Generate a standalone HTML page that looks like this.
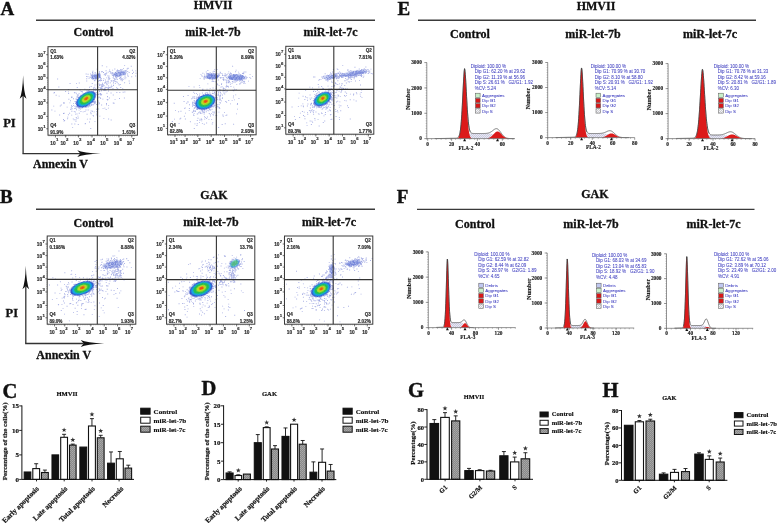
<!DOCTYPE html>
<html><head><meta charset="utf-8"><title>Figure</title>
<style>html,body{margin:0;padding:0;background:#fff;width:778px;height:523px;overflow:hidden}svg{display:block;filter:blur(0.35px)}</style>
</head><body>
<svg width="778" height="523" viewBox="0 0 778 523">
<rect width="778" height="523" fill="#fff"/>
<defs><filter id="bl1" x="-50%" y="-50%" width="200%" height="200%"><feGaussianBlur stdDeviation="0.65"/></filter><filter id="bl05"><feGaussianBlur stdDeviation="0.4"/></filter></defs>
<text x="0.5" y="15.2" font-family="'Liberation Serif', serif" font-size="19" font-weight="bold" fill="#111" text-anchor="start" stroke="#111" stroke-width="0.4">A</text>
<text x="213.0" y="9.3" font-family="'Liberation Serif', serif" font-size="12" font-weight="bold" fill="#111" text-anchor="middle" stroke="#111" stroke-width="0.3">HMVII</text>
<line x1="36.00" y1="20.20" x2="375.00" y2="20.20" stroke="#3a3a3a" stroke-width="1.4" />
<text x="93.5" y="36.3" font-family="'Liberation Serif', serif" font-size="12" font-weight="bold" fill="#111" text-anchor="middle" stroke="#111" stroke-width="0.3">Control</text>
<text x="213.0" y="36.3" font-family="'Liberation Serif', serif" font-size="12" font-weight="bold" fill="#111" text-anchor="middle" stroke="#111" stroke-width="0.3">miR-let-7b</text>
<text x="330.5" y="36.3" font-family="'Liberation Serif', serif" font-size="12" font-weight="bold" fill="#111" text-anchor="middle" stroke="#111" stroke-width="0.3">miR-let-7c</text>
<g>
<path d="M86.5 96.0h.9v.9h-.9zM90.2 95.5h.9v.9h-.9zM86.7 96.4h.9v.9h-.9zM77.0 102.1h.9v.9h-.9zM91.4 96.2h.9v.9h-.9zM87.8 96.6h.9v.9h-.9zM86.4 106.2h.9v.9h-.9zM89.3 97.0h.9v.9h-.9zM88.8 99.0h.9v.9h-.9zM89.9 101.3h.9v.9h-.9zM85.5 98.2h.9v.9h-.9zM92.4 102.0h.9v.9h-.9zM80.4 100.1h.9v.9h-.9zM83.2 97.2h.9v.9h-.9zM82.4 100.0h.9v.9h-.9zM89.1 96.6h.9v.9h-.9zM82.9 94.4h.9v.9h-.9zM84.3 100.3h.9v.9h-.9zM77.7 96.8h.9v.9h-.9zM87.8 105.0h.9v.9h-.9zM85.9 99.0h.9v.9h-.9zM82.9 98.2h.9v.9h-.9zM91.1 91.2h.9v.9h-.9zM90.7 94.1h.9v.9h-.9zM70.3 109.2h.9v.9h-.9zM73.0 103.2h.9v.9h-.9zM82.9 96.9h.9v.9h-.9zM83.2 100.3h.9v.9h-.9zM86.0 96.7h.9v.9h-.9zM89.4 101.6h.9v.9h-.9zM100.5 94.8h.9v.9h-.9zM79.8 103.7h.9v.9h-.9zM85.0 102.4h.9v.9h-.9zM94.3 86.8h.9v.9h-.9zM91.1 98.9h.9v.9h-.9zM89.6 96.6h.9v.9h-.9zM84.3 102.9h.9v.9h-.9zM80.5 111.1h.9v.9h-.9zM81.6 91.0h.9v.9h-.9zM87.2 99.7h.9v.9h-.9zM76.5 100.4h.9v.9h-.9zM83.6 104.0h.9v.9h-.9zM82.5 95.2h.9v.9h-.9zM79.5 101.3h.9v.9h-.9zM85.9 100.4h.9v.9h-.9zM88.0 101.0h.9v.9h-.9zM86.4 99.4h.9v.9h-.9zM81.3 98.6h.9v.9h-.9zM88.0 95.1h.9v.9h-.9zM93.1 98.8h.9v.9h-.9zM87.8 98.0h.9v.9h-.9zM77.5 96.9h.9v.9h-.9zM92.1 99.3h.9v.9h-.9zM84.2 102.7h.9v.9h-.9zM93.0 98.8h.9v.9h-.9zM79.2 102.4h.9v.9h-.9zM93.1 98.5h.9v.9h-.9zM83.4 95.8h.9v.9h-.9zM80.3 106.1h.9v.9h-.9zM83.1 98.9h.9v.9h-.9zM87.9 101.4h.9v.9h-.9zM89.9 101.6h.9v.9h-.9zM78.8 100.7h.9v.9h-.9zM79.7 103.5h.9v.9h-.9zM87.2 98.6h.9v.9h-.9zM86.2 105.1h.9v.9h-.9zM89.0 100.8h.9v.9h-.9zM87.4 92.2h.9v.9h-.9zM77.8 107.3h.9v.9h-.9zM89.2 100.8h.9v.9h-.9zM97.9 101.6h.9v.9h-.9zM80.4 94.8h.9v.9h-.9zM80.2 100.7h.9v.9h-.9zM93.4 100.8h.9v.9h-.9zM84.2 93.8h.9v.9h-.9zM88.2 91.8h.9v.9h-.9zM85.3 102.4h.9v.9h-.9zM80.1 108.5h.9v.9h-.9zM83.8 97.5h.9v.9h-.9zM84.8 102.9h.9v.9h-.9zM90.6 96.7h.9v.9h-.9zM90.7 103.6h.9v.9h-.9zM76.9 105.7h.9v.9h-.9zM81.6 107.3h.9v.9h-.9zM88.8 92.8h.9v.9h-.9zM89.4 96.0h.9v.9h-.9zM82.2 101.5h.9v.9h-.9zM88.7 103.1h.9v.9h-.9zM89.9 99.5h.9v.9h-.9zM86.9 94.9h.9v.9h-.9zM92.5 98.2h.9v.9h-.9zM89.2 100.9h.9v.9h-.9zM85.2 99.3h.9v.9h-.9zM83.9 99.5h.9v.9h-.9zM91.5 94.5h.9v.9h-.9zM69.4 102.4h.9v.9h-.9zM85.7 100.5h.9v.9h-.9zM86.7 100.0h.9v.9h-.9zM76.0 102.0h.9v.9h-.9zM89.6 100.5h.9v.9h-.9zM79.1 97.2h.9v.9h-.9zM89.5 94.1h.9v.9h-.9zM84.2 98.2h.9v.9h-.9zM94.4 103.3h.9v.9h-.9zM89.1 89.1h.9v.9h-.9zM89.5 99.7h.9v.9h-.9zM83.3 105.9h.9v.9h-.9zM78.4 106.5h.9v.9h-.9zM98.6 96.4h.9v.9h-.9zM83.0 96.4h.9v.9h-.9zM76.8 94.3h.9v.9h-.9zM88.6 101.3h.9v.9h-.9zM82.1 96.0h.9v.9h-.9zM90.0 94.9h.9v.9h-.9zM83.4 95.2h.9v.9h-.9zM88.6 102.8h.9v.9h-.9zM84.0 105.0h.9v.9h-.9zM86.9 95.0h.9v.9h-.9zM82.3 106.4h.9v.9h-.9zM90.0 97.1h.9v.9h-.9zM94.2 92.9h.9v.9h-.9zM77.6 105.5h.9v.9h-.9zM71.7 108.3h.9v.9h-.9zM90.9 98.9h.9v.9h-.9zM101.0 90.3h.9v.9h-.9zM79.6 102.1h.9v.9h-.9zM81.4 107.6h.9v.9h-.9zM87.9 94.9h.9v.9h-.9zM82.0 103.6h.9v.9h-.9zM84.2 102.7h.9v.9h-.9zM87.5 105.6h.9v.9h-.9zM87.8 95.5h.9v.9h-.9zM87.8 106.7h.9v.9h-.9zM88.0 98.8h.9v.9h-.9zM84.6 99.3h.9v.9h-.9zM79.7 100.4h.9v.9h-.9zM85.6 102.5h.9v.9h-.9zM80.8 103.2h.9v.9h-.9zM83.4 95.6h.9v.9h-.9zM77.1 99.9h.9v.9h-.9zM78.6 101.7h.9v.9h-.9zM92.6 91.3h.9v.9h-.9zM88.3 103.2h.9v.9h-.9zM88.9 104.1h.9v.9h-.9zM90.9 100.2h.9v.9h-.9zM84.5 102.2h.9v.9h-.9zM83.7 98.8h.9v.9h-.9zM88.5 97.8h.9v.9h-.9zM89.7 101.2h.9v.9h-.9zM84.5 111.0h.9v.9h-.9zM92.8 99.1h.9v.9h-.9zM82.0 100.7h.9v.9h-.9zM80.2 103.6h.9v.9h-.9zM79.8 101.2h.9v.9h-.9zM82.0 98.2h.9v.9h-.9zM94.7 92.3h.9v.9h-.9zM79.9 104.6h.9v.9h-.9zM91.2 104.8h.9v.9h-.9zM74.1 107.9h.9v.9h-.9zM89.2 103.9h.9v.9h-.9zM95.2 101.7h.9v.9h-.9zM84.9 100.5h.9v.9h-.9zM86.3 107.2h.9v.9h-.9zM89.0 100.8h.9v.9h-.9zM88.9 95.2h.9v.9h-.9zM90.3 97.6h.9v.9h-.9zM97.1 91.6h.9v.9h-.9zM86.6 97.7h.9v.9h-.9zM82.2 101.0h.9v.9h-.9zM85.6 100.3h.9v.9h-.9zM86.6 101.0h.9v.9h-.9zM84.5 95.9h.9v.9h-.9zM85.8 99.4h.9v.9h-.9zM83.4 93.5h.9v.9h-.9zM77.3 106.7h.9v.9h-.9zM92.1 98.1h.9v.9h-.9zM83.2 102.1h.9v.9h-.9zM80.1 104.9h.9v.9h-.9zM91.0 98.8h.9v.9h-.9zM91.8 91.9h.9v.9h-.9zM88.2 96.6h.9v.9h-.9zM88.1 100.4h.9v.9h-.9zM83.1 106.3h.9v.9h-.9zM103.0 89.4h.9v.9h-.9zM96.9 104.4h.9v.9h-.9zM79.4 103.5h.9v.9h-.9zM84.0 105.7h.9v.9h-.9zM89.5 103.2h.9v.9h-.9zM77.0 105.0h.9v.9h-.9zM85.0 95.9h.9v.9h-.9zM80.6 97.1h.9v.9h-.9zM93.3 95.0h.9v.9h-.9zM94.0 99.3h.9v.9h-.9zM71.4 110.8h.9v.9h-.9zM86.6 99.7h.9v.9h-.9zM76.0 104.4h.9v.9h-.9zM93.5 96.8h.9v.9h-.9zM81.9 91.5h.9v.9h-.9zM89.6 97.9h.9v.9h-.9zM80.1 103.6h.9v.9h-.9zM93.0 87.5h.9v.9h-.9zM102.4 98.7h.9v.9h-.9zM76.8 98.8h.9v.9h-.9zM85.6 94.2h.9v.9h-.9zM79.4 97.9h.9v.9h-.9zM88.5 103.1h.9v.9h-.9zM76.8 101.3h.9v.9h-.9zM98.0 94.2h.9v.9h-.9zM82.0 105.1h.9v.9h-.9zM85.0 101.3h.9v.9h-.9zM85.7 92.9h.9v.9h-.9zM80.9 99.8h.9v.9h-.9zM88.6 105.9h.9v.9h-.9zM79.8 97.2h.9v.9h-.9zM83.3 97.0h.9v.9h-.9zM79.1 103.3h.9v.9h-.9zM85.4 103.7h.9v.9h-.9zM85.4 101.0h.9v.9h-.9zM85.9 103.1h.9v.9h-.9zM83.8 95.5h.9v.9h-.9zM86.6 103.6h.9v.9h-.9zM91.6 98.3h.9v.9h-.9zM80.4 95.2h.9v.9h-.9zM88.9 105.0h.9v.9h-.9zM87.7 109.6h.9v.9h-.9zM81.2 98.8h.9v.9h-.9zM79.0 104.4h.9v.9h-.9zM92.2 102.0h.9v.9h-.9zM76.1 98.8h.9v.9h-.9zM77.1 95.5h.9v.9h-.9zM85.0 93.5h.9v.9h-.9zM86.9 95.8h.9v.9h-.9zM82.4 98.9h.9v.9h-.9zM76.1 109.3h.9v.9h-.9zM89.0 98.6h.9v.9h-.9zM84.5 94.1h.9v.9h-.9zM79.4 106.7h.9v.9h-.9zM94.7 102.6h.9v.9h-.9zM84.9 106.1h.9v.9h-.9zM82.0 107.0h.9v.9h-.9zM86.6 99.0h.9v.9h-.9zM87.3 103.3h.9v.9h-.9zM84.9 95.3h.9v.9h-.9zM78.8 108.1h.9v.9h-.9zM95.9 91.9h.9v.9h-.9zM85.3 105.5h.9v.9h-.9zM78.5 106.9h.9v.9h-.9zM86.9 93.2h.9v.9h-.9zM84.3 101.1h.9v.9h-.9zM90.7 102.1h.9v.9h-.9zM81.4 96.8h.9v.9h-.9zM84.4 97.7h.9v.9h-.9zM85.6 95.8h.9v.9h-.9zM78.3 97.2h.9v.9h-.9zM92.1 99.9h.9v.9h-.9zM86.5 105.5h.9v.9h-.9zM83.0 105.4h.9v.9h-.9zM87.0 99.8h.9v.9h-.9zM88.4 97.4h.9v.9h-.9zM85.3 101.0h.9v.9h-.9zM79.4 100.2h.9v.9h-.9zM91.6 99.9h.9v.9h-.9zM78.6 109.7h.9v.9h-.9zM82.4 106.5h.9v.9h-.9zM85.0 97.4h.9v.9h-.9zM78.6 104.9h.9v.9h-.9zM85.8 98.6h.9v.9h-.9zM89.9 105.5h.9v.9h-.9zM91.5 96.4h.9v.9h-.9zM76.4 96.6h.9v.9h-.9zM83.4 103.1h.9v.9h-.9zM92.3 104.3h.9v.9h-.9zM73.8 111.2h.9v.9h-.9zM105.4 90.1h.9v.9h-.9zM82.2 102.2h.9v.9h-.9zM77.3 95.5h.9v.9h-.9zM86.6 89.8h.9v.9h-.9zM82.8 95.3h.9v.9h-.9zM75.7 105.9h.9v.9h-.9zM90.2 97.9h.9v.9h-.9zM92.4 98.3h.9v.9h-.9zM82.7 99.9h.9v.9h-.9zM86.7 103.6h.9v.9h-.9zM88.1 96.5h.9v.9h-.9zM79.3 100.5h.9v.9h-.9zM90.5 100.4h.9v.9h-.9zM85.0 95.4h.9v.9h-.9zM75.8 92.8h.9v.9h-.9zM75.7 101.2h.9v.9h-.9zM85.0 100.5h.9v.9h-.9zM73.9 92.4h.9v.9h-.9zM90.8 94.2h.9v.9h-.9zM86.0 97.6h.9v.9h-.9zM87.0 91.4h.9v.9h-.9zM83.3 93.8h.9v.9h-.9zM86.4 96.7h.9v.9h-.9zM80.3 100.5h.9v.9h-.9zM92.7 100.9h.9v.9h-.9zM96.9 93.6h.9v.9h-.9zM80.5 95.2h.9v.9h-.9zM71.3 114.7h.9v.9h-.9zM92.6 114.9h.9v.9h-.9zM108.9 97.5h.9v.9h-.9zM88.3 90.0h.9v.9h-.9zM87.3 104.6h.9v.9h-.9zM108.5 87.1h.9v.9h-.9zM82.7 101.5h.9v.9h-.9zM78.8 82.6h.9v.9h-.9zM63.7 102.6h.9v.9h-.9zM76.0 83.2h.9v.9h-.9zM112.8 102.5h.9v.9h-.9zM63.6 120.5h.9v.9h-.9zM83.2 102.2h.9v.9h-.9zM63.7 112.8h.9v.9h-.9zM84.8 98.4h.9v.9h-.9zM95.1 95.8h.9v.9h-.9zM79.7 89.6h.9v.9h-.9zM93.0 115.6h.9v.9h-.9zM92.9 104.3h.9v.9h-.9zM89.1 121.5h.9v.9h-.9zM106.5 92.8h.9v.9h-.9zM93.7 102.6h.9v.9h-.9zM78.8 105.7h.9v.9h-.9zM73.7 119.3h.9v.9h-.9zM71.4 123.5h.9v.9h-.9zM89.5 98.2h.9v.9h-.9zM78.6 93.2h.9v.9h-.9zM120.3 87.0h.9v.9h-.9zM108.2 118.5h.9v.9h-.9zM80.1 103.9h.9v.9h-.9zM78.5 98.2h.9v.9h-.9zM106.1 104.3h.9v.9h-.9zM57.2 78.6h.9v.9h-.9zM76.8 87.1h.9v.9h-.9zM96.0 114.4h.9v.9h-.9zM70.5 108.8h.9v.9h-.9zM76.5 106.3h.9v.9h-.9zM78.2 94.5h.9v.9h-.9zM92.0 110.8h.9v.9h-.9zM84.9 123.0h.9v.9h-.9zM88.5 92.2h.9v.9h-.9zM91.1 104.9h.9v.9h-.9zM83.4 100.3h.9v.9h-.9zM98.2 108.5h.9v.9h-.9zM73.0 104.9h.9v.9h-.9zM63.4 103.2h.9v.9h-.9zM58.7 95.7h.9v.9h-.9zM60.8 104.6h.9v.9h-.9zM75.5 98.5h.9v.9h-.9zM97.1 103.2h.9v.9h-.9zM85.4 104.1h.9v.9h-.9zM74.8 111.5h.9v.9h-.9zM68.4 98.8h.9v.9h-.9zM75.8 101.4h.9v.9h-.9zM77.5 115.7h.9v.9h-.9zM75.3 102.5h.9v.9h-.9zM63.4 102.1h.9v.9h-.9zM76.5 113.6h.9v.9h-.9zM96.9 107.5h.9v.9h-.9zM53.3 105.7h.9v.9h-.9zM79.7 107.0h.9v.9h-.9zM54.0 92.0h.9v.9h-.9zM85.5 109.5h.9v.9h-.9zM72.8 118.4h.9v.9h-.9zM54.5 110.7h.9v.9h-.9zM84.4 88.8h.9v.9h-.9zM107.9 107.7h.9v.9h-.9zM84.5 95.5h.9v.9h-.9zM98.9 102.5h.9v.9h-.9zM82.0 106.2h.9v.9h-.9zM53.5 92.6h.9v.9h-.9zM89.7 118.5h.9v.9h-.9zM77.3 104.2h.9v.9h-.9zM63.0 113.0h.9v.9h-.9zM93.7 111.4h.9v.9h-.9zM86.9 118.7h.9v.9h-.9zM75.8 117.1h.9v.9h-.9zM94.9 89.8h.9v.9h-.9zM71.1 105.3h.9v.9h-.9zM91.8 83.0h.9v.9h-.9zM70.1 100.3h.9v.9h-.9zM90.3 112.3h.9v.9h-.9zM67.9 114.3h.9v.9h-.9zM103.4 118.2h.9v.9h-.9zM86.5 101.1h.9v.9h-.9zM102.6 108.2h.9v.9h-.9zM71.7 106.0h.9v.9h-.9zM76.5 117.9h.9v.9h-.9zM94.5 121.2h.9v.9h-.9zM97.1 104.9h.9v.9h-.9zM89.4 101.2h.9v.9h-.9zM96.4 111.1h.9v.9h-.9zM78.8 112.8h.9v.9h-.9zM90.7 110.6h.9v.9h-.9zM73.0 98.3h.9v.9h-.9zM64.2 120.1h.9v.9h-.9zM59.8 105.6h.9v.9h-.9zM75.5 120.8h.9v.9h-.9zM75.5 119.3h.9v.9h-.9zM74.4 92.0h.9v.9h-.9zM55.7 94.8h.9v.9h-.9zM75.7 107.6h.9v.9h-.9zM86.9 105.6h.9v.9h-.9zM75.1 107.8h.9v.9h-.9zM71.0 96.8h.9v.9h-.9zM51.4 109.5h.9v.9h-.9zM110.7 119.5h.9v.9h-.9zM67.9 91.4h.9v.9h-.9zM106.0 103.1h.9v.9h-.9zM104.4 107.7h.9v.9h-.9zM86.7 103.8h.9v.9h-.9zM75.2 103.1h.9v.9h-.9zM84.8 123.3h.9v.9h-.9zM67.2 118.3h.9v.9h-.9zM86.6 113.8h.9v.9h-.9zM83.0 97.3h.9v.9h-.9zM90.3 128.1h.9v.9h-.9zM96.0 108.8h.9v.9h-.9zM106.7 99.2h.9v.9h-.9zM77.7 101.7h.9v.9h-.9zM97.3 100.1h.9v.9h-.9zM72.2 126.9h.9v.9h-.9zM70.8 107.3h.9v.9h-.9zM74.5 105.8h.9v.9h-.9zM69.6 83.1h.9v.9h-.9zM96.4 112.7h.9v.9h-.9zM95.6 94.3h.9v.9h-.9zM100.4 93.6h.9v.9h-.9zM82.7 111.4h.9v.9h-.9zM86.8 96.3h.9v.9h-.9zM75.1 113.7h.9v.9h-.9zM67.3 116.7h.9v.9h-.9zM89.1 86.8h.9v.9h-.9zM86.7 103.8h.9v.9h-.9zM67.9 89.0h.9v.9h-.9zM91.0 104.5h.9v.9h-.9zM59.2 114.5h.9v.9h-.9zM80.6 91.2h.9v.9h-.9zM74.4 123.6h.9v.9h-.9zM75.8 102.0h.9v.9h-.9zM68.2 93.0h.9v.9h-.9zM96.0 103.9h.9v.9h-.9zM90.7 113.3h.9v.9h-.9zM99.2 91.0h.9v.9h-.9zM84.8 105.2h.9v.9h-.9zM65.2 91.1h.9v.9h-.9zM77.8 117.5h.9v.9h-.9zM66.7 106.7h.9v.9h-.9zM89.1 100.8h.9v.9h-.9zM99.4 115.7h.9v.9h-.9zM87.3 91.9h.9v.9h-.9zM74.6 101.1h.9v.9h-.9zM77.8 124.0h.9v.9h-.9zM85.6 103.8h.9v.9h-.9zM63.0 119.0h.9v.9h-.9zM84.8 107.1h.9v.9h-.9zM85.5 97.9h.9v.9h-.9zM75.3 102.6h.9v.9h-.9zM77.1 105.9h.9v.9h-.9zM85.1 100.9h.9v.9h-.9zM71.5 96.6h.9v.9h-.9zM71.5 97.1h.9v.9h-.9zM93.4 89.9h.9v.9h-.9zM85.8 106.2h.9v.9h-.9zM105.7 109.1h.9v.9h-.9zM69.2 112.8h.9v.9h-.9zM58.4 86.6h.9v.9h-.9zM100.0 80.4h.9v.9h-.9zM95.8 75.8h.9v.9h-.9zM90.3 76.9h.9v.9h-.9zM96.5 76.8h.9v.9h-.9zM99.0 74.9h.9v.9h-.9zM97.7 74.4h.9v.9h-.9zM98.8 75.7h.9v.9h-.9zM100.0 77.1h.9v.9h-.9zM99.7 76.7h.9v.9h-.9zM96.1 77.9h.9v.9h-.9zM87.5 76.3h.9v.9h-.9zM92.6 75.0h.9v.9h-.9zM98.0 79.7h.9v.9h-.9zM94.0 75.8h.9v.9h-.9zM98.8 76.5h.9v.9h-.9zM99.3 76.9h.9v.9h-.9zM96.6 78.8h.9v.9h-.9zM102.9 72.0h.9v.9h-.9zM91.9 75.7h.9v.9h-.9zM99.4 74.5h.9v.9h-.9zM94.0 75.7h.9v.9h-.9zM92.0 71.8h.9v.9h-.9zM98.2 75.4h.9v.9h-.9zM92.5 70.7h.9v.9h-.9zM99.4 76.0h.9v.9h-.9zM91.5 77.9h.9v.9h-.9zM96.3 77.1h.9v.9h-.9zM92.2 74.2h.9v.9h-.9zM95.3 78.0h.9v.9h-.9zM94.2 74.6h.9v.9h-.9zM91.0 74.4h.9v.9h-.9zM98.2 73.6h.9v.9h-.9zM90.7 75.2h.9v.9h-.9zM92.1 77.0h.9v.9h-.9zM99.7 77.0h.9v.9h-.9zM99.0 71.2h.9v.9h-.9zM98.4 74.5h.9v.9h-.9zM97.6 77.5h.9v.9h-.9zM105.0 74.8h.9v.9h-.9zM91.3 77.8h.9v.9h-.9zM92.5 73.6h.9v.9h-.9zM92.3 78.6h.9v.9h-.9zM98.9 72.3h.9v.9h-.9zM97.1 76.2h.9v.9h-.9zM100.8 77.9h.9v.9h-.9zM100.4 79.0h.9v.9h-.9zM95.2 77.2h.9v.9h-.9zM93.0 78.3h.9v.9h-.9zM91.8 75.5h.9v.9h-.9zM104.5 73.5h.9v.9h-.9zM100.2 77.6h.9v.9h-.9zM98.3 75.6h.9v.9h-.9zM94.6 76.0h.9v.9h-.9zM94.7 73.4h.9v.9h-.9zM94.6 76.5h.9v.9h-.9zM94.9 77.5h.9v.9h-.9zM86.2 76.1h.9v.9h-.9zM95.5 75.1h.9v.9h-.9zM95.0 79.4h.9v.9h-.9zM97.1 76.2h.9v.9h-.9zM96.7 75.3h.9v.9h-.9zM98.9 73.2h.9v.9h-.9zM95.7 74.8h.9v.9h-.9zM99.0 75.0h.9v.9h-.9zM86.3 80.5h.9v.9h-.9zM91.4 75.6h.9v.9h-.9zM103.4 78.3h.9v.9h-.9zM90.8 75.0h.9v.9h-.9zM94.7 75.5h.9v.9h-.9zM99.0 77.2h.9v.9h-.9zM92.4 76.1h.9v.9h-.9zM98.5 73.9h.9v.9h-.9zM90.3 76.7h.9v.9h-.9zM88.6 78.2h.9v.9h-.9zM90.1 73.6h.9v.9h-.9zM89.3 76.7h.9v.9h-.9zM95.8 75.8h.9v.9h-.9zM94.6 75.4h.9v.9h-.9zM97.5 77.2h.9v.9h-.9zM91.7 75.6h.9v.9h-.9zM115.1 72.0h.9v.9h-.9zM118.0 72.1h.9v.9h-.9zM123.4 74.2h.9v.9h-.9zM116.5 74.0h.9v.9h-.9zM127.6 67.8h.9v.9h-.9zM111.6 73.9h.9v.9h-.9zM127.2 73.5h.9v.9h-.9zM113.3 80.2h.9v.9h-.9zM116.2 70.4h.9v.9h-.9zM120.7 74.0h.9v.9h-.9zM131.9 69.8h.9v.9h-.9zM124.6 74.6h.9v.9h-.9zM115.5 75.4h.9v.9h-.9zM127.8 75.9h.9v.9h-.9zM116.9 75.3h.9v.9h-.9zM112.2 73.1h.9v.9h-.9zM120.7 71.3h.9v.9h-.9zM118.9 74.6h.9v.9h-.9zM124.8 73.3h.9v.9h-.9zM115.7 81.3h.9v.9h-.9zM121.7 77.9h.9v.9h-.9zM121.6 69.1h.9v.9h-.9zM120.1 74.1h.9v.9h-.9zM117.0 69.6h.9v.9h-.9zM112.2 69.7h.9v.9h-.9zM124.7 74.4h.9v.9h-.9zM119.3 74.9h.9v.9h-.9zM120.8 69.7h.9v.9h-.9zM116.6 78.8h.9v.9h-.9zM117.5 70.6h.9v.9h-.9zM110.2 71.6h.9v.9h-.9zM119.0 75.3h.9v.9h-.9zM123.4 73.0h.9v.9h-.9zM118.5 72.9h.9v.9h-.9zM123.8 72.1h.9v.9h-.9zM120.3 73.7h.9v.9h-.9zM127.3 71.1h.9v.9h-.9zM116.6 73.3h.9v.9h-.9zM105.6 70.3h.9v.9h-.9zM120.1 68.9h.9v.9h-.9zM117.3 75.5h.9v.9h-.9zM110.9 72.9h.9v.9h-.9zM122.8 74.2h.9v.9h-.9zM120.6 76.7h.9v.9h-.9zM120.8 71.8h.9v.9h-.9zM115.9 74.8h.9v.9h-.9zM120.6 79.3h.9v.9h-.9zM120.2 75.2h.9v.9h-.9zM131.3 76.3h.9v.9h-.9zM114.3 79.0h.9v.9h-.9zM118.4 75.7h.9v.9h-.9zM120.4 72.6h.9v.9h-.9zM105.7 73.5h.9v.9h-.9zM106.3 72.6h.9v.9h-.9zM133.1 71.8h.9v.9h-.9zM106.2 77.4h.9v.9h-.9zM121.8 72.2h.9v.9h-.9zM112.7 77.2h.9v.9h-.9zM112.4 72.8h.9v.9h-.9zM105.1 79.6h.9v.9h-.9zM111.9 74.9h.9v.9h-.9zM123.3 72.3h.9v.9h-.9zM108.5 75.5h.9v.9h-.9zM122.0 72.3h.9v.9h-.9zM121.7 80.3h.9v.9h-.9zM130.8 65.8h.9v.9h-.9zM114.9 74.7h.9v.9h-.9zM127.4 75.3h.9v.9h-.9zM124.5 74.3h.9v.9h-.9zM115.8 73.0h.9v.9h-.9zM107.7 81.0h.9v.9h-.9zM127.7 68.2h.9v.9h-.9zM107.8 71.7h.9v.9h-.9zM115.1 75.9h.9v.9h-.9zM123.1 67.9h.9v.9h-.9zM124.2 64.9h.9v.9h-.9zM112.8 77.3h.9v.9h-.9zM118.3 75.8h.9v.9h-.9zM116.7 76.0h.9v.9h-.9zM125.8 70.3h.9v.9h-.9zM135.3 70.4h.9v.9h-.9zM104.9 73.3h.9v.9h-.9zM125.4 77.3h.9v.9h-.9zM98.9 80.0h.9v.9h-.9zM118.6 75.7h.9v.9h-.9zM109.2 69.4h.9v.9h-.9zM132.1 73.0h.9v.9h-.9zM120.1 77.6h.9v.9h-.9zM113.7 78.1h.9v.9h-.9zM115.1 76.5h.9v.9h-.9zM114.1 74.3h.9v.9h-.9zM119.1 72.2h.9v.9h-.9zM117.3 75.5h.9v.9h-.9zM122.7 73.7h.9v.9h-.9zM128.7 72.0h.9v.9h-.9zM122.6 71.6h.9v.9h-.9zM110.7 80.2h.9v.9h-.9zM106.2 72.4h.9v.9h-.9zM112.8 74.5h.9v.9h-.9zM124.8 70.3h.9v.9h-.9zM116.3 77.0h.9v.9h-.9zM114.3 78.7h.9v.9h-.9zM119.7 76.9h.9v.9h-.9zM108.8 77.8h.9v.9h-.9zM109.3 71.0h.9v.9h-.9zM122.8 78.9h.9v.9h-.9zM116.2 75.5h.9v.9h-.9zM114.8 73.8h.9v.9h-.9zM120.2 73.1h.9v.9h-.9zM113.8 73.4h.9v.9h-.9zM116.2 87.3h.9v.9h-.9zM115.1 78.7h.9v.9h-.9zM108.4 76.8h.9v.9h-.9zM86.3 78.3h.9v.9h-.9zM111.6 72.0h.9v.9h-.9zM116.8 81.8h.9v.9h-.9zM117.3 87.9h.9v.9h-.9zM110.5 86.8h.9v.9h-.9zM116.5 70.6h.9v.9h-.9zM122.3 88.2h.9v.9h-.9zM107.3 75.4h.9v.9h-.9zM126.7 68.5h.9v.9h-.9zM92.4 72.6h.9v.9h-.9zM99.4 74.2h.9v.9h-.9zM102.9 80.0h.9v.9h-.9zM87.6 73.8h.9v.9h-.9zM102.0 70.9h.9v.9h-.9zM124.5 78.4h.9v.9h-.9zM124.4 91.5h.9v.9h-.9zM113.0 75.8h.9v.9h-.9zM129.2 82.8h.9v.9h-.9zM114.4 80.5h.9v.9h-.9zM107.0 95.9h.9v.9h-.9zM114.4 68.6h.9v.9h-.9zM110.6 86.6h.9v.9h-.9zM119.4 72.3h.9v.9h-.9zM97.0 76.4h.9v.9h-.9zM122.0 79.4h.9v.9h-.9zM107.4 99.1h.9v.9h-.9zM120.6 75.4h.9v.9h-.9zM96.6 68.7h.9v.9h-.9zM107.8 87.8h.9v.9h-.9zM112.8 75.0h.9v.9h-.9zM121.0 78.5h.9v.9h-.9zM99.8 79.9h.9v.9h-.9zM128.7 80.6h.9v.9h-.9zM116.8 79.0h.9v.9h-.9zM106.7 81.6h.9v.9h-.9zM124.2 82.3h.9v.9h-.9zM113.0 85.1h.9v.9h-.9zM123.6 77.4h.9v.9h-.9zM135.2 75.5h.9v.9h-.9zM119.7 73.6h.9v.9h-.9zM106.7 83.6h.9v.9h-.9zM107.7 79.7h.9v.9h-.9zM117.8 83.3h.9v.9h-.9zM114.9 83.2h.9v.9h-.9zM103.7 90.1h.9v.9h-.9zM105.3 81.2h.9v.9h-.9zM118.7 84.5h.9v.9h-.9zM135.5 72.8h.9v.9h-.9zM85.7 73.5h.9v.9h-.9zM119.2 78.1h.9v.9h-.9zM109.9 72.7h.9v.9h-.9zM119.8 84.1h.9v.9h-.9zM120.7 72.0h.9v.9h-.9zM112.5 80.4h.9v.9h-.9zM101.8 65.3h.9v.9h-.9zM98.0 73.4h.9v.9h-.9zM93.3 78.0h.9v.9h-.9zM106.1 86.9h.9v.9h-.9zM110.0 82.4h.9v.9h-.9zM99.2 90.7h.9v.9h-.9zM105.1 88.9h.9v.9h-.9zM105.3 86.7h.9v.9h-.9zM98.7 93.6h.9v.9h-.9zM111.2 80.5h.9v.9h-.9zM102.1 86.0h.9v.9h-.9zM97.9 97.4h.9v.9h-.9zM115.9 77.7h.9v.9h-.9zM100.2 88.0h.9v.9h-.9zM101.2 86.6h.9v.9h-.9zM105.7 83.2h.9v.9h-.9zM107.9 77.7h.9v.9h-.9zM97.5 86.4h.9v.9h-.9zM93.5 101.6h.9v.9h-.9zM105.0 87.7h.9v.9h-.9zM102.1 82.8h.9v.9h-.9zM95.3 88.2h.9v.9h-.9zM101.0 88.1h.9v.9h-.9zM110.8 80.5h.9v.9h-.9zM103.7 85.3h.9v.9h-.9zM100.6 84.6h.9v.9h-.9zM114.8 80.9h.9v.9h-.9zM113.1 81.8h.9v.9h-.9zM104.1 82.5h.9v.9h-.9zM96.8 84.3h.9v.9h-.9zM100.4 87.0h.9v.9h-.9zM109.2 87.2h.9v.9h-.9zM106.5 84.3h.9v.9h-.9zM102.2 84.0h.9v.9h-.9zM108.5 87.4h.9v.9h-.9zM102.6 85.6h.9v.9h-.9zM98.6 87.2h.9v.9h-.9zM90.7 86.0h.9v.9h-.9zM93.9 95.7h.9v.9h-.9zM93.4 89.7h.9v.9h-.9zM96.8 94.5h.9v.9h-.9zM93.9 101.3h.9v.9h-.9zM103.1 84.4h.9v.9h-.9zM99.4 84.3h.9v.9h-.9zM103.8 88.3h.9v.9h-.9zM95.2 96.7h.9v.9h-.9zM106.5 83.5h.9v.9h-.9zM99.6 97.1h.9v.9h-.9zM87.9 97.9h.9v.9h-.9zM111.5 86.0h.9v.9h-.9zM113.6 80.3h.9v.9h-.9zM92.0 96.7h.9v.9h-.9zM108.1 88.6h.9v.9h-.9zM98.6 89.6h.9v.9h-.9zM101.2 93.9h.9v.9h-.9zM99.0 85.0h.9v.9h-.9zM101.9 87.8h.9v.9h-.9zM120.3 79.3h.9v.9h-.9zM104.5 87.5h.9v.9h-.9zM91.3 96.3h.9v.9h-.9zM108.6 79.0h.9v.9h-.9zM94.5 84.6h.9v.9h-.9zM100.9 85.6h.9v.9h-.9zM100.7 84.1h.9v.9h-.9zM98.2 80.9h.9v.9h-.9zM95.3 92.9h.9v.9h-.9zM104.1 89.3h.9v.9h-.9zM99.9 93.0h.9v.9h-.9zM102.0 82.9h.9v.9h-.9zM112.9 83.4h.9v.9h-.9zM93.6 88.6h.9v.9h-.9zM94.4 94.6h.9v.9h-.9zM99.9 94.2h.9v.9h-.9zM110.6 92.5h.9v.9h-.9zM108.3 82.5h.9v.9h-.9zM110.9 84.7h.9v.9h-.9zM101.2 104.5h.9v.9h-.9zM105.5 81.5h.9v.9h-.9zM108.2 104.9h.9v.9h-.9zM96.2 89.4h.9v.9h-.9zM94.1 101.8h.9v.9h-.9zM112.5 88.1h.9v.9h-.9zM100.2 98.0h.9v.9h-.9zM119.1 98.0h.9v.9h-.9zM94.4 80.3h.9v.9h-.9zM100.7 78.0h.9v.9h-.9zM113.6 102.8h.9v.9h-.9zM97.8 78.0h.9v.9h-.9zM107.0 96.4h.9v.9h-.9zM103.1 71.9h.9v.9h-.9zM102.1 84.5h.9v.9h-.9zM101.1 80.0h.9v.9h-.9zM124.6 75.9h.9v.9h-.9zM103.8 74.3h.9v.9h-.9zM97.3 103.8h.9v.9h-.9zM122.7 91.8h.9v.9h-.9zM98.6 83.5h.9v.9h-.9zM117.0 87.9h.9v.9h-.9zM114.6 98.9h.9v.9h-.9zM116.4 92.1h.9v.9h-.9zM118.2 69.9h.9v.9h-.9zM99.3 73.2h.9v.9h-.9zM94.8 100.8h.9v.9h-.9zM107.3 87.3h.9v.9h-.9zM107.7 88.6h.9v.9h-.9zM101.1 71.3h.9v.9h-.9zM119.4 70.2h.9v.9h-.9zM97.1 73.5h.9v.9h-.9zM109.4 77.9h.9v.9h-.9zM110.4 87.3h.9v.9h-.9zM93.9 79.8h.9v.9h-.9zM119.4 92.1h.9v.9h-.9zM105.0 82.2h.9v.9h-.9zM108.2 85.5h.9v.9h-.9zM98.7 103.3h.9v.9h-.9zM106.3 66.4h.9v.9h-.9zM108.0 90.5h.9v.9h-.9zM112.8 94.5h.9v.9h-.9zM94.7 72.0h.9v.9h-.9zM107.2 99.6h.9v.9h-.9zM109.2 69.7h.9v.9h-.9zM123.9 97.5h.9v.9h-.9zM112.5 72.5h.9v.9h-.9z" fill="#4858c8" fill-opacity="0.5"/>
<g filter="url(#bl1)" opacity="0.4" transform="translate(96.00 76.50) skewX(0) rotate(-15)">
<ellipse cx="0.00" cy="-0.00" rx="4.96" ry="2.48" fill="#2342c8" fill-opacity="0.9"/>
</g>
<g filter="url(#bl1)" opacity="0.35" transform="translate(120.00 73.50) skewX(0) rotate(-12)">
<ellipse cx="0.00" cy="-0.00" rx="6.98" ry="2.79" fill="#2342c8" fill-opacity="0.9"/>
</g>
<g filter="url(#bl1)" opacity="1.0" transform="translate(86.00 99.30) skewX(0) rotate(-35)">
<ellipse cx="0.00" cy="-0.00" rx="11.16" ry="6.35" fill="#2342c8" fill-opacity="0.9"/>
<ellipse cx="0.15" cy="-0.10" rx="9.65" ry="5.49" fill="#12a4e6" fill-opacity="1.0"/>
<ellipse cx="0.30" cy="-0.20" rx="7.78" ry="4.43" fill="#22c050" fill-opacity="1.0"/>
<ellipse cx="0.45" cy="-0.30" rx="4.75" ry="2.71" fill="#b8e020" fill-opacity="1.0"/>
<ellipse cx="0.60" cy="-0.40" rx="2.45" ry="1.39" fill="#ee4a12" fill-opacity="1.0"/>
</g>
<rect x="48.0" y="46.7" width="89.4" height="88.5" fill="none" stroke="#3a3a3a" stroke-width="1.0"/>
<line x1="97.60" y1="46.70" x2="97.60" y2="135.20" stroke="#333" stroke-width="1.1" />
<line x1="48.00" y1="89.70" x2="137.40" y2="89.70" stroke="#333" stroke-width="1.1" />
<text x="50.2" y="52.5" font-family="'Liberation Sans', sans-serif" font-size="4.6" font-weight="bold" fill="#2a2a2a" text-anchor="start" stroke="#2a2a2a" stroke-width="0.15">Q1</text>
<text x="50.2" y="59.3" font-family="'Liberation Sans', sans-serif" font-size="4.6" font-weight="bold" fill="#2a2a2a" text-anchor="start" stroke="#2a2a2a" stroke-width="0.15">1.63%</text>
<text x="135.4" y="52.5" font-family="'Liberation Sans', sans-serif" font-size="4.6" font-weight="bold" fill="#2a2a2a" text-anchor="end" stroke="#2a2a2a" stroke-width="0.15">Q2</text>
<text x="135.4" y="59.3" font-family="'Liberation Sans', sans-serif" font-size="4.6" font-weight="bold" fill="#2a2a2a" text-anchor="end" stroke="#2a2a2a" stroke-width="0.15">4.82%</text>
<text x="135.4" y="127.2" font-family="'Liberation Sans', sans-serif" font-size="4.6" font-weight="bold" fill="#2a2a2a" text-anchor="end" stroke="#2a2a2a" stroke-width="0.15">Q3</text>
<text x="135.4" y="133.6" font-family="'Liberation Sans', sans-serif" font-size="4.6" font-weight="bold" fill="#2a2a2a" text-anchor="end" stroke="#2a2a2a" stroke-width="0.15">1.61%</text>
<text x="50.2" y="127.2" font-family="'Liberation Sans', sans-serif" font-size="4.6" font-weight="bold" fill="#2a2a2a" text-anchor="start" stroke="#2a2a2a" stroke-width="0.15">Q4</text>
<text x="50.2" y="133.6" font-family="'Liberation Sans', sans-serif" font-size="4.6" font-weight="bold" fill="#2a2a2a" text-anchor="start" stroke="#2a2a2a" stroke-width="0.15">91.9%</text>
<line x1="46.20" y1="128.77" x2="48.00" y2="128.77" stroke="#333" stroke-width="0.7" />
<text x="43.0" y="131.0" font-family="'Liberation Sans', sans-serif" font-size="4.8" font-weight="bold" fill="#2a2a2a" text-anchor="end" stroke="#2a2a2a" stroke-width="0.15">10</text>
<text x="45.6" y="127.7" font-family="'Liberation Sans', sans-serif" font-size="4.3" font-weight="bold" fill="#2a2a2a" text-anchor="end" stroke="#2a2a2a" stroke-width="0.15">1</text>
<line x1="46.20" y1="116.38" x2="48.00" y2="116.38" stroke="#333" stroke-width="0.7" />
<text x="43.0" y="118.6" font-family="'Liberation Sans', sans-serif" font-size="4.8" font-weight="bold" fill="#2a2a2a" text-anchor="end" stroke="#2a2a2a" stroke-width="0.15">10</text>
<text x="45.6" y="115.3" font-family="'Liberation Sans', sans-serif" font-size="4.3" font-weight="bold" fill="#2a2a2a" text-anchor="end" stroke="#2a2a2a" stroke-width="0.15">2</text>
<line x1="46.20" y1="102.84" x2="48.00" y2="102.84" stroke="#333" stroke-width="0.7" />
<text x="43.0" y="105.0" font-family="'Liberation Sans', sans-serif" font-size="4.8" font-weight="bold" fill="#2a2a2a" text-anchor="end" stroke="#2a2a2a" stroke-width="0.15">10</text>
<text x="45.6" y="101.7" font-family="'Liberation Sans', sans-serif" font-size="4.3" font-weight="bold" fill="#2a2a2a" text-anchor="end" stroke="#2a2a2a" stroke-width="0.15">3</text>
<line x1="46.20" y1="89.56" x2="48.00" y2="89.56" stroke="#333" stroke-width="0.7" />
<text x="43.0" y="91.8" font-family="'Liberation Sans', sans-serif" font-size="4.8" font-weight="bold" fill="#2a2a2a" text-anchor="end" stroke="#2a2a2a" stroke-width="0.15">10</text>
<text x="45.6" y="88.5" font-family="'Liberation Sans', sans-serif" font-size="4.3" font-weight="bold" fill="#2a2a2a" text-anchor="end" stroke="#2a2a2a" stroke-width="0.15">4</text>
<line x1="46.20" y1="77.88" x2="48.00" y2="77.88" stroke="#333" stroke-width="0.7" />
<text x="43.0" y="80.1" font-family="'Liberation Sans', sans-serif" font-size="4.8" font-weight="bold" fill="#2a2a2a" text-anchor="end" stroke="#2a2a2a" stroke-width="0.15">10</text>
<text x="45.6" y="76.8" font-family="'Liberation Sans', sans-serif" font-size="4.3" font-weight="bold" fill="#2a2a2a" text-anchor="end" stroke="#2a2a2a" stroke-width="0.15">5</text>
<line x1="46.20" y1="66.38" x2="48.00" y2="66.38" stroke="#333" stroke-width="0.7" />
<text x="43.0" y="68.6" font-family="'Liberation Sans', sans-serif" font-size="4.8" font-weight="bold" fill="#2a2a2a" text-anchor="end" stroke="#2a2a2a" stroke-width="0.15">10</text>
<text x="45.6" y="65.3" font-family="'Liberation Sans', sans-serif" font-size="4.3" font-weight="bold" fill="#2a2a2a" text-anchor="end" stroke="#2a2a2a" stroke-width="0.15">6</text>
<line x1="46.20" y1="54.70" x2="48.00" y2="54.70" stroke="#333" stroke-width="0.7" />
<text x="43.0" y="56.9" font-family="'Liberation Sans', sans-serif" font-size="4.8" font-weight="bold" fill="#2a2a2a" text-anchor="end" stroke="#2a2a2a" stroke-width="0.15">10</text>
<text x="45.6" y="53.6" font-family="'Liberation Sans', sans-serif" font-size="4.3" font-weight="bold" fill="#2a2a2a" text-anchor="end" stroke="#2a2a2a" stroke-width="0.15">7</text>
<line x1="47.10" y1="48.70" x2="48.00" y2="48.70" stroke="#555" stroke-width="0.35" />
<line x1="47.10" y1="50.81" x2="48.00" y2="50.81" stroke="#555" stroke-width="0.35" />
<line x1="47.10" y1="52.93" x2="48.00" y2="52.93" stroke="#555" stroke-width="0.35" />
<line x1="47.10" y1="55.04" x2="48.00" y2="55.04" stroke="#555" stroke-width="0.35" />
<line x1="47.10" y1="57.15" x2="48.00" y2="57.15" stroke="#555" stroke-width="0.35" />
<line x1="47.10" y1="59.26" x2="48.00" y2="59.26" stroke="#555" stroke-width="0.35" />
<line x1="47.10" y1="61.38" x2="48.00" y2="61.38" stroke="#555" stroke-width="0.35" />
<line x1="47.10" y1="63.49" x2="48.00" y2="63.49" stroke="#555" stroke-width="0.35" />
<line x1="47.10" y1="65.60" x2="48.00" y2="65.60" stroke="#555" stroke-width="0.35" />
<line x1="47.10" y1="67.71" x2="48.00" y2="67.71" stroke="#555" stroke-width="0.35" />
<line x1="47.10" y1="69.83" x2="48.00" y2="69.83" stroke="#555" stroke-width="0.35" />
<line x1="47.10" y1="71.94" x2="48.00" y2="71.94" stroke="#555" stroke-width="0.35" />
<line x1="47.10" y1="74.05" x2="48.00" y2="74.05" stroke="#555" stroke-width="0.35" />
<line x1="47.10" y1="76.16" x2="48.00" y2="76.16" stroke="#555" stroke-width="0.35" />
<line x1="47.10" y1="78.28" x2="48.00" y2="78.28" stroke="#555" stroke-width="0.35" />
<line x1="47.10" y1="80.39" x2="48.00" y2="80.39" stroke="#555" stroke-width="0.35" />
<line x1="47.10" y1="82.50" x2="48.00" y2="82.50" stroke="#555" stroke-width="0.35" />
<line x1="47.10" y1="84.61" x2="48.00" y2="84.61" stroke="#555" stroke-width="0.35" />
<line x1="47.10" y1="86.72" x2="48.00" y2="86.72" stroke="#555" stroke-width="0.35" />
<line x1="47.10" y1="88.84" x2="48.00" y2="88.84" stroke="#555" stroke-width="0.35" />
<line x1="47.10" y1="90.95" x2="48.00" y2="90.95" stroke="#555" stroke-width="0.35" />
<line x1="47.10" y1="93.06" x2="48.00" y2="93.06" stroke="#555" stroke-width="0.35" />
<line x1="47.10" y1="95.17" x2="48.00" y2="95.17" stroke="#555" stroke-width="0.35" />
<line x1="47.10" y1="97.29" x2="48.00" y2="97.29" stroke="#555" stroke-width="0.35" />
<line x1="47.10" y1="99.40" x2="48.00" y2="99.40" stroke="#555" stroke-width="0.35" />
<line x1="47.10" y1="101.51" x2="48.00" y2="101.51" stroke="#555" stroke-width="0.35" />
<line x1="47.10" y1="103.62" x2="48.00" y2="103.62" stroke="#555" stroke-width="0.35" />
<line x1="47.10" y1="105.74" x2="48.00" y2="105.74" stroke="#555" stroke-width="0.35" />
<line x1="47.10" y1="107.85" x2="48.00" y2="107.85" stroke="#555" stroke-width="0.35" />
<line x1="47.10" y1="109.96" x2="48.00" y2="109.96" stroke="#555" stroke-width="0.35" />
<line x1="47.10" y1="112.07" x2="48.00" y2="112.07" stroke="#555" stroke-width="0.35" />
<line x1="47.10" y1="114.19" x2="48.00" y2="114.19" stroke="#555" stroke-width="0.35" />
<line x1="47.10" y1="116.30" x2="48.00" y2="116.30" stroke="#555" stroke-width="0.35" />
<line x1="47.10" y1="118.41" x2="48.00" y2="118.41" stroke="#555" stroke-width="0.35" />
<line x1="47.10" y1="120.52" x2="48.00" y2="120.52" stroke="#555" stroke-width="0.35" />
<line x1="47.10" y1="122.64" x2="48.00" y2="122.64" stroke="#555" stroke-width="0.35" />
<line x1="47.10" y1="124.75" x2="48.00" y2="124.75" stroke="#555" stroke-width="0.35" />
<line x1="47.10" y1="126.86" x2="48.00" y2="126.86" stroke="#555" stroke-width="0.35" />
<line x1="47.10" y1="128.97" x2="48.00" y2="128.97" stroke="#555" stroke-width="0.35" />
<line x1="47.10" y1="131.09" x2="48.00" y2="131.09" stroke="#555" stroke-width="0.35" />
<line x1="55.42" y1="135.20" x2="55.42" y2="137.40" stroke="#333" stroke-width="0.7" />
<text x="52.9" y="144.5" font-family="'Liberation Sans', sans-serif" font-size="4.8" font-weight="bold" fill="#2a2a2a" text-anchor="middle" stroke="#2a2a2a" stroke-width="0.15">10</text>
<text x="57.1" y="141.2" font-family="'Liberation Sans', sans-serif" font-size="4.3" font-weight="bold" fill="#2a2a2a" text-anchor="middle" stroke="#2a2a2a" stroke-width="0.15">1</text>
<line x1="65.61" y1="135.20" x2="65.61" y2="137.40" stroke="#333" stroke-width="0.7" />
<text x="63.1" y="144.5" font-family="'Liberation Sans', sans-serif" font-size="4.8" font-weight="bold" fill="#2a2a2a" text-anchor="middle" stroke="#2a2a2a" stroke-width="0.15">10</text>
<text x="67.3" y="141.2" font-family="'Liberation Sans', sans-serif" font-size="4.3" font-weight="bold" fill="#2a2a2a" text-anchor="middle" stroke="#2a2a2a" stroke-width="0.15">2</text>
<line x1="78.48" y1="135.20" x2="78.48" y2="137.40" stroke="#333" stroke-width="0.7" />
<text x="76.0" y="144.5" font-family="'Liberation Sans', sans-serif" font-size="4.8" font-weight="bold" fill="#2a2a2a" text-anchor="middle" stroke="#2a2a2a" stroke-width="0.15">10</text>
<text x="80.2" y="141.2" font-family="'Liberation Sans', sans-serif" font-size="4.3" font-weight="bold" fill="#2a2a2a" text-anchor="middle" stroke="#2a2a2a" stroke-width="0.15">3</text>
<line x1="91.98" y1="135.20" x2="91.98" y2="137.40" stroke="#333" stroke-width="0.7" />
<text x="89.5" y="144.5" font-family="'Liberation Sans', sans-serif" font-size="4.8" font-weight="bold" fill="#2a2a2a" text-anchor="middle" stroke="#2a2a2a" stroke-width="0.15">10</text>
<text x="93.7" y="141.2" font-family="'Liberation Sans', sans-serif" font-size="4.3" font-weight="bold" fill="#2a2a2a" text-anchor="middle" stroke="#2a2a2a" stroke-width="0.15">4</text>
<line x1="105.48" y1="135.20" x2="105.48" y2="137.40" stroke="#333" stroke-width="0.7" />
<text x="103.0" y="144.5" font-family="'Liberation Sans', sans-serif" font-size="4.8" font-weight="bold" fill="#2a2a2a" text-anchor="middle" stroke="#2a2a2a" stroke-width="0.15">10</text>
<text x="107.2" y="141.2" font-family="'Liberation Sans', sans-serif" font-size="4.3" font-weight="bold" fill="#2a2a2a" text-anchor="middle" stroke="#2a2a2a" stroke-width="0.15">5</text>
<line x1="118.98" y1="135.20" x2="118.98" y2="137.40" stroke="#333" stroke-width="0.7" />
<text x="116.5" y="144.5" font-family="'Liberation Sans', sans-serif" font-size="4.8" font-weight="bold" fill="#2a2a2a" text-anchor="middle" stroke="#2a2a2a" stroke-width="0.15">10</text>
<text x="120.7" y="141.2" font-family="'Liberation Sans', sans-serif" font-size="4.3" font-weight="bold" fill="#2a2a2a" text-anchor="middle" stroke="#2a2a2a" stroke-width="0.15">6</text>
<line x1="131.76" y1="135.20" x2="131.76" y2="137.40" stroke="#333" stroke-width="0.7" />
<text x="129.3" y="144.5" font-family="'Liberation Sans', sans-serif" font-size="4.8" font-weight="bold" fill="#2a2a2a" text-anchor="middle" stroke="#2a2a2a" stroke-width="0.15">10</text>
<text x="133.5" y="141.2" font-family="'Liberation Sans', sans-serif" font-size="4.3" font-weight="bold" fill="#2a2a2a" text-anchor="middle" stroke="#2a2a2a" stroke-width="0.15">7</text>
<line x1="49.00" y1="135.20" x2="49.00" y2="136.40" stroke="#555" stroke-width="0.35" />
<line x1="51.19" y1="135.20" x2="51.19" y2="136.40" stroke="#555" stroke-width="0.35" />
<line x1="53.37" y1="135.20" x2="53.37" y2="136.40" stroke="#555" stroke-width="0.35" />
<line x1="55.55" y1="135.20" x2="55.55" y2="136.40" stroke="#555" stroke-width="0.35" />
<line x1="57.74" y1="135.20" x2="57.74" y2="136.40" stroke="#555" stroke-width="0.35" />
<line x1="59.92" y1="135.20" x2="59.92" y2="136.40" stroke="#555" stroke-width="0.35" />
<line x1="62.11" y1="135.20" x2="62.11" y2="136.40" stroke="#555" stroke-width="0.35" />
<line x1="64.30" y1="135.20" x2="64.30" y2="136.40" stroke="#555" stroke-width="0.35" />
<line x1="66.48" y1="135.20" x2="66.48" y2="136.40" stroke="#555" stroke-width="0.35" />
<line x1="68.66" y1="135.20" x2="68.66" y2="136.40" stroke="#555" stroke-width="0.35" />
<line x1="70.85" y1="135.20" x2="70.85" y2="136.40" stroke="#555" stroke-width="0.35" />
<line x1="73.03" y1="135.20" x2="73.03" y2="136.40" stroke="#555" stroke-width="0.35" />
<line x1="75.22" y1="135.20" x2="75.22" y2="136.40" stroke="#555" stroke-width="0.35" />
<line x1="77.41" y1="135.20" x2="77.41" y2="136.40" stroke="#555" stroke-width="0.35" />
<line x1="79.59" y1="135.20" x2="79.59" y2="136.40" stroke="#555" stroke-width="0.35" />
<line x1="81.78" y1="135.20" x2="81.78" y2="136.40" stroke="#555" stroke-width="0.35" />
<line x1="83.96" y1="135.20" x2="83.96" y2="136.40" stroke="#555" stroke-width="0.35" />
<line x1="86.15" y1="135.20" x2="86.15" y2="136.40" stroke="#555" stroke-width="0.35" />
<line x1="88.33" y1="135.20" x2="88.33" y2="136.40" stroke="#555" stroke-width="0.35" />
<line x1="90.52" y1="135.20" x2="90.52" y2="136.40" stroke="#555" stroke-width="0.35" />
<line x1="92.70" y1="135.20" x2="92.70" y2="136.40" stroke="#555" stroke-width="0.35" />
<line x1="94.89" y1="135.20" x2="94.89" y2="136.40" stroke="#555" stroke-width="0.35" />
<line x1="97.07" y1="135.20" x2="97.07" y2="136.40" stroke="#555" stroke-width="0.35" />
<line x1="99.25" y1="135.20" x2="99.25" y2="136.40" stroke="#555" stroke-width="0.35" />
<line x1="101.44" y1="135.20" x2="101.44" y2="136.40" stroke="#555" stroke-width="0.35" />
<line x1="103.62" y1="135.20" x2="103.62" y2="136.40" stroke="#555" stroke-width="0.35" />
<line x1="105.81" y1="135.20" x2="105.81" y2="136.40" stroke="#555" stroke-width="0.35" />
<line x1="108.00" y1="135.20" x2="108.00" y2="136.40" stroke="#555" stroke-width="0.35" />
<line x1="110.18" y1="135.20" x2="110.18" y2="136.40" stroke="#555" stroke-width="0.35" />
<line x1="112.37" y1="135.20" x2="112.37" y2="136.40" stroke="#555" stroke-width="0.35" />
<line x1="114.55" y1="135.20" x2="114.55" y2="136.40" stroke="#555" stroke-width="0.35" />
<line x1="116.73" y1="135.20" x2="116.73" y2="136.40" stroke="#555" stroke-width="0.35" />
<line x1="118.92" y1="135.20" x2="118.92" y2="136.40" stroke="#555" stroke-width="0.35" />
<line x1="121.11" y1="135.20" x2="121.11" y2="136.40" stroke="#555" stroke-width="0.35" />
<line x1="123.29" y1="135.20" x2="123.29" y2="136.40" stroke="#555" stroke-width="0.35" />
<line x1="125.47" y1="135.20" x2="125.47" y2="136.40" stroke="#555" stroke-width="0.35" />
<line x1="127.66" y1="135.20" x2="127.66" y2="136.40" stroke="#555" stroke-width="0.35" />
<line x1="129.84" y1="135.20" x2="129.84" y2="136.40" stroke="#555" stroke-width="0.35" />
<line x1="132.03" y1="135.20" x2="132.03" y2="136.40" stroke="#555" stroke-width="0.35" />
<line x1="134.22" y1="135.20" x2="134.22" y2="136.40" stroke="#555" stroke-width="0.35" />
</g>
<g>
<path d="M209.1 108.3h.9v.9h-.9zM203.1 105.8h.9v.9h-.9zM203.6 105.1h.9v.9h-.9zM189.1 104.3h.9v.9h-.9zM218.6 104.2h.9v.9h-.9zM214.4 105.0h.9v.9h-.9zM202.3 100.5h.9v.9h-.9zM209.8 99.9h.9v.9h-.9zM205.2 97.1h.9v.9h-.9zM204.4 109.6h.9v.9h-.9zM211.8 101.4h.9v.9h-.9zM203.2 102.3h.9v.9h-.9zM203.9 104.5h.9v.9h-.9zM201.2 105.8h.9v.9h-.9zM207.2 99.1h.9v.9h-.9zM202.5 96.9h.9v.9h-.9zM206.3 95.2h.9v.9h-.9zM198.6 96.1h.9v.9h-.9zM206.8 103.7h.9v.9h-.9zM203.7 113.6h.9v.9h-.9zM207.3 92.7h.9v.9h-.9zM206.6 102.1h.9v.9h-.9zM207.9 103.0h.9v.9h-.9zM206.0 96.8h.9v.9h-.9zM199.5 105.3h.9v.9h-.9zM208.0 95.4h.9v.9h-.9zM219.6 102.1h.9v.9h-.9zM194.4 103.4h.9v.9h-.9zM195.0 106.6h.9v.9h-.9zM197.4 108.6h.9v.9h-.9zM209.5 98.1h.9v.9h-.9zM202.9 94.0h.9v.9h-.9zM210.7 97.1h.9v.9h-.9zM210.8 103.5h.9v.9h-.9zM206.3 101.1h.9v.9h-.9zM207.3 102.3h.9v.9h-.9zM202.3 97.8h.9v.9h-.9zM210.6 100.5h.9v.9h-.9zM199.7 107.8h.9v.9h-.9zM202.7 103.2h.9v.9h-.9zM209.9 109.5h.9v.9h-.9zM215.6 96.8h.9v.9h-.9zM198.8 99.4h.9v.9h-.9zM195.9 97.7h.9v.9h-.9zM203.8 108.3h.9v.9h-.9zM210.9 99.4h.9v.9h-.9zM205.5 106.9h.9v.9h-.9zM213.9 100.7h.9v.9h-.9zM196.8 113.5h.9v.9h-.9zM214.1 104.7h.9v.9h-.9zM210.7 97.9h.9v.9h-.9zM197.2 106.6h.9v.9h-.9zM208.0 106.3h.9v.9h-.9zM210.4 93.8h.9v.9h-.9zM208.2 108.0h.9v.9h-.9zM213.3 104.7h.9v.9h-.9zM221.1 100.4h.9v.9h-.9zM206.5 100.5h.9v.9h-.9zM204.0 104.0h.9v.9h-.9zM198.7 99.1h.9v.9h-.9zM209.2 100.7h.9v.9h-.9zM203.0 100.0h.9v.9h-.9zM204.3 102.8h.9v.9h-.9zM203.7 100.1h.9v.9h-.9zM209.6 101.6h.9v.9h-.9zM200.8 109.6h.9v.9h-.9zM193.8 100.1h.9v.9h-.9zM192.2 111.8h.9v.9h-.9zM208.9 90.6h.9v.9h-.9zM201.9 92.6h.9v.9h-.9zM214.0 97.8h.9v.9h-.9zM205.2 102.1h.9v.9h-.9zM201.5 105.7h.9v.9h-.9zM205.2 93.8h.9v.9h-.9zM204.6 101.9h.9v.9h-.9zM197.9 105.6h.9v.9h-.9zM202.1 109.5h.9v.9h-.9zM215.6 97.3h.9v.9h-.9zM208.2 103.4h.9v.9h-.9zM206.0 96.8h.9v.9h-.9zM203.2 101.9h.9v.9h-.9zM200.3 101.8h.9v.9h-.9zM211.8 102.8h.9v.9h-.9zM202.9 98.0h.9v.9h-.9zM199.2 100.3h.9v.9h-.9zM205.4 104.8h.9v.9h-.9zM202.9 111.8h.9v.9h-.9zM207.0 103.2h.9v.9h-.9zM212.5 100.6h.9v.9h-.9zM199.6 102.5h.9v.9h-.9zM215.6 103.2h.9v.9h-.9zM202.1 105.9h.9v.9h-.9zM209.1 109.0h.9v.9h-.9zM200.8 105.4h.9v.9h-.9zM202.2 98.5h.9v.9h-.9zM204.5 99.5h.9v.9h-.9zM200.9 98.8h.9v.9h-.9zM198.8 98.4h.9v.9h-.9zM203.3 109.0h.9v.9h-.9zM201.7 107.4h.9v.9h-.9zM193.7 100.5h.9v.9h-.9zM206.7 110.2h.9v.9h-.9zM208.0 102.1h.9v.9h-.9zM209.0 95.7h.9v.9h-.9zM209.7 102.1h.9v.9h-.9zM219.8 95.8h.9v.9h-.9zM205.8 97.9h.9v.9h-.9zM199.1 94.8h.9v.9h-.9zM216.5 97.6h.9v.9h-.9zM199.4 105.8h.9v.9h-.9zM206.6 88.7h.9v.9h-.9zM200.4 106.7h.9v.9h-.9zM208.4 103.8h.9v.9h-.9zM192.6 104.8h.9v.9h-.9zM210.8 100.3h.9v.9h-.9zM203.8 101.2h.9v.9h-.9zM198.0 100.8h.9v.9h-.9zM214.6 96.4h.9v.9h-.9zM212.1 105.9h.9v.9h-.9zM203.0 95.7h.9v.9h-.9zM201.1 104.8h.9v.9h-.9zM205.3 102.9h.9v.9h-.9zM203.0 99.4h.9v.9h-.9zM208.8 98.4h.9v.9h-.9zM207.6 94.1h.9v.9h-.9zM199.7 100.0h.9v.9h-.9zM201.9 103.4h.9v.9h-.9zM202.6 104.7h.9v.9h-.9zM195.6 101.4h.9v.9h-.9zM206.9 116.5h.9v.9h-.9zM203.7 99.8h.9v.9h-.9zM209.6 100.9h.9v.9h-.9zM212.7 97.8h.9v.9h-.9zM199.7 102.3h.9v.9h-.9zM210.7 106.2h.9v.9h-.9zM201.7 101.0h.9v.9h-.9zM219.9 102.7h.9v.9h-.9zM206.9 107.0h.9v.9h-.9zM206.4 96.3h.9v.9h-.9zM201.4 108.7h.9v.9h-.9zM199.2 101.2h.9v.9h-.9zM211.1 113.2h.9v.9h-.9zM202.2 101.3h.9v.9h-.9zM205.7 97.1h.9v.9h-.9zM192.6 97.6h.9v.9h-.9zM206.9 94.9h.9v.9h-.9zM198.8 101.7h.9v.9h-.9zM213.8 93.6h.9v.9h-.9zM201.4 97.5h.9v.9h-.9zM210.6 96.4h.9v.9h-.9zM196.5 104.5h.9v.9h-.9zM210.3 107.1h.9v.9h-.9zM196.9 96.9h.9v.9h-.9zM201.3 100.8h.9v.9h-.9zM203.7 97.9h.9v.9h-.9zM200.7 96.3h.9v.9h-.9zM204.6 96.0h.9v.9h-.9zM208.1 96.3h.9v.9h-.9zM210.3 103.5h.9v.9h-.9zM204.3 101.4h.9v.9h-.9zM196.1 103.0h.9v.9h-.9zM201.4 106.6h.9v.9h-.9zM204.5 103.7h.9v.9h-.9zM192.1 106.2h.9v.9h-.9zM210.4 101.8h.9v.9h-.9zM202.3 99.0h.9v.9h-.9zM204.8 105.3h.9v.9h-.9zM211.7 101.7h.9v.9h-.9zM208.5 98.6h.9v.9h-.9zM204.4 96.3h.9v.9h-.9zM201.8 110.9h.9v.9h-.9zM207.2 101.7h.9v.9h-.9zM212.5 114.2h.9v.9h-.9zM198.8 101.4h.9v.9h-.9zM212.9 103.1h.9v.9h-.9zM207.5 98.9h.9v.9h-.9zM193.8 107.8h.9v.9h-.9zM207.4 105.3h.9v.9h-.9zM196.2 101.7h.9v.9h-.9zM211.8 98.8h.9v.9h-.9zM210.3 100.7h.9v.9h-.9zM198.8 105.2h.9v.9h-.9zM200.9 106.7h.9v.9h-.9zM207.6 106.1h.9v.9h-.9zM205.2 106.1h.9v.9h-.9zM214.8 99.4h.9v.9h-.9zM209.0 98.7h.9v.9h-.9zM201.6 97.9h.9v.9h-.9zM207.4 97.5h.9v.9h-.9zM192.1 104.7h.9v.9h-.9zM208.2 104.2h.9v.9h-.9zM209.8 98.4h.9v.9h-.9zM202.0 97.1h.9v.9h-.9zM202.0 106.4h.9v.9h-.9zM207.2 97.2h.9v.9h-.9zM215.6 94.0h.9v.9h-.9zM206.0 100.5h.9v.9h-.9zM199.3 106.7h.9v.9h-.9zM209.7 88.2h.9v.9h-.9zM192.0 101.8h.9v.9h-.9zM208.5 101.5h.9v.9h-.9zM201.1 101.9h.9v.9h-.9zM209.3 96.1h.9v.9h-.9zM199.2 101.7h.9v.9h-.9zM215.5 104.7h.9v.9h-.9zM206.2 99.3h.9v.9h-.9zM196.1 109.2h.9v.9h-.9zM194.7 110.2h.9v.9h-.9zM202.5 100.8h.9v.9h-.9zM213.7 100.8h.9v.9h-.9zM205.2 99.8h.9v.9h-.9zM204.6 99.2h.9v.9h-.9zM201.8 97.8h.9v.9h-.9zM211.1 103.9h.9v.9h-.9zM206.8 99.4h.9v.9h-.9zM205.9 99.0h.9v.9h-.9zM197.4 99.6h.9v.9h-.9zM215.4 106.8h.9v.9h-.9zM214.6 101.9h.9v.9h-.9zM197.2 104.6h.9v.9h-.9zM217.8 93.5h.9v.9h-.9zM206.9 93.7h.9v.9h-.9zM202.8 104.4h.9v.9h-.9zM194.3 107.8h.9v.9h-.9zM206.7 94.4h.9v.9h-.9zM210.5 105.6h.9v.9h-.9zM203.0 106.8h.9v.9h-.9zM192.8 102.2h.9v.9h-.9zM211.0 96.9h.9v.9h-.9zM200.9 101.6h.9v.9h-.9zM202.7 103.8h.9v.9h-.9zM222.0 94.5h.9v.9h-.9zM215.1 89.9h.9v.9h-.9zM213.5 106.0h.9v.9h-.9zM203.0 104.5h.9v.9h-.9zM211.3 105.8h.9v.9h-.9zM193.7 112.9h.9v.9h-.9zM205.5 100.9h.9v.9h-.9zM201.2 105.3h.9v.9h-.9zM198.8 108.3h.9v.9h-.9zM197.0 109.1h.9v.9h-.9zM208.1 100.0h.9v.9h-.9zM204.7 99.1h.9v.9h-.9zM206.2 101.8h.9v.9h-.9zM208.9 96.5h.9v.9h-.9zM199.2 101.7h.9v.9h-.9zM194.3 96.3h.9v.9h-.9zM194.7 106.7h.9v.9h-.9zM201.4 98.4h.9v.9h-.9zM208.8 97.8h.9v.9h-.9zM204.2 102.1h.9v.9h-.9zM209.6 101.8h.9v.9h-.9zM201.4 112.9h.9v.9h-.9zM202.7 104.0h.9v.9h-.9zM198.2 97.8h.9v.9h-.9zM197.9 105.6h.9v.9h-.9zM215.3 95.0h.9v.9h-.9zM211.0 101.6h.9v.9h-.9zM199.5 100.9h.9v.9h-.9zM199.4 100.8h.9v.9h-.9zM204.0 100.0h.9v.9h-.9zM195.5 102.8h.9v.9h-.9zM204.7 93.2h.9v.9h-.9zM196.3 102.3h.9v.9h-.9zM203.0 102.8h.9v.9h-.9zM201.1 109.6h.9v.9h-.9zM201.8 101.9h.9v.9h-.9zM196.6 103.6h.9v.9h-.9zM196.8 108.3h.9v.9h-.9zM200.3 106.6h.9v.9h-.9zM203.9 110.5h.9v.9h-.9zM204.4 105.2h.9v.9h-.9zM205.6 101.8h.9v.9h-.9zM216.7 104.0h.9v.9h-.9zM212.7 106.6h.9v.9h-.9zM202.9 100.6h.9v.9h-.9zM209.8 100.9h.9v.9h-.9zM198.2 96.5h.9v.9h-.9zM213.2 96.9h.9v.9h-.9zM207.0 96.9h.9v.9h-.9zM196.7 104.4h.9v.9h-.9zM208.9 98.1h.9v.9h-.9zM209.8 99.3h.9v.9h-.9zM188.9 108.1h.9v.9h-.9zM201.6 105.9h.9v.9h-.9zM202.8 104.1h.9v.9h-.9zM192.7 104.3h.9v.9h-.9zM196.6 99.1h.9v.9h-.9zM201.6 109.6h.9v.9h-.9zM210.7 106.8h.9v.9h-.9zM206.2 99.3h.9v.9h-.9zM221.9 98.0h.9v.9h-.9zM200.2 96.4h.9v.9h-.9zM209.4 92.5h.9v.9h-.9zM205.2 100.7h.9v.9h-.9zM209.4 107.6h.9v.9h-.9zM196.5 100.3h.9v.9h-.9zM192.3 103.1h.9v.9h-.9zM203.4 110.7h.9v.9h-.9zM206.5 92.1h.9v.9h-.9zM210.5 106.2h.9v.9h-.9zM208.5 118.9h.9v.9h-.9zM199.5 120.2h.9v.9h-.9zM204.6 105.3h.9v.9h-.9zM236.1 113.4h.9v.9h-.9zM187.6 95.0h.9v.9h-.9zM198.1 97.2h.9v.9h-.9zM199.1 122.2h.9v.9h-.9zM193.3 91.8h.9v.9h-.9zM184.9 118.6h.9v.9h-.9zM222.8 115.8h.9v.9h-.9zM205.0 116.9h.9v.9h-.9zM179.5 118.5h.9v.9h-.9zM193.1 114.5h.9v.9h-.9zM207.4 83.4h.9v.9h-.9zM207.4 96.4h.9v.9h-.9zM183.6 101.1h.9v.9h-.9zM201.0 118.5h.9v.9h-.9zM205.6 95.0h.9v.9h-.9zM207.3 99.9h.9v.9h-.9zM207.3 103.8h.9v.9h-.9zM178.6 123.1h.9v.9h-.9zM226.1 91.4h.9v.9h-.9zM204.9 92.4h.9v.9h-.9zM225.5 115.2h.9v.9h-.9zM239.2 83.6h.9v.9h-.9zM200.1 111.8h.9v.9h-.9zM186.3 102.8h.9v.9h-.9zM213.4 89.9h.9v.9h-.9zM199.9 103.2h.9v.9h-.9zM196.4 96.5h.9v.9h-.9zM188.8 109.9h.9v.9h-.9zM224.0 112.2h.9v.9h-.9zM196.5 125.1h.9v.9h-.9zM184.1 107.9h.9v.9h-.9zM196.4 109.2h.9v.9h-.9zM187.2 101.4h.9v.9h-.9zM204.2 107.7h.9v.9h-.9zM196.8 120.1h.9v.9h-.9zM188.5 85.9h.9v.9h-.9zM210.0 115.6h.9v.9h-.9zM193.9 101.8h.9v.9h-.9zM211.6 108.8h.9v.9h-.9zM218.5 111.7h.9v.9h-.9zM197.5 117.8h.9v.9h-.9zM193.8 110.7h.9v.9h-.9zM204.8 103.5h.9v.9h-.9zM213.7 111.6h.9v.9h-.9zM202.2 108.1h.9v.9h-.9zM204.0 105.6h.9v.9h-.9zM201.9 110.4h.9v.9h-.9zM206.2 118.0h.9v.9h-.9zM210.3 109.6h.9v.9h-.9zM193.1 109.8h.9v.9h-.9zM196.0 93.2h.9v.9h-.9zM202.8 106.5h.9v.9h-.9zM193.6 86.6h.9v.9h-.9zM204.0 116.3h.9v.9h-.9zM209.1 97.2h.9v.9h-.9zM201.9 122.9h.9v.9h-.9zM192.2 103.4h.9v.9h-.9zM224.8 123.3h.9v.9h-.9zM213.6 112.6h.9v.9h-.9zM187.7 101.6h.9v.9h-.9zM191.3 98.3h.9v.9h-.9zM226.4 114.5h.9v.9h-.9zM221.7 124.0h.9v.9h-.9zM203.9 112.1h.9v.9h-.9zM217.2 90.6h.9v.9h-.9zM183.0 96.0h.9v.9h-.9zM202.2 105.4h.9v.9h-.9zM211.8 123.6h.9v.9h-.9zM178.2 111.3h.9v.9h-.9zM192.1 111.8h.9v.9h-.9zM212.3 121.9h.9v.9h-.9zM216.8 105.6h.9v.9h-.9zM194.5 107.0h.9v.9h-.9zM205.9 105.9h.9v.9h-.9zM222.9 87.6h.9v.9h-.9zM197.3 113.4h.9v.9h-.9zM185.0 112.7h.9v.9h-.9zM201.4 119.2h.9v.9h-.9zM197.1 94.3h.9v.9h-.9zM219.0 98.6h.9v.9h-.9zM204.3 118.7h.9v.9h-.9zM191.8 111.7h.9v.9h-.9zM233.2 123.8h.9v.9h-.9zM195.7 98.1h.9v.9h-.9zM208.3 110.3h.9v.9h-.9zM210.9 100.2h.9v.9h-.9zM212.3 111.6h.9v.9h-.9zM204.4 102.4h.9v.9h-.9zM209.8 114.2h.9v.9h-.9zM201.3 120.4h.9v.9h-.9zM183.9 115.8h.9v.9h-.9zM199.4 87.2h.9v.9h-.9zM199.6 118.8h.9v.9h-.9zM199.9 113.1h.9v.9h-.9zM204.0 96.0h.9v.9h-.9zM194.1 97.8h.9v.9h-.9zM219.3 108.1h.9v.9h-.9zM222.4 114.6h.9v.9h-.9zM173.8 102.8h.9v.9h-.9zM202.3 89.3h.9v.9h-.9zM193.0 111.2h.9v.9h-.9zM194.2 93.2h.9v.9h-.9zM193.8 128.1h.9v.9h-.9zM216.2 111.5h.9v.9h-.9zM218.2 127.1h.9v.9h-.9zM205.8 109.1h.9v.9h-.9zM211.2 119.2h.9v.9h-.9zM200.7 99.6h.9v.9h-.9zM204.0 108.9h.9v.9h-.9zM192.6 96.3h.9v.9h-.9zM202.6 89.9h.9v.9h-.9zM193.0 104.9h.9v.9h-.9zM207.0 100.4h.9v.9h-.9zM212.9 114.6h.9v.9h-.9zM206.2 122.6h.9v.9h-.9zM217.5 106.1h.9v.9h-.9zM237.0 108.7h.9v.9h-.9zM175.0 110.2h.9v.9h-.9zM202.4 88.7h.9v.9h-.9zM194.9 111.1h.9v.9h-.9zM196.3 108.1h.9v.9h-.9zM184.7 107.5h.9v.9h-.9zM202.9 95.3h.9v.9h-.9zM198.9 85.2h.9v.9h-.9zM194.0 105.1h.9v.9h-.9zM198.9 111.6h.9v.9h-.9zM194.5 123.4h.9v.9h-.9zM171.9 121.0h.9v.9h-.9zM216.1 124.7h.9v.9h-.9zM198.3 112.3h.9v.9h-.9zM189.9 121.3h.9v.9h-.9zM206.2 105.6h.9v.9h-.9zM193.6 115.2h.9v.9h-.9zM174.1 118.7h.9v.9h-.9zM180.5 110.8h.9v.9h-.9zM199.4 93.4h.9v.9h-.9zM203.8 123.8h.9v.9h-.9zM219.6 98.9h.9v.9h-.9zM217.6 107.3h.9v.9h-.9zM204.3 104.6h.9v.9h-.9zM192.3 97.6h.9v.9h-.9zM196.8 123.3h.9v.9h-.9zM216.3 114.9h.9v.9h-.9zM225.3 101.0h.9v.9h-.9zM209.2 108.8h.9v.9h-.9zM193.9 103.0h.9v.9h-.9zM215.5 115.1h.9v.9h-.9zM197.4 103.6h.9v.9h-.9zM196.9 99.2h.9v.9h-.9zM198.6 100.6h.9v.9h-.9zM209.8 103.0h.9v.9h-.9zM205.8 111.3h.9v.9h-.9zM215.0 97.4h.9v.9h-.9zM218.9 107.0h.9v.9h-.9zM208.8 113.1h.9v.9h-.9zM180.3 117.8h.9v.9h-.9zM204.2 73.7h.9v.9h-.9zM201.4 102.1h.9v.9h-.9zM230.1 103.4h.9v.9h-.9zM201.8 111.7h.9v.9h-.9zM219.8 77.0h.9v.9h-.9zM215.7 76.5h.9v.9h-.9zM200.5 74.2h.9v.9h-.9zM213.5 73.2h.9v.9h-.9zM212.5 75.7h.9v.9h-.9zM214.1 75.3h.9v.9h-.9zM218.8 73.5h.9v.9h-.9zM206.5 77.1h.9v.9h-.9zM217.5 76.8h.9v.9h-.9zM203.7 76.3h.9v.9h-.9zM212.3 78.1h.9v.9h-.9zM213.9 75.0h.9v.9h-.9zM223.4 79.4h.9v.9h-.9zM208.5 74.2h.9v.9h-.9zM203.5 77.6h.9v.9h-.9zM215.4 77.8h.9v.9h-.9zM208.7 75.9h.9v.9h-.9zM219.8 77.2h.9v.9h-.9zM208.5 73.6h.9v.9h-.9zM207.6 73.1h.9v.9h-.9zM218.2 76.0h.9v.9h-.9zM212.4 74.8h.9v.9h-.9zM217.0 77.7h.9v.9h-.9zM204.8 76.5h.9v.9h-.9zM220.3 77.8h.9v.9h-.9zM209.1 77.1h.9v.9h-.9zM216.1 76.9h.9v.9h-.9zM207.0 76.6h.9v.9h-.9zM204.2 75.6h.9v.9h-.9zM210.7 75.4h.9v.9h-.9zM212.9 80.9h.9v.9h-.9zM219.9 72.6h.9v.9h-.9zM213.8 76.0h.9v.9h-.9zM215.6 78.6h.9v.9h-.9zM215.3 77.4h.9v.9h-.9zM227.6 79.5h.9v.9h-.9zM207.9 77.6h.9v.9h-.9zM218.3 73.6h.9v.9h-.9zM211.3 75.7h.9v.9h-.9zM213.3 73.3h.9v.9h-.9zM209.3 78.6h.9v.9h-.9zM217.8 79.6h.9v.9h-.9zM205.7 75.5h.9v.9h-.9zM205.4 77.6h.9v.9h-.9zM211.0 75.5h.9v.9h-.9zM206.2 73.3h.9v.9h-.9zM215.5 75.4h.9v.9h-.9zM216.6 72.9h.9v.9h-.9zM208.2 75.2h.9v.9h-.9zM215.9 76.9h.9v.9h-.9zM208.7 78.0h.9v.9h-.9zM211.8 79.3h.9v.9h-.9zM212.0 75.7h.9v.9h-.9zM221.4 76.9h.9v.9h-.9zM212.0 77.3h.9v.9h-.9zM207.4 77.6h.9v.9h-.9zM207.4 70.1h.9v.9h-.9zM218.0 74.7h.9v.9h-.9zM203.7 78.1h.9v.9h-.9zM209.6 73.9h.9v.9h-.9zM210.1 76.9h.9v.9h-.9zM199.7 78.2h.9v.9h-.9zM209.7 72.2h.9v.9h-.9zM217.0 76.0h.9v.9h-.9zM213.2 76.9h.9v.9h-.9zM207.5 76.4h.9v.9h-.9zM215.5 73.0h.9v.9h-.9zM214.6 77.1h.9v.9h-.9zM222.1 75.1h.9v.9h-.9zM208.3 78.2h.9v.9h-.9zM210.1 77.3h.9v.9h-.9zM212.2 75.2h.9v.9h-.9zM211.3 76.8h.9v.9h-.9zM212.4 74.8h.9v.9h-.9zM211.5 74.8h.9v.9h-.9zM208.5 72.9h.9v.9h-.9zM204.0 75.8h.9v.9h-.9zM209.2 78.1h.9v.9h-.9zM205.0 76.6h.9v.9h-.9zM206.7 76.3h.9v.9h-.9zM209.3 74.9h.9v.9h-.9zM214.5 75.2h.9v.9h-.9zM216.2 78.0h.9v.9h-.9zM206.8 73.0h.9v.9h-.9zM213.5 80.9h.9v.9h-.9zM216.0 76.2h.9v.9h-.9zM211.7 81.1h.9v.9h-.9zM203.7 78.9h.9v.9h-.9zM201.1 75.4h.9v.9h-.9zM215.9 77.9h.9v.9h-.9zM216.5 76.9h.9v.9h-.9zM213.3 77.3h.9v.9h-.9zM206.6 78.0h.9v.9h-.9zM219.2 75.1h.9v.9h-.9zM218.0 74.9h.9v.9h-.9zM211.7 75.3h.9v.9h-.9zM210.8 73.3h.9v.9h-.9zM202.1 75.7h.9v.9h-.9zM215.6 76.8h.9v.9h-.9zM203.8 76.8h.9v.9h-.9zM215.3 76.7h.9v.9h-.9zM215.5 75.4h.9v.9h-.9zM212.3 78.0h.9v.9h-.9zM219.8 71.7h.9v.9h-.9zM210.3 75.4h.9v.9h-.9zM214.8 75.5h.9v.9h-.9zM215.9 78.2h.9v.9h-.9zM213.1 77.7h.9v.9h-.9zM209.8 78.0h.9v.9h-.9zM218.0 76.2h.9v.9h-.9zM214.0 78.3h.9v.9h-.9zM210.9 74.0h.9v.9h-.9zM211.0 76.4h.9v.9h-.9zM212.5 71.5h.9v.9h-.9zM223.3 80.0h.9v.9h-.9zM212.4 79.7h.9v.9h-.9zM210.7 74.9h.9v.9h-.9zM206.6 74.3h.9v.9h-.9zM205.8 71.6h.9v.9h-.9zM202.4 72.8h.9v.9h-.9zM235.8 77.1h.9v.9h-.9zM233.8 75.8h.9v.9h-.9zM224.6 73.7h.9v.9h-.9zM231.4 78.6h.9v.9h-.9zM230.3 75.4h.9v.9h-.9zM238.2 76.3h.9v.9h-.9zM239.9 75.7h.9v.9h-.9zM233.4 76.5h.9v.9h-.9zM235.8 79.5h.9v.9h-.9zM234.9 81.5h.9v.9h-.9zM220.3 77.6h.9v.9h-.9zM236.2 77.3h.9v.9h-.9zM234.5 74.5h.9v.9h-.9zM240.2 74.2h.9v.9h-.9zM222.1 74.6h.9v.9h-.9zM240.3 79.5h.9v.9h-.9zM230.5 77.9h.9v.9h-.9zM236.9 79.7h.9v.9h-.9zM243.5 78.3h.9v.9h-.9zM224.7 76.3h.9v.9h-.9zM225.8 74.2h.9v.9h-.9zM242.0 76.3h.9v.9h-.9zM227.0 73.7h.9v.9h-.9zM228.3 82.3h.9v.9h-.9zM239.2 78.0h.9v.9h-.9zM233.6 76.4h.9v.9h-.9zM240.5 82.3h.9v.9h-.9zM237.1 76.3h.9v.9h-.9zM234.8 78.7h.9v.9h-.9zM241.9 76.9h.9v.9h-.9zM250.3 78.2h.9v.9h-.9zM234.3 76.4h.9v.9h-.9zM245.4 78.5h.9v.9h-.9zM243.0 80.9h.9v.9h-.9zM235.8 74.1h.9v.9h-.9zM238.2 71.7h.9v.9h-.9zM228.5 80.7h.9v.9h-.9zM230.7 77.7h.9v.9h-.9zM237.0 79.5h.9v.9h-.9zM234.7 76.6h.9v.9h-.9zM244.2 81.2h.9v.9h-.9zM225.9 81.9h.9v.9h-.9zM233.0 74.3h.9v.9h-.9zM230.6 79.0h.9v.9h-.9zM234.0 75.7h.9v.9h-.9zM243.2 73.2h.9v.9h-.9zM226.6 76.5h.9v.9h-.9zM241.0 78.7h.9v.9h-.9zM230.9 73.8h.9v.9h-.9zM232.8 74.0h.9v.9h-.9zM242.1 80.4h.9v.9h-.9zM233.1 77.3h.9v.9h-.9zM239.7 78.3h.9v.9h-.9zM235.9 74.4h.9v.9h-.9zM233.9 75.6h.9v.9h-.9zM232.6 77.5h.9v.9h-.9zM223.0 77.7h.9v.9h-.9zM229.9 77.6h.9v.9h-.9zM236.3 81.2h.9v.9h-.9zM236.5 77.6h.9v.9h-.9zM224.7 73.3h.9v.9h-.9zM242.1 75.0h.9v.9h-.9zM239.1 77.0h.9v.9h-.9zM226.0 80.4h.9v.9h-.9zM227.8 75.4h.9v.9h-.9zM238.7 76.2h.9v.9h-.9zM222.8 77.1h.9v.9h-.9zM229.9 75.4h.9v.9h-.9zM234.8 75.0h.9v.9h-.9zM234.3 76.5h.9v.9h-.9zM234.8 79.6h.9v.9h-.9zM237.9 78.3h.9v.9h-.9zM229.6 76.4h.9v.9h-.9zM231.8 78.1h.9v.9h-.9zM249.6 73.9h.9v.9h-.9zM225.4 79.6h.9v.9h-.9zM232.1 79.0h.9v.9h-.9zM236.0 77.8h.9v.9h-.9zM230.7 73.0h.9v.9h-.9zM243.8 82.2h.9v.9h-.9zM235.7 69.7h.9v.9h-.9zM240.5 74.6h.9v.9h-.9zM216.9 74.8h.9v.9h-.9zM243.6 78.8h.9v.9h-.9zM243.3 73.3h.9v.9h-.9zM230.0 77.7h.9v.9h-.9zM244.4 76.7h.9v.9h-.9zM237.1 76.3h.9v.9h-.9zM241.8 79.2h.9v.9h-.9zM248.0 80.7h.9v.9h-.9zM236.0 78.1h.9v.9h-.9zM228.2 76.4h.9v.9h-.9zM235.2 71.3h.9v.9h-.9zM226.4 80.8h.9v.9h-.9zM229.7 76.3h.9v.9h-.9zM230.0 72.4h.9v.9h-.9zM230.4 77.5h.9v.9h-.9zM243.5 80.8h.9v.9h-.9zM241.2 76.7h.9v.9h-.9zM229.1 74.1h.9v.9h-.9zM243.3 82.8h.9v.9h-.9zM223.6 78.7h.9v.9h-.9zM230.8 78.0h.9v.9h-.9zM234.4 79.7h.9v.9h-.9zM243.7 71.6h.9v.9h-.9zM240.5 76.9h.9v.9h-.9zM238.6 76.7h.9v.9h-.9zM244.6 82.9h.9v.9h-.9zM240.5 75.7h.9v.9h-.9zM245.0 75.7h.9v.9h-.9zM230.0 73.6h.9v.9h-.9zM223.6 75.1h.9v.9h-.9zM232.6 76.6h.9v.9h-.9zM241.3 77.8h.9v.9h-.9zM237.3 76.6h.9v.9h-.9zM241.7 82.2h.9v.9h-.9zM240.5 78.4h.9v.9h-.9zM239.1 78.8h.9v.9h-.9zM241.3 80.6h.9v.9h-.9zM230.5 78.8h.9v.9h-.9zM243.2 75.8h.9v.9h-.9zM228.5 73.2h.9v.9h-.9zM234.7 78.1h.9v.9h-.9zM225.6 75.1h.9v.9h-.9zM239.1 80.5h.9v.9h-.9zM224.7 75.2h.9v.9h-.9zM245.4 71.5h.9v.9h-.9zM226.1 77.3h.9v.9h-.9zM237.4 79.9h.9v.9h-.9zM234.6 76.6h.9v.9h-.9zM229.4 77.6h.9v.9h-.9zM244.3 77.5h.9v.9h-.9zM232.5 81.5h.9v.9h-.9zM245.8 77.9h.9v.9h-.9zM228.4 77.1h.9v.9h-.9zM229.9 75.6h.9v.9h-.9zM221.5 73.0h.9v.9h-.9zM239.4 80.7h.9v.9h-.9zM242.0 80.1h.9v.9h-.9zM237.1 74.7h.9v.9h-.9zM234.4 78.7h.9v.9h-.9zM229.1 78.0h.9v.9h-.9zM252.0 76.2h.9v.9h-.9zM240.8 76.4h.9v.9h-.9zM222.6 79.1h.9v.9h-.9zM233.4 74.1h.9v.9h-.9zM217.3 75.8h.9v.9h-.9zM246.6 77.0h.9v.9h-.9zM249.4 77.1h.9v.9h-.9zM245.8 76.6h.9v.9h-.9zM217.3 99.3h.9v.9h-.9zM229.4 75.7h.9v.9h-.9zM217.6 95.0h.9v.9h-.9zM229.9 83.8h.9v.9h-.9zM213.3 93.2h.9v.9h-.9zM218.8 95.5h.9v.9h-.9zM214.1 92.0h.9v.9h-.9zM215.9 93.8h.9v.9h-.9zM231.7 78.1h.9v.9h-.9zM216.5 98.2h.9v.9h-.9zM223.4 92.6h.9v.9h-.9zM219.5 89.0h.9v.9h-.9zM217.3 84.3h.9v.9h-.9zM227.1 90.6h.9v.9h-.9zM224.3 93.5h.9v.9h-.9zM212.0 93.1h.9v.9h-.9zM215.7 93.0h.9v.9h-.9zM231.9 81.0h.9v.9h-.9zM220.5 93.3h.9v.9h-.9zM222.0 96.9h.9v.9h-.9zM215.5 88.2h.9v.9h-.9zM215.7 86.5h.9v.9h-.9zM236.3 84.2h.9v.9h-.9zM219.9 92.0h.9v.9h-.9zM221.6 86.3h.9v.9h-.9zM222.5 90.5h.9v.9h-.9zM229.6 81.9h.9v.9h-.9zM240.3 80.0h.9v.9h-.9zM225.8 86.3h.9v.9h-.9zM220.0 94.8h.9v.9h-.9zM223.8 88.2h.9v.9h-.9zM218.6 90.5h.9v.9h-.9zM222.8 88.2h.9v.9h-.9zM227.2 86.0h.9v.9h-.9zM217.7 94.3h.9v.9h-.9zM212.6 90.0h.9v.9h-.9zM227.6 81.9h.9v.9h-.9zM229.2 79.3h.9v.9h-.9zM231.6 82.9h.9v.9h-.9zM216.0 90.9h.9v.9h-.9zM208.4 93.7h.9v.9h-.9zM219.4 97.2h.9v.9h-.9zM214.1 91.5h.9v.9h-.9zM232.4 77.1h.9v.9h-.9zM224.2 90.0h.9v.9h-.9zM225.6 86.2h.9v.9h-.9zM221.0 84.2h.9v.9h-.9zM220.0 90.3h.9v.9h-.9zM216.6 96.9h.9v.9h-.9zM228.3 81.4h.9v.9h-.9zM218.0 91.7h.9v.9h-.9zM218.7 85.2h.9v.9h-.9zM212.4 90.7h.9v.9h-.9zM227.4 85.8h.9v.9h-.9zM227.8 80.0h.9v.9h-.9zM217.1 83.4h.9v.9h-.9zM212.1 96.6h.9v.9h-.9zM220.4 86.7h.9v.9h-.9zM215.9 91.7h.9v.9h-.9zM215.8 93.5h.9v.9h-.9zM226.3 85.7h.9v.9h-.9zM226.1 84.7h.9v.9h-.9zM227.1 78.2h.9v.9h-.9zM223.3 90.4h.9v.9h-.9zM221.2 83.3h.9v.9h-.9zM226.3 82.7h.9v.9h-.9zM215.4 81.3h.9v.9h-.9zM216.6 98.9h.9v.9h-.9zM229.1 81.2h.9v.9h-.9zM223.0 89.6h.9v.9h-.9zM230.5 86.0h.9v.9h-.9zM232.6 89.8h.9v.9h-.9zM214.9 74.2h.9v.9h-.9zM241.4 78.8h.9v.9h-.9zM234.2 88.8h.9v.9h-.9zM233.3 90.3h.9v.9h-.9zM220.2 94.7h.9v.9h-.9zM228.1 86.5h.9v.9h-.9zM232.2 65.8h.9v.9h-.9zM218.6 73.9h.9v.9h-.9zM233.3 86.7h.9v.9h-.9zM230.9 76.9h.9v.9h-.9zM236.9 104.1h.9v.9h-.9zM229.4 74.9h.9v.9h-.9zM234.0 99.4h.9v.9h-.9zM242.4 73.0h.9v.9h-.9zM233.0 95.5h.9v.9h-.9zM212.4 92.7h.9v.9h-.9zM214.4 104.6h.9v.9h-.9zM224.7 91.5h.9v.9h-.9zM226.2 101.8h.9v.9h-.9zM231.7 99.9h.9v.9h-.9zM225.5 79.2h.9v.9h-.9zM225.7 86.7h.9v.9h-.9zM214.3 68.9h.9v.9h-.9zM238.6 73.2h.9v.9h-.9zM228.3 100.1h.9v.9h-.9zM242.0 72.9h.9v.9h-.9zM241.1 77.9h.9v.9h-.9zM242.8 72.4h.9v.9h-.9zM232.9 97.4h.9v.9h-.9zM214.1 70.9h.9v.9h-.9zM225.2 88.8h.9v.9h-.9zM228.3 71.4h.9v.9h-.9zM219.9 98.6h.9v.9h-.9zM213.4 70.7h.9v.9h-.9zM235.7 89.1h.9v.9h-.9zM237.0 103.1h.9v.9h-.9zM218.0 91.8h.9v.9h-.9zM212.6 87.5h.9v.9h-.9zM235.3 94.4h.9v.9h-.9zM233.7 81.6h.9v.9h-.9zM216.6 69.1h.9v.9h-.9zM218.0 93.6h.9v.9h-.9zM219.6 99.8h.9v.9h-.9zM232.9 74.8h.9v.9h-.9zM239.7 83.3h.9v.9h-.9zM238.5 98.1h.9v.9h-.9zM218.1 75.5h.9v.9h-.9zM222.7 77.7h.9v.9h-.9z" fill="#4858c8" fill-opacity="0.5"/>
<g filter="url(#bl1)" opacity="0.45" transform="translate(212.30 76.30) skewX(0) rotate(0)">
<ellipse cx="0.00" cy="-0.00" rx="5.89" ry="3.10" fill="#2342c8" fill-opacity="0.9"/>
</g>
<g filter="url(#bl1)" opacity="0.45" transform="translate(236.50 77.40) skewX(0) rotate(0)">
<ellipse cx="0.00" cy="-0.00" rx="8.53" ry="3.10" fill="#2342c8" fill-opacity="0.9"/>
</g>
<g filter="url(#bl1)" opacity="1.0" transform="translate(205.20 102.00) skewX(0) rotate(-22)">
<ellipse cx="0.00" cy="-0.00" rx="10.54" ry="7.13" fill="#2342c8" fill-opacity="0.9"/>
<ellipse cx="0.15" cy="-0.10" rx="9.11" ry="6.16" fill="#12a4e6" fill-opacity="1.0"/>
<ellipse cx="0.30" cy="-0.20" rx="7.34" ry="4.97" fill="#22c050" fill-opacity="1.0"/>
<ellipse cx="0.45" cy="-0.30" rx="4.49" ry="3.04" fill="#b8e020" fill-opacity="1.0"/>
<ellipse cx="0.60" cy="-0.40" rx="2.31" ry="1.56" fill="#ee4a12" fill-opacity="1.0"/>
</g>
<rect x="167.6" y="46.8" width="88.5" height="88.0" fill="none" stroke="#3a3a3a" stroke-width="1.0"/>
<line x1="216.30" y1="46.80" x2="216.30" y2="134.80" stroke="#333" stroke-width="1.1" />
<line x1="167.60" y1="90.20" x2="256.10" y2="90.20" stroke="#333" stroke-width="1.1" />
<text x="169.8" y="52.6" font-family="'Liberation Sans', sans-serif" font-size="4.6" font-weight="bold" fill="#2a2a2a" text-anchor="start" stroke="#2a2a2a" stroke-width="0.15">Q1</text>
<text x="169.8" y="59.4" font-family="'Liberation Sans', sans-serif" font-size="4.6" font-weight="bold" fill="#2a2a2a" text-anchor="start" stroke="#2a2a2a" stroke-width="0.15">5.29%</text>
<text x="254.1" y="52.6" font-family="'Liberation Sans', sans-serif" font-size="4.6" font-weight="bold" fill="#2a2a2a" text-anchor="end" stroke="#2a2a2a" stroke-width="0.15">Q2</text>
<text x="254.1" y="59.4" font-family="'Liberation Sans', sans-serif" font-size="4.6" font-weight="bold" fill="#2a2a2a" text-anchor="end" stroke="#2a2a2a" stroke-width="0.15">8.99%</text>
<text x="254.1" y="126.8" font-family="'Liberation Sans', sans-serif" font-size="4.6" font-weight="bold" fill="#2a2a2a" text-anchor="end" stroke="#2a2a2a" stroke-width="0.15">Q3</text>
<text x="254.1" y="133.2" font-family="'Liberation Sans', sans-serif" font-size="4.6" font-weight="bold" fill="#2a2a2a" text-anchor="end" stroke="#2a2a2a" stroke-width="0.15">2.93%</text>
<text x="169.8" y="126.8" font-family="'Liberation Sans', sans-serif" font-size="4.6" font-weight="bold" fill="#2a2a2a" text-anchor="start" stroke="#2a2a2a" stroke-width="0.15">Q4</text>
<text x="169.8" y="133.2" font-family="'Liberation Sans', sans-serif" font-size="4.6" font-weight="bold" fill="#2a2a2a" text-anchor="start" stroke="#2a2a2a" stroke-width="0.15">82.8%</text>
<line x1="165.80" y1="128.40" x2="167.60" y2="128.40" stroke="#333" stroke-width="0.7" />
<text x="162.6" y="130.6" font-family="'Liberation Sans', sans-serif" font-size="4.8" font-weight="bold" fill="#2a2a2a" text-anchor="end" stroke="#2a2a2a" stroke-width="0.15">10</text>
<text x="165.2" y="127.3" font-family="'Liberation Sans', sans-serif" font-size="4.3" font-weight="bold" fill="#2a2a2a" text-anchor="end" stroke="#2a2a2a" stroke-width="0.15">1</text>
<line x1="165.80" y1="116.08" x2="167.60" y2="116.08" stroke="#333" stroke-width="0.7" />
<text x="162.6" y="118.3" font-family="'Liberation Sans', sans-serif" font-size="4.8" font-weight="bold" fill="#2a2a2a" text-anchor="end" stroke="#2a2a2a" stroke-width="0.15">10</text>
<text x="165.2" y="115.0" font-family="'Liberation Sans', sans-serif" font-size="4.3" font-weight="bold" fill="#2a2a2a" text-anchor="end" stroke="#2a2a2a" stroke-width="0.15">2</text>
<line x1="165.80" y1="102.62" x2="167.60" y2="102.62" stroke="#333" stroke-width="0.7" />
<text x="162.6" y="104.8" font-family="'Liberation Sans', sans-serif" font-size="4.8" font-weight="bold" fill="#2a2a2a" text-anchor="end" stroke="#2a2a2a" stroke-width="0.15">10</text>
<text x="165.2" y="101.5" font-family="'Liberation Sans', sans-serif" font-size="4.3" font-weight="bold" fill="#2a2a2a" text-anchor="end" stroke="#2a2a2a" stroke-width="0.15">3</text>
<line x1="165.80" y1="89.42" x2="167.60" y2="89.42" stroke="#333" stroke-width="0.7" />
<text x="162.6" y="91.6" font-family="'Liberation Sans', sans-serif" font-size="4.8" font-weight="bold" fill="#2a2a2a" text-anchor="end" stroke="#2a2a2a" stroke-width="0.15">10</text>
<text x="165.2" y="88.3" font-family="'Liberation Sans', sans-serif" font-size="4.3" font-weight="bold" fill="#2a2a2a" text-anchor="end" stroke="#2a2a2a" stroke-width="0.15">4</text>
<line x1="165.80" y1="77.80" x2="167.60" y2="77.80" stroke="#333" stroke-width="0.7" />
<text x="162.6" y="80.0" font-family="'Liberation Sans', sans-serif" font-size="4.8" font-weight="bold" fill="#2a2a2a" text-anchor="end" stroke="#2a2a2a" stroke-width="0.15">10</text>
<text x="165.2" y="76.7" font-family="'Liberation Sans', sans-serif" font-size="4.3" font-weight="bold" fill="#2a2a2a" text-anchor="end" stroke="#2a2a2a" stroke-width="0.15">5</text>
<line x1="165.80" y1="66.36" x2="167.60" y2="66.36" stroke="#333" stroke-width="0.7" />
<text x="162.6" y="68.6" font-family="'Liberation Sans', sans-serif" font-size="4.8" font-weight="bold" fill="#2a2a2a" text-anchor="end" stroke="#2a2a2a" stroke-width="0.15">10</text>
<text x="165.2" y="65.3" font-family="'Liberation Sans', sans-serif" font-size="4.3" font-weight="bold" fill="#2a2a2a" text-anchor="end" stroke="#2a2a2a" stroke-width="0.15">6</text>
<line x1="165.80" y1="54.75" x2="167.60" y2="54.75" stroke="#333" stroke-width="0.7" />
<text x="162.6" y="56.9" font-family="'Liberation Sans', sans-serif" font-size="4.8" font-weight="bold" fill="#2a2a2a" text-anchor="end" stroke="#2a2a2a" stroke-width="0.15">10</text>
<text x="165.2" y="53.6" font-family="'Liberation Sans', sans-serif" font-size="4.3" font-weight="bold" fill="#2a2a2a" text-anchor="end" stroke="#2a2a2a" stroke-width="0.15">7</text>
<line x1="166.70" y1="48.80" x2="167.60" y2="48.80" stroke="#555" stroke-width="0.35" />
<line x1="166.70" y1="50.90" x2="167.60" y2="50.90" stroke="#555" stroke-width="0.35" />
<line x1="166.70" y1="53.00" x2="167.60" y2="53.00" stroke="#555" stroke-width="0.35" />
<line x1="166.70" y1="55.10" x2="167.60" y2="55.10" stroke="#555" stroke-width="0.35" />
<line x1="166.70" y1="57.20" x2="167.60" y2="57.20" stroke="#555" stroke-width="0.35" />
<line x1="166.70" y1="59.30" x2="167.60" y2="59.30" stroke="#555" stroke-width="0.35" />
<line x1="166.70" y1="61.40" x2="167.60" y2="61.40" stroke="#555" stroke-width="0.35" />
<line x1="166.70" y1="63.50" x2="167.60" y2="63.50" stroke="#555" stroke-width="0.35" />
<line x1="166.70" y1="65.60" x2="167.60" y2="65.60" stroke="#555" stroke-width="0.35" />
<line x1="166.70" y1="67.70" x2="167.60" y2="67.70" stroke="#555" stroke-width="0.35" />
<line x1="166.70" y1="69.80" x2="167.60" y2="69.80" stroke="#555" stroke-width="0.35" />
<line x1="166.70" y1="71.90" x2="167.60" y2="71.90" stroke="#555" stroke-width="0.35" />
<line x1="166.70" y1="74.00" x2="167.60" y2="74.00" stroke="#555" stroke-width="0.35" />
<line x1="166.70" y1="76.10" x2="167.60" y2="76.10" stroke="#555" stroke-width="0.35" />
<line x1="166.70" y1="78.20" x2="167.60" y2="78.20" stroke="#555" stroke-width="0.35" />
<line x1="166.70" y1="80.30" x2="167.60" y2="80.30" stroke="#555" stroke-width="0.35" />
<line x1="166.70" y1="82.40" x2="167.60" y2="82.40" stroke="#555" stroke-width="0.35" />
<line x1="166.70" y1="84.50" x2="167.60" y2="84.50" stroke="#555" stroke-width="0.35" />
<line x1="166.70" y1="86.60" x2="167.60" y2="86.60" stroke="#555" stroke-width="0.35" />
<line x1="166.70" y1="88.70" x2="167.60" y2="88.70" stroke="#555" stroke-width="0.35" />
<line x1="166.70" y1="90.80" x2="167.60" y2="90.80" stroke="#555" stroke-width="0.35" />
<line x1="166.70" y1="92.90" x2="167.60" y2="92.90" stroke="#555" stroke-width="0.35" />
<line x1="166.70" y1="95.00" x2="167.60" y2="95.00" stroke="#555" stroke-width="0.35" />
<line x1="166.70" y1="97.10" x2="167.60" y2="97.10" stroke="#555" stroke-width="0.35" />
<line x1="166.70" y1="99.20" x2="167.60" y2="99.20" stroke="#555" stroke-width="0.35" />
<line x1="166.70" y1="101.30" x2="167.60" y2="101.30" stroke="#555" stroke-width="0.35" />
<line x1="166.70" y1="103.40" x2="167.60" y2="103.40" stroke="#555" stroke-width="0.35" />
<line x1="166.70" y1="105.50" x2="167.60" y2="105.50" stroke="#555" stroke-width="0.35" />
<line x1="166.70" y1="107.60" x2="167.60" y2="107.60" stroke="#555" stroke-width="0.35" />
<line x1="166.70" y1="109.70" x2="167.60" y2="109.70" stroke="#555" stroke-width="0.35" />
<line x1="166.70" y1="111.80" x2="167.60" y2="111.80" stroke="#555" stroke-width="0.35" />
<line x1="166.70" y1="113.90" x2="167.60" y2="113.90" stroke="#555" stroke-width="0.35" />
<line x1="166.70" y1="116.00" x2="167.60" y2="116.00" stroke="#555" stroke-width="0.35" />
<line x1="166.70" y1="118.10" x2="167.60" y2="118.10" stroke="#555" stroke-width="0.35" />
<line x1="166.70" y1="120.20" x2="167.60" y2="120.20" stroke="#555" stroke-width="0.35" />
<line x1="166.70" y1="122.30" x2="167.60" y2="122.30" stroke="#555" stroke-width="0.35" />
<line x1="166.70" y1="124.40" x2="167.60" y2="124.40" stroke="#555" stroke-width="0.35" />
<line x1="166.70" y1="126.50" x2="167.60" y2="126.50" stroke="#555" stroke-width="0.35" />
<line x1="166.70" y1="128.60" x2="167.60" y2="128.60" stroke="#555" stroke-width="0.35" />
<line x1="166.70" y1="130.70" x2="167.60" y2="130.70" stroke="#555" stroke-width="0.35" />
<line x1="174.97" y1="134.80" x2="174.97" y2="137.00" stroke="#333" stroke-width="0.7" />
<text x="172.5" y="144.1" font-family="'Liberation Sans', sans-serif" font-size="4.8" font-weight="bold" fill="#2a2a2a" text-anchor="middle" stroke="#2a2a2a" stroke-width="0.15">10</text>
<text x="176.7" y="140.8" font-family="'Liberation Sans', sans-serif" font-size="4.3" font-weight="bold" fill="#2a2a2a" text-anchor="middle" stroke="#2a2a2a" stroke-width="0.15">1</text>
<line x1="185.06" y1="134.80" x2="185.06" y2="137.00" stroke="#333" stroke-width="0.7" />
<text x="182.6" y="144.1" font-family="'Liberation Sans', sans-serif" font-size="4.8" font-weight="bold" fill="#2a2a2a" text-anchor="middle" stroke="#2a2a2a" stroke-width="0.15">10</text>
<text x="186.8" y="140.8" font-family="'Liberation Sans', sans-serif" font-size="4.3" font-weight="bold" fill="#2a2a2a" text-anchor="middle" stroke="#2a2a2a" stroke-width="0.15">2</text>
<line x1="197.80" y1="134.80" x2="197.80" y2="137.00" stroke="#333" stroke-width="0.7" />
<text x="195.3" y="144.1" font-family="'Liberation Sans', sans-serif" font-size="4.8" font-weight="bold" fill="#2a2a2a" text-anchor="middle" stroke="#2a2a2a" stroke-width="0.15">10</text>
<text x="199.5" y="140.8" font-family="'Liberation Sans', sans-serif" font-size="4.3" font-weight="bold" fill="#2a2a2a" text-anchor="middle" stroke="#2a2a2a" stroke-width="0.15">3</text>
<line x1="211.16" y1="134.80" x2="211.16" y2="137.00" stroke="#333" stroke-width="0.7" />
<text x="208.7" y="144.1" font-family="'Liberation Sans', sans-serif" font-size="4.8" font-weight="bold" fill="#2a2a2a" text-anchor="middle" stroke="#2a2a2a" stroke-width="0.15">10</text>
<text x="212.9" y="140.8" font-family="'Liberation Sans', sans-serif" font-size="4.3" font-weight="bold" fill="#2a2a2a" text-anchor="middle" stroke="#2a2a2a" stroke-width="0.15">4</text>
<line x1="224.53" y1="134.80" x2="224.53" y2="137.00" stroke="#333" stroke-width="0.7" />
<text x="222.0" y="144.1" font-family="'Liberation Sans', sans-serif" font-size="4.8" font-weight="bold" fill="#2a2a2a" text-anchor="middle" stroke="#2a2a2a" stroke-width="0.15">10</text>
<text x="226.2" y="140.8" font-family="'Liberation Sans', sans-serif" font-size="4.3" font-weight="bold" fill="#2a2a2a" text-anchor="middle" stroke="#2a2a2a" stroke-width="0.15">5</text>
<line x1="237.89" y1="134.80" x2="237.89" y2="137.00" stroke="#333" stroke-width="0.7" />
<text x="235.4" y="144.1" font-family="'Liberation Sans', sans-serif" font-size="4.8" font-weight="bold" fill="#2a2a2a" text-anchor="middle" stroke="#2a2a2a" stroke-width="0.15">10</text>
<text x="239.6" y="140.8" font-family="'Liberation Sans', sans-serif" font-size="4.3" font-weight="bold" fill="#2a2a2a" text-anchor="middle" stroke="#2a2a2a" stroke-width="0.15">6</text>
<line x1="250.55" y1="134.80" x2="250.55" y2="137.00" stroke="#333" stroke-width="0.7" />
<text x="248.0" y="144.1" font-family="'Liberation Sans', sans-serif" font-size="4.8" font-weight="bold" fill="#2a2a2a" text-anchor="middle" stroke="#2a2a2a" stroke-width="0.15">10</text>
<text x="252.2" y="140.8" font-family="'Liberation Sans', sans-serif" font-size="4.3" font-weight="bold" fill="#2a2a2a" text-anchor="middle" stroke="#2a2a2a" stroke-width="0.15">7</text>
<line x1="168.60" y1="134.80" x2="168.60" y2="136.00" stroke="#555" stroke-width="0.35" />
<line x1="170.76" y1="134.80" x2="170.76" y2="136.00" stroke="#555" stroke-width="0.35" />
<line x1="172.92" y1="134.80" x2="172.92" y2="136.00" stroke="#555" stroke-width="0.35" />
<line x1="175.09" y1="134.80" x2="175.09" y2="136.00" stroke="#555" stroke-width="0.35" />
<line x1="177.25" y1="134.80" x2="177.25" y2="136.00" stroke="#555" stroke-width="0.35" />
<line x1="179.41" y1="134.80" x2="179.41" y2="136.00" stroke="#555" stroke-width="0.35" />
<line x1="181.57" y1="134.80" x2="181.57" y2="136.00" stroke="#555" stroke-width="0.35" />
<line x1="183.74" y1="134.80" x2="183.74" y2="136.00" stroke="#555" stroke-width="0.35" />
<line x1="185.90" y1="134.80" x2="185.90" y2="136.00" stroke="#555" stroke-width="0.35" />
<line x1="188.06" y1="134.80" x2="188.06" y2="136.00" stroke="#555" stroke-width="0.35" />
<line x1="190.22" y1="134.80" x2="190.22" y2="136.00" stroke="#555" stroke-width="0.35" />
<line x1="192.39" y1="134.80" x2="192.39" y2="136.00" stroke="#555" stroke-width="0.35" />
<line x1="194.55" y1="134.80" x2="194.55" y2="136.00" stroke="#555" stroke-width="0.35" />
<line x1="196.71" y1="134.80" x2="196.71" y2="136.00" stroke="#555" stroke-width="0.35" />
<line x1="198.88" y1="134.80" x2="198.88" y2="136.00" stroke="#555" stroke-width="0.35" />
<line x1="201.04" y1="134.80" x2="201.04" y2="136.00" stroke="#555" stroke-width="0.35" />
<line x1="203.20" y1="134.80" x2="203.20" y2="136.00" stroke="#555" stroke-width="0.35" />
<line x1="205.36" y1="134.80" x2="205.36" y2="136.00" stroke="#555" stroke-width="0.35" />
<line x1="207.53" y1="134.80" x2="207.53" y2="136.00" stroke="#555" stroke-width="0.35" />
<line x1="209.69" y1="134.80" x2="209.69" y2="136.00" stroke="#555" stroke-width="0.35" />
<line x1="211.85" y1="134.80" x2="211.85" y2="136.00" stroke="#555" stroke-width="0.35" />
<line x1="214.01" y1="134.80" x2="214.01" y2="136.00" stroke="#555" stroke-width="0.35" />
<line x1="216.18" y1="134.80" x2="216.18" y2="136.00" stroke="#555" stroke-width="0.35" />
<line x1="218.34" y1="134.80" x2="218.34" y2="136.00" stroke="#555" stroke-width="0.35" />
<line x1="220.50" y1="134.80" x2="220.50" y2="136.00" stroke="#555" stroke-width="0.35" />
<line x1="222.66" y1="134.80" x2="222.66" y2="136.00" stroke="#555" stroke-width="0.35" />
<line x1="224.83" y1="134.80" x2="224.83" y2="136.00" stroke="#555" stroke-width="0.35" />
<line x1="226.99" y1="134.80" x2="226.99" y2="136.00" stroke="#555" stroke-width="0.35" />
<line x1="229.15" y1="134.80" x2="229.15" y2="136.00" stroke="#555" stroke-width="0.35" />
<line x1="231.31" y1="134.80" x2="231.31" y2="136.00" stroke="#555" stroke-width="0.35" />
<line x1="233.48" y1="134.80" x2="233.48" y2="136.00" stroke="#555" stroke-width="0.35" />
<line x1="235.64" y1="134.80" x2="235.64" y2="136.00" stroke="#555" stroke-width="0.35" />
<line x1="237.80" y1="134.80" x2="237.80" y2="136.00" stroke="#555" stroke-width="0.35" />
<line x1="239.96" y1="134.80" x2="239.96" y2="136.00" stroke="#555" stroke-width="0.35" />
<line x1="242.12" y1="134.80" x2="242.12" y2="136.00" stroke="#555" stroke-width="0.35" />
<line x1="244.29" y1="134.80" x2="244.29" y2="136.00" stroke="#555" stroke-width="0.35" />
<line x1="246.45" y1="134.80" x2="246.45" y2="136.00" stroke="#555" stroke-width="0.35" />
<line x1="248.61" y1="134.80" x2="248.61" y2="136.00" stroke="#555" stroke-width="0.35" />
<line x1="250.78" y1="134.80" x2="250.78" y2="136.00" stroke="#555" stroke-width="0.35" />
<line x1="252.94" y1="134.80" x2="252.94" y2="136.00" stroke="#555" stroke-width="0.35" />
</g>
<g>
<path d="M333.0 93.1h.9v.9h-.9zM307.5 103.5h.9v.9h-.9zM321.8 93.4h.9v.9h-.9zM320.5 102.0h.9v.9h-.9zM318.9 98.4h.9v.9h-.9zM317.9 94.3h.9v.9h-.9zM311.1 103.3h.9v.9h-.9zM323.1 102.5h.9v.9h-.9zM317.2 100.3h.9v.9h-.9zM340.8 91.3h.9v.9h-.9zM326.8 103.1h.9v.9h-.9zM320.8 100.2h.9v.9h-.9zM318.8 96.3h.9v.9h-.9zM316.5 97.0h.9v.9h-.9zM317.2 102.3h.9v.9h-.9zM322.4 103.1h.9v.9h-.9zM325.4 98.3h.9v.9h-.9zM322.5 101.5h.9v.9h-.9zM326.3 94.5h.9v.9h-.9zM322.1 100.6h.9v.9h-.9zM321.6 97.4h.9v.9h-.9zM329.5 93.0h.9v.9h-.9zM322.5 93.1h.9v.9h-.9zM316.8 95.6h.9v.9h-.9zM320.6 98.1h.9v.9h-.9zM322.9 93.7h.9v.9h-.9zM330.1 89.7h.9v.9h-.9zM322.6 102.0h.9v.9h-.9zM321.1 99.4h.9v.9h-.9zM333.5 105.1h.9v.9h-.9zM320.0 104.8h.9v.9h-.9zM319.7 97.9h.9v.9h-.9zM328.5 98.6h.9v.9h-.9zM326.1 98.3h.9v.9h-.9zM321.5 96.5h.9v.9h-.9zM328.1 100.4h.9v.9h-.9zM306.9 105.6h.9v.9h-.9zM321.2 86.0h.9v.9h-.9zM319.4 104.6h.9v.9h-.9zM313.0 102.4h.9v.9h-.9zM326.9 102.8h.9v.9h-.9zM324.6 94.7h.9v.9h-.9zM317.9 96.7h.9v.9h-.9zM320.4 107.4h.9v.9h-.9zM320.4 95.5h.9v.9h-.9zM322.7 99.8h.9v.9h-.9zM332.4 99.1h.9v.9h-.9zM326.4 97.0h.9v.9h-.9zM323.3 98.1h.9v.9h-.9zM328.2 95.8h.9v.9h-.9zM323.2 102.3h.9v.9h-.9zM316.3 99.4h.9v.9h-.9zM326.6 99.1h.9v.9h-.9zM326.6 99.0h.9v.9h-.9zM326.3 107.1h.9v.9h-.9zM317.9 100.4h.9v.9h-.9zM321.7 95.3h.9v.9h-.9zM311.7 109.3h.9v.9h-.9zM325.1 95.5h.9v.9h-.9zM325.5 98.3h.9v.9h-.9zM314.7 104.7h.9v.9h-.9zM325.2 102.5h.9v.9h-.9zM316.4 100.0h.9v.9h-.9zM326.0 96.3h.9v.9h-.9zM307.2 97.4h.9v.9h-.9zM316.1 99.1h.9v.9h-.9zM329.2 101.6h.9v.9h-.9zM326.8 93.1h.9v.9h-.9zM310.4 103.7h.9v.9h-.9zM317.5 96.7h.9v.9h-.9zM325.3 99.8h.9v.9h-.9zM319.9 101.5h.9v.9h-.9zM327.9 90.1h.9v.9h-.9zM318.0 104.9h.9v.9h-.9zM324.8 98.7h.9v.9h-.9zM318.9 104.8h.9v.9h-.9zM328.1 92.4h.9v.9h-.9zM326.0 104.6h.9v.9h-.9zM321.5 101.5h.9v.9h-.9zM313.8 104.1h.9v.9h-.9zM329.7 92.0h.9v.9h-.9zM325.7 95.8h.9v.9h-.9zM328.0 99.3h.9v.9h-.9zM327.6 94.5h.9v.9h-.9zM326.5 101.3h.9v.9h-.9zM320.5 102.9h.9v.9h-.9zM321.3 105.9h.9v.9h-.9zM320.2 104.2h.9v.9h-.9zM329.1 94.4h.9v.9h-.9zM311.3 97.6h.9v.9h-.9zM320.2 101.9h.9v.9h-.9zM322.5 102.5h.9v.9h-.9zM323.9 98.8h.9v.9h-.9zM326.5 98.9h.9v.9h-.9zM315.4 101.5h.9v.9h-.9zM313.2 103.3h.9v.9h-.9zM320.5 96.0h.9v.9h-.9zM331.3 99.4h.9v.9h-.9zM326.6 97.1h.9v.9h-.9zM322.5 96.7h.9v.9h-.9zM318.2 95.8h.9v.9h-.9zM323.6 97.6h.9v.9h-.9zM324.3 104.4h.9v.9h-.9zM327.5 97.9h.9v.9h-.9zM317.1 99.2h.9v.9h-.9zM326.1 103.1h.9v.9h-.9zM324.9 103.9h.9v.9h-.9zM327.2 100.4h.9v.9h-.9zM325.2 100.8h.9v.9h-.9zM337.5 94.5h.9v.9h-.9zM331.0 95.9h.9v.9h-.9zM331.5 96.7h.9v.9h-.9zM310.8 103.1h.9v.9h-.9zM323.9 104.9h.9v.9h-.9zM320.0 101.7h.9v.9h-.9zM329.3 103.7h.9v.9h-.9zM307.0 99.8h.9v.9h-.9zM329.8 97.5h.9v.9h-.9zM329.8 98.7h.9v.9h-.9zM315.4 102.1h.9v.9h-.9zM318.6 103.6h.9v.9h-.9zM320.1 104.0h.9v.9h-.9zM323.9 100.7h.9v.9h-.9zM324.5 95.2h.9v.9h-.9zM332.3 92.0h.9v.9h-.9zM323.6 102.9h.9v.9h-.9zM328.9 100.6h.9v.9h-.9zM323.5 98.8h.9v.9h-.9zM331.4 93.6h.9v.9h-.9zM326.6 97.3h.9v.9h-.9zM331.4 97.9h.9v.9h-.9zM315.0 99.1h.9v.9h-.9zM318.8 95.4h.9v.9h-.9zM318.7 102.0h.9v.9h-.9zM327.6 90.6h.9v.9h-.9zM324.5 95.0h.9v.9h-.9zM321.2 100.3h.9v.9h-.9zM321.3 102.0h.9v.9h-.9zM322.7 94.0h.9v.9h-.9zM320.7 103.8h.9v.9h-.9zM314.2 96.3h.9v.9h-.9zM326.0 99.2h.9v.9h-.9zM331.4 86.1h.9v.9h-.9zM318.6 95.7h.9v.9h-.9zM321.1 102.8h.9v.9h-.9zM315.9 101.5h.9v.9h-.9zM314.3 100.7h.9v.9h-.9zM324.2 95.9h.9v.9h-.9zM327.7 97.8h.9v.9h-.9zM322.4 98.8h.9v.9h-.9zM324.1 97.8h.9v.9h-.9zM325.3 102.0h.9v.9h-.9zM321.7 96.3h.9v.9h-.9zM314.0 102.4h.9v.9h-.9zM319.2 98.8h.9v.9h-.9zM325.5 102.4h.9v.9h-.9zM320.7 104.7h.9v.9h-.9zM322.8 104.6h.9v.9h-.9zM318.4 101.5h.9v.9h-.9zM320.5 99.6h.9v.9h-.9zM328.5 99.0h.9v.9h-.9zM319.7 99.0h.9v.9h-.9zM323.5 102.1h.9v.9h-.9zM328.0 98.7h.9v.9h-.9zM324.2 94.7h.9v.9h-.9zM330.7 93.3h.9v.9h-.9zM311.9 105.3h.9v.9h-.9zM330.3 101.8h.9v.9h-.9zM325.5 108.8h.9v.9h-.9zM323.0 98.2h.9v.9h-.9zM326.7 96.4h.9v.9h-.9zM323.1 88.3h.9v.9h-.9zM328.1 96.3h.9v.9h-.9zM323.3 98.5h.9v.9h-.9zM328.2 90.4h.9v.9h-.9zM322.7 102.4h.9v.9h-.9zM318.6 94.5h.9v.9h-.9zM326.0 95.8h.9v.9h-.9zM320.1 101.2h.9v.9h-.9zM330.6 88.1h.9v.9h-.9zM329.3 98.5h.9v.9h-.9zM335.4 95.4h.9v.9h-.9zM319.5 94.7h.9v.9h-.9zM317.7 95.7h.9v.9h-.9zM324.6 100.4h.9v.9h-.9zM326.1 96.5h.9v.9h-.9zM317.1 97.0h.9v.9h-.9zM323.8 96.8h.9v.9h-.9zM322.2 98.7h.9v.9h-.9zM330.2 93.4h.9v.9h-.9zM320.9 103.8h.9v.9h-.9zM328.5 96.9h.9v.9h-.9zM323.0 106.7h.9v.9h-.9zM320.6 106.5h.9v.9h-.9zM320.4 103.4h.9v.9h-.9zM318.8 106.3h.9v.9h-.9zM326.0 102.7h.9v.9h-.9zM329.1 97.9h.9v.9h-.9zM320.8 94.6h.9v.9h-.9zM327.4 99.7h.9v.9h-.9zM330.7 94.0h.9v.9h-.9zM327.2 103.3h.9v.9h-.9zM323.7 98.7h.9v.9h-.9zM322.2 101.6h.9v.9h-.9zM315.2 105.2h.9v.9h-.9zM329.7 101.9h.9v.9h-.9zM314.2 105.2h.9v.9h-.9zM325.2 96.0h.9v.9h-.9zM323.1 100.0h.9v.9h-.9zM327.2 94.0h.9v.9h-.9zM322.5 99.7h.9v.9h-.9zM318.4 101.6h.9v.9h-.9zM324.8 98.7h.9v.9h-.9zM323.7 106.9h.9v.9h-.9zM320.8 98.3h.9v.9h-.9zM322.8 99.0h.9v.9h-.9zM321.4 98.8h.9v.9h-.9zM323.0 101.7h.9v.9h-.9zM315.9 97.9h.9v.9h-.9zM320.1 97.4h.9v.9h-.9zM311.9 105.7h.9v.9h-.9zM322.9 101.2h.9v.9h-.9zM316.5 102.7h.9v.9h-.9zM327.0 93.8h.9v.9h-.9zM327.0 92.2h.9v.9h-.9zM313.9 106.9h.9v.9h-.9zM326.2 103.1h.9v.9h-.9zM322.5 100.4h.9v.9h-.9zM317.7 103.0h.9v.9h-.9zM326.0 98.7h.9v.9h-.9zM318.3 97.5h.9v.9h-.9zM313.1 103.7h.9v.9h-.9zM320.6 99.0h.9v.9h-.9zM322.4 100.4h.9v.9h-.9zM323.0 98.6h.9v.9h-.9zM313.9 99.1h.9v.9h-.9zM327.9 100.6h.9v.9h-.9zM329.6 102.0h.9v.9h-.9zM316.3 101.8h.9v.9h-.9zM320.1 102.4h.9v.9h-.9zM322.7 100.1h.9v.9h-.9zM321.3 103.3h.9v.9h-.9zM328.1 88.7h.9v.9h-.9zM326.9 103.5h.9v.9h-.9zM316.5 100.8h.9v.9h-.9zM321.2 105.6h.9v.9h-.9zM322.4 99.4h.9v.9h-.9zM333.0 90.4h.9v.9h-.9zM321.3 99.1h.9v.9h-.9zM325.0 101.5h.9v.9h-.9zM323.3 94.6h.9v.9h-.9zM321.5 97.9h.9v.9h-.9zM332.8 90.1h.9v.9h-.9zM316.3 95.2h.9v.9h-.9zM328.9 100.8h.9v.9h-.9zM324.5 100.3h.9v.9h-.9zM325.5 96.9h.9v.9h-.9zM319.1 106.5h.9v.9h-.9zM329.3 90.3h.9v.9h-.9zM321.7 99.2h.9v.9h-.9zM326.2 104.4h.9v.9h-.9zM319.9 105.1h.9v.9h-.9zM314.3 94.2h.9v.9h-.9zM318.4 86.6h.9v.9h-.9zM325.2 92.5h.9v.9h-.9zM328.4 100.0h.9v.9h-.9zM327.5 93.6h.9v.9h-.9zM325.6 96.0h.9v.9h-.9zM323.9 100.8h.9v.9h-.9zM324.8 93.5h.9v.9h-.9zM325.9 97.8h.9v.9h-.9zM323.6 101.8h.9v.9h-.9zM327.1 98.2h.9v.9h-.9zM329.7 96.1h.9v.9h-.9zM322.4 96.3h.9v.9h-.9zM321.8 101.8h.9v.9h-.9zM325.2 95.3h.9v.9h-.9zM334.6 97.1h.9v.9h-.9zM326.8 107.9h.9v.9h-.9zM320.5 96.9h.9v.9h-.9zM317.3 92.5h.9v.9h-.9zM327.7 93.7h.9v.9h-.9zM314.2 106.1h.9v.9h-.9zM326.5 101.2h.9v.9h-.9zM330.6 98.6h.9v.9h-.9zM316.9 99.1h.9v.9h-.9zM328.2 91.7h.9v.9h-.9zM327.8 101.3h.9v.9h-.9zM317.5 97.3h.9v.9h-.9zM325.8 101.8h.9v.9h-.9zM314.5 103.2h.9v.9h-.9zM321.3 103.3h.9v.9h-.9zM333.0 95.4h.9v.9h-.9zM319.7 104.3h.9v.9h-.9zM333.3 95.7h.9v.9h-.9zM320.0 96.1h.9v.9h-.9zM328.0 96.8h.9v.9h-.9zM322.7 98.9h.9v.9h-.9zM312.1 107.2h.9v.9h-.9zM322.2 104.8h.9v.9h-.9zM316.3 95.9h.9v.9h-.9zM311.1 102.7h.9v.9h-.9zM310.9 124.0h.9v.9h-.9zM315.8 103.0h.9v.9h-.9zM328.4 95.2h.9v.9h-.9zM309.9 99.2h.9v.9h-.9zM333.2 102.9h.9v.9h-.9zM322.9 88.7h.9v.9h-.9zM316.8 106.2h.9v.9h-.9zM303.8 111.7h.9v.9h-.9zM322.4 108.0h.9v.9h-.9zM327.6 110.7h.9v.9h-.9zM298.7 92.7h.9v.9h-.9zM333.5 88.9h.9v.9h-.9zM338.9 117.2h.9v.9h-.9zM323.5 115.4h.9v.9h-.9zM325.3 90.4h.9v.9h-.9zM347.9 107.0h.9v.9h-.9zM334.0 105.2h.9v.9h-.9zM308.9 110.2h.9v.9h-.9zM319.3 107.0h.9v.9h-.9zM317.7 100.2h.9v.9h-.9zM317.7 106.9h.9v.9h-.9zM291.6 106.5h.9v.9h-.9zM328.4 104.5h.9v.9h-.9zM312.0 87.4h.9v.9h-.9zM321.4 76.5h.9v.9h-.9zM317.9 97.5h.9v.9h-.9zM329.8 89.5h.9v.9h-.9zM316.0 107.4h.9v.9h-.9zM310.1 111.8h.9v.9h-.9zM325.8 107.5h.9v.9h-.9zM336.0 101.5h.9v.9h-.9zM315.7 105.7h.9v.9h-.9zM335.6 116.1h.9v.9h-.9zM322.6 98.1h.9v.9h-.9zM313.2 113.8h.9v.9h-.9zM337.5 111.7h.9v.9h-.9zM309.9 107.5h.9v.9h-.9zM331.4 118.8h.9v.9h-.9zM313.6 98.2h.9v.9h-.9zM324.8 114.0h.9v.9h-.9zM305.0 96.2h.9v.9h-.9zM309.6 97.7h.9v.9h-.9zM332.0 94.9h.9v.9h-.9zM321.7 109.2h.9v.9h-.9zM320.0 96.1h.9v.9h-.9zM314.3 105.5h.9v.9h-.9zM324.8 94.2h.9v.9h-.9zM303.0 115.1h.9v.9h-.9zM306.3 122.4h.9v.9h-.9zM317.6 107.1h.9v.9h-.9zM309.7 120.6h.9v.9h-.9zM311.2 110.3h.9v.9h-.9zM318.7 125.6h.9v.9h-.9zM317.9 105.9h.9v.9h-.9zM316.9 90.1h.9v.9h-.9zM339.1 119.2h.9v.9h-.9zM331.4 103.8h.9v.9h-.9zM334.0 95.2h.9v.9h-.9zM319.2 98.8h.9v.9h-.9zM313.6 89.5h.9v.9h-.9zM302.4 103.4h.9v.9h-.9zM315.4 94.8h.9v.9h-.9zM294.9 119.1h.9v.9h-.9zM312.6 111.3h.9v.9h-.9zM328.5 89.2h.9v.9h-.9zM338.6 90.7h.9v.9h-.9zM330.9 99.6h.9v.9h-.9zM309.4 86.7h.9v.9h-.9zM325.3 104.0h.9v.9h-.9zM310.2 104.6h.9v.9h-.9zM329.2 97.7h.9v.9h-.9zM318.2 99.8h.9v.9h-.9zM329.6 109.7h.9v.9h-.9zM349.8 118.5h.9v.9h-.9zM330.4 119.2h.9v.9h-.9zM347.0 105.3h.9v.9h-.9zM321.6 113.1h.9v.9h-.9zM315.6 98.0h.9v.9h-.9zM335.2 108.9h.9v.9h-.9zM339.8 95.9h.9v.9h-.9zM313.0 111.9h.9v.9h-.9zM320.4 93.2h.9v.9h-.9zM302.6 95.8h.9v.9h-.9zM317.1 104.9h.9v.9h-.9zM330.0 110.3h.9v.9h-.9zM318.5 91.3h.9v.9h-.9zM312.8 99.9h.9v.9h-.9zM302.9 106.3h.9v.9h-.9zM323.8 107.2h.9v.9h-.9zM328.9 97.0h.9v.9h-.9zM326.5 105.9h.9v.9h-.9zM322.5 102.5h.9v.9h-.9zM304.5 118.3h.9v.9h-.9zM340.3 110.3h.9v.9h-.9zM318.8 92.4h.9v.9h-.9zM317.8 84.1h.9v.9h-.9zM328.1 105.9h.9v.9h-.9zM294.0 116.2h.9v.9h-.9zM318.7 106.7h.9v.9h-.9zM317.9 113.4h.9v.9h-.9zM323.9 100.4h.9v.9h-.9zM335.4 92.0h.9v.9h-.9zM325.1 112.1h.9v.9h-.9zM297.9 105.9h.9v.9h-.9zM315.5 111.5h.9v.9h-.9zM321.9 91.9h.9v.9h-.9zM321.2 106.7h.9v.9h-.9zM304.4 99.1h.9v.9h-.9zM299.9 112.7h.9v.9h-.9zM326.0 99.5h.9v.9h-.9zM323.5 99.2h.9v.9h-.9zM319.2 99.4h.9v.9h-.9zM299.2 117.0h.9v.9h-.9zM340.4 105.3h.9v.9h-.9zM315.2 95.3h.9v.9h-.9zM344.1 95.1h.9v.9h-.9zM317.6 118.9h.9v.9h-.9zM322.2 87.8h.9v.9h-.9zM305.6 96.9h.9v.9h-.9zM335.5 111.1h.9v.9h-.9zM304.3 116.2h.9v.9h-.9zM322.5 103.6h.9v.9h-.9zM321.1 112.5h.9v.9h-.9zM307.1 112.2h.9v.9h-.9zM329.9 114.4h.9v.9h-.9zM302.8 105.4h.9v.9h-.9zM311.4 120.7h.9v.9h-.9zM319.2 107.1h.9v.9h-.9zM314.6 119.7h.9v.9h-.9zM325.0 94.7h.9v.9h-.9zM330.4 114.1h.9v.9h-.9zM316.0 93.3h.9v.9h-.9zM313.1 91.0h.9v.9h-.9zM313.4 110.0h.9v.9h-.9zM315.2 97.4h.9v.9h-.9zM329.0 109.5h.9v.9h-.9zM316.9 95.1h.9v.9h-.9zM324.3 120.6h.9v.9h-.9zM318.4 105.4h.9v.9h-.9zM309.6 94.6h.9v.9h-.9zM329.7 107.0h.9v.9h-.9zM307.3 113.8h.9v.9h-.9zM319.6 98.1h.9v.9h-.9zM337.0 110.3h.9v.9h-.9zM306.6 124.9h.9v.9h-.9zM318.8 113.7h.9v.9h-.9zM300.8 105.4h.9v.9h-.9zM313.5 100.1h.9v.9h-.9zM301.9 111.0h.9v.9h-.9zM315.2 91.1h.9v.9h-.9zM313.2 76.6h.9v.9h-.9zM321.1 99.2h.9v.9h-.9zM338.2 95.2h.9v.9h-.9zM322.8 122.1h.9v.9h-.9zM327.3 106.9h.9v.9h-.9zM318.9 96.2h.9v.9h-.9zM316.6 94.5h.9v.9h-.9zM309.7 110.3h.9v.9h-.9zM298.3 97.7h.9v.9h-.9zM320.3 100.0h.9v.9h-.9zM338.7 104.7h.9v.9h-.9zM325.1 106.4h.9v.9h-.9zM313.2 106.5h.9v.9h-.9zM338.9 106.7h.9v.9h-.9zM314.4 118.0h.9v.9h-.9zM312.2 121.8h.9v.9h-.9zM305.2 89.9h.9v.9h-.9zM350.1 74.2h.9v.9h-.9zM334.5 77.4h.9v.9h-.9zM341.5 75.4h.9v.9h-.9zM328.5 74.9h.9v.9h-.9zM335.5 75.3h.9v.9h-.9zM334.7 74.6h.9v.9h-.9zM334.4 77.3h.9v.9h-.9zM338.7 73.4h.9v.9h-.9zM337.2 72.7h.9v.9h-.9zM327.2 78.1h.9v.9h-.9zM333.0 78.1h.9v.9h-.9zM338.5 77.9h.9v.9h-.9zM338.2 77.3h.9v.9h-.9zM330.9 73.6h.9v.9h-.9zM331.5 75.0h.9v.9h-.9zM332.4 75.1h.9v.9h-.9zM326.4 76.9h.9v.9h-.9zM324.7 73.3h.9v.9h-.9zM343.6 74.5h.9v.9h-.9zM331.0 76.8h.9v.9h-.9zM333.9 74.2h.9v.9h-.9zM328.7 76.8h.9v.9h-.9zM342.1 76.9h.9v.9h-.9zM344.8 74.4h.9v.9h-.9zM332.3 78.0h.9v.9h-.9zM337.1 77.3h.9v.9h-.9zM328.7 77.4h.9v.9h-.9zM344.9 75.0h.9v.9h-.9zM339.4 74.5h.9v.9h-.9zM328.4 78.9h.9v.9h-.9zM341.4 74.0h.9v.9h-.9zM335.6 74.4h.9v.9h-.9zM336.3 76.8h.9v.9h-.9zM335.6 74.3h.9v.9h-.9zM329.3 77.3h.9v.9h-.9zM330.3 78.3h.9v.9h-.9zM337.5 75.5h.9v.9h-.9zM333.2 76.2h.9v.9h-.9zM327.6 78.5h.9v.9h-.9zM346.7 75.5h.9v.9h-.9zM331.7 73.4h.9v.9h-.9zM329.5 74.1h.9v.9h-.9zM329.3 79.0h.9v.9h-.9zM338.0 76.0h.9v.9h-.9zM339.2 71.4h.9v.9h-.9zM334.7 73.3h.9v.9h-.9zM339.1 75.2h.9v.9h-.9zM323.6 75.6h.9v.9h-.9zM331.2 77.1h.9v.9h-.9zM330.4 76.5h.9v.9h-.9zM333.6 76.8h.9v.9h-.9zM336.3 73.4h.9v.9h-.9zM320.5 78.9h.9v.9h-.9zM354.0 76.6h.9v.9h-.9zM327.6 75.3h.9v.9h-.9zM336.0 78.0h.9v.9h-.9zM339.0 77.0h.9v.9h-.9zM339.0 76.4h.9v.9h-.9zM334.9 75.6h.9v.9h-.9zM314.4 76.5h.9v.9h-.9zM326.2 75.4h.9v.9h-.9zM338.4 76.7h.9v.9h-.9zM327.7 78.6h.9v.9h-.9zM326.9 79.1h.9v.9h-.9zM318.4 79.8h.9v.9h-.9zM341.4 76.5h.9v.9h-.9zM336.5 74.8h.9v.9h-.9zM327.2 74.7h.9v.9h-.9zM332.5 76.5h.9v.9h-.9zM332.7 77.0h.9v.9h-.9zM326.1 77.2h.9v.9h-.9zM331.1 73.5h.9v.9h-.9zM334.7 74.9h.9v.9h-.9zM336.4 72.9h.9v.9h-.9zM341.4 75.1h.9v.9h-.9zM333.1 74.1h.9v.9h-.9zM330.2 76.1h.9v.9h-.9zM335.8 76.2h.9v.9h-.9zM329.1 76.8h.9v.9h-.9zM325.4 79.6h.9v.9h-.9zM340.2 73.0h.9v.9h-.9zM330.1 72.5h.9v.9h-.9zM334.2 77.6h.9v.9h-.9zM337.7 77.9h.9v.9h-.9zM326.4 79.6h.9v.9h-.9zM337.3 76.0h.9v.9h-.9zM336.2 76.6h.9v.9h-.9zM332.5 76.3h.9v.9h-.9zM335.3 73.4h.9v.9h-.9zM328.1 75.7h.9v.9h-.9zM319.1 78.9h.9v.9h-.9zM331.2 75.3h.9v.9h-.9zM327.7 80.3h.9v.9h-.9zM338.3 72.5h.9v.9h-.9zM334.7 75.0h.9v.9h-.9zM330.0 78.5h.9v.9h-.9zM333.3 74.9h.9v.9h-.9zM341.5 72.8h.9v.9h-.9zM340.1 72.6h.9v.9h-.9zM335.3 74.4h.9v.9h-.9zM336.3 78.3h.9v.9h-.9zM331.4 77.0h.9v.9h-.9zM332.4 77.1h.9v.9h-.9zM336.8 74.6h.9v.9h-.9zM332.6 77.7h.9v.9h-.9zM335.1 76.0h.9v.9h-.9zM325.7 75.4h.9v.9h-.9zM322.3 76.7h.9v.9h-.9zM322.2 77.9h.9v.9h-.9zM330.6 78.5h.9v.9h-.9zM341.6 74.7h.9v.9h-.9zM340.9 75.9h.9v.9h-.9zM327.2 80.5h.9v.9h-.9zM322.9 76.0h.9v.9h-.9zM337.9 73.1h.9v.9h-.9zM336.3 77.4h.9v.9h-.9zM324.4 78.1h.9v.9h-.9zM339.9 74.9h.9v.9h-.9zM334.3 76.4h.9v.9h-.9zM341.5 74.3h.9v.9h-.9zM360.4 72.7h.9v.9h-.9zM353.2 71.2h.9v.9h-.9zM362.5 71.7h.9v.9h-.9zM347.2 75.4h.9v.9h-.9zM350.2 76.0h.9v.9h-.9zM356.7 70.1h.9v.9h-.9zM352.9 75.2h.9v.9h-.9zM361.7 71.6h.9v.9h-.9zM355.7 71.5h.9v.9h-.9zM352.2 74.6h.9v.9h-.9zM357.8 72.1h.9v.9h-.9zM352.0 73.1h.9v.9h-.9zM343.8 73.7h.9v.9h-.9zM347.4 74.9h.9v.9h-.9zM350.0 74.1h.9v.9h-.9zM352.5 73.2h.9v.9h-.9zM356.7 70.9h.9v.9h-.9zM363.3 70.6h.9v.9h-.9zM360.8 72.9h.9v.9h-.9zM370.8 73.0h.9v.9h-.9zM366.4 71.1h.9v.9h-.9zM355.3 75.9h.9v.9h-.9zM369.3 70.6h.9v.9h-.9zM365.3 69.1h.9v.9h-.9zM353.0 74.8h.9v.9h-.9zM358.5 70.6h.9v.9h-.9zM365.1 72.2h.9v.9h-.9zM358.6 74.7h.9v.9h-.9zM364.2 70.9h.9v.9h-.9zM359.4 72.2h.9v.9h-.9zM362.8 76.8h.9v.9h-.9zM353.9 73.8h.9v.9h-.9zM359.4 72.9h.9v.9h-.9zM353.8 74.9h.9v.9h-.9zM361.7 71.8h.9v.9h-.9zM343.0 75.1h.9v.9h-.9zM359.1 73.2h.9v.9h-.9zM365.4 66.5h.9v.9h-.9zM361.4 74.9h.9v.9h-.9zM355.8 70.8h.9v.9h-.9zM360.2 70.0h.9v.9h-.9zM349.9 75.1h.9v.9h-.9zM349.8 74.1h.9v.9h-.9zM353.1 70.9h.9v.9h-.9zM355.3 73.5h.9v.9h-.9zM363.6 69.3h.9v.9h-.9zM349.1 72.8h.9v.9h-.9zM363.7 68.6h.9v.9h-.9zM343.7 73.5h.9v.9h-.9zM350.3 74.8h.9v.9h-.9zM356.1 73.2h.9v.9h-.9zM365.6 71.9h.9v.9h-.9zM351.8 75.6h.9v.9h-.9zM339.5 75.8h.9v.9h-.9zM359.4 71.0h.9v.9h-.9zM356.0 72.4h.9v.9h-.9zM348.4 77.6h.9v.9h-.9zM348.1 74.4h.9v.9h-.9zM351.0 74.5h.9v.9h-.9zM357.1 72.6h.9v.9h-.9zM361.7 72.5h.9v.9h-.9zM344.9 75.8h.9v.9h-.9zM356.0 72.6h.9v.9h-.9zM353.1 71.9h.9v.9h-.9zM361.4 70.3h.9v.9h-.9zM357.4 73.5h.9v.9h-.9zM365.3 73.2h.9v.9h-.9zM353.5 73.5h.9v.9h-.9zM353.0 71.8h.9v.9h-.9zM352.6 74.8h.9v.9h-.9zM353.9 74.6h.9v.9h-.9zM361.1 69.0h.9v.9h-.9zM351.5 75.4h.9v.9h-.9zM369.3 71.8h.9v.9h-.9zM356.3 76.3h.9v.9h-.9zM354.8 70.9h.9v.9h-.9zM363.4 69.1h.9v.9h-.9zM341.0 77.2h.9v.9h-.9zM348.3 70.7h.9v.9h-.9zM360.8 70.6h.9v.9h-.9zM356.0 70.7h.9v.9h-.9zM355.9 70.9h.9v.9h-.9zM358.8 68.6h.9v.9h-.9zM351.5 73.3h.9v.9h-.9zM355.3 75.1h.9v.9h-.9zM345.8 75.7h.9v.9h-.9zM341.7 76.4h.9v.9h-.9zM366.2 70.5h.9v.9h-.9zM349.5 77.1h.9v.9h-.9zM350.9 74.9h.9v.9h-.9zM367.7 73.0h.9v.9h-.9zM364.1 68.4h.9v.9h-.9zM352.3 74.3h.9v.9h-.9zM351.7 71.4h.9v.9h-.9zM355.8 73.7h.9v.9h-.9zM348.9 74.6h.9v.9h-.9zM360.2 70.0h.9v.9h-.9zM357.5 73.1h.9v.9h-.9zM357.7 75.0h.9v.9h-.9zM362.4 72.9h.9v.9h-.9zM362.2 73.1h.9v.9h-.9zM370.5 68.7h.9v.9h-.9zM368.0 69.5h.9v.9h-.9zM342.4 73.1h.9v.9h-.9zM363.4 72.0h.9v.9h-.9zM347.9 76.8h.9v.9h-.9zM345.2 75.8h.9v.9h-.9zM361.9 72.0h.9v.9h-.9zM350.4 71.7h.9v.9h-.9zM354.0 74.3h.9v.9h-.9zM364.7 71.0h.9v.9h-.9zM350.4 70.1h.9v.9h-.9zM348.7 70.8h.9v.9h-.9zM358.8 71.8h.9v.9h-.9zM365.6 69.5h.9v.9h-.9zM361.0 75.5h.9v.9h-.9zM344.1 75.2h.9v.9h-.9zM350.8 71.8h.9v.9h-.9zM354.9 72.2h.9v.9h-.9zM372.1 73.4h.9v.9h-.9zM363.0 69.9h.9v.9h-.9zM363.3 73.3h.9v.9h-.9zM365.9 72.1h.9v.9h-.9zM354.4 76.3h.9v.9h-.9zM360.3 73.3h.9v.9h-.9zM360.0 71.5h.9v.9h-.9zM348.8 75.3h.9v.9h-.9zM356.2 73.1h.9v.9h-.9zM361.1 74.1h.9v.9h-.9zM347.8 74.3h.9v.9h-.9zM363.4 75.7h.9v.9h-.9zM362.2 71.7h.9v.9h-.9zM364.6 72.4h.9v.9h-.9zM350.0 72.8h.9v.9h-.9zM357.2 73.1h.9v.9h-.9zM367.8 71.0h.9v.9h-.9zM362.6 72.2h.9v.9h-.9zM350.4 75.8h.9v.9h-.9zM357.9 71.6h.9v.9h-.9zM367.2 69.3h.9v.9h-.9zM356.1 75.2h.9v.9h-.9zM359.2 71.9h.9v.9h-.9zM356.4 75.3h.9v.9h-.9zM355.7 74.6h.9v.9h-.9zM347.5 69.2h.9v.9h-.9zM351.0 73.2h.9v.9h-.9zM368.3 72.5h.9v.9h-.9zM355.5 74.8h.9v.9h-.9zM346.8 73.6h.9v.9h-.9zM349.5 77.3h.9v.9h-.9zM356.0 71.4h.9v.9h-.9zM362.2 71.5h.9v.9h-.9zM350.4 74.3h.9v.9h-.9zM361.9 72.0h.9v.9h-.9zM352.7 75.3h.9v.9h-.9zM359.4 74.5h.9v.9h-.9zM360.3 72.2h.9v.9h-.9zM361.5 74.9h.9v.9h-.9zM352.6 72.3h.9v.9h-.9zM354.8 72.8h.9v.9h-.9zM360.8 75.7h.9v.9h-.9zM346.0 75.0h.9v.9h-.9zM357.9 74.9h.9v.9h-.9zM360.0 71.5h.9v.9h-.9zM364.3 71.1h.9v.9h-.9zM355.8 72.9h.9v.9h-.9zM354.7 73.6h.9v.9h-.9zM357.1 72.2h.9v.9h-.9zM350.3 74.1h.9v.9h-.9zM354.7 74.6h.9v.9h-.9zM359.7 74.8h.9v.9h-.9zM358.3 72.9h.9v.9h-.9zM348.0 75.8h.9v.9h-.9zM353.8 75.3h.9v.9h-.9zM339.0 73.9h.9v.9h-.9zM361.8 68.9h.9v.9h-.9zM352.4 77.0h.9v.9h-.9zM331.1 96.9h.9v.9h-.9zM333.7 92.8h.9v.9h-.9zM350.6 76.3h.9v.9h-.9zM350.8 77.1h.9v.9h-.9zM339.6 86.6h.9v.9h-.9zM337.3 84.0h.9v.9h-.9zM347.8 81.3h.9v.9h-.9zM335.1 83.1h.9v.9h-.9zM334.2 85.1h.9v.9h-.9zM337.4 80.3h.9v.9h-.9zM336.7 88.9h.9v.9h-.9zM349.9 77.5h.9v.9h-.9zM345.8 88.8h.9v.9h-.9zM350.0 74.1h.9v.9h-.9zM341.3 87.8h.9v.9h-.9zM344.7 80.3h.9v.9h-.9zM336.5 90.0h.9v.9h-.9zM344.8 91.5h.9v.9h-.9zM345.9 94.9h.9v.9h-.9zM340.5 91.9h.9v.9h-.9zM353.7 77.3h.9v.9h-.9zM336.0 91.7h.9v.9h-.9zM343.1 88.1h.9v.9h-.9zM344.9 87.9h.9v.9h-.9zM353.7 78.4h.9v.9h-.9zM341.3 90.1h.9v.9h-.9zM341.6 83.1h.9v.9h-.9zM355.0 80.5h.9v.9h-.9zM346.2 92.8h.9v.9h-.9zM345.2 75.7h.9v.9h-.9zM360.4 75.0h.9v.9h-.9zM340.9 88.9h.9v.9h-.9zM345.2 78.0h.9v.9h-.9zM331.0 91.7h.9v.9h-.9zM352.2 72.0h.9v.9h-.9zM335.8 83.6h.9v.9h-.9zM342.7 76.5h.9v.9h-.9zM333.1 85.7h.9v.9h-.9zM347.7 78.6h.9v.9h-.9zM345.9 82.5h.9v.9h-.9zM356.8 73.7h.9v.9h-.9zM354.5 66.8h.9v.9h-.9zM342.3 87.7h.9v.9h-.9zM328.8 88.4h.9v.9h-.9zM339.1 83.4h.9v.9h-.9zM344.2 80.4h.9v.9h-.9zM351.0 79.0h.9v.9h-.9zM356.9 72.8h.9v.9h-.9zM350.9 75.1h.9v.9h-.9zM348.5 76.7h.9v.9h-.9zM333.6 86.1h.9v.9h-.9zM346.4 79.5h.9v.9h-.9zM336.8 89.4h.9v.9h-.9zM341.5 83.6h.9v.9h-.9zM341.1 85.2h.9v.9h-.9zM340.3 86.8h.9v.9h-.9zM329.9 91.9h.9v.9h-.9zM340.0 86.7h.9v.9h-.9zM349.0 81.6h.9v.9h-.9zM344.3 85.1h.9v.9h-.9zM338.8 88.3h.9v.9h-.9zM355.9 75.7h.9v.9h-.9zM332.1 100.4h.9v.9h-.9zM361.0 76.2h.9v.9h-.9zM350.5 78.7h.9v.9h-.9zM333.5 91.6h.9v.9h-.9zM350.7 81.2h.9v.9h-.9zM346.6 79.3h.9v.9h-.9zM327.6 85.7h.9v.9h-.9zM340.3 75.7h.9v.9h-.9zM347.1 88.4h.9v.9h-.9zM356.4 93.4h.9v.9h-.9zM336.7 68.4h.9v.9h-.9zM332.2 97.5h.9v.9h-.9zM336.4 97.5h.9v.9h-.9zM332.9 69.0h.9v.9h-.9zM332.9 90.6h.9v.9h-.9zM331.3 80.8h.9v.9h-.9zM332.1 71.5h.9v.9h-.9zM333.4 72.9h.9v.9h-.9zM347.3 69.8h.9v.9h-.9zM339.4 101.4h.9v.9h-.9zM361.5 97.2h.9v.9h-.9zM349.9 93.7h.9v.9h-.9zM359.8 71.5h.9v.9h-.9zM353.3 93.6h.9v.9h-.9zM358.5 74.9h.9v.9h-.9zM360.0 84.6h.9v.9h-.9zM342.3 65.2h.9v.9h-.9zM337.3 100.8h.9v.9h-.9zM332.4 78.1h.9v.9h-.9zM360.7 92.0h.9v.9h-.9zM337.4 69.0h.9v.9h-.9zM361.2 72.1h.9v.9h-.9zM353.1 94.6h.9v.9h-.9zM355.9 92.3h.9v.9h-.9zM330.9 88.5h.9v.9h-.9zM359.0 79.9h.9v.9h-.9zM332.4 89.7h.9v.9h-.9zM355.7 100.5h.9v.9h-.9zM330.9 97.2h.9v.9h-.9zM360.2 95.8h.9v.9h-.9zM331.6 82.2h.9v.9h-.9zM334.9 82.3h.9v.9h-.9zM344.3 100.2h.9v.9h-.9zM335.4 75.3h.9v.9h-.9zM333.4 85.6h.9v.9h-.9zM341.5 72.9h.9v.9h-.9zM331.6 82.1h.9v.9h-.9zM348.3 73.7h.9v.9h-.9zM353.4 99.4h.9v.9h-.9zM345.8 100.4h.9v.9h-.9zM347.9 78.7h.9v.9h-.9zM337.7 95.9h.9v.9h-.9zM344.8 96.2h.9v.9h-.9zM349.8 99.3h.9v.9h-.9zM359.7 93.7h.9v.9h-.9zM346.5 73.2h.9v.9h-.9zM361.2 89.7h.9v.9h-.9zM342.6 74.9h.9v.9h-.9z" fill="#4858c8" fill-opacity="0.5"/>
<g filter="url(#bl1)" opacity="0.3" transform="translate(330.00 77.00) skewX(0) rotate(-8)">
<ellipse cx="0.00" cy="-0.00" rx="6.98" ry="2.02" fill="#2342c8" fill-opacity="0.9"/>
</g>
<g filter="url(#bl1)" opacity="0.32" transform="translate(353.00 73.50) skewX(0) rotate(-10)">
<ellipse cx="0.00" cy="-0.00" rx="13.95" ry="2.48" fill="#2342c8" fill-opacity="0.9"/>
</g>
<g filter="url(#bl1)" opacity="1.0" transform="translate(322.50 99.00) skewX(0) rotate(-33)">
<ellipse cx="0.00" cy="-0.00" rx="9.61" ry="5.89" fill="#2342c8" fill-opacity="0.9"/>
<ellipse cx="0.15" cy="-0.10" rx="8.31" ry="5.09" fill="#12a4e6" fill-opacity="1.0"/>
<ellipse cx="0.30" cy="-0.20" rx="6.70" ry="4.10" fill="#22c050" fill-opacity="1.0"/>
<ellipse cx="0.45" cy="-0.30" rx="4.09" ry="2.51" fill="#b8e020" fill-opacity="1.0"/>
<ellipse cx="0.60" cy="-0.40" rx="2.11" ry="1.29" fill="#ee4a12" fill-opacity="1.0"/>
</g>
<rect x="285.8" y="46.3" width="88.0" height="87.9" fill="none" stroke="#3a3a3a" stroke-width="1.0"/>
<line x1="333.80" y1="46.30" x2="333.80" y2="134.20" stroke="#333" stroke-width="1.1" />
<line x1="285.80" y1="89.40" x2="373.80" y2="89.40" stroke="#333" stroke-width="1.1" />
<text x="288.0" y="52.1" font-family="'Liberation Sans', sans-serif" font-size="4.6" font-weight="bold" fill="#2a2a2a" text-anchor="start" stroke="#2a2a2a" stroke-width="0.15">Q1</text>
<text x="288.0" y="58.9" font-family="'Liberation Sans', sans-serif" font-size="4.6" font-weight="bold" fill="#2a2a2a" text-anchor="start" stroke="#2a2a2a" stroke-width="0.15">1.91%</text>
<text x="371.8" y="52.1" font-family="'Liberation Sans', sans-serif" font-size="4.6" font-weight="bold" fill="#2a2a2a" text-anchor="end" stroke="#2a2a2a" stroke-width="0.15">Q2</text>
<text x="371.8" y="58.9" font-family="'Liberation Sans', sans-serif" font-size="4.6" font-weight="bold" fill="#2a2a2a" text-anchor="end" stroke="#2a2a2a" stroke-width="0.15">7.81%</text>
<text x="371.8" y="126.2" font-family="'Liberation Sans', sans-serif" font-size="4.6" font-weight="bold" fill="#2a2a2a" text-anchor="end" stroke="#2a2a2a" stroke-width="0.15">Q3</text>
<text x="371.8" y="132.6" font-family="'Liberation Sans', sans-serif" font-size="4.6" font-weight="bold" fill="#2a2a2a" text-anchor="end" stroke="#2a2a2a" stroke-width="0.15">1.77%</text>
<text x="288.0" y="126.2" font-family="'Liberation Sans', sans-serif" font-size="4.6" font-weight="bold" fill="#2a2a2a" text-anchor="start" stroke="#2a2a2a" stroke-width="0.15">Q4</text>
<text x="288.0" y="132.6" font-family="'Liberation Sans', sans-serif" font-size="4.6" font-weight="bold" fill="#2a2a2a" text-anchor="start" stroke="#2a2a2a" stroke-width="0.15">89.3%</text>
<line x1="284.00" y1="127.81" x2="285.80" y2="127.81" stroke="#333" stroke-width="0.7" />
<text x="280.8" y="130.0" font-family="'Liberation Sans', sans-serif" font-size="4.8" font-weight="bold" fill="#2a2a2a" text-anchor="end" stroke="#2a2a2a" stroke-width="0.15">10</text>
<text x="283.4" y="126.7" font-family="'Liberation Sans', sans-serif" font-size="4.3" font-weight="bold" fill="#2a2a2a" text-anchor="end" stroke="#2a2a2a" stroke-width="0.15">1</text>
<line x1="284.00" y1="115.50" x2="285.80" y2="115.50" stroke="#333" stroke-width="0.7" />
<text x="280.8" y="117.7" font-family="'Liberation Sans', sans-serif" font-size="4.8" font-weight="bold" fill="#2a2a2a" text-anchor="end" stroke="#2a2a2a" stroke-width="0.15">10</text>
<text x="283.4" y="114.4" font-family="'Liberation Sans', sans-serif" font-size="4.3" font-weight="bold" fill="#2a2a2a" text-anchor="end" stroke="#2a2a2a" stroke-width="0.15">2</text>
<line x1="284.00" y1="102.06" x2="285.80" y2="102.06" stroke="#333" stroke-width="0.7" />
<text x="280.8" y="104.3" font-family="'Liberation Sans', sans-serif" font-size="4.8" font-weight="bold" fill="#2a2a2a" text-anchor="end" stroke="#2a2a2a" stroke-width="0.15">10</text>
<text x="283.4" y="101.0" font-family="'Liberation Sans', sans-serif" font-size="4.3" font-weight="bold" fill="#2a2a2a" text-anchor="end" stroke="#2a2a2a" stroke-width="0.15">3</text>
<line x1="284.00" y1="88.87" x2="285.80" y2="88.87" stroke="#333" stroke-width="0.7" />
<text x="280.8" y="91.1" font-family="'Liberation Sans', sans-serif" font-size="4.8" font-weight="bold" fill="#2a2a2a" text-anchor="end" stroke="#2a2a2a" stroke-width="0.15">10</text>
<text x="283.4" y="87.8" font-family="'Liberation Sans', sans-serif" font-size="4.3" font-weight="bold" fill="#2a2a2a" text-anchor="end" stroke="#2a2a2a" stroke-width="0.15">4</text>
<line x1="284.00" y1="77.27" x2="285.80" y2="77.27" stroke="#333" stroke-width="0.7" />
<text x="280.8" y="79.5" font-family="'Liberation Sans', sans-serif" font-size="4.8" font-weight="bold" fill="#2a2a2a" text-anchor="end" stroke="#2a2a2a" stroke-width="0.15">10</text>
<text x="283.4" y="76.2" font-family="'Liberation Sans', sans-serif" font-size="4.3" font-weight="bold" fill="#2a2a2a" text-anchor="end" stroke="#2a2a2a" stroke-width="0.15">5</text>
<line x1="284.00" y1="65.84" x2="285.80" y2="65.84" stroke="#333" stroke-width="0.7" />
<text x="280.8" y="68.0" font-family="'Liberation Sans', sans-serif" font-size="4.8" font-weight="bold" fill="#2a2a2a" text-anchor="end" stroke="#2a2a2a" stroke-width="0.15">10</text>
<text x="283.4" y="64.7" font-family="'Liberation Sans', sans-serif" font-size="4.3" font-weight="bold" fill="#2a2a2a" text-anchor="end" stroke="#2a2a2a" stroke-width="0.15">6</text>
<line x1="284.00" y1="54.24" x2="285.80" y2="54.24" stroke="#333" stroke-width="0.7" />
<text x="280.8" y="56.4" font-family="'Liberation Sans', sans-serif" font-size="4.8" font-weight="bold" fill="#2a2a2a" text-anchor="end" stroke="#2a2a2a" stroke-width="0.15">10</text>
<text x="283.4" y="53.1" font-family="'Liberation Sans', sans-serif" font-size="4.3" font-weight="bold" fill="#2a2a2a" text-anchor="end" stroke="#2a2a2a" stroke-width="0.15">7</text>
<line x1="284.90" y1="48.30" x2="285.80" y2="48.30" stroke="#555" stroke-width="0.35" />
<line x1="284.90" y1="50.40" x2="285.80" y2="50.40" stroke="#555" stroke-width="0.35" />
<line x1="284.90" y1="52.49" x2="285.80" y2="52.49" stroke="#555" stroke-width="0.35" />
<line x1="284.90" y1="54.59" x2="285.80" y2="54.59" stroke="#555" stroke-width="0.35" />
<line x1="284.90" y1="56.69" x2="285.80" y2="56.69" stroke="#555" stroke-width="0.35" />
<line x1="284.90" y1="58.79" x2="285.80" y2="58.79" stroke="#555" stroke-width="0.35" />
<line x1="284.90" y1="60.88" x2="285.80" y2="60.88" stroke="#555" stroke-width="0.35" />
<line x1="284.90" y1="62.98" x2="285.80" y2="62.98" stroke="#555" stroke-width="0.35" />
<line x1="284.90" y1="65.08" x2="285.80" y2="65.08" stroke="#555" stroke-width="0.35" />
<line x1="284.90" y1="67.18" x2="285.80" y2="67.18" stroke="#555" stroke-width="0.35" />
<line x1="284.90" y1="69.27" x2="285.80" y2="69.27" stroke="#555" stroke-width="0.35" />
<line x1="284.90" y1="71.37" x2="285.80" y2="71.37" stroke="#555" stroke-width="0.35" />
<line x1="284.90" y1="73.47" x2="285.80" y2="73.47" stroke="#555" stroke-width="0.35" />
<line x1="284.90" y1="75.57" x2="285.80" y2="75.57" stroke="#555" stroke-width="0.35" />
<line x1="284.90" y1="77.66" x2="285.80" y2="77.66" stroke="#555" stroke-width="0.35" />
<line x1="284.90" y1="79.76" x2="285.80" y2="79.76" stroke="#555" stroke-width="0.35" />
<line x1="284.90" y1="81.86" x2="285.80" y2="81.86" stroke="#555" stroke-width="0.35" />
<line x1="284.90" y1="83.96" x2="285.80" y2="83.96" stroke="#555" stroke-width="0.35" />
<line x1="284.90" y1="86.05" x2="285.80" y2="86.05" stroke="#555" stroke-width="0.35" />
<line x1="284.90" y1="88.15" x2="285.80" y2="88.15" stroke="#555" stroke-width="0.35" />
<line x1="284.90" y1="90.25" x2="285.80" y2="90.25" stroke="#555" stroke-width="0.35" />
<line x1="284.90" y1="92.35" x2="285.80" y2="92.35" stroke="#555" stroke-width="0.35" />
<line x1="284.90" y1="94.44" x2="285.80" y2="94.44" stroke="#555" stroke-width="0.35" />
<line x1="284.90" y1="96.54" x2="285.80" y2="96.54" stroke="#555" stroke-width="0.35" />
<line x1="284.90" y1="98.64" x2="285.80" y2="98.64" stroke="#555" stroke-width="0.35" />
<line x1="284.90" y1="100.74" x2="285.80" y2="100.74" stroke="#555" stroke-width="0.35" />
<line x1="284.90" y1="102.83" x2="285.80" y2="102.83" stroke="#555" stroke-width="0.35" />
<line x1="284.90" y1="104.93" x2="285.80" y2="104.93" stroke="#555" stroke-width="0.35" />
<line x1="284.90" y1="107.03" x2="285.80" y2="107.03" stroke="#555" stroke-width="0.35" />
<line x1="284.90" y1="109.13" x2="285.80" y2="109.13" stroke="#555" stroke-width="0.35" />
<line x1="284.90" y1="111.22" x2="285.80" y2="111.22" stroke="#555" stroke-width="0.35" />
<line x1="284.90" y1="113.32" x2="285.80" y2="113.32" stroke="#555" stroke-width="0.35" />
<line x1="284.90" y1="115.42" x2="285.80" y2="115.42" stroke="#555" stroke-width="0.35" />
<line x1="284.90" y1="117.52" x2="285.80" y2="117.52" stroke="#555" stroke-width="0.35" />
<line x1="284.90" y1="119.61" x2="285.80" y2="119.61" stroke="#555" stroke-width="0.35" />
<line x1="284.90" y1="121.71" x2="285.80" y2="121.71" stroke="#555" stroke-width="0.35" />
<line x1="284.90" y1="123.81" x2="285.80" y2="123.81" stroke="#555" stroke-width="0.35" />
<line x1="284.90" y1="125.91" x2="285.80" y2="125.91" stroke="#555" stroke-width="0.35" />
<line x1="284.90" y1="128.00" x2="285.80" y2="128.00" stroke="#555" stroke-width="0.35" />
<line x1="284.90" y1="130.10" x2="285.80" y2="130.10" stroke="#555" stroke-width="0.35" />
<line x1="293.14" y1="134.20" x2="293.14" y2="136.40" stroke="#333" stroke-width="0.7" />
<text x="290.6" y="143.5" font-family="'Liberation Sans', sans-serif" font-size="4.8" font-weight="bold" fill="#2a2a2a" text-anchor="middle" stroke="#2a2a2a" stroke-width="0.15">10</text>
<text x="294.8" y="140.2" font-family="'Liberation Sans', sans-serif" font-size="4.3" font-weight="bold" fill="#2a2a2a" text-anchor="middle" stroke="#2a2a2a" stroke-width="0.15">1</text>
<line x1="303.17" y1="134.20" x2="303.17" y2="136.40" stroke="#333" stroke-width="0.7" />
<text x="300.7" y="143.5" font-family="'Liberation Sans', sans-serif" font-size="4.8" font-weight="bold" fill="#2a2a2a" text-anchor="middle" stroke="#2a2a2a" stroke-width="0.15">10</text>
<text x="304.9" y="140.2" font-family="'Liberation Sans', sans-serif" font-size="4.3" font-weight="bold" fill="#2a2a2a" text-anchor="middle" stroke="#2a2a2a" stroke-width="0.15">2</text>
<line x1="315.84" y1="134.20" x2="315.84" y2="136.40" stroke="#333" stroke-width="0.7" />
<text x="313.3" y="143.5" font-family="'Liberation Sans', sans-serif" font-size="4.8" font-weight="bold" fill="#2a2a2a" text-anchor="middle" stroke="#2a2a2a" stroke-width="0.15">10</text>
<text x="317.5" y="140.2" font-family="'Liberation Sans', sans-serif" font-size="4.3" font-weight="bold" fill="#2a2a2a" text-anchor="middle" stroke="#2a2a2a" stroke-width="0.15">3</text>
<line x1="329.13" y1="134.20" x2="329.13" y2="136.40" stroke="#333" stroke-width="0.7" />
<text x="326.6" y="143.5" font-family="'Liberation Sans', sans-serif" font-size="4.8" font-weight="bold" fill="#2a2a2a" text-anchor="middle" stroke="#2a2a2a" stroke-width="0.15">10</text>
<text x="330.8" y="140.2" font-family="'Liberation Sans', sans-serif" font-size="4.3" font-weight="bold" fill="#2a2a2a" text-anchor="middle" stroke="#2a2a2a" stroke-width="0.15">4</text>
<line x1="342.42" y1="134.20" x2="342.42" y2="136.40" stroke="#333" stroke-width="0.7" />
<text x="339.9" y="143.5" font-family="'Liberation Sans', sans-serif" font-size="4.8" font-weight="bold" fill="#2a2a2a" text-anchor="middle" stroke="#2a2a2a" stroke-width="0.15">10</text>
<text x="344.1" y="140.2" font-family="'Liberation Sans', sans-serif" font-size="4.3" font-weight="bold" fill="#2a2a2a" text-anchor="middle" stroke="#2a2a2a" stroke-width="0.15">5</text>
<line x1="355.71" y1="134.20" x2="355.71" y2="136.40" stroke="#333" stroke-width="0.7" />
<text x="353.2" y="143.5" font-family="'Liberation Sans', sans-serif" font-size="4.8" font-weight="bold" fill="#2a2a2a" text-anchor="middle" stroke="#2a2a2a" stroke-width="0.15">10</text>
<text x="357.4" y="140.2" font-family="'Liberation Sans', sans-serif" font-size="4.3" font-weight="bold" fill="#2a2a2a" text-anchor="middle" stroke="#2a2a2a" stroke-width="0.15">6</text>
<line x1="368.29" y1="134.20" x2="368.29" y2="136.40" stroke="#333" stroke-width="0.7" />
<text x="365.8" y="143.5" font-family="'Liberation Sans', sans-serif" font-size="4.8" font-weight="bold" fill="#2a2a2a" text-anchor="middle" stroke="#2a2a2a" stroke-width="0.15">10</text>
<text x="370.0" y="140.2" font-family="'Liberation Sans', sans-serif" font-size="4.3" font-weight="bold" fill="#2a2a2a" text-anchor="middle" stroke="#2a2a2a" stroke-width="0.15">7</text>
<line x1="286.80" y1="134.20" x2="286.80" y2="135.40" stroke="#555" stroke-width="0.35" />
<line x1="288.95" y1="134.20" x2="288.95" y2="135.40" stroke="#555" stroke-width="0.35" />
<line x1="291.10" y1="134.20" x2="291.10" y2="135.40" stroke="#555" stroke-width="0.35" />
<line x1="293.25" y1="134.20" x2="293.25" y2="135.40" stroke="#555" stroke-width="0.35" />
<line x1="295.40" y1="134.20" x2="295.40" y2="135.40" stroke="#555" stroke-width="0.35" />
<line x1="297.55" y1="134.20" x2="297.55" y2="135.40" stroke="#555" stroke-width="0.35" />
<line x1="299.70" y1="134.20" x2="299.70" y2="135.40" stroke="#555" stroke-width="0.35" />
<line x1="301.85" y1="134.20" x2="301.85" y2="135.40" stroke="#555" stroke-width="0.35" />
<line x1="304.00" y1="134.20" x2="304.00" y2="135.40" stroke="#555" stroke-width="0.35" />
<line x1="306.15" y1="134.20" x2="306.15" y2="135.40" stroke="#555" stroke-width="0.35" />
<line x1="308.30" y1="134.20" x2="308.30" y2="135.40" stroke="#555" stroke-width="0.35" />
<line x1="310.45" y1="134.20" x2="310.45" y2="135.40" stroke="#555" stroke-width="0.35" />
<line x1="312.60" y1="134.20" x2="312.60" y2="135.40" stroke="#555" stroke-width="0.35" />
<line x1="314.75" y1="134.20" x2="314.75" y2="135.40" stroke="#555" stroke-width="0.35" />
<line x1="316.90" y1="134.20" x2="316.90" y2="135.40" stroke="#555" stroke-width="0.35" />
<line x1="319.05" y1="134.20" x2="319.05" y2="135.40" stroke="#555" stroke-width="0.35" />
<line x1="321.20" y1="134.20" x2="321.20" y2="135.40" stroke="#555" stroke-width="0.35" />
<line x1="323.35" y1="134.20" x2="323.35" y2="135.40" stroke="#555" stroke-width="0.35" />
<line x1="325.50" y1="134.20" x2="325.50" y2="135.40" stroke="#555" stroke-width="0.35" />
<line x1="327.65" y1="134.20" x2="327.65" y2="135.40" stroke="#555" stroke-width="0.35" />
<line x1="329.80" y1="134.20" x2="329.80" y2="135.40" stroke="#555" stroke-width="0.35" />
<line x1="331.95" y1="134.20" x2="331.95" y2="135.40" stroke="#555" stroke-width="0.35" />
<line x1="334.10" y1="134.20" x2="334.10" y2="135.40" stroke="#555" stroke-width="0.35" />
<line x1="336.25" y1="134.20" x2="336.25" y2="135.40" stroke="#555" stroke-width="0.35" />
<line x1="338.40" y1="134.20" x2="338.40" y2="135.40" stroke="#555" stroke-width="0.35" />
<line x1="340.55" y1="134.20" x2="340.55" y2="135.40" stroke="#555" stroke-width="0.35" />
<line x1="342.70" y1="134.20" x2="342.70" y2="135.40" stroke="#555" stroke-width="0.35" />
<line x1="344.85" y1="134.20" x2="344.85" y2="135.40" stroke="#555" stroke-width="0.35" />
<line x1="347.00" y1="134.20" x2="347.00" y2="135.40" stroke="#555" stroke-width="0.35" />
<line x1="349.15" y1="134.20" x2="349.15" y2="135.40" stroke="#555" stroke-width="0.35" />
<line x1="351.30" y1="134.20" x2="351.30" y2="135.40" stroke="#555" stroke-width="0.35" />
<line x1="353.45" y1="134.20" x2="353.45" y2="135.40" stroke="#555" stroke-width="0.35" />
<line x1="355.60" y1="134.20" x2="355.60" y2="135.40" stroke="#555" stroke-width="0.35" />
<line x1="357.75" y1="134.20" x2="357.75" y2="135.40" stroke="#555" stroke-width="0.35" />
<line x1="359.90" y1="134.20" x2="359.90" y2="135.40" stroke="#555" stroke-width="0.35" />
<line x1="362.05" y1="134.20" x2="362.05" y2="135.40" stroke="#555" stroke-width="0.35" />
<line x1="364.20" y1="134.20" x2="364.20" y2="135.40" stroke="#555" stroke-width="0.35" />
<line x1="366.35" y1="134.20" x2="366.35" y2="135.40" stroke="#555" stroke-width="0.35" />
<line x1="368.50" y1="134.20" x2="368.50" y2="135.40" stroke="#555" stroke-width="0.35" />
<line x1="370.65" y1="134.20" x2="370.65" y2="135.40" stroke="#555" stroke-width="0.35" />
</g>
<line x1="23.1" y1="153.6" x2="23.1" y2="95.7" stroke="#333" stroke-width="1.3"/>
<path d="M23.1 75.2 Q22.5 92.825 19.700000000000003 98.7 L23.1 95.7 L26.5 98.7 Q23.700000000000003 92.825 23.1 75.2 Z" fill="#111"/>
<line x1="22.450000000000003" y1="153.6" x2="80.3" y2="153.6" stroke="#333" stroke-width="1.3"/>
<path d="M100.8 153.6 Q83.175 153.0 77.3 150.2 L80.3 153.6 L77.3 157.0 Q83.175 154.2 100.8 153.6 Z" fill="#111"/>
<text x="3.2" y="127.0" font-family="'Liberation Serif', serif" font-size="12.5" font-weight="bold" fill="#111" text-anchor="start" stroke="#111" stroke-width="0.3">PI</text>
<text x="33.0" y="168.0" font-family="'Liberation Serif', serif" font-size="12" font-weight="bold" fill="#111" text-anchor="start" stroke="#111" stroke-width="0.3">Annexin V</text>
<text x="0.0" y="203.0" font-family="'Liberation Serif', serif" font-size="19" font-weight="bold" fill="#111" text-anchor="start" stroke="#111" stroke-width="0.4">B</text>
<text x="213.8" y="199.3" font-family="'Liberation Serif', serif" font-size="12" font-weight="bold" fill="#111" text-anchor="middle" stroke="#111" stroke-width="0.3">GAK</text>
<line x1="36.00" y1="209.30" x2="375.00" y2="209.30" stroke="#3a3a3a" stroke-width="1.4" />
<text x="93.5" y="226.6" font-family="'Liberation Serif', serif" font-size="12" font-weight="bold" fill="#111" text-anchor="middle" stroke="#111" stroke-width="0.3">Control</text>
<text x="211.0" y="225.6" font-family="'Liberation Serif', serif" font-size="12" font-weight="bold" fill="#111" text-anchor="middle" stroke="#111" stroke-width="0.3">miR-let-7b</text>
<text x="329.0" y="225.6" font-family="'Liberation Serif', serif" font-size="12" font-weight="bold" fill="#111" text-anchor="middle" stroke="#111" stroke-width="0.3">miR-let-7c</text>
<g>
<path d="M76.5 287.6h.9v.9h-.9zM79.3 284.8h.9v.9h-.9zM93.2 282.4h.9v.9h-.9zM87.9 290.1h.9v.9h-.9zM72.2 297.5h.9v.9h-.9zM81.5 287.0h.9v.9h-.9zM78.3 291.7h.9v.9h-.9zM83.0 287.8h.9v.9h-.9zM69.3 288.7h.9v.9h-.9zM84.0 288.5h.9v.9h-.9zM83.7 287.9h.9v.9h-.9zM91.0 278.4h.9v.9h-.9zM85.8 291.8h.9v.9h-.9zM83.4 281.0h.9v.9h-.9zM71.8 293.1h.9v.9h-.9zM96.5 278.6h.9v.9h-.9zM67.4 290.2h.9v.9h-.9zM88.8 282.9h.9v.9h-.9zM80.7 292.0h.9v.9h-.9zM74.1 285.8h.9v.9h-.9zM77.1 289.3h.9v.9h-.9zM79.5 296.1h.9v.9h-.9zM83.7 284.7h.9v.9h-.9zM81.2 288.5h.9v.9h-.9zM93.4 287.1h.9v.9h-.9zM68.3 290.8h.9v.9h-.9zM82.7 290.2h.9v.9h-.9zM74.8 288.1h.9v.9h-.9zM88.5 289.1h.9v.9h-.9zM67.2 294.0h.9v.9h-.9zM78.3 285.6h.9v.9h-.9zM85.5 293.3h.9v.9h-.9zM71.4 291.8h.9v.9h-.9zM88.6 284.8h.9v.9h-.9zM82.0 284.3h.9v.9h-.9zM88.5 284.0h.9v.9h-.9zM88.7 285.5h.9v.9h-.9zM75.4 291.5h.9v.9h-.9zM77.9 294.6h.9v.9h-.9zM78.7 283.8h.9v.9h-.9zM86.8 285.1h.9v.9h-.9zM89.7 290.8h.9v.9h-.9zM77.3 290.9h.9v.9h-.9zM78.3 291.5h.9v.9h-.9zM78.6 296.5h.9v.9h-.9zM78.4 291.2h.9v.9h-.9zM81.0 290.8h.9v.9h-.9zM81.0 288.5h.9v.9h-.9zM99.0 289.9h.9v.9h-.9zM79.9 293.7h.9v.9h-.9zM79.0 286.3h.9v.9h-.9zM86.0 289.3h.9v.9h-.9zM73.7 286.4h.9v.9h-.9zM80.9 293.5h.9v.9h-.9zM83.1 290.9h.9v.9h-.9zM87.2 285.7h.9v.9h-.9zM72.2 290.2h.9v.9h-.9zM89.2 277.9h.9v.9h-.9zM80.6 292.2h.9v.9h-.9zM83.0 287.4h.9v.9h-.9zM87.5 284.9h.9v.9h-.9zM87.7 289.4h.9v.9h-.9zM88.5 283.0h.9v.9h-.9zM82.4 285.6h.9v.9h-.9zM80.9 285.7h.9v.9h-.9zM82.3 282.3h.9v.9h-.9zM78.4 300.1h.9v.9h-.9zM90.3 284.4h.9v.9h-.9zM76.0 288.9h.9v.9h-.9zM74.4 295.0h.9v.9h-.9zM92.1 270.9h.9v.9h-.9zM81.0 288.5h.9v.9h-.9zM73.7 291.4h.9v.9h-.9zM93.7 279.8h.9v.9h-.9zM80.3 290.9h.9v.9h-.9zM86.6 277.7h.9v.9h-.9zM76.1 290.4h.9v.9h-.9zM81.5 292.3h.9v.9h-.9zM66.9 283.9h.9v.9h-.9zM66.4 287.5h.9v.9h-.9zM74.8 290.0h.9v.9h-.9zM81.3 288.2h.9v.9h-.9zM86.6 283.4h.9v.9h-.9zM99.5 283.1h.9v.9h-.9zM74.9 291.5h.9v.9h-.9zM87.1 280.1h.9v.9h-.9zM77.4 289.0h.9v.9h-.9zM78.9 283.3h.9v.9h-.9zM68.4 283.6h.9v.9h-.9zM68.0 282.2h.9v.9h-.9zM77.7 293.7h.9v.9h-.9zM73.2 290.3h.9v.9h-.9zM84.5 295.2h.9v.9h-.9zM74.8 283.8h.9v.9h-.9zM90.1 283.1h.9v.9h-.9zM83.3 288.5h.9v.9h-.9zM82.7 286.7h.9v.9h-.9zM90.5 286.6h.9v.9h-.9zM85.6 286.9h.9v.9h-.9zM80.6 285.4h.9v.9h-.9zM77.9 278.9h.9v.9h-.9zM79.6 284.3h.9v.9h-.9zM91.8 291.5h.9v.9h-.9zM88.4 288.6h.9v.9h-.9zM86.3 292.1h.9v.9h-.9zM86.6 283.4h.9v.9h-.9zM77.7 288.4h.9v.9h-.9zM84.2 283.1h.9v.9h-.9zM72.4 292.9h.9v.9h-.9zM91.4 284.6h.9v.9h-.9zM83.1 289.3h.9v.9h-.9zM85.6 294.1h.9v.9h-.9zM84.9 283.0h.9v.9h-.9zM82.8 290.7h.9v.9h-.9zM78.1 283.1h.9v.9h-.9zM91.8 289.0h.9v.9h-.9zM82.0 285.8h.9v.9h-.9zM75.3 289.9h.9v.9h-.9zM85.1 287.2h.9v.9h-.9zM72.1 298.6h.9v.9h-.9zM93.5 283.5h.9v.9h-.9zM79.9 286.4h.9v.9h-.9zM80.5 283.1h.9v.9h-.9zM98.1 283.1h.9v.9h-.9zM95.8 279.0h.9v.9h-.9zM81.9 285.6h.9v.9h-.9zM86.2 286.1h.9v.9h-.9zM90.5 287.6h.9v.9h-.9zM92.7 280.8h.9v.9h-.9zM81.8 290.8h.9v.9h-.9zM85.3 294.3h.9v.9h-.9zM88.4 278.9h.9v.9h-.9zM85.6 292.4h.9v.9h-.9zM90.2 294.2h.9v.9h-.9zM85.3 284.0h.9v.9h-.9zM74.7 293.1h.9v.9h-.9zM73.8 284.7h.9v.9h-.9zM63.7 295.9h.9v.9h-.9zM79.5 287.3h.9v.9h-.9zM91.7 285.6h.9v.9h-.9zM72.7 287.1h.9v.9h-.9zM89.4 281.5h.9v.9h-.9zM88.2 283.5h.9v.9h-.9zM80.4 285.2h.9v.9h-.9zM80.9 285.4h.9v.9h-.9zM82.1 286.8h.9v.9h-.9zM74.2 285.7h.9v.9h-.9zM79.6 287.9h.9v.9h-.9zM82.2 289.7h.9v.9h-.9zM82.9 277.3h.9v.9h-.9zM87.7 286.5h.9v.9h-.9zM75.5 286.8h.9v.9h-.9zM86.0 281.3h.9v.9h-.9zM74.4 284.5h.9v.9h-.9zM79.4 284.9h.9v.9h-.9zM83.3 283.9h.9v.9h-.9zM82.1 289.1h.9v.9h-.9zM79.1 283.1h.9v.9h-.9zM85.1 291.0h.9v.9h-.9zM76.7 285.9h.9v.9h-.9zM78.1 292.0h.9v.9h-.9zM81.9 292.4h.9v.9h-.9zM86.8 280.5h.9v.9h-.9zM82.6 292.1h.9v.9h-.9zM98.3 291.3h.9v.9h-.9zM82.7 285.5h.9v.9h-.9zM61.7 297.7h.9v.9h-.9zM78.6 288.5h.9v.9h-.9zM93.7 284.0h.9v.9h-.9zM81.7 287.2h.9v.9h-.9zM78.1 287.2h.9v.9h-.9zM76.8 293.1h.9v.9h-.9zM92.5 288.1h.9v.9h-.9zM89.0 285.5h.9v.9h-.9zM88.8 292.2h.9v.9h-.9zM86.5 291.2h.9v.9h-.9zM93.1 287.2h.9v.9h-.9zM86.7 283.3h.9v.9h-.9zM76.0 298.7h.9v.9h-.9zM89.2 291.3h.9v.9h-.9zM80.1 279.5h.9v.9h-.9zM79.6 284.2h.9v.9h-.9zM86.7 284.4h.9v.9h-.9zM83.5 291.8h.9v.9h-.9zM63.0 300.6h.9v.9h-.9zM92.6 283.1h.9v.9h-.9zM89.6 286.5h.9v.9h-.9zM82.1 291.3h.9v.9h-.9zM77.6 284.3h.9v.9h-.9zM84.4 290.0h.9v.9h-.9zM72.5 290.4h.9v.9h-.9zM84.4 288.2h.9v.9h-.9zM80.3 288.7h.9v.9h-.9zM77.9 284.6h.9v.9h-.9zM74.1 286.8h.9v.9h-.9zM77.3 290.2h.9v.9h-.9zM90.0 286.0h.9v.9h-.9zM91.0 283.9h.9v.9h-.9zM87.0 291.1h.9v.9h-.9zM81.2 287.0h.9v.9h-.9zM74.1 285.9h.9v.9h-.9zM86.6 285.1h.9v.9h-.9zM93.1 283.5h.9v.9h-.9zM70.4 291.9h.9v.9h-.9zM91.9 289.8h.9v.9h-.9zM67.4 295.8h.9v.9h-.9zM81.1 293.2h.9v.9h-.9zM85.6 289.7h.9v.9h-.9zM72.1 291.2h.9v.9h-.9zM72.8 296.2h.9v.9h-.9zM82.9 286.8h.9v.9h-.9zM88.5 287.0h.9v.9h-.9zM77.2 285.7h.9v.9h-.9zM91.6 285.3h.9v.9h-.9zM76.1 289.1h.9v.9h-.9zM94.9 285.2h.9v.9h-.9zM85.4 295.0h.9v.9h-.9zM87.0 296.9h.9v.9h-.9zM87.8 290.7h.9v.9h-.9zM84.2 287.4h.9v.9h-.9zM96.2 286.8h.9v.9h-.9zM97.9 283.6h.9v.9h-.9zM85.0 284.6h.9v.9h-.9zM80.8 288.5h.9v.9h-.9zM73.4 290.4h.9v.9h-.9zM75.8 287.9h.9v.9h-.9zM84.0 293.6h.9v.9h-.9zM80.5 286.5h.9v.9h-.9zM81.0 286.5h.9v.9h-.9zM83.0 291.0h.9v.9h-.9zM84.5 284.4h.9v.9h-.9zM70.9 287.4h.9v.9h-.9zM73.6 287.7h.9v.9h-.9zM90.6 287.3h.9v.9h-.9zM88.5 287.6h.9v.9h-.9zM78.7 290.9h.9v.9h-.9zM90.5 283.2h.9v.9h-.9zM76.0 286.6h.9v.9h-.9zM81.5 292.5h.9v.9h-.9zM67.1 287.5h.9v.9h-.9zM87.7 285.4h.9v.9h-.9zM80.1 283.3h.9v.9h-.9zM89.0 284.0h.9v.9h-.9zM86.8 285.9h.9v.9h-.9zM84.4 292.8h.9v.9h-.9zM79.2 276.9h.9v.9h-.9zM92.4 290.5h.9v.9h-.9zM79.7 285.4h.9v.9h-.9zM81.4 289.9h.9v.9h-.9zM83.7 291.3h.9v.9h-.9zM86.7 283.3h.9v.9h-.9zM88.5 285.6h.9v.9h-.9zM96.4 285.3h.9v.9h-.9zM81.4 288.1h.9v.9h-.9zM90.1 282.2h.9v.9h-.9zM77.9 290.7h.9v.9h-.9zM86.7 287.2h.9v.9h-.9zM81.1 282.2h.9v.9h-.9zM96.4 289.1h.9v.9h-.9zM86.9 287.6h.9v.9h-.9zM75.8 280.1h.9v.9h-.9zM85.3 283.6h.9v.9h-.9zM87.2 294.0h.9v.9h-.9zM82.4 295.2h.9v.9h-.9zM80.7 290.1h.9v.9h-.9zM73.4 284.2h.9v.9h-.9zM101.5 280.3h.9v.9h-.9zM84.8 292.0h.9v.9h-.9zM89.8 287.3h.9v.9h-.9zM73.7 290.0h.9v.9h-.9zM73.7 288.3h.9v.9h-.9zM82.5 291.9h.9v.9h-.9zM81.1 287.9h.9v.9h-.9zM88.5 287.5h.9v.9h-.9zM76.0 292.8h.9v.9h-.9zM88.5 293.3h.9v.9h-.9zM93.4 285.1h.9v.9h-.9zM76.3 291.7h.9v.9h-.9zM86.3 279.1h.9v.9h-.9zM77.2 295.1h.9v.9h-.9zM86.1 290.9h.9v.9h-.9zM85.0 287.3h.9v.9h-.9zM91.5 275.1h.9v.9h-.9zM76.8 287.9h.9v.9h-.9zM83.7 288.2h.9v.9h-.9zM92.7 293.7h.9v.9h-.9zM75.0 293.6h.9v.9h-.9zM83.5 291.4h.9v.9h-.9zM77.4 293.7h.9v.9h-.9zM79.3 295.3h.9v.9h-.9zM85.6 282.2h.9v.9h-.9zM86.2 283.2h.9v.9h-.9zM98.9 277.1h.9v.9h-.9zM91.7 283.7h.9v.9h-.9zM91.0 283.6h.9v.9h-.9zM81.4 289.1h.9v.9h-.9zM78.8 285.1h.9v.9h-.9zM83.5 288.3h.9v.9h-.9zM65.1 290.9h.9v.9h-.9zM97.0 292.2h.9v.9h-.9zM71.5 278.9h.9v.9h-.9zM117.8 307.2h.9v.9h-.9zM104.0 298.4h.9v.9h-.9zM61.5 289.2h.9v.9h-.9zM93.9 309.2h.9v.9h-.9zM88.6 299.2h.9v.9h-.9zM56.4 297.9h.9v.9h-.9zM88.6 281.0h.9v.9h-.9zM78.1 299.9h.9v.9h-.9zM84.7 309.0h.9v.9h-.9zM66.6 305.8h.9v.9h-.9zM78.5 281.1h.9v.9h-.9zM85.6 308.8h.9v.9h-.9zM76.7 311.0h.9v.9h-.9zM70.3 303.1h.9v.9h-.9zM77.0 290.4h.9v.9h-.9zM64.7 278.9h.9v.9h-.9zM84.6 285.0h.9v.9h-.9zM102.1 297.1h.9v.9h-.9zM80.4 300.0h.9v.9h-.9zM86.5 286.6h.9v.9h-.9zM92.2 277.3h.9v.9h-.9zM60.7 289.9h.9v.9h-.9zM113.6 280.5h.9v.9h-.9zM62.6 307.9h.9v.9h-.9zM86.4 281.4h.9v.9h-.9zM84.3 299.0h.9v.9h-.9zM99.1 302.6h.9v.9h-.9zM79.2 283.9h.9v.9h-.9zM58.2 304.4h.9v.9h-.9zM84.2 292.5h.9v.9h-.9zM76.3 284.1h.9v.9h-.9zM72.4 295.0h.9v.9h-.9zM102.8 305.0h.9v.9h-.9zM75.1 274.2h.9v.9h-.9zM72.5 300.2h.9v.9h-.9zM67.9 292.3h.9v.9h-.9zM66.4 286.0h.9v.9h-.9zM70.9 292.7h.9v.9h-.9zM88.2 293.7h.9v.9h-.9zM59.4 293.2h.9v.9h-.9zM76.1 302.2h.9v.9h-.9zM57.2 284.5h.9v.9h-.9zM76.7 314.2h.9v.9h-.9zM81.6 303.1h.9v.9h-.9zM60.6 287.7h.9v.9h-.9zM70.5 273.9h.9v.9h-.9zM80.7 293.7h.9v.9h-.9zM90.7 289.7h.9v.9h-.9zM93.4 301.6h.9v.9h-.9zM77.4 301.4h.9v.9h-.9zM64.0 313.7h.9v.9h-.9zM54.6 292.6h.9v.9h-.9zM90.7 302.2h.9v.9h-.9zM100.0 289.7h.9v.9h-.9zM84.5 290.2h.9v.9h-.9zM102.6 309.9h.9v.9h-.9zM72.2 292.7h.9v.9h-.9zM73.1 293.0h.9v.9h-.9zM102.6 290.5h.9v.9h-.9zM63.8 297.5h.9v.9h-.9zM88.1 300.3h.9v.9h-.9zM84.8 293.0h.9v.9h-.9zM81.3 282.4h.9v.9h-.9zM105.1 297.7h.9v.9h-.9zM65.7 285.7h.9v.9h-.9zM72.5 290.6h.9v.9h-.9zM63.2 296.9h.9v.9h-.9zM71.2 270.3h.9v.9h-.9zM73.1 311.9h.9v.9h-.9zM75.9 302.6h.9v.9h-.9zM83.5 314.3h.9v.9h-.9zM68.9 320.4h.9v.9h-.9zM49.1 284.6h.9v.9h-.9zM81.3 288.4h.9v.9h-.9zM85.3 296.8h.9v.9h-.9zM61.5 303.9h.9v.9h-.9zM67.1 288.9h.9v.9h-.9zM105.5 290.9h.9v.9h-.9zM94.5 305.3h.9v.9h-.9zM95.4 284.9h.9v.9h-.9zM89.1 296.3h.9v.9h-.9zM81.2 305.3h.9v.9h-.9zM71.3 291.3h.9v.9h-.9zM87.6 302.1h.9v.9h-.9zM76.0 292.8h.9v.9h-.9zM72.3 277.5h.9v.9h-.9zM78.8 288.3h.9v.9h-.9zM77.8 291.7h.9v.9h-.9zM92.4 290.3h.9v.9h-.9zM64.5 294.0h.9v.9h-.9zM116.6 297.8h.9v.9h-.9zM63.8 296.6h.9v.9h-.9zM72.5 295.5h.9v.9h-.9zM93.2 289.1h.9v.9h-.9zM66.3 291.2h.9v.9h-.9zM71.7 289.6h.9v.9h-.9zM79.4 287.3h.9v.9h-.9zM71.3 273.7h.9v.9h-.9zM64.4 295.7h.9v.9h-.9zM75.3 276.3h.9v.9h-.9zM86.5 287.0h.9v.9h-.9zM88.7 301.4h.9v.9h-.9zM101.7 290.1h.9v.9h-.9zM100.8 307.4h.9v.9h-.9zM94.6 283.2h.9v.9h-.9zM78.4 289.8h.9v.9h-.9zM94.8 286.3h.9v.9h-.9zM64.0 292.9h.9v.9h-.9zM77.6 289.5h.9v.9h-.9zM100.8 288.7h.9v.9h-.9zM91.0 293.5h.9v.9h-.9zM57.9 303.9h.9v.9h-.9zM70.1 294.0h.9v.9h-.9zM92.7 293.0h.9v.9h-.9zM88.4 289.3h.9v.9h-.9zM95.4 285.0h.9v.9h-.9zM52.4 277.3h.9v.9h-.9zM59.9 281.3h.9v.9h-.9zM75.3 292.4h.9v.9h-.9zM64.4 272.3h.9v.9h-.9zM78.7 298.7h.9v.9h-.9zM79.4 287.6h.9v.9h-.9zM84.4 282.2h.9v.9h-.9zM77.2 286.2h.9v.9h-.9zM87.7 298.6h.9v.9h-.9zM91.0 295.6h.9v.9h-.9zM81.6 294.6h.9v.9h-.9zM60.8 310.1h.9v.9h-.9zM98.8 316.2h.9v.9h-.9zM82.6 279.0h.9v.9h-.9zM85.7 301.4h.9v.9h-.9zM81.9 284.6h.9v.9h-.9zM54.9 278.4h.9v.9h-.9zM88.1 287.3h.9v.9h-.9zM69.4 303.3h.9v.9h-.9zM60.9 289.8h.9v.9h-.9zM98.7 288.2h.9v.9h-.9zM74.7 307.8h.9v.9h-.9zM83.7 298.7h.9v.9h-.9zM92.8 292.8h.9v.9h-.9zM103.8 312.4h.9v.9h-.9zM51.9 298.9h.9v.9h-.9zM68.0 286.5h.9v.9h-.9zM89.5 282.8h.9v.9h-.9zM69.2 289.8h.9v.9h-.9zM81.4 304.0h.9v.9h-.9zM82.7 303.0h.9v.9h-.9zM91.3 295.5h.9v.9h-.9zM82.7 282.3h.9v.9h-.9zM72.6 304.0h.9v.9h-.9zM82.5 295.3h.9v.9h-.9zM78.7 283.1h.9v.9h-.9zM71.6 281.6h.9v.9h-.9zM83.1 296.6h.9v.9h-.9zM84.6 297.8h.9v.9h-.9zM63.9 302.6h.9v.9h-.9zM94.8 281.6h.9v.9h-.9zM91.8 313.9h.9v.9h-.9zM91.2 275.4h.9v.9h-.9zM81.0 307.9h.9v.9h-.9zM77.4 304.8h.9v.9h-.9zM64.1 284.2h.9v.9h-.9zM88.0 300.3h.9v.9h-.9zM120.1 261.1h.9v.9h-.9zM117.0 263.7h.9v.9h-.9zM105.0 265.6h.9v.9h-.9zM123.2 261.1h.9v.9h-.9zM100.2 264.8h.9v.9h-.9zM110.9 257.6h.9v.9h-.9zM104.6 267.4h.9v.9h-.9zM109.6 270.0h.9v.9h-.9zM109.0 262.4h.9v.9h-.9zM114.1 258.1h.9v.9h-.9zM103.2 268.0h.9v.9h-.9zM113.0 263.4h.9v.9h-.9zM118.5 250.5h.9v.9h-.9zM111.7 261.8h.9v.9h-.9zM114.6 259.1h.9v.9h-.9zM113.9 260.1h.9v.9h-.9zM107.5 271.1h.9v.9h-.9zM109.5 267.6h.9v.9h-.9zM111.8 263.7h.9v.9h-.9zM114.9 263.7h.9v.9h-.9zM126.5 266.5h.9v.9h-.9zM122.3 258.9h.9v.9h-.9zM108.7 267.1h.9v.9h-.9zM108.2 262.8h.9v.9h-.9zM104.9 268.0h.9v.9h-.9zM95.6 267.8h.9v.9h-.9zM120.3 260.4h.9v.9h-.9zM115.8 266.8h.9v.9h-.9zM98.3 268.3h.9v.9h-.9zM112.6 269.8h.9v.9h-.9zM127.7 260.1h.9v.9h-.9zM115.0 264.1h.9v.9h-.9zM114.7 261.5h.9v.9h-.9zM113.7 267.7h.9v.9h-.9zM105.9 262.9h.9v.9h-.9zM103.4 265.6h.9v.9h-.9zM106.5 269.2h.9v.9h-.9zM112.9 265.7h.9v.9h-.9zM110.1 265.4h.9v.9h-.9zM116.7 264.2h.9v.9h-.9zM124.1 263.1h.9v.9h-.9zM116.2 265.5h.9v.9h-.9zM117.4 262.2h.9v.9h-.9zM108.2 258.6h.9v.9h-.9zM103.4 269.9h.9v.9h-.9zM126.3 258.3h.9v.9h-.9zM117.8 268.9h.9v.9h-.9zM120.2 263.6h.9v.9h-.9zM110.9 274.4h.9v.9h-.9zM100.6 269.9h.9v.9h-.9zM121.2 263.9h.9v.9h-.9zM97.2 269.6h.9v.9h-.9zM109.9 260.1h.9v.9h-.9zM108.1 265.4h.9v.9h-.9zM113.1 262.8h.9v.9h-.9zM117.5 263.2h.9v.9h-.9zM116.4 256.9h.9v.9h-.9zM95.9 260.0h.9v.9h-.9zM119.1 265.1h.9v.9h-.9zM98.5 266.6h.9v.9h-.9zM116.2 261.9h.9v.9h-.9zM108.6 264.4h.9v.9h-.9zM103.5 263.5h.9v.9h-.9zM107.8 263.3h.9v.9h-.9zM102.9 267.8h.9v.9h-.9zM111.5 263.4h.9v.9h-.9zM118.7 265.1h.9v.9h-.9zM117.0 260.9h.9v.9h-.9zM111.1 258.5h.9v.9h-.9zM119.1 260.7h.9v.9h-.9zM115.2 263.0h.9v.9h-.9zM126.3 257.9h.9v.9h-.9zM115.2 262.2h.9v.9h-.9zM107.3 263.2h.9v.9h-.9zM110.2 267.2h.9v.9h-.9zM106.9 267.5h.9v.9h-.9zM110.3 267.7h.9v.9h-.9zM110.3 261.8h.9v.9h-.9zM116.8 264.2h.9v.9h-.9zM117.9 267.0h.9v.9h-.9zM112.2 264.5h.9v.9h-.9zM114.7 263.3h.9v.9h-.9zM106.2 262.6h.9v.9h-.9zM108.4 267.2h.9v.9h-.9zM94.6 267.6h.9v.9h-.9zM106.9 268.0h.9v.9h-.9zM108.2 264.2h.9v.9h-.9zM130.9 267.2h.9v.9h-.9zM102.3 265.6h.9v.9h-.9zM111.6 260.2h.9v.9h-.9zM109.5 265.0h.9v.9h-.9zM101.0 267.4h.9v.9h-.9zM114.3 267.6h.9v.9h-.9zM111.6 262.5h.9v.9h-.9zM101.2 264.1h.9v.9h-.9zM95.3 266.1h.9v.9h-.9zM111.1 262.9h.9v.9h-.9zM100.6 259.3h.9v.9h-.9zM116.9 265.4h.9v.9h-.9zM110.5 268.2h.9v.9h-.9zM115.1 261.0h.9v.9h-.9zM109.1 261.4h.9v.9h-.9zM122.5 261.7h.9v.9h-.9zM116.2 260.6h.9v.9h-.9zM123.0 264.5h.9v.9h-.9zM112.4 261.9h.9v.9h-.9zM105.0 267.1h.9v.9h-.9zM101.3 261.9h.9v.9h-.9zM107.6 260.3h.9v.9h-.9zM113.1 258.9h.9v.9h-.9zM106.8 260.4h.9v.9h-.9zM129.4 262.3h.9v.9h-.9zM112.0 266.7h.9v.9h-.9zM115.3 263.9h.9v.9h-.9zM112.7 264.5h.9v.9h-.9zM102.0 258.8h.9v.9h-.9zM120.1 266.1h.9v.9h-.9zM115.9 259.4h.9v.9h-.9zM118.9 266.9h.9v.9h-.9zM106.8 272.5h.9v.9h-.9zM112.3 264.1h.9v.9h-.9zM112.2 265.9h.9v.9h-.9zM120.7 264.4h.9v.9h-.9zM101.7 261.7h.9v.9h-.9zM116.3 259.7h.9v.9h-.9zM120.7 260.3h.9v.9h-.9zM109.3 264.9h.9v.9h-.9zM106.9 267.5h.9v.9h-.9zM121.6 262.7h.9v.9h-.9zM114.6 267.0h.9v.9h-.9zM119.9 261.0h.9v.9h-.9zM116.8 258.7h.9v.9h-.9zM119.8 262.7h.9v.9h-.9zM111.0 264.0h.9v.9h-.9zM96.6 262.3h.9v.9h-.9zM117.1 266.3h.9v.9h-.9zM107.0 261.9h.9v.9h-.9zM116.3 261.0h.9v.9h-.9zM108.8 265.3h.9v.9h-.9zM123.3 258.6h.9v.9h-.9zM111.0 266.1h.9v.9h-.9zM118.4 264.1h.9v.9h-.9zM120.4 264.0h.9v.9h-.9zM111.8 264.0h.9v.9h-.9zM114.4 262.1h.9v.9h-.9zM111.9 261.7h.9v.9h-.9zM106.0 266.0h.9v.9h-.9zM123.5 266.3h.9v.9h-.9zM106.3 267.5h.9v.9h-.9zM101.5 267.1h.9v.9h-.9zM119.1 266.2h.9v.9h-.9zM119.8 273.6h.9v.9h-.9zM114.5 270.1h.9v.9h-.9zM117.0 268.8h.9v.9h-.9zM119.6 275.1h.9v.9h-.9zM115.7 271.0h.9v.9h-.9zM116.1 265.7h.9v.9h-.9zM118.3 277.6h.9v.9h-.9zM116.6 276.8h.9v.9h-.9zM119.6 274.2h.9v.9h-.9zM116.4 266.5h.9v.9h-.9zM118.3 277.5h.9v.9h-.9zM122.3 268.8h.9v.9h-.9zM119.4 262.3h.9v.9h-.9zM114.3 271.2h.9v.9h-.9zM114.9 281.0h.9v.9h-.9zM115.0 269.5h.9v.9h-.9zM117.0 274.8h.9v.9h-.9zM114.2 278.8h.9v.9h-.9zM118.2 272.7h.9v.9h-.9zM120.6 270.2h.9v.9h-.9zM120.3 271.9h.9v.9h-.9zM115.5 274.8h.9v.9h-.9zM116.5 269.2h.9v.9h-.9zM116.5 273.6h.9v.9h-.9zM115.4 274.6h.9v.9h-.9zM120.6 269.9h.9v.9h-.9zM115.6 275.4h.9v.9h-.9zM114.8 274.6h.9v.9h-.9zM117.8 270.2h.9v.9h-.9zM117.7 270.9h.9v.9h-.9zM120.2 272.4h.9v.9h-.9zM120.2 271.0h.9v.9h-.9zM116.7 270.7h.9v.9h-.9zM112.7 266.6h.9v.9h-.9zM118.4 272.3h.9v.9h-.9zM118.7 275.5h.9v.9h-.9zM120.7 275.0h.9v.9h-.9zM113.8 267.7h.9v.9h-.9zM114.6 274.6h.9v.9h-.9zM120.2 274.9h.9v.9h-.9zM120.3 267.2h.9v.9h-.9zM119.7 274.5h.9v.9h-.9zM117.0 270.9h.9v.9h-.9zM119.6 270.0h.9v.9h-.9zM115.9 273.0h.9v.9h-.9zM114.4 270.8h.9v.9h-.9zM116.9 260.6h.9v.9h-.9zM117.2 272.9h.9v.9h-.9zM118.6 266.2h.9v.9h-.9zM119.2 271.4h.9v.9h-.9zM113.4 275.2h.9v.9h-.9zM117.5 270.6h.9v.9h-.9zM118.0 269.6h.9v.9h-.9zM114.4 272.5h.9v.9h-.9zM116.4 274.3h.9v.9h-.9zM117.1 267.6h.9v.9h-.9zM117.9 268.6h.9v.9h-.9zM115.2 274.3h.9v.9h-.9zM115.7 279.8h.9v.9h-.9zM91.1 280.4h.9v.9h-.9zM115.0 276.6h.9v.9h-.9zM105.3 277.5h.9v.9h-.9zM107.2 273.3h.9v.9h-.9zM101.2 278.8h.9v.9h-.9zM108.5 278.3h.9v.9h-.9zM96.6 284.7h.9v.9h-.9zM113.1 273.8h.9v.9h-.9zM95.5 286.9h.9v.9h-.9zM99.5 284.6h.9v.9h-.9zM104.3 274.9h.9v.9h-.9zM113.5 280.9h.9v.9h-.9zM93.3 274.5h.9v.9h-.9zM96.8 280.2h.9v.9h-.9zM97.5 278.7h.9v.9h-.9zM98.2 276.6h.9v.9h-.9zM88.9 284.3h.9v.9h-.9zM112.4 273.1h.9v.9h-.9zM91.5 281.8h.9v.9h-.9zM108.7 283.3h.9v.9h-.9zM107.6 277.0h.9v.9h-.9zM114.6 280.1h.9v.9h-.9zM95.9 285.6h.9v.9h-.9zM111.7 270.7h.9v.9h-.9zM99.1 284.5h.9v.9h-.9zM92.8 287.0h.9v.9h-.9zM92.3 285.2h.9v.9h-.9zM96.4 281.9h.9v.9h-.9zM100.0 279.6h.9v.9h-.9zM99.4 277.2h.9v.9h-.9zM102.3 278.4h.9v.9h-.9zM104.2 278.7h.9v.9h-.9zM99.7 280.2h.9v.9h-.9zM111.0 273.8h.9v.9h-.9zM107.0 269.6h.9v.9h-.9zM111.5 271.3h.9v.9h-.9zM102.7 274.6h.9v.9h-.9zM106.5 279.9h.9v.9h-.9zM100.1 276.5h.9v.9h-.9zM97.1 282.1h.9v.9h-.9zM105.4 279.1h.9v.9h-.9zM89.4 280.8h.9v.9h-.9zM108.6 272.3h.9v.9h-.9zM112.4 278.2h.9v.9h-.9zM93.4 281.0h.9v.9h-.9zM105.5 274.7h.9v.9h-.9zM111.6 278.4h.9v.9h-.9zM109.8 278.9h.9v.9h-.9zM104.8 279.7h.9v.9h-.9zM102.5 274.2h.9v.9h-.9zM118.4 277.2h.9v.9h-.9zM98.7 280.4h.9v.9h-.9zM97.3 284.6h.9v.9h-.9zM117.6 275.6h.9v.9h-.9zM110.0 276.5h.9v.9h-.9zM92.7 285.8h.9v.9h-.9zM106.3 285.0h.9v.9h-.9zM103.1 278.5h.9v.9h-.9zM97.8 281.7h.9v.9h-.9zM114.7 277.3h.9v.9h-.9zM91.0 282.4h.9v.9h-.9zM105.8 281.9h.9v.9h-.9zM113.3 274.8h.9v.9h-.9zM109.6 277.5h.9v.9h-.9zM99.4 281.3h.9v.9h-.9zM96.8 284.9h.9v.9h-.9zM100.6 285.8h.9v.9h-.9zM102.1 277.6h.9v.9h-.9zM112.5 272.1h.9v.9h-.9zM92.5 284.5h.9v.9h-.9zM106.8 288.8h.9v.9h-.9zM114.3 255.4h.9v.9h-.9zM106.5 258.4h.9v.9h-.9zM113.6 290.0h.9v.9h-.9zM114.4 271.5h.9v.9h-.9zM107.1 273.8h.9v.9h-.9zM113.0 271.7h.9v.9h-.9zM104.5 265.8h.9v.9h-.9zM123.1 272.8h.9v.9h-.9zM115.4 293.0h.9v.9h-.9zM93.7 293.7h.9v.9h-.9zM119.9 259.1h.9v.9h-.9zM118.9 275.9h.9v.9h-.9zM119.8 274.5h.9v.9h-.9zM107.8 259.8h.9v.9h-.9zM95.5 264.2h.9v.9h-.9zM115.4 265.6h.9v.9h-.9zM105.7 260.8h.9v.9h-.9zM106.4 285.7h.9v.9h-.9zM98.9 288.9h.9v.9h-.9zM123.6 279.7h.9v.9h-.9zM107.3 293.6h.9v.9h-.9zM99.3 293.2h.9v.9h-.9zM109.0 263.2h.9v.9h-.9zM119.8 279.1h.9v.9h-.9zM114.0 264.6h.9v.9h-.9zM120.0 276.6h.9v.9h-.9zM121.0 272.9h.9v.9h-.9zM121.2 276.8h.9v.9h-.9zM119.2 292.5h.9v.9h-.9zM117.0 288.1h.9v.9h-.9zM110.7 266.9h.9v.9h-.9zM112.8 255.7h.9v.9h-.9zM109.5 280.5h.9v.9h-.9zM104.2 269.9h.9v.9h-.9zM117.3 279.2h.9v.9h-.9zM95.8 270.8h.9v.9h-.9zM120.2 259.9h.9v.9h-.9zM94.6 261.1h.9v.9h-.9zM105.8 265.7h.9v.9h-.9zM107.5 285.6h.9v.9h-.9zM116.8 267.0h.9v.9h-.9zM113.5 293.9h.9v.9h-.9zM101.9 285.5h.9v.9h-.9zM120.4 290.4h.9v.9h-.9zM121.0 272.9h.9v.9h-.9zM107.3 273.0h.9v.9h-.9zM112.5 255.5h.9v.9h-.9zM122.2 278.8h.9v.9h-.9zM110.8 289.8h.9v.9h-.9z" fill="#4858c8" fill-opacity="0.5"/>
<g filter="url(#bl1)" opacity="0.35" transform="translate(113.00 264.50) skewX(0) rotate(-12)">
<ellipse cx="0.00" cy="-0.00" rx="10.08" ry="3.41" fill="#2342c8" fill-opacity="0.9"/>
</g>
<g filter="url(#bl1)" opacity="1.0" transform="translate(82.00 288.30) skewX(0) rotate(-20)">
<ellipse cx="0.00" cy="-0.00" rx="12.25" ry="6.35" fill="#2342c8" fill-opacity="0.9"/>
<ellipse cx="0.15" cy="-0.10" rx="10.59" ry="5.49" fill="#12a4e6" fill-opacity="1.0"/>
<ellipse cx="0.30" cy="-0.20" rx="8.53" ry="4.43" fill="#22c050" fill-opacity="1.0"/>
<ellipse cx="0.45" cy="-0.30" rx="5.21" ry="2.71" fill="#b8e020" fill-opacity="1.0"/>
<ellipse cx="0.60" cy="-0.40" rx="2.69" ry="1.39" fill="#ee4a12" fill-opacity="1.0"/>
</g>
<rect x="47.2" y="236.0" width="88.6" height="88.2" fill="none" stroke="#3a3a3a" stroke-width="1.0"/>
<line x1="97.30" y1="236.00" x2="97.30" y2="324.20" stroke="#333" stroke-width="1.1" />
<line x1="47.20" y1="279.40" x2="135.80" y2="279.40" stroke="#333" stroke-width="1.1" />
<text x="49.4" y="241.8" font-family="'Liberation Sans', sans-serif" font-size="4.6" font-weight="bold" fill="#2a2a2a" text-anchor="start" stroke="#2a2a2a" stroke-width="0.15">Q1</text>
<text x="49.4" y="248.6" font-family="'Liberation Sans', sans-serif" font-size="4.6" font-weight="bold" fill="#2a2a2a" text-anchor="start" stroke="#2a2a2a" stroke-width="0.15">0.198%</text>
<text x="133.8" y="241.8" font-family="'Liberation Sans', sans-serif" font-size="4.6" font-weight="bold" fill="#2a2a2a" text-anchor="end" stroke="#2a2a2a" stroke-width="0.15">Q2</text>
<text x="133.8" y="248.6" font-family="'Liberation Sans', sans-serif" font-size="4.6" font-weight="bold" fill="#2a2a2a" text-anchor="end" stroke="#2a2a2a" stroke-width="0.15">8.88%</text>
<text x="133.8" y="316.2" font-family="'Liberation Sans', sans-serif" font-size="4.6" font-weight="bold" fill="#2a2a2a" text-anchor="end" stroke="#2a2a2a" stroke-width="0.15">Q3</text>
<text x="133.8" y="322.6" font-family="'Liberation Sans', sans-serif" font-size="4.6" font-weight="bold" fill="#2a2a2a" text-anchor="end" stroke="#2a2a2a" stroke-width="0.15">1.93%</text>
<text x="49.4" y="316.2" font-family="'Liberation Sans', sans-serif" font-size="4.6" font-weight="bold" fill="#2a2a2a" text-anchor="start" stroke="#2a2a2a" stroke-width="0.15">Q4</text>
<text x="49.4" y="322.6" font-family="'Liberation Sans', sans-serif" font-size="4.6" font-weight="bold" fill="#2a2a2a" text-anchor="start" stroke="#2a2a2a" stroke-width="0.15">89.0%</text>
<line x1="45.40" y1="317.79" x2="47.20" y2="317.79" stroke="#333" stroke-width="0.7" />
<text x="42.2" y="320.0" font-family="'Liberation Sans', sans-serif" font-size="4.8" font-weight="bold" fill="#2a2a2a" text-anchor="end" stroke="#2a2a2a" stroke-width="0.15">10</text>
<text x="44.8" y="316.7" font-family="'Liberation Sans', sans-serif" font-size="4.3" font-weight="bold" fill="#2a2a2a" text-anchor="end" stroke="#2a2a2a" stroke-width="0.15">1</text>
<line x1="45.40" y1="305.44" x2="47.20" y2="305.44" stroke="#333" stroke-width="0.7" />
<text x="42.2" y="307.6" font-family="'Liberation Sans', sans-serif" font-size="4.8" font-weight="bold" fill="#2a2a2a" text-anchor="end" stroke="#2a2a2a" stroke-width="0.15">10</text>
<text x="44.8" y="304.3" font-family="'Liberation Sans', sans-serif" font-size="4.3" font-weight="bold" fill="#2a2a2a" text-anchor="end" stroke="#2a2a2a" stroke-width="0.15">2</text>
<line x1="45.40" y1="291.95" x2="47.20" y2="291.95" stroke="#333" stroke-width="0.7" />
<text x="42.2" y="294.1" font-family="'Liberation Sans', sans-serif" font-size="4.8" font-weight="bold" fill="#2a2a2a" text-anchor="end" stroke="#2a2a2a" stroke-width="0.15">10</text>
<text x="44.8" y="290.8" font-family="'Liberation Sans', sans-serif" font-size="4.3" font-weight="bold" fill="#2a2a2a" text-anchor="end" stroke="#2a2a2a" stroke-width="0.15">3</text>
<line x1="45.40" y1="278.72" x2="47.20" y2="278.72" stroke="#333" stroke-width="0.7" />
<text x="42.2" y="280.9" font-family="'Liberation Sans', sans-serif" font-size="4.8" font-weight="bold" fill="#2a2a2a" text-anchor="end" stroke="#2a2a2a" stroke-width="0.15">10</text>
<text x="44.8" y="277.6" font-family="'Liberation Sans', sans-serif" font-size="4.3" font-weight="bold" fill="#2a2a2a" text-anchor="end" stroke="#2a2a2a" stroke-width="0.15">4</text>
<line x1="45.40" y1="267.08" x2="47.20" y2="267.08" stroke="#333" stroke-width="0.7" />
<text x="42.2" y="269.3" font-family="'Liberation Sans', sans-serif" font-size="4.8" font-weight="bold" fill="#2a2a2a" text-anchor="end" stroke="#2a2a2a" stroke-width="0.15">10</text>
<text x="44.8" y="266.0" font-family="'Liberation Sans', sans-serif" font-size="4.3" font-weight="bold" fill="#2a2a2a" text-anchor="end" stroke="#2a2a2a" stroke-width="0.15">5</text>
<line x1="45.40" y1="255.61" x2="47.20" y2="255.61" stroke="#333" stroke-width="0.7" />
<text x="42.2" y="257.8" font-family="'Liberation Sans', sans-serif" font-size="4.8" font-weight="bold" fill="#2a2a2a" text-anchor="end" stroke="#2a2a2a" stroke-width="0.15">10</text>
<text x="44.8" y="254.5" font-family="'Liberation Sans', sans-serif" font-size="4.3" font-weight="bold" fill="#2a2a2a" text-anchor="end" stroke="#2a2a2a" stroke-width="0.15">6</text>
<line x1="45.40" y1="243.97" x2="47.20" y2="243.97" stroke="#333" stroke-width="0.7" />
<text x="42.2" y="246.2" font-family="'Liberation Sans', sans-serif" font-size="4.8" font-weight="bold" fill="#2a2a2a" text-anchor="end" stroke="#2a2a2a" stroke-width="0.15">10</text>
<text x="44.8" y="242.9" font-family="'Liberation Sans', sans-serif" font-size="4.3" font-weight="bold" fill="#2a2a2a" text-anchor="end" stroke="#2a2a2a" stroke-width="0.15">7</text>
<line x1="46.30" y1="238.00" x2="47.20" y2="238.00" stroke="#555" stroke-width="0.35" />
<line x1="46.30" y1="240.10" x2="47.20" y2="240.10" stroke="#555" stroke-width="0.35" />
<line x1="46.30" y1="242.21" x2="47.20" y2="242.21" stroke="#555" stroke-width="0.35" />
<line x1="46.30" y1="244.31" x2="47.20" y2="244.31" stroke="#555" stroke-width="0.35" />
<line x1="46.30" y1="246.42" x2="47.20" y2="246.42" stroke="#555" stroke-width="0.35" />
<line x1="46.30" y1="248.53" x2="47.20" y2="248.53" stroke="#555" stroke-width="0.35" />
<line x1="46.30" y1="250.63" x2="47.20" y2="250.63" stroke="#555" stroke-width="0.35" />
<line x1="46.30" y1="252.73" x2="47.20" y2="252.73" stroke="#555" stroke-width="0.35" />
<line x1="46.30" y1="254.84" x2="47.20" y2="254.84" stroke="#555" stroke-width="0.35" />
<line x1="46.30" y1="256.94" x2="47.20" y2="256.94" stroke="#555" stroke-width="0.35" />
<line x1="46.30" y1="259.05" x2="47.20" y2="259.05" stroke="#555" stroke-width="0.35" />
<line x1="46.30" y1="261.15" x2="47.20" y2="261.15" stroke="#555" stroke-width="0.35" />
<line x1="46.30" y1="263.26" x2="47.20" y2="263.26" stroke="#555" stroke-width="0.35" />
<line x1="46.30" y1="265.37" x2="47.20" y2="265.37" stroke="#555" stroke-width="0.35" />
<line x1="46.30" y1="267.47" x2="47.20" y2="267.47" stroke="#555" stroke-width="0.35" />
<line x1="46.30" y1="269.57" x2="47.20" y2="269.57" stroke="#555" stroke-width="0.35" />
<line x1="46.30" y1="271.68" x2="47.20" y2="271.68" stroke="#555" stroke-width="0.35" />
<line x1="46.30" y1="273.78" x2="47.20" y2="273.78" stroke="#555" stroke-width="0.35" />
<line x1="46.30" y1="275.89" x2="47.20" y2="275.89" stroke="#555" stroke-width="0.35" />
<line x1="46.30" y1="278.00" x2="47.20" y2="278.00" stroke="#555" stroke-width="0.35" />
<line x1="46.30" y1="280.10" x2="47.20" y2="280.10" stroke="#555" stroke-width="0.35" />
<line x1="46.30" y1="282.20" x2="47.20" y2="282.20" stroke="#555" stroke-width="0.35" />
<line x1="46.30" y1="284.31" x2="47.20" y2="284.31" stroke="#555" stroke-width="0.35" />
<line x1="46.30" y1="286.41" x2="47.20" y2="286.41" stroke="#555" stroke-width="0.35" />
<line x1="46.30" y1="288.52" x2="47.20" y2="288.52" stroke="#555" stroke-width="0.35" />
<line x1="46.30" y1="290.62" x2="47.20" y2="290.62" stroke="#555" stroke-width="0.35" />
<line x1="46.30" y1="292.73" x2="47.20" y2="292.73" stroke="#555" stroke-width="0.35" />
<line x1="46.30" y1="294.83" x2="47.20" y2="294.83" stroke="#555" stroke-width="0.35" />
<line x1="46.30" y1="296.94" x2="47.20" y2="296.94" stroke="#555" stroke-width="0.35" />
<line x1="46.30" y1="299.05" x2="47.20" y2="299.05" stroke="#555" stroke-width="0.35" />
<line x1="46.30" y1="301.15" x2="47.20" y2="301.15" stroke="#555" stroke-width="0.35" />
<line x1="46.30" y1="303.25" x2="47.20" y2="303.25" stroke="#555" stroke-width="0.35" />
<line x1="46.30" y1="305.36" x2="47.20" y2="305.36" stroke="#555" stroke-width="0.35" />
<line x1="46.30" y1="307.46" x2="47.20" y2="307.46" stroke="#555" stroke-width="0.35" />
<line x1="46.30" y1="309.57" x2="47.20" y2="309.57" stroke="#555" stroke-width="0.35" />
<line x1="46.30" y1="311.67" x2="47.20" y2="311.67" stroke="#555" stroke-width="0.35" />
<line x1="46.30" y1="313.78" x2="47.20" y2="313.78" stroke="#555" stroke-width="0.35" />
<line x1="46.30" y1="315.88" x2="47.20" y2="315.88" stroke="#555" stroke-width="0.35" />
<line x1="46.30" y1="317.99" x2="47.20" y2="317.99" stroke="#555" stroke-width="0.35" />
<line x1="46.30" y1="320.10" x2="47.20" y2="320.10" stroke="#555" stroke-width="0.35" />
<line x1="54.57" y1="324.20" x2="54.57" y2="326.40" stroke="#333" stroke-width="0.7" />
<text x="52.1" y="333.5" font-family="'Liberation Sans', sans-serif" font-size="4.8" font-weight="bold" fill="#2a2a2a" text-anchor="middle" stroke="#2a2a2a" stroke-width="0.15">10</text>
<text x="56.3" y="330.2" font-family="'Liberation Sans', sans-serif" font-size="4.3" font-weight="bold" fill="#2a2a2a" text-anchor="middle" stroke="#2a2a2a" stroke-width="0.15">1</text>
<line x1="64.67" y1="324.20" x2="64.67" y2="326.40" stroke="#333" stroke-width="0.7" />
<text x="62.2" y="333.5" font-family="'Liberation Sans', sans-serif" font-size="4.8" font-weight="bold" fill="#2a2a2a" text-anchor="middle" stroke="#2a2a2a" stroke-width="0.15">10</text>
<text x="66.4" y="330.2" font-family="'Liberation Sans', sans-serif" font-size="4.3" font-weight="bold" fill="#2a2a2a" text-anchor="middle" stroke="#2a2a2a" stroke-width="0.15">2</text>
<line x1="77.43" y1="324.20" x2="77.43" y2="326.40" stroke="#333" stroke-width="0.7" />
<text x="74.9" y="333.5" font-family="'Liberation Sans', sans-serif" font-size="4.8" font-weight="bold" fill="#2a2a2a" text-anchor="middle" stroke="#2a2a2a" stroke-width="0.15">10</text>
<text x="79.1" y="330.2" font-family="'Liberation Sans', sans-serif" font-size="4.3" font-weight="bold" fill="#2a2a2a" text-anchor="middle" stroke="#2a2a2a" stroke-width="0.15">3</text>
<line x1="90.81" y1="324.20" x2="90.81" y2="326.40" stroke="#333" stroke-width="0.7" />
<text x="88.3" y="333.5" font-family="'Liberation Sans', sans-serif" font-size="4.8" font-weight="bold" fill="#2a2a2a" text-anchor="middle" stroke="#2a2a2a" stroke-width="0.15">10</text>
<text x="92.5" y="330.2" font-family="'Liberation Sans', sans-serif" font-size="4.3" font-weight="bold" fill="#2a2a2a" text-anchor="middle" stroke="#2a2a2a" stroke-width="0.15">4</text>
<line x1="104.19" y1="324.20" x2="104.19" y2="326.40" stroke="#333" stroke-width="0.7" />
<text x="101.7" y="333.5" font-family="'Liberation Sans', sans-serif" font-size="4.8" font-weight="bold" fill="#2a2a2a" text-anchor="middle" stroke="#2a2a2a" stroke-width="0.15">10</text>
<text x="105.9" y="330.2" font-family="'Liberation Sans', sans-serif" font-size="4.3" font-weight="bold" fill="#2a2a2a" text-anchor="middle" stroke="#2a2a2a" stroke-width="0.15">5</text>
<line x1="117.57" y1="324.20" x2="117.57" y2="326.40" stroke="#333" stroke-width="0.7" />
<text x="115.1" y="333.5" font-family="'Liberation Sans', sans-serif" font-size="4.8" font-weight="bold" fill="#2a2a2a" text-anchor="middle" stroke="#2a2a2a" stroke-width="0.15">10</text>
<text x="119.3" y="330.2" font-family="'Liberation Sans', sans-serif" font-size="4.3" font-weight="bold" fill="#2a2a2a" text-anchor="middle" stroke="#2a2a2a" stroke-width="0.15">6</text>
<line x1="130.24" y1="324.20" x2="130.24" y2="326.40" stroke="#333" stroke-width="0.7" />
<text x="127.7" y="333.5" font-family="'Liberation Sans', sans-serif" font-size="4.8" font-weight="bold" fill="#2a2a2a" text-anchor="middle" stroke="#2a2a2a" stroke-width="0.15">10</text>
<text x="131.9" y="330.2" font-family="'Liberation Sans', sans-serif" font-size="4.3" font-weight="bold" fill="#2a2a2a" text-anchor="middle" stroke="#2a2a2a" stroke-width="0.15">7</text>
<line x1="48.20" y1="324.20" x2="48.20" y2="325.40" stroke="#555" stroke-width="0.35" />
<line x1="50.37" y1="324.20" x2="50.37" y2="325.40" stroke="#555" stroke-width="0.35" />
<line x1="52.53" y1="324.20" x2="52.53" y2="325.40" stroke="#555" stroke-width="0.35" />
<line x1="54.70" y1="324.20" x2="54.70" y2="325.40" stroke="#555" stroke-width="0.35" />
<line x1="56.86" y1="324.20" x2="56.86" y2="325.40" stroke="#555" stroke-width="0.35" />
<line x1="59.03" y1="324.20" x2="59.03" y2="325.40" stroke="#555" stroke-width="0.35" />
<line x1="61.19" y1="324.20" x2="61.19" y2="325.40" stroke="#555" stroke-width="0.35" />
<line x1="63.36" y1="324.20" x2="63.36" y2="325.40" stroke="#555" stroke-width="0.35" />
<line x1="65.52" y1="324.20" x2="65.52" y2="325.40" stroke="#555" stroke-width="0.35" />
<line x1="67.69" y1="324.20" x2="67.69" y2="325.40" stroke="#555" stroke-width="0.35" />
<line x1="69.85" y1="324.20" x2="69.85" y2="325.40" stroke="#555" stroke-width="0.35" />
<line x1="72.02" y1="324.20" x2="72.02" y2="325.40" stroke="#555" stroke-width="0.35" />
<line x1="74.18" y1="324.20" x2="74.18" y2="325.40" stroke="#555" stroke-width="0.35" />
<line x1="76.34" y1="324.20" x2="76.34" y2="325.40" stroke="#555" stroke-width="0.35" />
<line x1="78.51" y1="324.20" x2="78.51" y2="325.40" stroke="#555" stroke-width="0.35" />
<line x1="80.68" y1="324.20" x2="80.68" y2="325.40" stroke="#555" stroke-width="0.35" />
<line x1="82.84" y1="324.20" x2="82.84" y2="325.40" stroke="#555" stroke-width="0.35" />
<line x1="85.00" y1="324.20" x2="85.00" y2="325.40" stroke="#555" stroke-width="0.35" />
<line x1="87.17" y1="324.20" x2="87.17" y2="325.40" stroke="#555" stroke-width="0.35" />
<line x1="89.34" y1="324.20" x2="89.34" y2="325.40" stroke="#555" stroke-width="0.35" />
<line x1="91.50" y1="324.20" x2="91.50" y2="325.40" stroke="#555" stroke-width="0.35" />
<line x1="93.67" y1="324.20" x2="93.67" y2="325.40" stroke="#555" stroke-width="0.35" />
<line x1="95.83" y1="324.20" x2="95.83" y2="325.40" stroke="#555" stroke-width="0.35" />
<line x1="98.00" y1="324.20" x2="98.00" y2="325.40" stroke="#555" stroke-width="0.35" />
<line x1="100.16" y1="324.20" x2="100.16" y2="325.40" stroke="#555" stroke-width="0.35" />
<line x1="102.33" y1="324.20" x2="102.33" y2="325.40" stroke="#555" stroke-width="0.35" />
<line x1="104.49" y1="324.20" x2="104.49" y2="325.40" stroke="#555" stroke-width="0.35" />
<line x1="106.66" y1="324.20" x2="106.66" y2="325.40" stroke="#555" stroke-width="0.35" />
<line x1="108.82" y1="324.20" x2="108.82" y2="325.40" stroke="#555" stroke-width="0.35" />
<line x1="110.99" y1="324.20" x2="110.99" y2="325.40" stroke="#555" stroke-width="0.35" />
<line x1="113.15" y1="324.20" x2="113.15" y2="325.40" stroke="#555" stroke-width="0.35" />
<line x1="115.32" y1="324.20" x2="115.32" y2="325.40" stroke="#555" stroke-width="0.35" />
<line x1="117.48" y1="324.20" x2="117.48" y2="325.40" stroke="#555" stroke-width="0.35" />
<line x1="119.65" y1="324.20" x2="119.65" y2="325.40" stroke="#555" stroke-width="0.35" />
<line x1="121.81" y1="324.20" x2="121.81" y2="325.40" stroke="#555" stroke-width="0.35" />
<line x1="123.98" y1="324.20" x2="123.98" y2="325.40" stroke="#555" stroke-width="0.35" />
<line x1="126.14" y1="324.20" x2="126.14" y2="325.40" stroke="#555" stroke-width="0.35" />
<line x1="128.31" y1="324.20" x2="128.31" y2="325.40" stroke="#555" stroke-width="0.35" />
<line x1="130.47" y1="324.20" x2="130.47" y2="325.40" stroke="#555" stroke-width="0.35" />
<line x1="132.64" y1="324.20" x2="132.64" y2="325.40" stroke="#555" stroke-width="0.35" />
</g>
<g>
<path d="M193.7 286.5h.9v.9h-.9zM194.0 297.6h.9v.9h-.9zM199.2 289.3h.9v.9h-.9zM202.7 284.7h.9v.9h-.9zM207.7 282.9h.9v.9h-.9zM202.5 290.5h.9v.9h-.9zM198.7 294.1h.9v.9h-.9zM195.3 290.1h.9v.9h-.9zM207.8 290.8h.9v.9h-.9zM215.8 293.2h.9v.9h-.9zM202.5 287.2h.9v.9h-.9zM190.5 287.3h.9v.9h-.9zM192.6 287.0h.9v.9h-.9zM209.6 278.4h.9v.9h-.9zM201.3 285.5h.9v.9h-.9zM187.9 290.5h.9v.9h-.9zM198.1 283.4h.9v.9h-.9zM193.9 294.3h.9v.9h-.9zM192.2 279.4h.9v.9h-.9zM195.4 284.5h.9v.9h-.9zM199.6 299.4h.9v.9h-.9zM206.6 291.7h.9v.9h-.9zM201.5 291.2h.9v.9h-.9zM197.7 292.4h.9v.9h-.9zM206.9 295.2h.9v.9h-.9zM207.6 288.8h.9v.9h-.9zM189.8 293.7h.9v.9h-.9zM197.1 284.3h.9v.9h-.9zM194.1 291.2h.9v.9h-.9zM198.5 286.2h.9v.9h-.9zM190.9 289.4h.9v.9h-.9zM199.9 285.7h.9v.9h-.9zM200.7 288.7h.9v.9h-.9zM198.3 288.2h.9v.9h-.9zM195.3 295.4h.9v.9h-.9zM196.0 284.2h.9v.9h-.9zM193.2 291.1h.9v.9h-.9zM194.9 300.5h.9v.9h-.9zM202.6 288.3h.9v.9h-.9zM195.4 297.0h.9v.9h-.9zM211.0 290.4h.9v.9h-.9zM208.2 292.4h.9v.9h-.9zM188.5 297.5h.9v.9h-.9zM200.5 282.2h.9v.9h-.9zM193.0 290.7h.9v.9h-.9zM200.6 287.1h.9v.9h-.9zM198.6 282.1h.9v.9h-.9zM186.5 292.3h.9v.9h-.9zM197.2 284.1h.9v.9h-.9zM196.4 282.4h.9v.9h-.9zM208.0 287.0h.9v.9h-.9zM192.8 291.9h.9v.9h-.9zM204.9 283.8h.9v.9h-.9zM191.8 287.8h.9v.9h-.9zM197.8 287.4h.9v.9h-.9zM194.5 289.5h.9v.9h-.9zM210.3 283.0h.9v.9h-.9zM204.8 287.0h.9v.9h-.9zM217.0 280.2h.9v.9h-.9zM206.1 288.7h.9v.9h-.9zM207.7 288.7h.9v.9h-.9zM207.4 288.0h.9v.9h-.9zM195.7 287.7h.9v.9h-.9zM199.5 286.4h.9v.9h-.9zM211.0 286.9h.9v.9h-.9zM197.9 289.1h.9v.9h-.9zM202.2 288.1h.9v.9h-.9zM196.6 278.2h.9v.9h-.9zM200.5 275.6h.9v.9h-.9zM199.1 291.3h.9v.9h-.9zM200.5 290.6h.9v.9h-.9zM205.1 294.1h.9v.9h-.9zM203.0 291.6h.9v.9h-.9zM195.4 292.1h.9v.9h-.9zM207.2 286.4h.9v.9h-.9zM189.6 286.3h.9v.9h-.9zM194.3 295.9h.9v.9h-.9zM191.1 289.8h.9v.9h-.9zM208.5 288.3h.9v.9h-.9zM198.9 290.7h.9v.9h-.9zM194.8 292.7h.9v.9h-.9zM194.7 295.8h.9v.9h-.9zM203.0 285.5h.9v.9h-.9zM193.1 290.1h.9v.9h-.9zM190.8 288.7h.9v.9h-.9zM204.6 285.5h.9v.9h-.9zM195.6 299.2h.9v.9h-.9zM198.2 288.1h.9v.9h-.9zM203.0 293.9h.9v.9h-.9zM199.4 293.6h.9v.9h-.9zM201.9 292.1h.9v.9h-.9zM211.6 288.5h.9v.9h-.9zM195.7 285.9h.9v.9h-.9zM193.0 293.9h.9v.9h-.9zM191.1 300.7h.9v.9h-.9zM198.4 286.4h.9v.9h-.9zM198.5 289.6h.9v.9h-.9zM201.6 285.1h.9v.9h-.9zM198.4 291.4h.9v.9h-.9zM195.9 285.5h.9v.9h-.9zM198.8 297.7h.9v.9h-.9zM196.8 288.6h.9v.9h-.9zM199.4 281.8h.9v.9h-.9zM201.5 297.5h.9v.9h-.9zM203.4 292.7h.9v.9h-.9zM215.0 285.7h.9v.9h-.9zM205.2 289.7h.9v.9h-.9zM189.6 291.6h.9v.9h-.9zM212.5 283.0h.9v.9h-.9zM204.6 290.9h.9v.9h-.9zM196.1 295.3h.9v.9h-.9zM208.8 290.3h.9v.9h-.9zM201.5 289.7h.9v.9h-.9zM196.0 288.5h.9v.9h-.9zM196.3 289.7h.9v.9h-.9zM196.1 296.3h.9v.9h-.9zM203.8 294.8h.9v.9h-.9zM207.8 284.4h.9v.9h-.9zM197.9 287.7h.9v.9h-.9zM206.0 293.0h.9v.9h-.9zM215.1 286.7h.9v.9h-.9zM193.9 295.1h.9v.9h-.9zM200.5 282.5h.9v.9h-.9zM198.3 288.1h.9v.9h-.9zM192.8 289.5h.9v.9h-.9zM194.3 292.5h.9v.9h-.9zM198.0 281.7h.9v.9h-.9zM206.2 293.0h.9v.9h-.9zM197.9 291.6h.9v.9h-.9zM202.1 290.5h.9v.9h-.9zM203.9 281.7h.9v.9h-.9zM203.0 287.9h.9v.9h-.9zM209.3 292.1h.9v.9h-.9zM201.5 280.8h.9v.9h-.9zM204.9 288.7h.9v.9h-.9zM214.8 286.7h.9v.9h-.9zM204.1 284.1h.9v.9h-.9zM203.3 291.9h.9v.9h-.9zM205.3 285.4h.9v.9h-.9zM196.8 296.6h.9v.9h-.9zM199.6 292.0h.9v.9h-.9zM206.8 287.6h.9v.9h-.9zM208.8 295.6h.9v.9h-.9zM213.1 288.1h.9v.9h-.9zM203.3 294.4h.9v.9h-.9zM188.9 287.8h.9v.9h-.9zM213.3 280.6h.9v.9h-.9zM210.0 289.3h.9v.9h-.9zM195.3 295.6h.9v.9h-.9zM210.4 284.7h.9v.9h-.9zM202.6 292.0h.9v.9h-.9zM186.7 289.3h.9v.9h-.9zM198.5 290.9h.9v.9h-.9zM195.5 285.3h.9v.9h-.9zM212.5 285.8h.9v.9h-.9zM194.7 288.9h.9v.9h-.9zM198.2 286.8h.9v.9h-.9zM199.2 289.8h.9v.9h-.9zM201.5 297.6h.9v.9h-.9zM193.0 287.0h.9v.9h-.9zM201.5 285.6h.9v.9h-.9zM210.2 290.4h.9v.9h-.9zM204.6 285.3h.9v.9h-.9zM197.7 298.9h.9v.9h-.9zM193.5 292.9h.9v.9h-.9zM202.0 288.9h.9v.9h-.9zM196.8 292.3h.9v.9h-.9zM199.7 298.0h.9v.9h-.9zM190.6 296.3h.9v.9h-.9zM215.3 285.6h.9v.9h-.9zM207.7 287.3h.9v.9h-.9zM191.6 284.8h.9v.9h-.9zM205.7 282.5h.9v.9h-.9zM212.8 291.4h.9v.9h-.9zM186.0 298.9h.9v.9h-.9zM198.1 292.5h.9v.9h-.9zM199.4 292.6h.9v.9h-.9zM204.5 284.7h.9v.9h-.9zM200.7 290.6h.9v.9h-.9zM197.9 285.6h.9v.9h-.9zM201.3 290.6h.9v.9h-.9zM212.5 280.6h.9v.9h-.9zM215.5 281.9h.9v.9h-.9zM198.2 292.2h.9v.9h-.9zM194.1 290.0h.9v.9h-.9zM220.6 284.1h.9v.9h-.9zM195.1 293.5h.9v.9h-.9zM197.7 291.9h.9v.9h-.9zM203.5 294.3h.9v.9h-.9zM201.8 281.2h.9v.9h-.9zM205.3 279.1h.9v.9h-.9zM204.7 290.3h.9v.9h-.9zM196.6 295.2h.9v.9h-.9zM207.9 296.0h.9v.9h-.9zM204.0 291.3h.9v.9h-.9zM215.3 287.1h.9v.9h-.9zM199.4 285.1h.9v.9h-.9zM193.1 295.7h.9v.9h-.9zM195.0 294.6h.9v.9h-.9zM209.1 280.3h.9v.9h-.9zM195.7 286.5h.9v.9h-.9zM186.4 294.2h.9v.9h-.9zM197.5 291.6h.9v.9h-.9zM195.9 276.2h.9v.9h-.9zM209.3 285.8h.9v.9h-.9zM194.4 292.6h.9v.9h-.9zM205.3 286.2h.9v.9h-.9zM206.9 287.7h.9v.9h-.9zM197.0 292.7h.9v.9h-.9zM198.0 285.0h.9v.9h-.9zM213.9 285.7h.9v.9h-.9zM212.4 283.0h.9v.9h-.9zM205.2 282.4h.9v.9h-.9zM203.6 288.8h.9v.9h-.9zM211.4 292.0h.9v.9h-.9zM197.5 283.0h.9v.9h-.9zM197.5 282.0h.9v.9h-.9zM192.2 284.1h.9v.9h-.9zM204.4 297.2h.9v.9h-.9zM200.0 288.0h.9v.9h-.9zM220.0 280.8h.9v.9h-.9zM198.3 286.0h.9v.9h-.9zM208.1 281.3h.9v.9h-.9zM206.6 276.5h.9v.9h-.9zM200.0 290.0h.9v.9h-.9zM209.5 286.7h.9v.9h-.9zM182.6 286.4h.9v.9h-.9zM199.9 284.1h.9v.9h-.9zM205.6 283.2h.9v.9h-.9zM184.5 295.3h.9v.9h-.9zM193.5 293.1h.9v.9h-.9zM210.2 290.7h.9v.9h-.9zM201.6 295.3h.9v.9h-.9zM195.3 296.4h.9v.9h-.9zM200.7 295.6h.9v.9h-.9zM195.3 285.3h.9v.9h-.9zM205.0 284.4h.9v.9h-.9zM206.1 292.4h.9v.9h-.9zM199.6 290.8h.9v.9h-.9zM196.5 290.7h.9v.9h-.9zM197.2 280.5h.9v.9h-.9zM206.9 277.2h.9v.9h-.9zM204.7 290.9h.9v.9h-.9zM206.0 288.5h.9v.9h-.9zM199.5 288.0h.9v.9h-.9zM191.4 290.6h.9v.9h-.9zM193.1 283.4h.9v.9h-.9zM206.1 288.6h.9v.9h-.9zM203.5 292.9h.9v.9h-.9zM197.6 298.3h.9v.9h-.9zM190.0 293.5h.9v.9h-.9zM201.4 287.6h.9v.9h-.9zM196.8 285.1h.9v.9h-.9zM200.7 295.0h.9v.9h-.9zM201.7 297.0h.9v.9h-.9zM201.9 285.4h.9v.9h-.9zM203.5 289.2h.9v.9h-.9zM207.8 286.5h.9v.9h-.9zM206.4 283.8h.9v.9h-.9zM205.8 274.5h.9v.9h-.9zM205.9 285.0h.9v.9h-.9zM199.7 292.3h.9v.9h-.9zM198.1 282.8h.9v.9h-.9zM202.9 283.9h.9v.9h-.9zM193.2 275.7h.9v.9h-.9zM207.0 292.8h.9v.9h-.9zM209.8 287.7h.9v.9h-.9zM195.6 291.2h.9v.9h-.9zM188.4 292.6h.9v.9h-.9zM208.1 282.8h.9v.9h-.9zM201.0 288.4h.9v.9h-.9zM205.3 285.5h.9v.9h-.9zM191.4 291.4h.9v.9h-.9zM212.8 283.8h.9v.9h-.9zM206.3 287.3h.9v.9h-.9zM202.8 295.8h.9v.9h-.9zM196.1 283.6h.9v.9h-.9zM202.2 289.6h.9v.9h-.9zM198.8 286.6h.9v.9h-.9zM197.1 284.7h.9v.9h-.9zM189.2 281.8h.9v.9h-.9zM210.7 287.9h.9v.9h-.9zM199.0 284.7h.9v.9h-.9zM200.2 285.4h.9v.9h-.9zM202.4 290.5h.9v.9h-.9zM182.9 290.7h.9v.9h-.9zM204.6 287.4h.9v.9h-.9zM198.6 289.4h.9v.9h-.9zM200.4 293.0h.9v.9h-.9zM203.2 292.9h.9v.9h-.9zM192.8 287.8h.9v.9h-.9zM208.4 290.3h.9v.9h-.9zM196.0 290.3h.9v.9h-.9zM195.0 291.8h.9v.9h-.9zM194.7 290.2h.9v.9h-.9zM203.4 291.6h.9v.9h-.9zM204.0 281.5h.9v.9h-.9zM197.3 291.5h.9v.9h-.9zM192.6 298.0h.9v.9h-.9zM207.8 284.6h.9v.9h-.9zM227.9 309.5h.9v.9h-.9zM186.9 300.6h.9v.9h-.9zM201.0 293.4h.9v.9h-.9zM190.7 299.1h.9v.9h-.9zM188.7 300.7h.9v.9h-.9zM181.3 281.3h.9v.9h-.9zM189.8 263.3h.9v.9h-.9zM197.1 283.9h.9v.9h-.9zM185.9 278.5h.9v.9h-.9zM210.9 289.0h.9v.9h-.9zM220.4 281.8h.9v.9h-.9zM175.2 285.7h.9v.9h-.9zM210.2 300.7h.9v.9h-.9zM200.6 296.8h.9v.9h-.9zM201.5 295.4h.9v.9h-.9zM234.3 314.8h.9v.9h-.9zM215.7 290.4h.9v.9h-.9zM202.8 291.4h.9v.9h-.9zM200.6 310.3h.9v.9h-.9zM209.4 277.1h.9v.9h-.9zM186.9 310.9h.9v.9h-.9zM200.6 299.7h.9v.9h-.9zM199.4 302.8h.9v.9h-.9zM212.2 303.2h.9v.9h-.9zM228.1 306.3h.9v.9h-.9zM212.6 290.5h.9v.9h-.9zM216.9 295.1h.9v.9h-.9zM194.5 283.2h.9v.9h-.9zM204.8 297.6h.9v.9h-.9zM209.4 298.7h.9v.9h-.9zM176.7 290.8h.9v.9h-.9zM228.3 303.7h.9v.9h-.9zM179.1 282.8h.9v.9h-.9zM222.2 305.7h.9v.9h-.9zM229.4 307.0h.9v.9h-.9zM187.6 308.4h.9v.9h-.9zM188.9 287.0h.9v.9h-.9zM244.1 310.0h.9v.9h-.9zM199.7 303.8h.9v.9h-.9zM168.6 294.9h.9v.9h-.9zM188.9 292.4h.9v.9h-.9zM227.7 299.2h.9v.9h-.9zM207.8 307.1h.9v.9h-.9zM209.1 306.6h.9v.9h-.9zM216.1 322.8h.9v.9h-.9zM208.0 292.4h.9v.9h-.9zM193.1 303.7h.9v.9h-.9zM174.4 291.6h.9v.9h-.9zM204.6 305.6h.9v.9h-.9zM181.5 298.1h.9v.9h-.9zM197.2 289.7h.9v.9h-.9zM224.1 281.3h.9v.9h-.9zM206.0 287.7h.9v.9h-.9zM198.9 299.4h.9v.9h-.9zM199.0 313.5h.9v.9h-.9zM208.8 305.5h.9v.9h-.9zM211.7 282.8h.9v.9h-.9zM178.5 291.0h.9v.9h-.9zM200.7 296.9h.9v.9h-.9zM223.4 294.9h.9v.9h-.9zM209.2 297.0h.9v.9h-.9zM186.7 305.1h.9v.9h-.9zM187.9 298.4h.9v.9h-.9zM186.2 273.6h.9v.9h-.9zM221.8 291.7h.9v.9h-.9zM197.0 276.3h.9v.9h-.9zM185.3 293.6h.9v.9h-.9zM189.5 299.0h.9v.9h-.9zM196.4 279.9h.9v.9h-.9zM196.4 293.5h.9v.9h-.9zM192.8 291.0h.9v.9h-.9zM186.6 316.7h.9v.9h-.9zM207.4 300.0h.9v.9h-.9zM220.8 272.9h.9v.9h-.9zM189.6 299.6h.9v.9h-.9zM190.0 299.2h.9v.9h-.9zM215.6 292.1h.9v.9h-.9zM176.3 290.0h.9v.9h-.9zM189.2 301.2h.9v.9h-.9zM192.4 301.9h.9v.9h-.9zM200.5 299.2h.9v.9h-.9zM193.9 282.7h.9v.9h-.9zM184.9 291.2h.9v.9h-.9zM202.6 276.1h.9v.9h-.9zM180.4 276.8h.9v.9h-.9zM172.2 287.5h.9v.9h-.9zM167.9 281.8h.9v.9h-.9zM209.1 289.1h.9v.9h-.9zM172.3 322.3h.9v.9h-.9zM204.6 299.4h.9v.9h-.9zM207.9 283.5h.9v.9h-.9zM210.0 268.8h.9v.9h-.9zM195.4 284.0h.9v.9h-.9zM189.9 277.1h.9v.9h-.9zM199.3 268.2h.9v.9h-.9zM189.2 301.8h.9v.9h-.9zM178.9 287.9h.9v.9h-.9zM216.6 298.4h.9v.9h-.9zM224.6 296.5h.9v.9h-.9zM205.6 294.7h.9v.9h-.9zM191.3 297.4h.9v.9h-.9zM204.5 290.3h.9v.9h-.9zM216.2 283.9h.9v.9h-.9zM177.6 290.9h.9v.9h-.9zM184.3 306.5h.9v.9h-.9zM182.4 290.3h.9v.9h-.9zM200.4 277.6h.9v.9h-.9zM204.0 279.1h.9v.9h-.9zM198.4 281.6h.9v.9h-.9zM187.2 293.6h.9v.9h-.9zM190.2 299.0h.9v.9h-.9zM215.6 299.0h.9v.9h-.9zM214.6 307.2h.9v.9h-.9zM199.9 291.3h.9v.9h-.9zM178.6 303.3h.9v.9h-.9zM207.3 297.5h.9v.9h-.9zM202.3 302.0h.9v.9h-.9zM201.7 272.8h.9v.9h-.9zM223.6 308.4h.9v.9h-.9zM210.2 276.3h.9v.9h-.9zM183.6 281.2h.9v.9h-.9zM183.7 303.2h.9v.9h-.9zM218.5 289.8h.9v.9h-.9zM201.0 314.7h.9v.9h-.9zM211.1 296.3h.9v.9h-.9zM196.4 282.6h.9v.9h-.9zM183.9 296.3h.9v.9h-.9zM202.8 289.9h.9v.9h-.9zM222.0 312.4h.9v.9h-.9zM203.9 313.3h.9v.9h-.9zM182.2 303.1h.9v.9h-.9zM194.4 289.9h.9v.9h-.9zM191.7 295.6h.9v.9h-.9zM201.7 306.7h.9v.9h-.9zM214.3 285.4h.9v.9h-.9zM228.4 285.5h.9v.9h-.9zM202.7 304.4h.9v.9h-.9zM193.0 303.1h.9v.9h-.9zM200.5 292.0h.9v.9h-.9zM199.6 291.6h.9v.9h-.9zM193.1 272.2h.9v.9h-.9zM199.8 308.3h.9v.9h-.9zM199.4 293.3h.9v.9h-.9zM182.0 278.3h.9v.9h-.9zM207.5 281.7h.9v.9h-.9zM194.0 284.4h.9v.9h-.9zM184.8 314.3h.9v.9h-.9zM206.7 302.7h.9v.9h-.9zM192.2 279.4h.9v.9h-.9zM225.2 316.1h.9v.9h-.9zM206.5 310.2h.9v.9h-.9zM200.5 282.6h.9v.9h-.9zM188.1 264.2h.9v.9h-.9zM193.3 305.9h.9v.9h-.9zM211.9 287.9h.9v.9h-.9zM189.1 293.2h.9v.9h-.9zM210.5 288.8h.9v.9h-.9zM168.1 309.3h.9v.9h-.9zM202.2 311.8h.9v.9h-.9zM211.3 304.1h.9v.9h-.9zM204.2 293.1h.9v.9h-.9zM199.1 297.8h.9v.9h-.9zM214.1 301.9h.9v.9h-.9zM186.5 276.7h.9v.9h-.9zM184.5 309.1h.9v.9h-.9zM200.7 291.1h.9v.9h-.9zM231.7 258.8h.9v.9h-.9zM233.6 262.5h.9v.9h-.9zM237.6 262.8h.9v.9h-.9zM238.0 262.3h.9v.9h-.9zM241.5 259.3h.9v.9h-.9zM234.4 267.0h.9v.9h-.9zM231.3 266.4h.9v.9h-.9zM233.9 262.8h.9v.9h-.9zM234.7 269.5h.9v.9h-.9zM233.6 257.4h.9v.9h-.9zM229.5 263.1h.9v.9h-.9zM233.3 261.9h.9v.9h-.9zM235.9 260.1h.9v.9h-.9zM236.1 259.8h.9v.9h-.9zM234.4 263.0h.9v.9h-.9zM237.5 259.0h.9v.9h-.9zM238.2 260.9h.9v.9h-.9zM229.6 269.3h.9v.9h-.9zM235.3 263.2h.9v.9h-.9zM234.9 263.9h.9v.9h-.9zM231.5 262.4h.9v.9h-.9zM230.1 262.6h.9v.9h-.9zM233.8 263.1h.9v.9h-.9zM237.0 265.3h.9v.9h-.9zM235.7 264.2h.9v.9h-.9zM240.5 263.5h.9v.9h-.9zM239.1 264.1h.9v.9h-.9zM234.1 268.0h.9v.9h-.9zM230.3 263.7h.9v.9h-.9zM239.0 265.0h.9v.9h-.9zM233.2 267.4h.9v.9h-.9zM238.2 268.6h.9v.9h-.9zM236.7 264.3h.9v.9h-.9zM238.1 262.4h.9v.9h-.9zM235.6 262.4h.9v.9h-.9zM239.2 261.0h.9v.9h-.9zM229.8 261.0h.9v.9h-.9zM235.9 261.8h.9v.9h-.9zM231.9 265.4h.9v.9h-.9zM236.5 265.9h.9v.9h-.9zM233.4 262.0h.9v.9h-.9zM231.3 266.4h.9v.9h-.9zM228.7 274.4h.9v.9h-.9zM236.4 260.4h.9v.9h-.9zM236.8 265.2h.9v.9h-.9zM233.7 262.3h.9v.9h-.9zM231.7 265.3h.9v.9h-.9zM233.9 265.8h.9v.9h-.9zM237.2 265.0h.9v.9h-.9zM233.4 262.7h.9v.9h-.9zM236.2 258.8h.9v.9h-.9zM237.1 267.4h.9v.9h-.9zM231.8 266.3h.9v.9h-.9zM237.5 264.5h.9v.9h-.9zM233.6 267.6h.9v.9h-.9zM236.2 265.3h.9v.9h-.9zM227.8 267.5h.9v.9h-.9zM232.8 264.4h.9v.9h-.9zM233.3 258.9h.9v.9h-.9zM232.3 265.9h.9v.9h-.9zM233.2 262.9h.9v.9h-.9zM236.0 262.6h.9v.9h-.9zM237.5 268.4h.9v.9h-.9zM241.1 261.5h.9v.9h-.9zM233.4 264.7h.9v.9h-.9zM231.2 261.1h.9v.9h-.9zM234.8 266.1h.9v.9h-.9zM230.2 272.2h.9v.9h-.9zM227.7 265.5h.9v.9h-.9zM236.6 263.8h.9v.9h-.9zM232.2 263.5h.9v.9h-.9zM238.4 260.4h.9v.9h-.9zM233.2 263.3h.9v.9h-.9zM230.8 260.5h.9v.9h-.9zM236.6 260.4h.9v.9h-.9zM232.3 259.4h.9v.9h-.9zM241.7 263.6h.9v.9h-.9zM232.4 268.9h.9v.9h-.9zM235.6 263.1h.9v.9h-.9zM236.8 263.1h.9v.9h-.9zM236.0 262.8h.9v.9h-.9zM238.2 261.8h.9v.9h-.9zM237.8 262.1h.9v.9h-.9zM233.8 263.3h.9v.9h-.9zM232.0 264.8h.9v.9h-.9zM235.1 258.4h.9v.9h-.9zM232.6 261.4h.9v.9h-.9zM236.3 260.3h.9v.9h-.9zM239.0 261.3h.9v.9h-.9zM234.2 262.5h.9v.9h-.9zM234.5 270.6h.9v.9h-.9zM233.1 264.0h.9v.9h-.9zM236.2 261.2h.9v.9h-.9zM234.2 265.5h.9v.9h-.9zM239.9 263.6h.9v.9h-.9zM237.6 268.2h.9v.9h-.9zM236.4 265.9h.9v.9h-.9zM231.3 263.8h.9v.9h-.9zM233.7 263.6h.9v.9h-.9zM239.7 263.9h.9v.9h-.9zM233.6 265.2h.9v.9h-.9zM234.6 266.5h.9v.9h-.9zM231.6 265.4h.9v.9h-.9zM239.6 265.9h.9v.9h-.9zM231.8 270.8h.9v.9h-.9zM234.1 268.1h.9v.9h-.9zM237.5 262.2h.9v.9h-.9zM236.2 256.7h.9v.9h-.9zM231.3 261.2h.9v.9h-.9zM238.0 262.5h.9v.9h-.9zM228.9 270.0h.9v.9h-.9zM231.8 255.2h.9v.9h-.9zM234.4 262.1h.9v.9h-.9zM232.2 269.5h.9v.9h-.9zM230.0 270.3h.9v.9h-.9zM231.8 263.9h.9v.9h-.9zM236.2 264.9h.9v.9h-.9zM235.5 263.2h.9v.9h-.9zM234.2 263.2h.9v.9h-.9zM238.7 264.9h.9v.9h-.9zM238.5 265.1h.9v.9h-.9zM228.8 265.9h.9v.9h-.9zM231.4 262.6h.9v.9h-.9zM230.4 262.0h.9v.9h-.9zM235.2 258.2h.9v.9h-.9zM234.9 268.3h.9v.9h-.9zM240.7 266.1h.9v.9h-.9zM234.9 264.3h.9v.9h-.9zM243.7 261.1h.9v.9h-.9zM232.9 262.4h.9v.9h-.9zM234.1 263.8h.9v.9h-.9zM235.4 266.4h.9v.9h-.9zM235.3 264.4h.9v.9h-.9zM242.1 258.3h.9v.9h-.9zM229.8 261.1h.9v.9h-.9zM228.9 262.5h.9v.9h-.9zM232.9 263.4h.9v.9h-.9zM235.5 261.1h.9v.9h-.9zM230.9 266.1h.9v.9h-.9zM235.8 260.6h.9v.9h-.9zM236.4 261.7h.9v.9h-.9zM233.8 264.5h.9v.9h-.9zM234.3 265.8h.9v.9h-.9zM231.7 266.0h.9v.9h-.9zM232.4 263.3h.9v.9h-.9zM231.1 265.2h.9v.9h-.9zM239.8 263.3h.9v.9h-.9zM239.2 259.8h.9v.9h-.9zM231.6 262.3h.9v.9h-.9zM232.4 261.7h.9v.9h-.9zM211.9 266.9h.9v.9h-.9zM213.5 270.4h.9v.9h-.9zM217.4 271.0h.9v.9h-.9zM208.3 259.2h.9v.9h-.9zM218.2 261.4h.9v.9h-.9zM208.2 265.7h.9v.9h-.9zM208.8 264.1h.9v.9h-.9zM206.9 267.4h.9v.9h-.9zM213.2 266.6h.9v.9h-.9zM216.3 272.9h.9v.9h-.9zM210.0 265.9h.9v.9h-.9zM207.2 266.8h.9v.9h-.9zM201.2 266.4h.9v.9h-.9zM211.0 270.4h.9v.9h-.9zM208.2 261.8h.9v.9h-.9zM209.0 267.6h.9v.9h-.9zM206.5 263.1h.9v.9h-.9zM205.0 260.6h.9v.9h-.9zM207.6 270.7h.9v.9h-.9zM212.8 268.2h.9v.9h-.9zM215.7 271.6h.9v.9h-.9zM210.1 267.1h.9v.9h-.9zM212.0 268.7h.9v.9h-.9zM209.0 266.7h.9v.9h-.9zM209.4 268.4h.9v.9h-.9zM202.2 264.6h.9v.9h-.9zM215.3 272.8h.9v.9h-.9zM213.6 262.7h.9v.9h-.9zM218.6 272.8h.9v.9h-.9zM206.6 265.4h.9v.9h-.9zM210.9 269.6h.9v.9h-.9zM204.7 266.7h.9v.9h-.9zM211.5 267.9h.9v.9h-.9zM209.4 272.0h.9v.9h-.9zM214.1 266.8h.9v.9h-.9zM209.3 262.5h.9v.9h-.9zM213.9 267.1h.9v.9h-.9zM207.3 268.7h.9v.9h-.9zM213.6 256.6h.9v.9h-.9zM208.4 270.0h.9v.9h-.9zM207.6 270.5h.9v.9h-.9zM210.6 259.3h.9v.9h-.9zM212.3 265.6h.9v.9h-.9zM201.9 269.4h.9v.9h-.9zM201.3 261.7h.9v.9h-.9zM211.2 264.6h.9v.9h-.9zM209.8 264.9h.9v.9h-.9zM198.3 268.4h.9v.9h-.9zM200.2 270.6h.9v.9h-.9zM205.7 266.1h.9v.9h-.9zM212.0 266.5h.9v.9h-.9zM211.3 269.8h.9v.9h-.9zM216.0 268.3h.9v.9h-.9zM217.0 265.8h.9v.9h-.9zM223.9 271.4h.9v.9h-.9zM201.8 260.7h.9v.9h-.9zM209.9 266.8h.9v.9h-.9zM216.3 264.6h.9v.9h-.9zM202.9 264.2h.9v.9h-.9zM202.0 267.0h.9v.9h-.9zM232.7 270.4h.9v.9h-.9zM237.4 274.8h.9v.9h-.9zM233.9 274.4h.9v.9h-.9zM233.3 277.6h.9v.9h-.9zM235.8 269.5h.9v.9h-.9zM234.6 268.9h.9v.9h-.9zM228.9 272.5h.9v.9h-.9zM232.8 272.9h.9v.9h-.9zM234.1 274.2h.9v.9h-.9zM231.4 272.5h.9v.9h-.9zM233.2 275.7h.9v.9h-.9zM231.7 276.7h.9v.9h-.9zM233.3 274.9h.9v.9h-.9zM229.4 269.8h.9v.9h-.9zM228.8 278.6h.9v.9h-.9zM231.5 267.9h.9v.9h-.9zM233.0 273.2h.9v.9h-.9zM235.2 277.5h.9v.9h-.9zM232.0 271.5h.9v.9h-.9zM231.1 279.1h.9v.9h-.9zM234.4 281.6h.9v.9h-.9zM232.6 280.2h.9v.9h-.9zM236.1 275.7h.9v.9h-.9zM232.4 277.9h.9v.9h-.9zM228.7 271.9h.9v.9h-.9zM231.0 275.6h.9v.9h-.9zM230.7 275.8h.9v.9h-.9zM229.8 274.3h.9v.9h-.9zM231.0 274.6h.9v.9h-.9zM231.2 273.1h.9v.9h-.9zM232.0 266.2h.9v.9h-.9zM231.5 275.6h.9v.9h-.9zM233.4 275.2h.9v.9h-.9zM233.4 282.1h.9v.9h-.9zM232.9 276.8h.9v.9h-.9zM232.9 274.2h.9v.9h-.9zM228.8 277.4h.9v.9h-.9zM229.3 276.4h.9v.9h-.9zM230.8 273.9h.9v.9h-.9zM233.1 272.5h.9v.9h-.9zM229.7 268.1h.9v.9h-.9zM231.7 274.5h.9v.9h-.9zM233.0 280.4h.9v.9h-.9zM236.5 266.5h.9v.9h-.9zM233.1 270.2h.9v.9h-.9zM231.5 277.0h.9v.9h-.9zM234.7 274.7h.9v.9h-.9zM232.9 275.6h.9v.9h-.9zM231.9 266.6h.9v.9h-.9zM234.7 271.6h.9v.9h-.9zM208.7 287.4h.9v.9h-.9zM230.2 281.2h.9v.9h-.9zM220.1 279.7h.9v.9h-.9zM207.4 285.4h.9v.9h-.9zM213.8 280.8h.9v.9h-.9zM234.1 275.7h.9v.9h-.9zM222.9 275.1h.9v.9h-.9zM213.7 279.1h.9v.9h-.9zM230.7 274.7h.9v.9h-.9zM231.0 277.5h.9v.9h-.9zM219.4 273.7h.9v.9h-.9zM224.1 276.7h.9v.9h-.9zM230.1 281.3h.9v.9h-.9zM220.7 279.5h.9v.9h-.9zM221.4 280.7h.9v.9h-.9zM225.8 285.4h.9v.9h-.9zM223.0 275.0h.9v.9h-.9zM214.7 275.4h.9v.9h-.9zM224.1 276.6h.9v.9h-.9zM220.1 275.0h.9v.9h-.9zM222.0 281.8h.9v.9h-.9zM234.3 277.3h.9v.9h-.9zM223.8 276.5h.9v.9h-.9zM219.2 282.1h.9v.9h-.9zM222.8 284.4h.9v.9h-.9zM220.3 283.9h.9v.9h-.9zM205.5 281.6h.9v.9h-.9zM212.4 280.1h.9v.9h-.9zM214.0 280.6h.9v.9h-.9zM233.9 280.8h.9v.9h-.9zM225.5 276.9h.9v.9h-.9zM212.1 281.4h.9v.9h-.9zM210.4 283.4h.9v.9h-.9zM212.9 286.5h.9v.9h-.9zM220.3 275.6h.9v.9h-.9zM224.9 277.8h.9v.9h-.9zM214.0 281.7h.9v.9h-.9zM212.0 285.9h.9v.9h-.9zM211.3 285.8h.9v.9h-.9zM224.5 279.9h.9v.9h-.9zM211.5 282.1h.9v.9h-.9zM207.5 286.2h.9v.9h-.9zM216.9 279.0h.9v.9h-.9zM230.6 278.5h.9v.9h-.9zM210.0 284.9h.9v.9h-.9zM221.5 279.1h.9v.9h-.9zM232.1 267.0h.9v.9h-.9zM225.0 284.3h.9v.9h-.9zM222.2 283.6h.9v.9h-.9zM218.1 284.8h.9v.9h-.9zM226.1 278.0h.9v.9h-.9zM227.3 278.5h.9v.9h-.9zM224.8 291.2h.9v.9h-.9zM214.9 277.0h.9v.9h-.9zM222.6 282.3h.9v.9h-.9zM208.9 287.2h.9v.9h-.9zM231.8 276.7h.9v.9h-.9zM221.7 277.7h.9v.9h-.9zM232.3 272.8h.9v.9h-.9zM207.6 285.8h.9v.9h-.9zM216.4 278.2h.9v.9h-.9zM221.5 286.5h.9v.9h-.9zM215.4 285.0h.9v.9h-.9zM209.7 280.7h.9v.9h-.9zM206.0 277.9h.9v.9h-.9zM212.9 283.9h.9v.9h-.9zM209.8 285.3h.9v.9h-.9zM213.0 276.6h.9v.9h-.9zM222.1 281.9h.9v.9h-.9zM212.8 285.7h.9v.9h-.9zM240.0 254.6h.9v.9h-.9zM242.6 292.2h.9v.9h-.9zM223.9 255.2h.9v.9h-.9zM221.0 280.9h.9v.9h-.9zM233.9 288.3h.9v.9h-.9zM214.5 267.9h.9v.9h-.9zM216.7 261.4h.9v.9h-.9zM213.7 268.3h.9v.9h-.9zM231.4 281.3h.9v.9h-.9zM240.9 290.4h.9v.9h-.9zM228.8 266.3h.9v.9h-.9zM213.7 272.9h.9v.9h-.9zM228.4 273.4h.9v.9h-.9zM237.0 261.2h.9v.9h-.9zM217.1 257.7h.9v.9h-.9zM223.6 282.2h.9v.9h-.9zM225.8 266.7h.9v.9h-.9zM224.1 255.9h.9v.9h-.9zM242.4 267.9h.9v.9h-.9zM234.0 261.2h.9v.9h-.9zM230.7 264.1h.9v.9h-.9zM215.1 262.1h.9v.9h-.9zM220.8 279.5h.9v.9h-.9zM223.9 267.7h.9v.9h-.9zM227.8 267.2h.9v.9h-.9zM228.0 283.2h.9v.9h-.9zM226.5 271.3h.9v.9h-.9zM233.6 279.7h.9v.9h-.9zM226.3 284.5h.9v.9h-.9zM225.1 255.8h.9v.9h-.9zM215.7 286.0h.9v.9h-.9zM240.4 283.5h.9v.9h-.9zM230.4 289.7h.9v.9h-.9zM215.3 274.0h.9v.9h-.9zM220.5 280.2h.9v.9h-.9zM230.9 262.3h.9v.9h-.9zM230.9 265.7h.9v.9h-.9zM212.9 257.0h.9v.9h-.9zM240.2 254.7h.9v.9h-.9zM221.4 262.9h.9v.9h-.9zM239.5 264.1h.9v.9h-.9zM238.1 263.7h.9v.9h-.9zM240.4 254.3h.9v.9h-.9zM218.0 254.4h.9v.9h-.9zM230.8 293.2h.9v.9h-.9zM218.9 283.5h.9v.9h-.9zM233.4 266.2h.9v.9h-.9zM237.3 260.9h.9v.9h-.9zM225.3 263.4h.9v.9h-.9zM220.6 265.6h.9v.9h-.9z" fill="#4858c8" fill-opacity="0.5"/>
<g filter="url(#bl1)" opacity="0.6" transform="translate(234.50 263.70) skewX(0) rotate(-35)">
<ellipse cx="0.00" cy="-0.00" rx="5.58" ry="3.56" fill="#2342c8" fill-opacity="0.9"/>
<ellipse cx="0.15" cy="-0.10" rx="4.82" ry="3.08" fill="#12a4e6" fill-opacity="1.0"/>
<ellipse cx="0.30" cy="-0.20" rx="3.89" ry="2.48" fill="#22c050" fill-opacity="1.0"/>
</g>
<g filter="url(#bl1)" opacity="1.0" transform="translate(201.00 288.80) skewX(0) rotate(-22)">
<ellipse cx="0.00" cy="-0.00" rx="12.09" ry="7.13" fill="#2342c8" fill-opacity="0.9"/>
<ellipse cx="0.15" cy="-0.10" rx="10.45" ry="6.16" fill="#12a4e6" fill-opacity="1.0"/>
<ellipse cx="0.30" cy="-0.20" rx="8.42" ry="4.97" fill="#22c050" fill-opacity="1.0"/>
<ellipse cx="0.45" cy="-0.30" rx="5.15" ry="3.04" fill="#b8e020" fill-opacity="1.0"/>
<ellipse cx="0.60" cy="-0.40" rx="2.65" ry="1.56" fill="#ee4a12" fill-opacity="1.0"/>
</g>
<rect x="166.6" y="236.0" width="88.2" height="88.2" fill="none" stroke="#3a3a3a" stroke-width="1.0"/>
<line x1="216.40" y1="236.00" x2="216.40" y2="324.20" stroke="#333" stroke-width="1.1" />
<line x1="166.60" y1="279.60" x2="254.80" y2="279.60" stroke="#333" stroke-width="1.1" />
<text x="168.8" y="241.8" font-family="'Liberation Sans', sans-serif" font-size="4.6" font-weight="bold" fill="#2a2a2a" text-anchor="start" stroke="#2a2a2a" stroke-width="0.15">Q1</text>
<text x="168.8" y="248.6" font-family="'Liberation Sans', sans-serif" font-size="4.6" font-weight="bold" fill="#2a2a2a" text-anchor="start" stroke="#2a2a2a" stroke-width="0.15">2.34%</text>
<text x="252.8" y="241.8" font-family="'Liberation Sans', sans-serif" font-size="4.6" font-weight="bold" fill="#2a2a2a" text-anchor="end" stroke="#2a2a2a" stroke-width="0.15">Q2</text>
<text x="252.8" y="248.6" font-family="'Liberation Sans', sans-serif" font-size="4.6" font-weight="bold" fill="#2a2a2a" text-anchor="end" stroke="#2a2a2a" stroke-width="0.15">13.7%</text>
<text x="252.8" y="316.2" font-family="'Liberation Sans', sans-serif" font-size="4.6" font-weight="bold" fill="#2a2a2a" text-anchor="end" stroke="#2a2a2a" stroke-width="0.15">Q3</text>
<text x="252.8" y="322.6" font-family="'Liberation Sans', sans-serif" font-size="4.6" font-weight="bold" fill="#2a2a2a" text-anchor="end" stroke="#2a2a2a" stroke-width="0.15">1.25%</text>
<text x="168.8" y="316.2" font-family="'Liberation Sans', sans-serif" font-size="4.6" font-weight="bold" fill="#2a2a2a" text-anchor="start" stroke="#2a2a2a" stroke-width="0.15">Q4</text>
<text x="168.8" y="322.6" font-family="'Liberation Sans', sans-serif" font-size="4.6" font-weight="bold" fill="#2a2a2a" text-anchor="start" stroke="#2a2a2a" stroke-width="0.15">82.7%</text>
<line x1="164.80" y1="317.79" x2="166.60" y2="317.79" stroke="#333" stroke-width="0.7" />
<text x="161.6" y="320.0" font-family="'Liberation Sans', sans-serif" font-size="4.8" font-weight="bold" fill="#2a2a2a" text-anchor="end" stroke="#2a2a2a" stroke-width="0.15">10</text>
<text x="164.2" y="316.7" font-family="'Liberation Sans', sans-serif" font-size="4.3" font-weight="bold" fill="#2a2a2a" text-anchor="end" stroke="#2a2a2a" stroke-width="0.15">1</text>
<line x1="164.80" y1="305.44" x2="166.60" y2="305.44" stroke="#333" stroke-width="0.7" />
<text x="161.6" y="307.6" font-family="'Liberation Sans', sans-serif" font-size="4.8" font-weight="bold" fill="#2a2a2a" text-anchor="end" stroke="#2a2a2a" stroke-width="0.15">10</text>
<text x="164.2" y="304.3" font-family="'Liberation Sans', sans-serif" font-size="4.3" font-weight="bold" fill="#2a2a2a" text-anchor="end" stroke="#2a2a2a" stroke-width="0.15">2</text>
<line x1="164.80" y1="291.95" x2="166.60" y2="291.95" stroke="#333" stroke-width="0.7" />
<text x="161.6" y="294.1" font-family="'Liberation Sans', sans-serif" font-size="4.8" font-weight="bold" fill="#2a2a2a" text-anchor="end" stroke="#2a2a2a" stroke-width="0.15">10</text>
<text x="164.2" y="290.8" font-family="'Liberation Sans', sans-serif" font-size="4.3" font-weight="bold" fill="#2a2a2a" text-anchor="end" stroke="#2a2a2a" stroke-width="0.15">3</text>
<line x1="164.80" y1="278.72" x2="166.60" y2="278.72" stroke="#333" stroke-width="0.7" />
<text x="161.6" y="280.9" font-family="'Liberation Sans', sans-serif" font-size="4.8" font-weight="bold" fill="#2a2a2a" text-anchor="end" stroke="#2a2a2a" stroke-width="0.15">10</text>
<text x="164.2" y="277.6" font-family="'Liberation Sans', sans-serif" font-size="4.3" font-weight="bold" fill="#2a2a2a" text-anchor="end" stroke="#2a2a2a" stroke-width="0.15">4</text>
<line x1="164.80" y1="267.08" x2="166.60" y2="267.08" stroke="#333" stroke-width="0.7" />
<text x="161.6" y="269.3" font-family="'Liberation Sans', sans-serif" font-size="4.8" font-weight="bold" fill="#2a2a2a" text-anchor="end" stroke="#2a2a2a" stroke-width="0.15">10</text>
<text x="164.2" y="266.0" font-family="'Liberation Sans', sans-serif" font-size="4.3" font-weight="bold" fill="#2a2a2a" text-anchor="end" stroke="#2a2a2a" stroke-width="0.15">5</text>
<line x1="164.80" y1="255.61" x2="166.60" y2="255.61" stroke="#333" stroke-width="0.7" />
<text x="161.6" y="257.8" font-family="'Liberation Sans', sans-serif" font-size="4.8" font-weight="bold" fill="#2a2a2a" text-anchor="end" stroke="#2a2a2a" stroke-width="0.15">10</text>
<text x="164.2" y="254.5" font-family="'Liberation Sans', sans-serif" font-size="4.3" font-weight="bold" fill="#2a2a2a" text-anchor="end" stroke="#2a2a2a" stroke-width="0.15">6</text>
<line x1="164.80" y1="243.97" x2="166.60" y2="243.97" stroke="#333" stroke-width="0.7" />
<text x="161.6" y="246.2" font-family="'Liberation Sans', sans-serif" font-size="4.8" font-weight="bold" fill="#2a2a2a" text-anchor="end" stroke="#2a2a2a" stroke-width="0.15">10</text>
<text x="164.2" y="242.9" font-family="'Liberation Sans', sans-serif" font-size="4.3" font-weight="bold" fill="#2a2a2a" text-anchor="end" stroke="#2a2a2a" stroke-width="0.15">7</text>
<line x1="165.70" y1="238.00" x2="166.60" y2="238.00" stroke="#555" stroke-width="0.35" />
<line x1="165.70" y1="240.10" x2="166.60" y2="240.10" stroke="#555" stroke-width="0.35" />
<line x1="165.70" y1="242.21" x2="166.60" y2="242.21" stroke="#555" stroke-width="0.35" />
<line x1="165.70" y1="244.31" x2="166.60" y2="244.31" stroke="#555" stroke-width="0.35" />
<line x1="165.70" y1="246.42" x2="166.60" y2="246.42" stroke="#555" stroke-width="0.35" />
<line x1="165.70" y1="248.53" x2="166.60" y2="248.53" stroke="#555" stroke-width="0.35" />
<line x1="165.70" y1="250.63" x2="166.60" y2="250.63" stroke="#555" stroke-width="0.35" />
<line x1="165.70" y1="252.73" x2="166.60" y2="252.73" stroke="#555" stroke-width="0.35" />
<line x1="165.70" y1="254.84" x2="166.60" y2="254.84" stroke="#555" stroke-width="0.35" />
<line x1="165.70" y1="256.94" x2="166.60" y2="256.94" stroke="#555" stroke-width="0.35" />
<line x1="165.70" y1="259.05" x2="166.60" y2="259.05" stroke="#555" stroke-width="0.35" />
<line x1="165.70" y1="261.15" x2="166.60" y2="261.15" stroke="#555" stroke-width="0.35" />
<line x1="165.70" y1="263.26" x2="166.60" y2="263.26" stroke="#555" stroke-width="0.35" />
<line x1="165.70" y1="265.37" x2="166.60" y2="265.37" stroke="#555" stroke-width="0.35" />
<line x1="165.70" y1="267.47" x2="166.60" y2="267.47" stroke="#555" stroke-width="0.35" />
<line x1="165.70" y1="269.57" x2="166.60" y2="269.57" stroke="#555" stroke-width="0.35" />
<line x1="165.70" y1="271.68" x2="166.60" y2="271.68" stroke="#555" stroke-width="0.35" />
<line x1="165.70" y1="273.78" x2="166.60" y2="273.78" stroke="#555" stroke-width="0.35" />
<line x1="165.70" y1="275.89" x2="166.60" y2="275.89" stroke="#555" stroke-width="0.35" />
<line x1="165.70" y1="278.00" x2="166.60" y2="278.00" stroke="#555" stroke-width="0.35" />
<line x1="165.70" y1="280.10" x2="166.60" y2="280.10" stroke="#555" stroke-width="0.35" />
<line x1="165.70" y1="282.20" x2="166.60" y2="282.20" stroke="#555" stroke-width="0.35" />
<line x1="165.70" y1="284.31" x2="166.60" y2="284.31" stroke="#555" stroke-width="0.35" />
<line x1="165.70" y1="286.41" x2="166.60" y2="286.41" stroke="#555" stroke-width="0.35" />
<line x1="165.70" y1="288.52" x2="166.60" y2="288.52" stroke="#555" stroke-width="0.35" />
<line x1="165.70" y1="290.62" x2="166.60" y2="290.62" stroke="#555" stroke-width="0.35" />
<line x1="165.70" y1="292.73" x2="166.60" y2="292.73" stroke="#555" stroke-width="0.35" />
<line x1="165.70" y1="294.83" x2="166.60" y2="294.83" stroke="#555" stroke-width="0.35" />
<line x1="165.70" y1="296.94" x2="166.60" y2="296.94" stroke="#555" stroke-width="0.35" />
<line x1="165.70" y1="299.05" x2="166.60" y2="299.05" stroke="#555" stroke-width="0.35" />
<line x1="165.70" y1="301.15" x2="166.60" y2="301.15" stroke="#555" stroke-width="0.35" />
<line x1="165.70" y1="303.25" x2="166.60" y2="303.25" stroke="#555" stroke-width="0.35" />
<line x1="165.70" y1="305.36" x2="166.60" y2="305.36" stroke="#555" stroke-width="0.35" />
<line x1="165.70" y1="307.46" x2="166.60" y2="307.46" stroke="#555" stroke-width="0.35" />
<line x1="165.70" y1="309.57" x2="166.60" y2="309.57" stroke="#555" stroke-width="0.35" />
<line x1="165.70" y1="311.67" x2="166.60" y2="311.67" stroke="#555" stroke-width="0.35" />
<line x1="165.70" y1="313.78" x2="166.60" y2="313.78" stroke="#555" stroke-width="0.35" />
<line x1="165.70" y1="315.88" x2="166.60" y2="315.88" stroke="#555" stroke-width="0.35" />
<line x1="165.70" y1="317.99" x2="166.60" y2="317.99" stroke="#555" stroke-width="0.35" />
<line x1="165.70" y1="320.10" x2="166.60" y2="320.10" stroke="#555" stroke-width="0.35" />
<line x1="173.95" y1="324.20" x2="173.95" y2="326.40" stroke="#333" stroke-width="0.7" />
<text x="171.5" y="333.5" font-family="'Liberation Sans', sans-serif" font-size="4.8" font-weight="bold" fill="#2a2a2a" text-anchor="middle" stroke="#2a2a2a" stroke-width="0.15">10</text>
<text x="175.7" y="330.2" font-family="'Liberation Sans', sans-serif" font-size="4.3" font-weight="bold" fill="#2a2a2a" text-anchor="middle" stroke="#2a2a2a" stroke-width="0.15">1</text>
<line x1="184.01" y1="324.20" x2="184.01" y2="326.40" stroke="#333" stroke-width="0.7" />
<text x="181.5" y="333.5" font-family="'Liberation Sans', sans-serif" font-size="4.8" font-weight="bold" fill="#2a2a2a" text-anchor="middle" stroke="#2a2a2a" stroke-width="0.15">10</text>
<text x="185.7" y="330.2" font-family="'Liberation Sans', sans-serif" font-size="4.3" font-weight="bold" fill="#2a2a2a" text-anchor="middle" stroke="#2a2a2a" stroke-width="0.15">2</text>
<line x1="196.71" y1="324.20" x2="196.71" y2="326.40" stroke="#333" stroke-width="0.7" />
<text x="194.2" y="333.5" font-family="'Liberation Sans', sans-serif" font-size="4.8" font-weight="bold" fill="#2a2a2a" text-anchor="middle" stroke="#2a2a2a" stroke-width="0.15">10</text>
<text x="198.4" y="330.2" font-family="'Liberation Sans', sans-serif" font-size="4.3" font-weight="bold" fill="#2a2a2a" text-anchor="middle" stroke="#2a2a2a" stroke-width="0.15">3</text>
<line x1="210.02" y1="324.20" x2="210.02" y2="326.40" stroke="#333" stroke-width="0.7" />
<text x="207.5" y="333.5" font-family="'Liberation Sans', sans-serif" font-size="4.8" font-weight="bold" fill="#2a2a2a" text-anchor="middle" stroke="#2a2a2a" stroke-width="0.15">10</text>
<text x="211.7" y="330.2" font-family="'Liberation Sans', sans-serif" font-size="4.3" font-weight="bold" fill="#2a2a2a" text-anchor="middle" stroke="#2a2a2a" stroke-width="0.15">4</text>
<line x1="223.34" y1="324.20" x2="223.34" y2="326.40" stroke="#333" stroke-width="0.7" />
<text x="220.8" y="333.5" font-family="'Liberation Sans', sans-serif" font-size="4.8" font-weight="bold" fill="#2a2a2a" text-anchor="middle" stroke="#2a2a2a" stroke-width="0.15">10</text>
<text x="225.0" y="330.2" font-family="'Liberation Sans', sans-serif" font-size="4.3" font-weight="bold" fill="#2a2a2a" text-anchor="middle" stroke="#2a2a2a" stroke-width="0.15">5</text>
<line x1="236.66" y1="324.20" x2="236.66" y2="326.40" stroke="#333" stroke-width="0.7" />
<text x="234.2" y="333.5" font-family="'Liberation Sans', sans-serif" font-size="4.8" font-weight="bold" fill="#2a2a2a" text-anchor="middle" stroke="#2a2a2a" stroke-width="0.15">10</text>
<text x="238.4" y="330.2" font-family="'Liberation Sans', sans-serif" font-size="4.3" font-weight="bold" fill="#2a2a2a" text-anchor="middle" stroke="#2a2a2a" stroke-width="0.15">6</text>
<line x1="249.27" y1="324.20" x2="249.27" y2="326.40" stroke="#333" stroke-width="0.7" />
<text x="246.8" y="333.5" font-family="'Liberation Sans', sans-serif" font-size="4.8" font-weight="bold" fill="#2a2a2a" text-anchor="middle" stroke="#2a2a2a" stroke-width="0.15">10</text>
<text x="251.0" y="330.2" font-family="'Liberation Sans', sans-serif" font-size="4.3" font-weight="bold" fill="#2a2a2a" text-anchor="middle" stroke="#2a2a2a" stroke-width="0.15">7</text>
<line x1="167.60" y1="324.20" x2="167.60" y2="325.40" stroke="#555" stroke-width="0.35" />
<line x1="169.75" y1="324.20" x2="169.75" y2="325.40" stroke="#555" stroke-width="0.35" />
<line x1="171.91" y1="324.20" x2="171.91" y2="325.40" stroke="#555" stroke-width="0.35" />
<line x1="174.06" y1="324.20" x2="174.06" y2="325.40" stroke="#555" stroke-width="0.35" />
<line x1="176.22" y1="324.20" x2="176.22" y2="325.40" stroke="#555" stroke-width="0.35" />
<line x1="178.38" y1="324.20" x2="178.38" y2="325.40" stroke="#555" stroke-width="0.35" />
<line x1="180.53" y1="324.20" x2="180.53" y2="325.40" stroke="#555" stroke-width="0.35" />
<line x1="182.69" y1="324.20" x2="182.69" y2="325.40" stroke="#555" stroke-width="0.35" />
<line x1="184.84" y1="324.20" x2="184.84" y2="325.40" stroke="#555" stroke-width="0.35" />
<line x1="187.00" y1="324.20" x2="187.00" y2="325.40" stroke="#555" stroke-width="0.35" />
<line x1="189.15" y1="324.20" x2="189.15" y2="325.40" stroke="#555" stroke-width="0.35" />
<line x1="191.31" y1="324.20" x2="191.31" y2="325.40" stroke="#555" stroke-width="0.35" />
<line x1="193.46" y1="324.20" x2="193.46" y2="325.40" stroke="#555" stroke-width="0.35" />
<line x1="195.62" y1="324.20" x2="195.62" y2="325.40" stroke="#555" stroke-width="0.35" />
<line x1="197.77" y1="324.20" x2="197.77" y2="325.40" stroke="#555" stroke-width="0.35" />
<line x1="199.93" y1="324.20" x2="199.93" y2="325.40" stroke="#555" stroke-width="0.35" />
<line x1="202.08" y1="324.20" x2="202.08" y2="325.40" stroke="#555" stroke-width="0.35" />
<line x1="204.24" y1="324.20" x2="204.24" y2="325.40" stroke="#555" stroke-width="0.35" />
<line x1="206.39" y1="324.20" x2="206.39" y2="325.40" stroke="#555" stroke-width="0.35" />
<line x1="208.55" y1="324.20" x2="208.55" y2="325.40" stroke="#555" stroke-width="0.35" />
<line x1="210.70" y1="324.20" x2="210.70" y2="325.40" stroke="#555" stroke-width="0.35" />
<line x1="212.86" y1="324.20" x2="212.86" y2="325.40" stroke="#555" stroke-width="0.35" />
<line x1="215.01" y1="324.20" x2="215.01" y2="325.40" stroke="#555" stroke-width="0.35" />
<line x1="217.17" y1="324.20" x2="217.17" y2="325.40" stroke="#555" stroke-width="0.35" />
<line x1="219.32" y1="324.20" x2="219.32" y2="325.40" stroke="#555" stroke-width="0.35" />
<line x1="221.48" y1="324.20" x2="221.48" y2="325.40" stroke="#555" stroke-width="0.35" />
<line x1="223.63" y1="324.20" x2="223.63" y2="325.40" stroke="#555" stroke-width="0.35" />
<line x1="225.79" y1="324.20" x2="225.79" y2="325.40" stroke="#555" stroke-width="0.35" />
<line x1="227.94" y1="324.20" x2="227.94" y2="325.40" stroke="#555" stroke-width="0.35" />
<line x1="230.10" y1="324.20" x2="230.10" y2="325.40" stroke="#555" stroke-width="0.35" />
<line x1="232.25" y1="324.20" x2="232.25" y2="325.40" stroke="#555" stroke-width="0.35" />
<line x1="234.41" y1="324.20" x2="234.41" y2="325.40" stroke="#555" stroke-width="0.35" />
<line x1="236.56" y1="324.20" x2="236.56" y2="325.40" stroke="#555" stroke-width="0.35" />
<line x1="238.72" y1="324.20" x2="238.72" y2="325.40" stroke="#555" stroke-width="0.35" />
<line x1="240.87" y1="324.20" x2="240.87" y2="325.40" stroke="#555" stroke-width="0.35" />
<line x1="243.03" y1="324.20" x2="243.03" y2="325.40" stroke="#555" stroke-width="0.35" />
<line x1="245.18" y1="324.20" x2="245.18" y2="325.40" stroke="#555" stroke-width="0.35" />
<line x1="247.34" y1="324.20" x2="247.34" y2="325.40" stroke="#555" stroke-width="0.35" />
<line x1="249.49" y1="324.20" x2="249.49" y2="325.40" stroke="#555" stroke-width="0.35" />
<line x1="251.65" y1="324.20" x2="251.65" y2="325.40" stroke="#555" stroke-width="0.35" />
</g>
<g>
<path d="M325.7 283.8h.9v.9h-.9zM334.4 290.3h.9v.9h-.9zM304.3 293.3h.9v.9h-.9zM322.9 295.0h.9v.9h-.9zM330.0 292.6h.9v.9h-.9zM327.5 283.2h.9v.9h-.9zM325.4 288.8h.9v.9h-.9zM326.8 279.8h.9v.9h-.9zM324.2 291.5h.9v.9h-.9zM322.6 284.9h.9v.9h-.9zM319.4 284.1h.9v.9h-.9zM314.1 291.3h.9v.9h-.9zM315.3 290.4h.9v.9h-.9zM322.0 286.2h.9v.9h-.9zM318.1 292.0h.9v.9h-.9zM327.9 285.0h.9v.9h-.9zM327.1 283.1h.9v.9h-.9zM333.1 287.6h.9v.9h-.9zM325.6 298.6h.9v.9h-.9zM329.0 285.5h.9v.9h-.9zM314.4 289.6h.9v.9h-.9zM314.4 288.3h.9v.9h-.9zM322.6 291.4h.9v.9h-.9zM322.1 287.7h.9v.9h-.9zM311.9 294.4h.9v.9h-.9zM307.2 287.4h.9v.9h-.9zM320.8 284.2h.9v.9h-.9zM313.8 287.8h.9v.9h-.9zM329.8 289.3h.9v.9h-.9zM322.7 287.3h.9v.9h-.9zM317.9 279.4h.9v.9h-.9zM323.1 290.7h.9v.9h-.9zM328.3 291.0h.9v.9h-.9zM322.7 294.8h.9v.9h-.9zM321.7 275.8h.9v.9h-.9zM318.3 291.7h.9v.9h-.9zM321.3 293.2h.9v.9h-.9zM318.3 293.8h.9v.9h-.9zM323.9 286.8h.9v.9h-.9zM317.7 282.7h.9v.9h-.9zM315.2 290.5h.9v.9h-.9zM331.8 282.2h.9v.9h-.9zM320.1 292.7h.9v.9h-.9zM321.6 292.2h.9v.9h-.9zM322.8 287.4h.9v.9h-.9zM332.6 287.3h.9v.9h-.9zM318.1 286.0h.9v.9h-.9zM323.7 284.8h.9v.9h-.9zM321.5 289.1h.9v.9h-.9zM313.8 296.1h.9v.9h-.9zM324.9 285.9h.9v.9h-.9zM329.2 291.0h.9v.9h-.9zM320.4 291.8h.9v.9h-.9zM319.0 286.0h.9v.9h-.9zM312.6 294.4h.9v.9h-.9zM310.6 290.8h.9v.9h-.9zM316.9 287.1h.9v.9h-.9zM321.8 282.3h.9v.9h-.9zM321.1 296.1h.9v.9h-.9zM324.5 292.0h.9v.9h-.9zM323.4 280.6h.9v.9h-.9zM323.7 293.3h.9v.9h-.9zM326.2 291.3h.9v.9h-.9zM328.5 283.8h.9v.9h-.9zM314.9 295.2h.9v.9h-.9zM329.7 295.6h.9v.9h-.9zM310.8 296.3h.9v.9h-.9zM324.3 289.8h.9v.9h-.9zM324.4 293.0h.9v.9h-.9zM315.9 287.3h.9v.9h-.9zM312.4 288.1h.9v.9h-.9zM317.9 284.5h.9v.9h-.9zM318.5 290.5h.9v.9h-.9zM323.3 292.4h.9v.9h-.9zM314.1 289.1h.9v.9h-.9zM321.4 282.8h.9v.9h-.9zM315.5 293.4h.9v.9h-.9zM318.6 289.1h.9v.9h-.9zM320.0 293.0h.9v.9h-.9zM328.0 285.3h.9v.9h-.9zM312.2 293.5h.9v.9h-.9zM318.5 290.6h.9v.9h-.9zM327.9 286.2h.9v.9h-.9zM315.4 288.1h.9v.9h-.9zM311.8 289.2h.9v.9h-.9zM325.8 294.7h.9v.9h-.9zM325.5 302.0h.9v.9h-.9zM328.1 291.3h.9v.9h-.9zM312.6 286.4h.9v.9h-.9zM322.2 289.2h.9v.9h-.9zM327.2 292.1h.9v.9h-.9zM323.8 280.5h.9v.9h-.9zM313.8 291.2h.9v.9h-.9zM328.4 283.9h.9v.9h-.9zM314.2 289.0h.9v.9h-.9zM310.8 291.2h.9v.9h-.9zM317.7 296.4h.9v.9h-.9zM321.1 287.6h.9v.9h-.9zM318.8 289.8h.9v.9h-.9zM327.0 294.7h.9v.9h-.9zM322.3 285.1h.9v.9h-.9zM319.1 281.6h.9v.9h-.9zM320.9 292.9h.9v.9h-.9zM335.4 291.7h.9v.9h-.9zM308.9 297.2h.9v.9h-.9zM311.8 296.1h.9v.9h-.9zM315.7 286.5h.9v.9h-.9zM312.1 290.0h.9v.9h-.9zM309.4 302.9h.9v.9h-.9zM319.1 296.8h.9v.9h-.9zM318.0 294.2h.9v.9h-.9zM305.9 294.7h.9v.9h-.9zM323.6 282.7h.9v.9h-.9zM326.4 281.9h.9v.9h-.9zM325.8 281.6h.9v.9h-.9zM319.4 293.5h.9v.9h-.9zM320.4 286.3h.9v.9h-.9zM313.7 291.2h.9v.9h-.9zM323.6 291.6h.9v.9h-.9zM318.5 294.1h.9v.9h-.9zM323.5 288.5h.9v.9h-.9zM320.0 292.4h.9v.9h-.9zM326.9 286.4h.9v.9h-.9zM321.9 279.9h.9v.9h-.9zM327.9 285.5h.9v.9h-.9zM311.0 292.8h.9v.9h-.9zM309.9 293.7h.9v.9h-.9zM323.8 289.2h.9v.9h-.9zM316.6 289.2h.9v.9h-.9zM325.7 292.8h.9v.9h-.9zM322.4 288.0h.9v.9h-.9zM322.4 289.6h.9v.9h-.9zM326.9 287.9h.9v.9h-.9zM323.8 287.2h.9v.9h-.9zM325.0 290.5h.9v.9h-.9zM317.4 295.0h.9v.9h-.9zM332.1 286.6h.9v.9h-.9zM320.3 286.5h.9v.9h-.9zM325.5 282.8h.9v.9h-.9zM321.7 286.2h.9v.9h-.9zM328.2 285.6h.9v.9h-.9zM318.1 282.0h.9v.9h-.9zM320.5 285.6h.9v.9h-.9zM319.5 284.7h.9v.9h-.9zM315.6 289.1h.9v.9h-.9zM315.9 287.7h.9v.9h-.9zM321.7 292.9h.9v.9h-.9zM321.2 291.4h.9v.9h-.9zM317.2 295.9h.9v.9h-.9zM332.4 278.6h.9v.9h-.9zM313.8 289.5h.9v.9h-.9zM318.6 289.2h.9v.9h-.9zM338.2 288.2h.9v.9h-.9zM320.5 297.7h.9v.9h-.9zM324.1 284.8h.9v.9h-.9zM326.0 289.8h.9v.9h-.9zM324.0 298.1h.9v.9h-.9zM310.8 290.0h.9v.9h-.9zM311.7 293.5h.9v.9h-.9zM323.5 294.3h.9v.9h-.9zM324.8 290.9h.9v.9h-.9zM306.7 292.3h.9v.9h-.9zM324.9 294.7h.9v.9h-.9zM319.2 295.1h.9v.9h-.9zM327.5 289.3h.9v.9h-.9zM319.5 284.3h.9v.9h-.9zM316.1 291.3h.9v.9h-.9zM321.2 295.7h.9v.9h-.9zM322.2 291.2h.9v.9h-.9zM330.3 288.4h.9v.9h-.9zM337.9 279.2h.9v.9h-.9zM326.1 294.0h.9v.9h-.9zM321.3 288.2h.9v.9h-.9zM326.9 290.8h.9v.9h-.9zM321.9 290.6h.9v.9h-.9zM323.1 283.8h.9v.9h-.9zM326.6 293.6h.9v.9h-.9zM319.0 284.5h.9v.9h-.9zM315.5 288.9h.9v.9h-.9zM322.7 289.3h.9v.9h-.9zM323.9 281.3h.9v.9h-.9zM318.4 282.3h.9v.9h-.9zM329.9 284.2h.9v.9h-.9zM326.1 284.7h.9v.9h-.9zM320.2 288.6h.9v.9h-.9zM332.4 285.8h.9v.9h-.9zM319.6 301.0h.9v.9h-.9zM327.4 284.1h.9v.9h-.9zM337.0 292.6h.9v.9h-.9zM320.6 290.8h.9v.9h-.9zM320.8 289.1h.9v.9h-.9zM321.6 276.2h.9v.9h-.9zM326.7 279.1h.9v.9h-.9zM324.6 288.7h.9v.9h-.9zM324.1 290.4h.9v.9h-.9zM325.2 283.2h.9v.9h-.9zM323.7 289.4h.9v.9h-.9zM316.5 296.0h.9v.9h-.9zM319.4 287.5h.9v.9h-.9zM318.3 283.0h.9v.9h-.9zM311.1 289.9h.9v.9h-.9zM323.3 286.7h.9v.9h-.9zM317.9 292.3h.9v.9h-.9zM327.4 289.6h.9v.9h-.9zM311.3 290.1h.9v.9h-.9zM316.5 291.9h.9v.9h-.9zM312.8 292.5h.9v.9h-.9zM329.0 285.2h.9v.9h-.9zM331.0 289.2h.9v.9h-.9zM332.5 289.4h.9v.9h-.9zM329.1 282.8h.9v.9h-.9zM325.6 284.0h.9v.9h-.9zM325.3 283.7h.9v.9h-.9zM310.9 292.2h.9v.9h-.9zM322.7 286.5h.9v.9h-.9zM318.4 289.9h.9v.9h-.9zM318.8 288.1h.9v.9h-.9zM312.5 288.8h.9v.9h-.9zM326.8 280.7h.9v.9h-.9zM322.6 288.7h.9v.9h-.9zM317.9 302.6h.9v.9h-.9zM325.6 289.5h.9v.9h-.9zM322.4 291.7h.9v.9h-.9zM316.2 293.5h.9v.9h-.9zM319.4 289.4h.9v.9h-.9zM320.9 298.9h.9v.9h-.9zM307.6 295.0h.9v.9h-.9zM310.6 290.2h.9v.9h-.9zM321.6 283.1h.9v.9h-.9zM323.4 288.9h.9v.9h-.9zM320.6 284.8h.9v.9h-.9zM312.6 289.7h.9v.9h-.9zM315.8 288.0h.9v.9h-.9zM318.7 284.3h.9v.9h-.9zM325.2 287.9h.9v.9h-.9zM312.8 285.7h.9v.9h-.9zM319.4 301.1h.9v.9h-.9zM322.0 275.7h.9v.9h-.9zM318.6 284.0h.9v.9h-.9zM318.9 290.8h.9v.9h-.9zM317.5 293.2h.9v.9h-.9zM316.5 290.1h.9v.9h-.9zM330.6 285.7h.9v.9h-.9zM326.8 287.1h.9v.9h-.9zM318.8 291.2h.9v.9h-.9zM315.0 295.4h.9v.9h-.9zM331.0 285.3h.9v.9h-.9zM329.7 284.3h.9v.9h-.9zM327.6 285.3h.9v.9h-.9zM327.5 290.2h.9v.9h-.9zM309.9 294.5h.9v.9h-.9zM314.8 295.5h.9v.9h-.9zM327.3 293.7h.9v.9h-.9zM320.1 291.8h.9v.9h-.9zM324.8 293.2h.9v.9h-.9zM317.2 289.5h.9v.9h-.9zM317.8 292.5h.9v.9h-.9zM325.2 289.7h.9v.9h-.9zM319.2 291.6h.9v.9h-.9zM321.9 291.3h.9v.9h-.9zM325.2 294.0h.9v.9h-.9zM321.7 287.7h.9v.9h-.9zM326.3 283.5h.9v.9h-.9zM329.5 286.6h.9v.9h-.9zM310.3 288.3h.9v.9h-.9zM319.4 290.3h.9v.9h-.9zM319.7 295.9h.9v.9h-.9zM325.3 287.2h.9v.9h-.9zM316.0 294.8h.9v.9h-.9zM326.2 288.6h.9v.9h-.9zM327.4 291.8h.9v.9h-.9zM325.3 289.6h.9v.9h-.9zM315.8 293.2h.9v.9h-.9zM313.2 277.8h.9v.9h-.9zM313.8 290.8h.9v.9h-.9zM324.6 290.9h.9v.9h-.9zM326.1 286.1h.9v.9h-.9zM310.8 291.3h.9v.9h-.9zM318.0 295.3h.9v.9h-.9zM318.3 286.7h.9v.9h-.9zM317.2 289.8h.9v.9h-.9zM330.8 287.4h.9v.9h-.9zM319.1 287.9h.9v.9h-.9zM322.7 289.3h.9v.9h-.9zM314.5 292.7h.9v.9h-.9zM327.3 280.2h.9v.9h-.9zM320.8 286.9h.9v.9h-.9zM324.6 285.6h.9v.9h-.9zM320.1 286.7h.9v.9h-.9zM310.9 299.8h.9v.9h-.9zM311.7 294.1h.9v.9h-.9zM312.3 290.8h.9v.9h-.9zM320.8 282.7h.9v.9h-.9zM317.3 289.6h.9v.9h-.9zM325.9 292.8h.9v.9h-.9zM321.9 287.3h.9v.9h-.9zM323.8 291.3h.9v.9h-.9zM327.0 288.1h.9v.9h-.9zM320.9 286.8h.9v.9h-.9zM309.6 290.7h.9v.9h-.9zM324.1 303.5h.9v.9h-.9zM295.4 306.4h.9v.9h-.9zM324.5 286.7h.9v.9h-.9zM301.8 311.2h.9v.9h-.9zM328.2 309.5h.9v.9h-.9zM312.1 298.3h.9v.9h-.9zM316.1 281.2h.9v.9h-.9zM330.8 299.6h.9v.9h-.9zM304.3 287.2h.9v.9h-.9zM317.9 279.7h.9v.9h-.9zM313.2 288.6h.9v.9h-.9zM323.9 320.7h.9v.9h-.9zM326.6 280.6h.9v.9h-.9zM321.0 292.4h.9v.9h-.9zM320.0 297.9h.9v.9h-.9zM312.1 305.7h.9v.9h-.9zM325.2 285.3h.9v.9h-.9zM314.4 285.5h.9v.9h-.9zM319.1 305.0h.9v.9h-.9zM319.8 298.5h.9v.9h-.9zM299.9 308.6h.9v.9h-.9zM302.9 283.4h.9v.9h-.9zM320.3 294.4h.9v.9h-.9zM317.2 305.3h.9v.9h-.9zM333.6 296.8h.9v.9h-.9zM286.1 283.7h.9v.9h-.9zM320.2 296.8h.9v.9h-.9zM331.6 275.6h.9v.9h-.9zM318.7 287.4h.9v.9h-.9zM327.6 303.5h.9v.9h-.9zM317.8 304.8h.9v.9h-.9zM316.8 299.6h.9v.9h-.9zM329.2 302.6h.9v.9h-.9zM300.9 279.6h.9v.9h-.9zM288.7 288.5h.9v.9h-.9zM323.7 306.3h.9v.9h-.9zM319.2 319.4h.9v.9h-.9zM319.1 300.1h.9v.9h-.9zM321.3 285.7h.9v.9h-.9zM325.7 285.3h.9v.9h-.9zM311.6 308.0h.9v.9h-.9zM323.7 306.8h.9v.9h-.9zM321.7 282.7h.9v.9h-.9zM302.9 296.8h.9v.9h-.9zM315.7 309.9h.9v.9h-.9zM321.2 310.1h.9v.9h-.9zM307.5 289.9h.9v.9h-.9zM331.1 293.5h.9v.9h-.9zM313.8 300.3h.9v.9h-.9zM328.0 283.9h.9v.9h-.9zM336.4 278.3h.9v.9h-.9zM298.7 288.2h.9v.9h-.9zM300.7 308.0h.9v.9h-.9zM325.3 306.8h.9v.9h-.9zM315.3 300.3h.9v.9h-.9zM324.4 283.1h.9v.9h-.9zM340.0 274.7h.9v.9h-.9zM311.6 284.3h.9v.9h-.9zM328.9 295.5h.9v.9h-.9zM314.5 305.9h.9v.9h-.9zM309.6 285.8h.9v.9h-.9zM323.9 295.7h.9v.9h-.9zM321.2 276.1h.9v.9h-.9zM331.8 272.7h.9v.9h-.9zM321.9 294.7h.9v.9h-.9zM329.1 282.3h.9v.9h-.9zM324.7 283.8h.9v.9h-.9zM296.0 270.8h.9v.9h-.9zM313.3 303.0h.9v.9h-.9zM313.8 275.6h.9v.9h-.9zM329.4 294.6h.9v.9h-.9zM304.5 278.6h.9v.9h-.9zM320.4 290.2h.9v.9h-.9zM312.7 308.2h.9v.9h-.9zM294.6 296.7h.9v.9h-.9zM316.1 295.4h.9v.9h-.9zM326.2 303.5h.9v.9h-.9zM313.3 299.7h.9v.9h-.9zM330.0 308.7h.9v.9h-.9zM323.0 278.8h.9v.9h-.9zM322.1 308.4h.9v.9h-.9zM311.5 294.9h.9v.9h-.9zM315.9 283.3h.9v.9h-.9zM324.0 300.5h.9v.9h-.9zM318.3 299.9h.9v.9h-.9zM302.2 294.2h.9v.9h-.9zM315.8 303.3h.9v.9h-.9zM323.2 280.6h.9v.9h-.9zM332.5 277.0h.9v.9h-.9zM328.9 288.2h.9v.9h-.9zM305.4 305.9h.9v.9h-.9zM327.0 300.0h.9v.9h-.9zM297.3 294.5h.9v.9h-.9zM309.7 287.9h.9v.9h-.9zM307.6 294.5h.9v.9h-.9zM337.6 306.8h.9v.9h-.9zM326.9 288.8h.9v.9h-.9zM321.9 288.5h.9v.9h-.9zM310.1 299.3h.9v.9h-.9zM334.0 301.6h.9v.9h-.9zM314.9 296.3h.9v.9h-.9zM324.1 309.9h.9v.9h-.9zM332.3 297.0h.9v.9h-.9zM314.2 284.8h.9v.9h-.9zM325.1 271.9h.9v.9h-.9zM292.6 307.4h.9v.9h-.9zM325.6 293.4h.9v.9h-.9zM296.2 298.6h.9v.9h-.9zM323.4 299.9h.9v.9h-.9zM321.9 309.4h.9v.9h-.9zM324.3 306.2h.9v.9h-.9zM348.0 305.8h.9v.9h-.9zM286.1 298.4h.9v.9h-.9zM324.1 293.1h.9v.9h-.9zM313.1 298.4h.9v.9h-.9zM327.9 287.0h.9v.9h-.9zM322.2 299.5h.9v.9h-.9zM319.6 306.9h.9v.9h-.9zM311.7 303.2h.9v.9h-.9zM309.1 297.3h.9v.9h-.9zM322.8 286.5h.9v.9h-.9zM298.8 286.5h.9v.9h-.9zM332.1 288.1h.9v.9h-.9zM310.8 291.5h.9v.9h-.9zM324.2 300.3h.9v.9h-.9zM303.0 300.8h.9v.9h-.9zM324.2 301.7h.9v.9h-.9zM315.3 306.3h.9v.9h-.9zM328.3 285.5h.9v.9h-.9zM334.1 293.5h.9v.9h-.9zM311.3 301.2h.9v.9h-.9zM319.7 304.0h.9v.9h-.9zM321.5 288.6h.9v.9h-.9zM337.1 288.3h.9v.9h-.9zM301.6 307.6h.9v.9h-.9zM326.0 302.8h.9v.9h-.9zM318.1 300.4h.9v.9h-.9zM302.9 292.7h.9v.9h-.9zM314.1 285.7h.9v.9h-.9zM309.8 295.4h.9v.9h-.9zM332.7 298.9h.9v.9h-.9zM306.2 300.9h.9v.9h-.9zM331.6 304.7h.9v.9h-.9zM312.5 296.8h.9v.9h-.9zM327.2 308.8h.9v.9h-.9zM296.4 292.2h.9v.9h-.9zM308.6 299.2h.9v.9h-.9zM320.5 296.4h.9v.9h-.9zM306.7 277.0h.9v.9h-.9zM298.4 282.0h.9v.9h-.9zM318.7 290.1h.9v.9h-.9zM328.6 297.2h.9v.9h-.9zM318.6 299.1h.9v.9h-.9zM315.7 309.0h.9v.9h-.9zM323.7 295.4h.9v.9h-.9zM313.0 292.2h.9v.9h-.9zM330.4 298.9h.9v.9h-.9zM332.7 282.8h.9v.9h-.9zM302.0 293.5h.9v.9h-.9zM332.0 285.0h.9v.9h-.9zM327.3 296.1h.9v.9h-.9zM322.2 288.2h.9v.9h-.9zM327.4 291.1h.9v.9h-.9zM337.0 315.3h.9v.9h-.9zM343.4 307.0h.9v.9h-.9zM339.5 321.4h.9v.9h-.9zM315.5 297.4h.9v.9h-.9zM335.9 293.5h.9v.9h-.9zM297.1 287.1h.9v.9h-.9zM330.3 295.0h.9v.9h-.9zM343.7 268.2h.9v.9h-.9zM353.8 261.9h.9v.9h-.9zM350.5 265.8h.9v.9h-.9zM344.8 260.2h.9v.9h-.9zM342.3 262.4h.9v.9h-.9zM347.9 263.3h.9v.9h-.9zM351.1 264.0h.9v.9h-.9zM352.7 260.4h.9v.9h-.9zM343.8 264.8h.9v.9h-.9zM353.6 266.0h.9v.9h-.9zM354.5 258.9h.9v.9h-.9zM365.8 257.5h.9v.9h-.9zM354.7 258.1h.9v.9h-.9zM359.2 264.7h.9v.9h-.9zM348.7 261.2h.9v.9h-.9zM353.2 262.0h.9v.9h-.9zM348.7 261.6h.9v.9h-.9zM348.5 263.6h.9v.9h-.9zM356.2 261.6h.9v.9h-.9zM352.1 263.6h.9v.9h-.9zM362.0 261.8h.9v.9h-.9zM353.9 266.7h.9v.9h-.9zM355.5 260.3h.9v.9h-.9zM346.4 264.6h.9v.9h-.9zM347.5 263.8h.9v.9h-.9zM357.0 260.1h.9v.9h-.9zM349.8 265.6h.9v.9h-.9zM361.7 265.9h.9v.9h-.9zM348.2 261.1h.9v.9h-.9zM349.2 269.6h.9v.9h-.9zM364.7 260.5h.9v.9h-.9zM343.4 264.5h.9v.9h-.9zM349.3 257.3h.9v.9h-.9zM356.5 262.5h.9v.9h-.9zM356.9 262.0h.9v.9h-.9zM346.7 263.4h.9v.9h-.9zM366.4 262.2h.9v.9h-.9zM350.7 262.9h.9v.9h-.9zM342.3 265.7h.9v.9h-.9zM358.5 260.4h.9v.9h-.9zM350.2 260.7h.9v.9h-.9zM353.9 263.1h.9v.9h-.9zM358.2 263.5h.9v.9h-.9zM348.4 265.5h.9v.9h-.9zM349.3 263.9h.9v.9h-.9zM352.5 261.2h.9v.9h-.9zM358.4 262.1h.9v.9h-.9zM345.6 263.6h.9v.9h-.9zM361.4 258.4h.9v.9h-.9zM355.8 263.3h.9v.9h-.9zM346.8 263.6h.9v.9h-.9zM353.2 260.2h.9v.9h-.9zM356.7 261.6h.9v.9h-.9zM360.9 263.0h.9v.9h-.9zM359.2 265.5h.9v.9h-.9zM359.3 257.4h.9v.9h-.9zM352.5 262.2h.9v.9h-.9zM358.0 263.4h.9v.9h-.9zM338.3 268.4h.9v.9h-.9zM359.6 262.7h.9v.9h-.9zM352.8 260.5h.9v.9h-.9zM362.7 260.1h.9v.9h-.9zM350.0 263.4h.9v.9h-.9zM350.3 261.5h.9v.9h-.9zM353.3 260.3h.9v.9h-.9zM357.8 259.0h.9v.9h-.9zM356.5 268.6h.9v.9h-.9zM359.6 261.9h.9v.9h-.9zM353.7 262.3h.9v.9h-.9zM360.0 263.4h.9v.9h-.9zM370.1 260.1h.9v.9h-.9zM360.8 261.3h.9v.9h-.9zM357.3 262.8h.9v.9h-.9zM344.6 262.6h.9v.9h-.9zM357.1 261.3h.9v.9h-.9zM360.3 263.9h.9v.9h-.9zM352.8 264.6h.9v.9h-.9zM359.3 259.3h.9v.9h-.9zM341.3 268.7h.9v.9h-.9zM349.4 262.7h.9v.9h-.9zM347.4 260.1h.9v.9h-.9zM357.0 264.1h.9v.9h-.9zM349.1 265.3h.9v.9h-.9zM348.1 264.7h.9v.9h-.9zM361.9 259.1h.9v.9h-.9zM345.5 267.3h.9v.9h-.9zM356.8 263.7h.9v.9h-.9zM360.2 262.7h.9v.9h-.9zM352.1 263.8h.9v.9h-.9zM348.4 264.8h.9v.9h-.9zM353.4 268.4h.9v.9h-.9zM350.0 262.4h.9v.9h-.9zM349.0 264.5h.9v.9h-.9zM355.4 265.5h.9v.9h-.9zM353.7 264.9h.9v.9h-.9zM371.7 258.0h.9v.9h-.9zM361.2 261.4h.9v.9h-.9zM354.5 262.0h.9v.9h-.9zM356.3 259.0h.9v.9h-.9zM363.5 260.8h.9v.9h-.9zM361.0 264.1h.9v.9h-.9zM354.1 263.7h.9v.9h-.9zM349.5 266.5h.9v.9h-.9zM364.3 262.2h.9v.9h-.9zM353.3 261.4h.9v.9h-.9zM355.3 264.1h.9v.9h-.9zM361.0 257.5h.9v.9h-.9zM355.3 265.8h.9v.9h-.9zM361.2 260.8h.9v.9h-.9zM352.7 267.2h.9v.9h-.9zM354.2 259.6h.9v.9h-.9zM352.1 260.9h.9v.9h-.9zM365.9 259.8h.9v.9h-.9zM345.0 263.9h.9v.9h-.9zM351.8 259.4h.9v.9h-.9zM347.9 260.9h.9v.9h-.9zM349.5 264.9h.9v.9h-.9zM345.6 262.4h.9v.9h-.9zM349.1 265.9h.9v.9h-.9zM361.4 265.6h.9v.9h-.9zM361.5 258.0h.9v.9h-.9zM349.5 262.7h.9v.9h-.9zM347.0 268.4h.9v.9h-.9zM351.1 266.1h.9v.9h-.9zM362.6 258.1h.9v.9h-.9zM353.2 264.0h.9v.9h-.9zM341.5 269.2h.9v.9h-.9zM357.5 257.0h.9v.9h-.9zM352.8 264.0h.9v.9h-.9zM357.5 264.9h.9v.9h-.9zM355.6 261.4h.9v.9h-.9zM345.5 262.9h.9v.9h-.9zM359.8 263.7h.9v.9h-.9zM356.7 258.6h.9v.9h-.9zM349.6 265.1h.9v.9h-.9zM340.5 268.3h.9v.9h-.9zM346.5 264.5h.9v.9h-.9zM346.0 260.5h.9v.9h-.9zM358.1 266.1h.9v.9h-.9zM349.9 263.6h.9v.9h-.9zM351.0 264.8h.9v.9h-.9zM353.2 260.9h.9v.9h-.9zM350.7 263.3h.9v.9h-.9zM356.1 265.2h.9v.9h-.9zM354.6 259.1h.9v.9h-.9zM358.4 258.9h.9v.9h-.9zM345.2 259.4h.9v.9h-.9zM355.6 263.7h.9v.9h-.9zM351.9 264.4h.9v.9h-.9zM365.5 258.8h.9v.9h-.9zM332.2 274.2h.9v.9h-.9zM331.5 273.8h.9v.9h-.9zM335.8 273.7h.9v.9h-.9zM328.8 264.7h.9v.9h-.9zM332.0 280.8h.9v.9h-.9zM330.5 271.5h.9v.9h-.9zM335.5 268.7h.9v.9h-.9zM332.5 271.5h.9v.9h-.9zM328.8 262.2h.9v.9h-.9zM332.4 276.4h.9v.9h-.9zM331.1 268.4h.9v.9h-.9zM329.4 271.4h.9v.9h-.9zM332.3 271.0h.9v.9h-.9zM331.8 262.3h.9v.9h-.9zM328.8 268.7h.9v.9h-.9zM330.4 275.9h.9v.9h-.9zM334.0 266.7h.9v.9h-.9zM333.6 271.4h.9v.9h-.9zM331.1 274.8h.9v.9h-.9zM330.7 277.4h.9v.9h-.9zM332.1 266.5h.9v.9h-.9zM331.2 275.0h.9v.9h-.9zM328.8 273.4h.9v.9h-.9zM332.8 272.7h.9v.9h-.9zM329.7 274.7h.9v.9h-.9zM334.7 273.7h.9v.9h-.9zM332.7 265.9h.9v.9h-.9zM333.0 272.5h.9v.9h-.9zM330.7 267.6h.9v.9h-.9zM331.8 271.9h.9v.9h-.9zM330.2 268.5h.9v.9h-.9zM330.6 277.0h.9v.9h-.9zM329.2 274.6h.9v.9h-.9zM334.6 272.6h.9v.9h-.9zM329.0 267.4h.9v.9h-.9zM335.2 272.3h.9v.9h-.9zM333.1 265.5h.9v.9h-.9zM329.5 266.5h.9v.9h-.9zM334.4 262.9h.9v.9h-.9zM332.4 274.3h.9v.9h-.9zM329.7 268.2h.9v.9h-.9zM332.0 274.5h.9v.9h-.9zM330.8 275.5h.9v.9h-.9zM329.8 275.0h.9v.9h-.9zM331.4 268.6h.9v.9h-.9zM332.1 276.9h.9v.9h-.9zM330.8 275.7h.9v.9h-.9zM331.4 264.8h.9v.9h-.9zM333.2 272.1h.9v.9h-.9zM331.2 266.9h.9v.9h-.9zM330.7 269.9h.9v.9h-.9zM328.7 275.9h.9v.9h-.9zM331.4 271.9h.9v.9h-.9zM330.5 277.6h.9v.9h-.9zM331.0 273.3h.9v.9h-.9zM333.3 273.8h.9v.9h-.9zM333.4 277.9h.9v.9h-.9zM331.6 276.0h.9v.9h-.9zM330.2 274.1h.9v.9h-.9zM331.8 276.6h.9v.9h-.9zM332.2 276.0h.9v.9h-.9zM332.1 264.4h.9v.9h-.9zM328.4 265.9h.9v.9h-.9zM332.2 271.0h.9v.9h-.9zM329.3 275.4h.9v.9h-.9zM332.2 267.2h.9v.9h-.9zM332.4 263.1h.9v.9h-.9zM331.9 270.2h.9v.9h-.9zM334.2 267.8h.9v.9h-.9zM331.5 277.1h.9v.9h-.9zM332.2 259.9h.9v.9h-.9zM329.6 274.1h.9v.9h-.9zM331.3 273.4h.9v.9h-.9zM331.0 258.5h.9v.9h-.9zM331.6 265.8h.9v.9h-.9zM331.1 269.2h.9v.9h-.9zM326.3 272.0h.9v.9h-.9zM333.3 270.4h.9v.9h-.9zM333.0 273.1h.9v.9h-.9zM326.9 271.2h.9v.9h-.9zM332.1 266.8h.9v.9h-.9zM333.7 277.8h.9v.9h-.9zM333.1 271.6h.9v.9h-.9zM333.1 266.5h.9v.9h-.9zM331.1 272.5h.9v.9h-.9zM330.4 269.7h.9v.9h-.9zM335.7 268.4h.9v.9h-.9zM332.5 267.5h.9v.9h-.9zM335.1 263.6h.9v.9h-.9zM331.4 266.4h.9v.9h-.9zM317.2 280.0h.9v.9h-.9zM334.4 275.1h.9v.9h-.9zM327.1 283.0h.9v.9h-.9zM329.9 280.5h.9v.9h-.9zM327.7 283.0h.9v.9h-.9zM329.5 283.8h.9v.9h-.9zM328.8 281.8h.9v.9h-.9zM319.0 273.5h.9v.9h-.9zM331.8 272.2h.9v.9h-.9zM330.4 274.7h.9v.9h-.9zM327.8 282.0h.9v.9h-.9zM330.2 276.9h.9v.9h-.9zM333.7 279.2h.9v.9h-.9zM325.0 278.0h.9v.9h-.9zM333.1 288.1h.9v.9h-.9zM326.2 279.6h.9v.9h-.9zM326.2 278.3h.9v.9h-.9zM327.2 276.4h.9v.9h-.9zM319.4 286.9h.9v.9h-.9zM327.7 275.4h.9v.9h-.9zM326.5 280.3h.9v.9h-.9zM322.5 274.6h.9v.9h-.9zM333.2 279.8h.9v.9h-.9zM329.3 277.1h.9v.9h-.9zM321.2 285.5h.9v.9h-.9zM326.0 278.3h.9v.9h-.9zM332.2 266.1h.9v.9h-.9zM332.8 281.5h.9v.9h-.9zM329.8 271.2h.9v.9h-.9zM324.7 282.3h.9v.9h-.9zM327.3 276.4h.9v.9h-.9zM326.1 270.6h.9v.9h-.9zM328.3 276.6h.9v.9h-.9zM330.1 282.4h.9v.9h-.9zM328.8 281.1h.9v.9h-.9zM328.5 274.5h.9v.9h-.9zM323.5 281.0h.9v.9h-.9zM329.6 280.3h.9v.9h-.9zM330.3 285.4h.9v.9h-.9zM335.9 279.2h.9v.9h-.9zM331.1 275.1h.9v.9h-.9zM325.6 277.0h.9v.9h-.9zM323.3 289.2h.9v.9h-.9zM326.1 276.4h.9v.9h-.9zM334.6 270.6h.9v.9h-.9zM321.2 284.6h.9v.9h-.9zM326.1 277.4h.9v.9h-.9zM323.7 274.6h.9v.9h-.9zM326.1 277.0h.9v.9h-.9zM326.8 281.9h.9v.9h-.9zM332.0 274.8h.9v.9h-.9zM334.2 268.8h.9v.9h-.9zM325.2 281.4h.9v.9h-.9zM325.3 286.9h.9v.9h-.9zM328.3 279.7h.9v.9h-.9zM332.7 278.4h.9v.9h-.9zM328.1 275.0h.9v.9h-.9zM322.2 280.9h.9v.9h-.9zM327.4 275.8h.9v.9h-.9zM328.6 273.8h.9v.9h-.9zM323.1 287.0h.9v.9h-.9zM325.5 273.0h.9v.9h-.9zM327.5 275.4h.9v.9h-.9zM328.1 269.2h.9v.9h-.9zM327.0 277.4h.9v.9h-.9zM331.3 280.5h.9v.9h-.9zM323.5 289.8h.9v.9h-.9zM327.8 277.5h.9v.9h-.9zM318.9 273.4h.9v.9h-.9zM324.3 284.4h.9v.9h-.9zM353.2 265.4h.9v.9h-.9zM357.8 280.5h.9v.9h-.9zM333.7 254.2h.9v.9h-.9zM339.6 282.6h.9v.9h-.9zM350.3 261.6h.9v.9h-.9zM346.9 286.8h.9v.9h-.9zM329.7 275.9h.9v.9h-.9zM339.3 262.5h.9v.9h-.9zM354.2 270.1h.9v.9h-.9zM340.4 274.3h.9v.9h-.9zM337.4 283.9h.9v.9h-.9zM332.0 289.1h.9v.9h-.9zM345.2 266.1h.9v.9h-.9zM358.3 255.9h.9v.9h-.9zM341.3 284.3h.9v.9h-.9zM358.8 288.1h.9v.9h-.9zM338.4 283.6h.9v.9h-.9zM339.5 263.2h.9v.9h-.9zM351.6 259.6h.9v.9h-.9zM350.7 261.5h.9v.9h-.9zM335.4 282.9h.9v.9h-.9zM342.1 276.5h.9v.9h-.9zM330.3 280.0h.9v.9h-.9zM354.3 292.6h.9v.9h-.9zM358.0 265.5h.9v.9h-.9zM357.9 271.2h.9v.9h-.9zM334.6 258.7h.9v.9h-.9zM342.6 270.9h.9v.9h-.9zM330.8 258.5h.9v.9h-.9zM359.3 277.6h.9v.9h-.9zM343.5 266.2h.9v.9h-.9zM339.3 269.6h.9v.9h-.9zM331.9 280.2h.9v.9h-.9zM360.6 293.7h.9v.9h-.9zM338.0 271.2h.9v.9h-.9zM341.5 264.9h.9v.9h-.9zM354.3 264.1h.9v.9h-.9zM337.7 291.8h.9v.9h-.9zM353.3 293.7h.9v.9h-.9zM331.3 285.3h.9v.9h-.9zM330.8 255.5h.9v.9h-.9zM351.4 286.4h.9v.9h-.9zM355.2 292.1h.9v.9h-.9zM350.9 293.8h.9v.9h-.9zM343.2 279.2h.9v.9h-.9zM330.8 276.2h.9v.9h-.9zM341.1 262.1h.9v.9h-.9zM358.2 284.4h.9v.9h-.9zM332.2 270.4h.9v.9h-.9zM346.7 269.1h.9v.9h-.9z" fill="#4858c8" fill-opacity="0.5"/>
<g filter="url(#bl1)" opacity="0.4" transform="translate(353.50 263.00) skewX(0) rotate(-10)">
<ellipse cx="0.00" cy="-0.00" rx="7.75" ry="2.79" fill="#2342c8" fill-opacity="0.9"/>
</g>
<g filter="url(#bl1)" opacity="0.35" transform="translate(331.50 269.00) skewX(0) rotate(0)">
<ellipse cx="0.00" cy="-0.00" rx="2.33" ry="4.96" fill="#2342c8" fill-opacity="0.9"/>
</g>
<g filter="url(#bl1)" opacity="1.0" transform="translate(321.00 289.50) skewX(0) rotate(-28)">
<ellipse cx="0.00" cy="-0.00" rx="10.54" ry="6.51" fill="#2342c8" fill-opacity="0.9"/>
<ellipse cx="0.15" cy="-0.10" rx="9.11" ry="5.63" fill="#12a4e6" fill-opacity="1.0"/>
<ellipse cx="0.30" cy="-0.20" rx="7.34" ry="4.54" fill="#22c050" fill-opacity="1.0"/>
<ellipse cx="0.45" cy="-0.30" rx="4.49" ry="2.77" fill="#b8e020" fill-opacity="1.0"/>
<ellipse cx="0.60" cy="-0.40" rx="2.31" ry="1.43" fill="#ee4a12" fill-opacity="1.0"/>
</g>
<rect x="284.5" y="236.0" width="88.3" height="88.2" fill="none" stroke="#3a3a3a" stroke-width="1.0"/>
<line x1="333.20" y1="236.00" x2="333.20" y2="324.20" stroke="#333" stroke-width="1.1" />
<line x1="284.50" y1="279.60" x2="372.80" y2="279.60" stroke="#333" stroke-width="1.1" />
<text x="286.7" y="241.8" font-family="'Liberation Sans', sans-serif" font-size="4.6" font-weight="bold" fill="#2a2a2a" text-anchor="start" stroke="#2a2a2a" stroke-width="0.15">Q1</text>
<text x="286.7" y="248.6" font-family="'Liberation Sans', sans-serif" font-size="4.6" font-weight="bold" fill="#2a2a2a" text-anchor="start" stroke="#2a2a2a" stroke-width="0.15">2.16%</text>
<text x="370.8" y="241.8" font-family="'Liberation Sans', sans-serif" font-size="4.6" font-weight="bold" fill="#2a2a2a" text-anchor="end" stroke="#2a2a2a" stroke-width="0.15">Q2</text>
<text x="370.8" y="248.6" font-family="'Liberation Sans', sans-serif" font-size="4.6" font-weight="bold" fill="#2a2a2a" text-anchor="end" stroke="#2a2a2a" stroke-width="0.15">7.09%</text>
<text x="370.8" y="316.2" font-family="'Liberation Sans', sans-serif" font-size="4.6" font-weight="bold" fill="#2a2a2a" text-anchor="end" stroke="#2a2a2a" stroke-width="0.15">Q3</text>
<text x="370.8" y="322.6" font-family="'Liberation Sans', sans-serif" font-size="4.6" font-weight="bold" fill="#2a2a2a" text-anchor="end" stroke="#2a2a2a" stroke-width="0.15">2.02%</text>
<text x="286.7" y="316.2" font-family="'Liberation Sans', sans-serif" font-size="4.6" font-weight="bold" fill="#2a2a2a" text-anchor="start" stroke="#2a2a2a" stroke-width="0.15">Q4</text>
<text x="286.7" y="322.6" font-family="'Liberation Sans', sans-serif" font-size="4.6" font-weight="bold" fill="#2a2a2a" text-anchor="start" stroke="#2a2a2a" stroke-width="0.15">88.8%</text>
<line x1="282.70" y1="317.79" x2="284.50" y2="317.79" stroke="#333" stroke-width="0.7" />
<text x="279.5" y="320.0" font-family="'Liberation Sans', sans-serif" font-size="4.8" font-weight="bold" fill="#2a2a2a" text-anchor="end" stroke="#2a2a2a" stroke-width="0.15">10</text>
<text x="282.1" y="316.7" font-family="'Liberation Sans', sans-serif" font-size="4.3" font-weight="bold" fill="#2a2a2a" text-anchor="end" stroke="#2a2a2a" stroke-width="0.15">1</text>
<line x1="282.70" y1="305.44" x2="284.50" y2="305.44" stroke="#333" stroke-width="0.7" />
<text x="279.5" y="307.6" font-family="'Liberation Sans', sans-serif" font-size="4.8" font-weight="bold" fill="#2a2a2a" text-anchor="end" stroke="#2a2a2a" stroke-width="0.15">10</text>
<text x="282.1" y="304.3" font-family="'Liberation Sans', sans-serif" font-size="4.3" font-weight="bold" fill="#2a2a2a" text-anchor="end" stroke="#2a2a2a" stroke-width="0.15">2</text>
<line x1="282.70" y1="291.95" x2="284.50" y2="291.95" stroke="#333" stroke-width="0.7" />
<text x="279.5" y="294.1" font-family="'Liberation Sans', sans-serif" font-size="4.8" font-weight="bold" fill="#2a2a2a" text-anchor="end" stroke="#2a2a2a" stroke-width="0.15">10</text>
<text x="282.1" y="290.8" font-family="'Liberation Sans', sans-serif" font-size="4.3" font-weight="bold" fill="#2a2a2a" text-anchor="end" stroke="#2a2a2a" stroke-width="0.15">3</text>
<line x1="282.70" y1="278.72" x2="284.50" y2="278.72" stroke="#333" stroke-width="0.7" />
<text x="279.5" y="280.9" font-family="'Liberation Sans', sans-serif" font-size="4.8" font-weight="bold" fill="#2a2a2a" text-anchor="end" stroke="#2a2a2a" stroke-width="0.15">10</text>
<text x="282.1" y="277.6" font-family="'Liberation Sans', sans-serif" font-size="4.3" font-weight="bold" fill="#2a2a2a" text-anchor="end" stroke="#2a2a2a" stroke-width="0.15">4</text>
<line x1="282.70" y1="267.08" x2="284.50" y2="267.08" stroke="#333" stroke-width="0.7" />
<text x="279.5" y="269.3" font-family="'Liberation Sans', sans-serif" font-size="4.8" font-weight="bold" fill="#2a2a2a" text-anchor="end" stroke="#2a2a2a" stroke-width="0.15">10</text>
<text x="282.1" y="266.0" font-family="'Liberation Sans', sans-serif" font-size="4.3" font-weight="bold" fill="#2a2a2a" text-anchor="end" stroke="#2a2a2a" stroke-width="0.15">5</text>
<line x1="282.70" y1="255.61" x2="284.50" y2="255.61" stroke="#333" stroke-width="0.7" />
<text x="279.5" y="257.8" font-family="'Liberation Sans', sans-serif" font-size="4.8" font-weight="bold" fill="#2a2a2a" text-anchor="end" stroke="#2a2a2a" stroke-width="0.15">10</text>
<text x="282.1" y="254.5" font-family="'Liberation Sans', sans-serif" font-size="4.3" font-weight="bold" fill="#2a2a2a" text-anchor="end" stroke="#2a2a2a" stroke-width="0.15">6</text>
<line x1="282.70" y1="243.97" x2="284.50" y2="243.97" stroke="#333" stroke-width="0.7" />
<text x="279.5" y="246.2" font-family="'Liberation Sans', sans-serif" font-size="4.8" font-weight="bold" fill="#2a2a2a" text-anchor="end" stroke="#2a2a2a" stroke-width="0.15">10</text>
<text x="282.1" y="242.9" font-family="'Liberation Sans', sans-serif" font-size="4.3" font-weight="bold" fill="#2a2a2a" text-anchor="end" stroke="#2a2a2a" stroke-width="0.15">7</text>
<line x1="283.60" y1="238.00" x2="284.50" y2="238.00" stroke="#555" stroke-width="0.35" />
<line x1="283.60" y1="240.10" x2="284.50" y2="240.10" stroke="#555" stroke-width="0.35" />
<line x1="283.60" y1="242.21" x2="284.50" y2="242.21" stroke="#555" stroke-width="0.35" />
<line x1="283.60" y1="244.31" x2="284.50" y2="244.31" stroke="#555" stroke-width="0.35" />
<line x1="283.60" y1="246.42" x2="284.50" y2="246.42" stroke="#555" stroke-width="0.35" />
<line x1="283.60" y1="248.53" x2="284.50" y2="248.53" stroke="#555" stroke-width="0.35" />
<line x1="283.60" y1="250.63" x2="284.50" y2="250.63" stroke="#555" stroke-width="0.35" />
<line x1="283.60" y1="252.73" x2="284.50" y2="252.73" stroke="#555" stroke-width="0.35" />
<line x1="283.60" y1="254.84" x2="284.50" y2="254.84" stroke="#555" stroke-width="0.35" />
<line x1="283.60" y1="256.94" x2="284.50" y2="256.94" stroke="#555" stroke-width="0.35" />
<line x1="283.60" y1="259.05" x2="284.50" y2="259.05" stroke="#555" stroke-width="0.35" />
<line x1="283.60" y1="261.15" x2="284.50" y2="261.15" stroke="#555" stroke-width="0.35" />
<line x1="283.60" y1="263.26" x2="284.50" y2="263.26" stroke="#555" stroke-width="0.35" />
<line x1="283.60" y1="265.37" x2="284.50" y2="265.37" stroke="#555" stroke-width="0.35" />
<line x1="283.60" y1="267.47" x2="284.50" y2="267.47" stroke="#555" stroke-width="0.35" />
<line x1="283.60" y1="269.57" x2="284.50" y2="269.57" stroke="#555" stroke-width="0.35" />
<line x1="283.60" y1="271.68" x2="284.50" y2="271.68" stroke="#555" stroke-width="0.35" />
<line x1="283.60" y1="273.78" x2="284.50" y2="273.78" stroke="#555" stroke-width="0.35" />
<line x1="283.60" y1="275.89" x2="284.50" y2="275.89" stroke="#555" stroke-width="0.35" />
<line x1="283.60" y1="278.00" x2="284.50" y2="278.00" stroke="#555" stroke-width="0.35" />
<line x1="283.60" y1="280.10" x2="284.50" y2="280.10" stroke="#555" stroke-width="0.35" />
<line x1="283.60" y1="282.20" x2="284.50" y2="282.20" stroke="#555" stroke-width="0.35" />
<line x1="283.60" y1="284.31" x2="284.50" y2="284.31" stroke="#555" stroke-width="0.35" />
<line x1="283.60" y1="286.41" x2="284.50" y2="286.41" stroke="#555" stroke-width="0.35" />
<line x1="283.60" y1="288.52" x2="284.50" y2="288.52" stroke="#555" stroke-width="0.35" />
<line x1="283.60" y1="290.62" x2="284.50" y2="290.62" stroke="#555" stroke-width="0.35" />
<line x1="283.60" y1="292.73" x2="284.50" y2="292.73" stroke="#555" stroke-width="0.35" />
<line x1="283.60" y1="294.83" x2="284.50" y2="294.83" stroke="#555" stroke-width="0.35" />
<line x1="283.60" y1="296.94" x2="284.50" y2="296.94" stroke="#555" stroke-width="0.35" />
<line x1="283.60" y1="299.05" x2="284.50" y2="299.05" stroke="#555" stroke-width="0.35" />
<line x1="283.60" y1="301.15" x2="284.50" y2="301.15" stroke="#555" stroke-width="0.35" />
<line x1="283.60" y1="303.25" x2="284.50" y2="303.25" stroke="#555" stroke-width="0.35" />
<line x1="283.60" y1="305.36" x2="284.50" y2="305.36" stroke="#555" stroke-width="0.35" />
<line x1="283.60" y1="307.46" x2="284.50" y2="307.46" stroke="#555" stroke-width="0.35" />
<line x1="283.60" y1="309.57" x2="284.50" y2="309.57" stroke="#555" stroke-width="0.35" />
<line x1="283.60" y1="311.67" x2="284.50" y2="311.67" stroke="#555" stroke-width="0.35" />
<line x1="283.60" y1="313.78" x2="284.50" y2="313.78" stroke="#555" stroke-width="0.35" />
<line x1="283.60" y1="315.88" x2="284.50" y2="315.88" stroke="#555" stroke-width="0.35" />
<line x1="283.60" y1="317.99" x2="284.50" y2="317.99" stroke="#555" stroke-width="0.35" />
<line x1="283.60" y1="320.10" x2="284.50" y2="320.10" stroke="#555" stroke-width="0.35" />
<line x1="291.86" y1="324.20" x2="291.86" y2="326.40" stroke="#333" stroke-width="0.7" />
<text x="289.4" y="333.5" font-family="'Liberation Sans', sans-serif" font-size="4.8" font-weight="bold" fill="#2a2a2a" text-anchor="middle" stroke="#2a2a2a" stroke-width="0.15">10</text>
<text x="293.6" y="330.2" font-family="'Liberation Sans', sans-serif" font-size="4.3" font-weight="bold" fill="#2a2a2a" text-anchor="middle" stroke="#2a2a2a" stroke-width="0.15">1</text>
<line x1="301.92" y1="324.20" x2="301.92" y2="326.40" stroke="#333" stroke-width="0.7" />
<text x="299.4" y="333.5" font-family="'Liberation Sans', sans-serif" font-size="4.8" font-weight="bold" fill="#2a2a2a" text-anchor="middle" stroke="#2a2a2a" stroke-width="0.15">10</text>
<text x="303.6" y="330.2" font-family="'Liberation Sans', sans-serif" font-size="4.3" font-weight="bold" fill="#2a2a2a" text-anchor="middle" stroke="#2a2a2a" stroke-width="0.15">2</text>
<line x1="314.64" y1="324.20" x2="314.64" y2="326.40" stroke="#333" stroke-width="0.7" />
<text x="312.1" y="333.5" font-family="'Liberation Sans', sans-serif" font-size="4.8" font-weight="bold" fill="#2a2a2a" text-anchor="middle" stroke="#2a2a2a" stroke-width="0.15">10</text>
<text x="316.3" y="330.2" font-family="'Liberation Sans', sans-serif" font-size="4.3" font-weight="bold" fill="#2a2a2a" text-anchor="middle" stroke="#2a2a2a" stroke-width="0.15">3</text>
<line x1="327.97" y1="324.20" x2="327.97" y2="326.40" stroke="#333" stroke-width="0.7" />
<text x="325.5" y="333.5" font-family="'Liberation Sans', sans-serif" font-size="4.8" font-weight="bold" fill="#2a2a2a" text-anchor="middle" stroke="#2a2a2a" stroke-width="0.15">10</text>
<text x="329.7" y="330.2" font-family="'Liberation Sans', sans-serif" font-size="4.3" font-weight="bold" fill="#2a2a2a" text-anchor="middle" stroke="#2a2a2a" stroke-width="0.15">4</text>
<line x1="341.30" y1="324.20" x2="341.30" y2="326.40" stroke="#333" stroke-width="0.7" />
<text x="338.8" y="333.5" font-family="'Liberation Sans', sans-serif" font-size="4.8" font-weight="bold" fill="#2a2a2a" text-anchor="middle" stroke="#2a2a2a" stroke-width="0.15">10</text>
<text x="343.0" y="330.2" font-family="'Liberation Sans', sans-serif" font-size="4.3" font-weight="bold" fill="#2a2a2a" text-anchor="middle" stroke="#2a2a2a" stroke-width="0.15">5</text>
<line x1="354.64" y1="324.20" x2="354.64" y2="326.40" stroke="#333" stroke-width="0.7" />
<text x="352.1" y="333.5" font-family="'Liberation Sans', sans-serif" font-size="4.8" font-weight="bold" fill="#2a2a2a" text-anchor="middle" stroke="#2a2a2a" stroke-width="0.15">10</text>
<text x="356.3" y="330.2" font-family="'Liberation Sans', sans-serif" font-size="4.3" font-weight="bold" fill="#2a2a2a" text-anchor="middle" stroke="#2a2a2a" stroke-width="0.15">6</text>
<line x1="367.26" y1="324.20" x2="367.26" y2="326.40" stroke="#333" stroke-width="0.7" />
<text x="364.8" y="333.5" font-family="'Liberation Sans', sans-serif" font-size="4.8" font-weight="bold" fill="#2a2a2a" text-anchor="middle" stroke="#2a2a2a" stroke-width="0.15">10</text>
<text x="369.0" y="330.2" font-family="'Liberation Sans', sans-serif" font-size="4.3" font-weight="bold" fill="#2a2a2a" text-anchor="middle" stroke="#2a2a2a" stroke-width="0.15">7</text>
<line x1="285.50" y1="324.20" x2="285.50" y2="325.40" stroke="#555" stroke-width="0.35" />
<line x1="287.66" y1="324.20" x2="287.66" y2="325.40" stroke="#555" stroke-width="0.35" />
<line x1="289.81" y1="324.20" x2="289.81" y2="325.40" stroke="#555" stroke-width="0.35" />
<line x1="291.97" y1="324.20" x2="291.97" y2="325.40" stroke="#555" stroke-width="0.35" />
<line x1="294.13" y1="324.20" x2="294.13" y2="325.40" stroke="#555" stroke-width="0.35" />
<line x1="296.29" y1="324.20" x2="296.29" y2="325.40" stroke="#555" stroke-width="0.35" />
<line x1="298.44" y1="324.20" x2="298.44" y2="325.40" stroke="#555" stroke-width="0.35" />
<line x1="300.60" y1="324.20" x2="300.60" y2="325.40" stroke="#555" stroke-width="0.35" />
<line x1="302.76" y1="324.20" x2="302.76" y2="325.40" stroke="#555" stroke-width="0.35" />
<line x1="304.92" y1="324.20" x2="304.92" y2="325.40" stroke="#555" stroke-width="0.35" />
<line x1="307.07" y1="324.20" x2="307.07" y2="325.40" stroke="#555" stroke-width="0.35" />
<line x1="309.23" y1="324.20" x2="309.23" y2="325.40" stroke="#555" stroke-width="0.35" />
<line x1="311.39" y1="324.20" x2="311.39" y2="325.40" stroke="#555" stroke-width="0.35" />
<line x1="313.55" y1="324.20" x2="313.55" y2="325.40" stroke="#555" stroke-width="0.35" />
<line x1="315.70" y1="324.20" x2="315.70" y2="325.40" stroke="#555" stroke-width="0.35" />
<line x1="317.86" y1="324.20" x2="317.86" y2="325.40" stroke="#555" stroke-width="0.35" />
<line x1="320.02" y1="324.20" x2="320.02" y2="325.40" stroke="#555" stroke-width="0.35" />
<line x1="322.18" y1="324.20" x2="322.18" y2="325.40" stroke="#555" stroke-width="0.35" />
<line x1="324.33" y1="324.20" x2="324.33" y2="325.40" stroke="#555" stroke-width="0.35" />
<line x1="326.49" y1="324.20" x2="326.49" y2="325.40" stroke="#555" stroke-width="0.35" />
<line x1="328.65" y1="324.20" x2="328.65" y2="325.40" stroke="#555" stroke-width="0.35" />
<line x1="330.81" y1="324.20" x2="330.81" y2="325.40" stroke="#555" stroke-width="0.35" />
<line x1="332.97" y1="324.20" x2="332.97" y2="325.40" stroke="#555" stroke-width="0.35" />
<line x1="335.12" y1="324.20" x2="335.12" y2="325.40" stroke="#555" stroke-width="0.35" />
<line x1="337.28" y1="324.20" x2="337.28" y2="325.40" stroke="#555" stroke-width="0.35" />
<line x1="339.44" y1="324.20" x2="339.44" y2="325.40" stroke="#555" stroke-width="0.35" />
<line x1="341.60" y1="324.20" x2="341.60" y2="325.40" stroke="#555" stroke-width="0.35" />
<line x1="343.75" y1="324.20" x2="343.75" y2="325.40" stroke="#555" stroke-width="0.35" />
<line x1="345.91" y1="324.20" x2="345.91" y2="325.40" stroke="#555" stroke-width="0.35" />
<line x1="348.07" y1="324.20" x2="348.07" y2="325.40" stroke="#555" stroke-width="0.35" />
<line x1="350.23" y1="324.20" x2="350.23" y2="325.40" stroke="#555" stroke-width="0.35" />
<line x1="352.38" y1="324.20" x2="352.38" y2="325.40" stroke="#555" stroke-width="0.35" />
<line x1="354.54" y1="324.20" x2="354.54" y2="325.40" stroke="#555" stroke-width="0.35" />
<line x1="356.70" y1="324.20" x2="356.70" y2="325.40" stroke="#555" stroke-width="0.35" />
<line x1="358.86" y1="324.20" x2="358.86" y2="325.40" stroke="#555" stroke-width="0.35" />
<line x1="361.01" y1="324.20" x2="361.01" y2="325.40" stroke="#555" stroke-width="0.35" />
<line x1="363.17" y1="324.20" x2="363.17" y2="325.40" stroke="#555" stroke-width="0.35" />
<line x1="365.33" y1="324.20" x2="365.33" y2="325.40" stroke="#555" stroke-width="0.35" />
<line x1="367.49" y1="324.20" x2="367.49" y2="325.40" stroke="#555" stroke-width="0.35" />
<line x1="369.64" y1="324.20" x2="369.64" y2="325.40" stroke="#555" stroke-width="0.35" />
</g>
<line x1="25.8" y1="343.5" x2="25.8" y2="286.2" stroke="#333" stroke-width="1.3"/>
<path d="M25.8 265.7 Q25.2 283.325 22.400000000000002 289.2 L25.8 286.2 L29.2 289.2 Q26.400000000000002 283.325 25.8 265.7 Z" fill="#111"/>
<line x1="25.150000000000002" y1="343.5" x2="83.7" y2="343.5" stroke="#333" stroke-width="1.3"/>
<path d="M104.2 343.5 Q86.575 342.9 80.7 340.1 L83.7 343.5 L80.7 346.9 Q86.575 344.1 104.2 343.5 Z" fill="#111"/>
<text x="5.5" y="316.5" font-family="'Liberation Serif', serif" font-size="12.5" font-weight="bold" fill="#111" text-anchor="start" stroke="#111" stroke-width="0.3">PI</text>
<text x="36.3" y="358.5" font-family="'Liberation Serif', serif" font-size="12" font-weight="bold" fill="#111" text-anchor="start" stroke="#111" stroke-width="0.3">Annexin V</text>
<defs><pattern id="hatch" patternUnits="userSpaceOnUse" width="2" height="2"><rect width="2" height="2" fill="#e8e8f4"/><path d="M0 2L2 0" stroke="#a0a0c0" stroke-width="0.4"/></pattern><pattern id="hatch2" patternUnits="userSpaceOnUse" width="2" height="2"><rect width="2" height="2" fill="#f4f4f8"/><path d="M0 2L2 0" stroke="#909090" stroke-width="0.4"/></pattern></defs>
<text x="397.5" y="15.2" font-family="'Liberation Serif', serif" font-size="19" font-weight="bold" fill="#111" text-anchor="start" stroke="#111" stroke-width="0.4">E</text>
<text x="596.0" y="10.0" font-family="'Liberation Serif', serif" font-size="12" font-weight="bold" fill="#111" text-anchor="middle" stroke="#111" stroke-width="0.3">HMVII</text>
<line x1="418.00" y1="20.20" x2="756.00" y2="20.20" stroke="#3a3a3a" stroke-width="1.4" />
<text x="470.0" y="38.2" font-family="'Liberation Serif', serif" font-size="12" font-weight="bold" fill="#111" text-anchor="middle" stroke="#111" stroke-width="0.3">Control</text>
<text x="593.0" y="38.2" font-family="'Liberation Serif', serif" font-size="12" font-weight="bold" fill="#111" text-anchor="middle" stroke="#111" stroke-width="0.3">miR-let-7b</text>
<text x="710.0" y="38.2" font-family="'Liberation Serif', serif" font-size="12" font-weight="bold" fill="#111" text-anchor="middle" stroke="#111" stroke-width="0.3">miR-let-7c</text>
<polygon points="462.55,138.60 462.55,138.53 462.80,138.50 463.05,138.45 463.30,138.39 463.55,138.30 463.80,138.19 464.05,138.06 464.30,137.89 464.55,137.68 464.80,137.45 465.05,137.18 465.30,136.89 465.55,136.58 465.80,136.25 466.05,135.92 466.30,135.59 466.55,135.27 466.80,134.98 467.05,134.70 467.30,134.46 467.55,134.25 467.80,134.08 468.05,133.93 468.30,133.82 468.55,133.73 468.80,133.66 469.05,133.61 469.30,133.57 469.55,133.55 469.80,133.53 470.05,133.52 470.30,133.51 470.55,133.51 470.80,133.50 471.05,133.50 471.30,133.50 471.55,133.50 471.80,133.50 472.05,133.50 472.30,133.50 472.55,133.50 472.80,133.50 473.05,133.50 473.30,133.50 473.55,133.50 473.80,133.50 474.05,133.50 474.30,133.50 474.55,133.50 474.80,133.50 475.05,133.50 475.30,133.50 475.55,133.50 475.80,133.50 476.05,133.50 476.30,133.50 476.55,133.50 476.80,133.50 477.05,133.50 477.30,133.50 477.55,133.50 477.80,133.50 478.05,133.50 478.30,133.50 478.55,133.50 478.80,133.50 479.05,133.50 479.30,133.50 479.55,133.50 479.80,133.50 480.05,133.50 480.30,133.50 480.55,133.50 480.80,133.50 481.05,133.50 481.30,133.50 481.55,133.50 481.80,133.50 482.05,133.50 482.30,133.50 482.55,133.50 482.80,133.50 483.05,133.50 483.30,133.50 483.55,133.50 483.80,133.50 484.05,133.50 484.30,133.50 484.55,133.50 484.80,133.50 485.05,133.50 485.30,133.51 485.55,133.51 485.80,133.51 486.05,133.51 486.30,133.51 486.55,133.52 486.80,133.52 487.05,133.52 487.30,133.53 487.55,133.53 487.80,133.54 488.05,133.55 488.30,133.55 488.55,133.56 488.80,133.57 489.05,133.59 489.30,133.60 489.55,133.62 489.80,133.64 490.05,133.66 490.30,133.68 490.55,133.71 490.80,133.74 491.05,133.77 491.30,133.81 491.55,133.85 491.80,133.89 492.05,133.94 492.30,133.99 492.55,134.05 492.80,134.11 493.05,134.17 493.30,134.25 493.55,134.32 493.80,134.40 494.05,134.49 494.30,134.58 494.55,134.67 494.80,134.77 495.05,134.87 495.30,134.98 495.55,135.09 495.80,135.21 496.05,135.33 496.30,135.45 496.55,135.57 496.80,135.69 497.05,135.82 497.30,135.95 497.55,136.08 497.80,136.20 498.05,136.33 498.30,136.46 498.55,136.58 498.80,136.70 499.05,136.82 499.30,136.94 499.55,137.05 499.80,137.16 500.05,137.27 500.30,137.37 500.55,137.47 500.80,137.56 501.05,137.65 501.30,137.73 501.55,137.81 501.80,137.88 502.05,137.95 502.30,138.02 502.55,138.08 502.80,138.13 503.05,138.18 503.30,138.23 503.55,138.27 503.80,138.31 504.05,138.34 504.30,138.38 504.55,138.40 504.80,138.43 505.05,138.45 505.30,138.47 505.55,138.49 505.80,138.50 506.05,138.52 506.30,138.53 506.55,138.54 506.80,138.55 506.80,138.60" fill="url(#hatch)" stroke="none" stroke-width="0"/>
<polyline points="434.80,138.56 435.05,138.55 435.30,138.55 435.55,138.55 435.80,138.55 436.05,138.55 436.30,138.54 436.55,138.54 436.80,138.54 437.05,138.54 437.30,138.54 437.55,138.53 437.80,138.53 438.05,138.53 438.30,138.52 438.55,138.52 438.80,138.52 439.05,138.52 439.30,138.51 439.55,138.51 439.80,138.51 440.05,138.50 440.30,138.50 440.55,138.50 440.80,138.49 441.05,138.49 441.30,138.49 441.55,138.48 441.80,138.48 442.05,138.48 442.30,138.47 442.55,138.47 442.80,138.46 443.05,138.46 443.30,138.46 443.55,138.45 443.80,138.45 444.05,138.44 444.30,138.44 444.55,138.43 444.80,138.43 445.05,138.42 445.30,138.42 445.55,138.41 445.80,138.41 446.05,138.41 446.30,138.40 446.55,138.40 446.80,138.39 447.05,138.38 447.30,138.38 447.55,138.37 447.80,138.37 448.05,138.36 448.30,138.36 448.55,138.35 448.80,138.35 449.05,138.34 449.30,138.34 449.55,138.33 449.80,138.33 450.05,138.32 450.30,138.31 450.55,138.31 450.80,138.30 451.05,138.30 451.30,138.29 451.55,138.29 451.80,138.28 452.05,138.28 452.30,138.27 452.55,138.26 452.80,138.26 453.05,138.25 453.30,138.25 453.55,138.24 453.80,138.24 454.05,138.23 454.30,138.22 454.55,138.22 454.80,138.21 455.05,138.20 455.30,138.19 455.55,138.18 455.80,138.17 456.05,138.15 456.30,138.13 456.55,138.10 456.80,138.06 457.05,138.01 457.30,137.94 457.55,137.84 457.80,137.71 458.05,137.54 458.30,137.31 458.55,137.01 458.80,136.62 459.05,136.12 459.30,135.48 459.55,134.67 459.80,133.67 460.05,132.43 460.30,130.93 460.55,129.11 460.80,126.96 461.05,124.43 461.30,121.51 461.55,118.17 461.80,114.43 462.05,110.29 462.30,105.80 462.55,101.02 462.80,96.03 463.05,90.96 463.30,85.95 463.55,81.16 463.80,76.80 464.05,73.08 464.30,70.25 464.55,68.67 464.80,69.59 465.05,71.52 465.30,74.47 465.55,78.17 465.80,82.39 466.05,86.93 466.30,91.61 466.55,96.29 466.80,100.84 467.05,105.16 467.30,109.19 467.55,112.88 467.80,116.19 468.05,119.13 468.30,121.69 468.55,123.90 468.80,125.78 469.05,127.35 469.30,128.65 469.55,129.71 469.80,130.57 470.05,131.26 470.30,131.80 470.55,132.22 470.80,132.55 471.05,132.80 471.30,132.99 471.55,133.13 471.80,133.24 472.05,133.31 472.30,133.37 472.55,133.41 472.80,133.44 473.05,133.46 473.30,133.47 473.55,133.48 473.80,133.49 474.05,133.49 474.30,133.49 474.55,133.50 474.80,133.50 475.05,133.50 475.30,133.50 475.55,133.50 475.80,133.50 476.05,133.50 476.30,133.50 476.55,133.50 476.80,133.50 477.05,133.50 477.30,133.50 477.55,133.50 477.80,133.50 478.05,133.50 478.30,133.50 478.55,133.50 478.80,133.50 479.05,133.50 479.30,133.50 479.55,133.50 479.80,133.50 480.05,133.50 480.30,133.50 480.55,133.50 480.80,133.50 481.05,133.50 481.30,133.50 481.55,133.50 481.80,133.50 482.05,133.50 482.30,133.50 482.55,133.49 482.80,133.49 483.05,133.49 483.30,133.49 483.55,133.48 483.80,133.48 484.05,133.48 484.30,133.47 484.55,133.47 484.80,133.46 485.05,133.45 485.30,133.44 485.55,133.43 485.80,133.41 486.05,133.39 486.30,133.37 486.55,133.35 486.80,133.32 487.05,133.29 487.30,133.25 487.55,133.21 487.80,133.16 488.05,133.11 488.30,133.05 488.55,132.98 488.80,132.91 489.05,132.82 489.30,132.73 489.55,132.63 489.80,132.52 490.05,132.40 490.30,132.28 490.55,132.14 490.80,131.99 491.05,131.83 491.30,131.67 491.55,131.50 491.80,131.32 492.05,131.13 492.30,130.94 492.55,130.75 492.80,130.55 493.05,130.35 493.30,130.15 493.55,129.96 493.80,129.77 494.05,129.59 494.30,129.42 494.55,129.26 494.80,129.12 495.05,128.99 495.30,128.88 495.55,128.79 495.80,128.72 496.05,128.68 496.30,128.66 496.55,128.67 496.80,128.70 497.05,128.77 497.30,128.86 497.55,128.98 497.80,129.12 498.05,129.30 498.30,129.50 498.55,129.72 498.80,129.97 499.05,130.23 499.30,130.52 499.55,130.83 499.80,131.14 500.05,131.47 500.30,131.81 500.55,132.16 500.80,132.51 501.05,132.86 501.30,133.21 501.55,133.56 501.80,133.90 502.05,134.23 502.30,134.56 502.55,134.88 502.80,135.18 503.05,135.47 503.30,135.75 503.55,136.01 503.80,136.25 504.05,136.49 504.30,136.70 504.55,136.90 504.80,137.09 505.05,137.26 505.30,137.41 505.55,137.55 505.80,137.68 506.05,137.80 506.30,137.90 506.55,137.99 506.80,138.07 507.05,138.15 507.30,138.21 507.55,138.27 507.80,138.32 508.05,138.36 508.30,138.40 508.55,138.43 508.80,138.46 509.05,138.48 509.30,138.50 509.55,138.52 509.80,138.53 510.05,138.54 510.30,138.55 510.55,138.56 510.80,138.57 511.05,138.58 511.30,138.58 511.55,138.58 511.80,138.59 512.05,138.59 512.30,138.59 512.55,138.59 512.80,138.59 513.05,138.60 513.30,138.60 513.55,138.60 513.80,138.60 514.05,138.60 514.30,138.60 514.55,138.60" fill="none" stroke="#555" stroke-width="0.8"/>
<polygon points="485.05,138.60 485.05,138.54 485.30,138.53 485.55,138.52 485.80,138.50 486.05,138.48 486.30,138.46 486.55,138.43 486.80,138.40 487.05,138.37 487.30,138.33 487.55,138.28 487.80,138.22 488.05,138.16 488.30,138.10 488.55,138.02 488.80,137.93 489.05,137.84 489.30,137.73 489.55,137.61 489.80,137.49 490.05,137.35 490.30,137.19 490.55,137.03 490.80,136.85 491.05,136.67 491.30,136.46 491.55,136.25 491.80,136.03 492.05,135.79 492.30,135.55 492.55,135.30 492.80,135.04 493.05,134.78 493.30,134.51 493.55,134.24 493.80,133.97 494.05,133.71 494.30,133.44 494.55,133.19 494.80,132.95 495.05,132.71 495.30,132.50 495.55,132.30 495.80,132.11 496.05,131.95 496.30,131.81 496.55,131.70 496.80,131.61 497.05,131.54 497.30,131.51 497.55,131.50 497.80,131.52 498.05,131.57 498.30,131.64 498.55,131.74 498.80,131.87 499.05,132.01 499.30,132.18 499.55,132.37 499.80,132.58 500.05,132.81 500.30,133.04 500.55,133.29 500.80,133.55 501.05,133.81 501.30,134.08 501.55,134.35 501.80,134.62 502.05,134.88 502.30,135.14 502.55,135.40 502.80,135.65 503.05,135.89 503.30,136.12 503.55,136.34 503.80,136.55 504.05,136.74 504.30,136.93 504.55,137.10 504.80,137.26 505.05,137.40 505.30,137.54 505.55,137.66 505.80,137.78 506.05,137.88 506.30,137.97 506.55,138.05 506.80,138.12 507.05,138.19 507.30,138.25 507.55,138.30 507.80,138.34 508.05,138.38 508.30,138.41 508.55,138.44 508.80,138.47 509.05,138.49 509.30,138.51 509.55,138.52 509.80,138.54 510.05,138.55 510.05,138.60" fill="#dc1a1a" stroke="none" stroke-width="0"/>
<polygon points="456.30,138.60 456.30,138.54 456.55,138.52 456.80,138.49 457.05,138.44 457.30,138.37 457.55,138.28 457.80,138.15 458.05,137.98 458.30,137.76 458.55,137.46 458.80,137.07 459.05,136.58 459.30,135.94 459.55,135.14 459.80,134.14 460.05,132.91 460.30,131.40 460.55,129.59 460.80,127.44 461.05,124.92 461.30,122.00 461.55,118.67 461.80,114.93 462.05,110.81 462.30,106.34 462.55,101.58 462.80,96.63 463.05,91.61 463.30,86.66 463.55,81.96 463.80,77.70 464.05,74.12 464.30,71.47 464.55,70.08 464.80,70.74 465.05,72.93 465.30,76.18 465.55,80.19 465.80,84.74 466.05,89.61 466.30,94.62 466.55,99.62 466.80,104.46 467.05,109.06 467.30,113.33 467.55,117.22 467.80,120.72 468.05,123.80 468.30,126.48 468.55,128.77 468.80,130.72 469.05,132.34 469.30,133.68 469.55,134.76 469.80,135.64 470.05,136.34 470.30,136.89 470.55,137.32 470.80,137.65 471.05,137.90 471.30,138.09 471.55,138.23 471.80,138.33 472.05,138.41 472.30,138.47 472.55,138.51 472.80,138.54 472.80,138.60" fill="#dc1a1a" stroke="none" stroke-width="0"/>
<polyline points="458.80,136.62 459.05,136.12 459.30,135.48 459.55,134.67 459.80,133.67 460.05,132.43 460.30,130.93 460.55,129.11 460.80,126.96 461.05,124.43 461.30,121.51 461.55,118.17 461.80,114.43 462.05,110.29 462.30,105.80 462.55,101.02 462.80,96.03 463.05,90.96 463.30,85.95 463.55,81.16 463.80,76.80 464.05,73.08 464.30,70.25 464.55,68.67 464.80,69.59 465.05,71.52 465.30,74.47 465.55,78.17 465.80,82.39 466.05,86.93 466.30,91.61 466.55,96.29 466.80,100.84 467.05,105.16 467.30,109.19 467.55,112.88 467.80,116.19 468.05,119.13 468.30,121.69 468.55,123.90 468.80,125.78 469.05,127.35 469.30,128.65 469.55,129.71 469.80,130.57 470.05,131.26 470.30,131.80" fill="none" stroke="#333" stroke-width="0.55"/>
<line x1="426.80" y1="62.60" x2="426.80" y2="138.60" stroke="#666" stroke-width="0.7" />
<line x1="426.80" y1="138.60" x2="514.70" y2="138.60" stroke="#666" stroke-width="0.7" />
<path d="M463.1 141.2 L464.6 138.4 L466.1 141.2 Z" fill="#111"/>
<path d="M496.0 141.2 L497.5 138.4 L499.0 141.2 Z" fill="#111"/>
<line x1="424.30" y1="138.60" x2="426.80" y2="138.60" stroke="#555" stroke-width="0.6" />
<text x="421.8" y="140.4" font-family="'Liberation Serif', serif" font-size="5.3" font-weight="bold" fill="#222" text-anchor="end" stroke="#222" stroke-width="0.15">0</text>
<line x1="424.30" y1="113.27" x2="426.80" y2="113.27" stroke="#555" stroke-width="0.6" />
<text x="421.8" y="115.1" font-family="'Liberation Serif', serif" font-size="5.3" font-weight="bold" fill="#222" text-anchor="end" stroke="#222" stroke-width="0.15">1000</text>
<line x1="424.30" y1="87.93" x2="426.80" y2="87.93" stroke="#555" stroke-width="0.6" />
<text x="421.8" y="89.7" font-family="'Liberation Serif', serif" font-size="5.3" font-weight="bold" fill="#222" text-anchor="end" stroke="#222" stroke-width="0.15">2000</text>
<line x1="424.30" y1="62.60" x2="426.80" y2="62.60" stroke="#555" stroke-width="0.6" />
<text x="421.8" y="64.4" font-family="'Liberation Serif', serif" font-size="5.3" font-weight="bold" fill="#222" text-anchor="end" stroke="#222" stroke-width="0.15">3000</text>
<line x1="425.60" y1="138.60" x2="426.80" y2="138.60" stroke="#666" stroke-width="0.35" />
<line x1="425.60" y1="136.07" x2="426.80" y2="136.07" stroke="#666" stroke-width="0.35" />
<line x1="425.60" y1="133.53" x2="426.80" y2="133.53" stroke="#666" stroke-width="0.35" />
<line x1="425.60" y1="131.00" x2="426.80" y2="131.00" stroke="#666" stroke-width="0.35" />
<line x1="425.60" y1="128.47" x2="426.80" y2="128.47" stroke="#666" stroke-width="0.35" />
<line x1="425.60" y1="125.93" x2="426.80" y2="125.93" stroke="#666" stroke-width="0.35" />
<line x1="425.60" y1="123.40" x2="426.80" y2="123.40" stroke="#666" stroke-width="0.35" />
<line x1="425.60" y1="120.87" x2="426.80" y2="120.87" stroke="#666" stroke-width="0.35" />
<line x1="425.60" y1="118.33" x2="426.80" y2="118.33" stroke="#666" stroke-width="0.35" />
<line x1="425.60" y1="115.80" x2="426.80" y2="115.80" stroke="#666" stroke-width="0.35" />
<line x1="425.60" y1="113.27" x2="426.80" y2="113.27" stroke="#666" stroke-width="0.35" />
<line x1="425.60" y1="110.73" x2="426.80" y2="110.73" stroke="#666" stroke-width="0.35" />
<line x1="425.60" y1="108.20" x2="426.80" y2="108.20" stroke="#666" stroke-width="0.35" />
<line x1="425.60" y1="105.67" x2="426.80" y2="105.67" stroke="#666" stroke-width="0.35" />
<line x1="425.60" y1="103.13" x2="426.80" y2="103.13" stroke="#666" stroke-width="0.35" />
<line x1="425.60" y1="100.60" x2="426.80" y2="100.60" stroke="#666" stroke-width="0.35" />
<line x1="425.60" y1="98.07" x2="426.80" y2="98.07" stroke="#666" stroke-width="0.35" />
<line x1="425.60" y1="95.53" x2="426.80" y2="95.53" stroke="#666" stroke-width="0.35" />
<line x1="425.60" y1="93.00" x2="426.80" y2="93.00" stroke="#666" stroke-width="0.35" />
<line x1="425.60" y1="90.47" x2="426.80" y2="90.47" stroke="#666" stroke-width="0.35" />
<line x1="425.60" y1="87.93" x2="426.80" y2="87.93" stroke="#666" stroke-width="0.35" />
<line x1="425.60" y1="85.40" x2="426.80" y2="85.40" stroke="#666" stroke-width="0.35" />
<line x1="425.60" y1="82.87" x2="426.80" y2="82.87" stroke="#666" stroke-width="0.35" />
<line x1="425.60" y1="80.33" x2="426.80" y2="80.33" stroke="#666" stroke-width="0.35" />
<line x1="425.60" y1="77.80" x2="426.80" y2="77.80" stroke="#666" stroke-width="0.35" />
<line x1="425.60" y1="75.27" x2="426.80" y2="75.27" stroke="#666" stroke-width="0.35" />
<line x1="425.60" y1="72.73" x2="426.80" y2="72.73" stroke="#666" stroke-width="0.35" />
<line x1="425.60" y1="70.20" x2="426.80" y2="70.20" stroke="#666" stroke-width="0.35" />
<line x1="425.60" y1="67.67" x2="426.80" y2="67.67" stroke="#666" stroke-width="0.35" />
<line x1="425.60" y1="65.13" x2="426.80" y2="65.13" stroke="#666" stroke-width="0.35" />
<line x1="425.60" y1="62.60" x2="426.80" y2="62.60" stroke="#666" stroke-width="0.35" />
<line x1="427.70" y1="138.60" x2="427.70" y2="140.80" stroke="#555" stroke-width="0.6" />
<text x="427.7" y="145.5" font-family="'Liberation Serif', serif" font-size="5.3" font-weight="bold" fill="#222" text-anchor="middle" stroke="#222" stroke-width="0.15">0</text>
<line x1="451.60" y1="138.60" x2="451.60" y2="140.80" stroke="#555" stroke-width="0.6" />
<text x="451.6" y="145.5" font-family="'Liberation Serif', serif" font-size="5.3" font-weight="bold" fill="#222" text-anchor="middle" stroke="#222" stroke-width="0.15">20</text>
<line x1="477.40" y1="138.60" x2="477.40" y2="140.80" stroke="#555" stroke-width="0.6" />
<text x="477.4" y="145.5" font-family="'Liberation Serif', serif" font-size="5.3" font-weight="bold" fill="#222" text-anchor="middle" stroke="#222" stroke-width="0.15">40</text>
<line x1="502.30" y1="138.60" x2="502.30" y2="140.80" stroke="#555" stroke-width="0.6" />
<text x="502.3" y="145.5" font-family="'Liberation Serif', serif" font-size="5.3" font-weight="bold" fill="#222" text-anchor="middle" stroke="#222" stroke-width="0.15">60</text>
<line x1="426.80" y1="138.60" x2="426.80" y2="139.90" stroke="#666" stroke-width="0.4" />
<line x1="431.58" y1="138.60" x2="431.58" y2="139.90" stroke="#666" stroke-width="0.4" />
<line x1="436.36" y1="138.60" x2="436.36" y2="139.90" stroke="#666" stroke-width="0.4" />
<line x1="441.14" y1="138.60" x2="441.14" y2="139.90" stroke="#666" stroke-width="0.4" />
<line x1="445.92" y1="138.60" x2="445.92" y2="139.90" stroke="#666" stroke-width="0.4" />
<line x1="450.70" y1="138.60" x2="450.70" y2="139.90" stroke="#666" stroke-width="0.4" />
<line x1="455.48" y1="138.60" x2="455.48" y2="139.90" stroke="#666" stroke-width="0.4" />
<line x1="460.26" y1="138.60" x2="460.26" y2="139.90" stroke="#666" stroke-width="0.4" />
<line x1="465.04" y1="138.60" x2="465.04" y2="139.90" stroke="#666" stroke-width="0.4" />
<line x1="469.82" y1="138.60" x2="469.82" y2="139.90" stroke="#666" stroke-width="0.4" />
<line x1="474.60" y1="138.60" x2="474.60" y2="139.90" stroke="#666" stroke-width="0.4" />
<line x1="479.38" y1="138.60" x2="479.38" y2="139.90" stroke="#666" stroke-width="0.4" />
<line x1="484.16" y1="138.60" x2="484.16" y2="139.90" stroke="#666" stroke-width="0.4" />
<line x1="488.94" y1="138.60" x2="488.94" y2="139.90" stroke="#666" stroke-width="0.4" />
<line x1="493.72" y1="138.60" x2="493.72" y2="139.90" stroke="#666" stroke-width="0.4" />
<line x1="498.50" y1="138.60" x2="498.50" y2="139.90" stroke="#666" stroke-width="0.4" />
<line x1="503.28" y1="138.60" x2="503.28" y2="139.90" stroke="#666" stroke-width="0.4" />
<line x1="508.06" y1="138.60" x2="508.06" y2="139.90" stroke="#666" stroke-width="0.4" />
<line x1="512.84" y1="138.60" x2="512.84" y2="139.90" stroke="#666" stroke-width="0.4" />
<text x="466.0" y="149.8" font-family="'Liberation Serif', serif" font-size="5.3" font-weight="bold" fill="#222" text-anchor="middle" stroke="#222" stroke-width="0.15">FLA-2</text>
<text x="410.0" y="99.1" font-family="'Liberation Serif', serif" font-size="6" font-weight="bold" fill="#222" text-anchor="middle" stroke="#222" stroke-width="0.15" transform="rotate(-90 410.0 99.1)">Number</text>
<text x="470.7" y="67.7" font-family="'Liberation Sans', sans-serif" font-size="4.5" font-weight="normal" fill="#4040c0" text-anchor="start" stroke="#4040c0" stroke-width="0.05">Diploid: 100.00 %</text>
<text x="474.7" y="73.2" font-family="'Liberation Sans', sans-serif" font-size="4.5" font-weight="normal" fill="#4040c0" text-anchor="start" stroke="#4040c0" stroke-width="0.05">Dip G1: 62.20 % at 29.62</text>
<text x="474.7" y="78.7" font-family="'Liberation Sans', sans-serif" font-size="4.5" font-weight="normal" fill="#4040c0" text-anchor="start" stroke="#4040c0" stroke-width="0.05">Dip G2: 11.19 % at 56.96</text>
<text x="474.7" y="84.2" font-family="'Liberation Sans', sans-serif" font-size="4.5" font-weight="normal" fill="#4040c0" text-anchor="start" stroke="#4040c0" stroke-width="0.05">Dip S: 26.61 %</text>
<text x="508.5" y="84.2" font-family="'Liberation Sans', sans-serif" font-size="4.5" font-weight="normal" fill="#4040c0" text-anchor="start" stroke="#4040c0" stroke-width="0.05">G2/G1: 1.92</text>
<text x="474.7" y="89.7" font-family="'Liberation Sans', sans-serif" font-size="4.5" font-weight="normal" fill="#4040c0" text-anchor="start" stroke="#4040c0" stroke-width="0.05">%CV: 5.24</text>
<rect x="475.5" y="93.2" width="4.6" height="4.3" fill="#c8f0c8" stroke="#555" stroke-width="0.5"/>
<text x="482.0" y="97.0" font-family="'Liberation Sans', sans-serif" font-size="4.4" font-weight="normal" fill="#4040c0" text-anchor="start" stroke="#4040c0" stroke-width="0.05">Aggregates</text>
<rect x="475.5" y="98.4" width="4.6" height="4.3" fill="#d81818" stroke="#555" stroke-width="0.5"/>
<text x="482.0" y="102.2" font-family="'Liberation Sans', sans-serif" font-size="4.4" font-weight="normal" fill="#4040c0" text-anchor="start" stroke="#4040c0" stroke-width="0.05">Dip G1</text>
<rect x="475.5" y="103.6" width="4.6" height="4.3" fill="#d81818" stroke="#555" stroke-width="0.5"/>
<text x="482.0" y="107.4" font-family="'Liberation Sans', sans-serif" font-size="4.4" font-weight="normal" fill="#4040c0" text-anchor="start" stroke="#4040c0" stroke-width="0.05">Dip G2</text>
<rect x="475.5" y="108.8" width="4.6" height="4.3" fill="url(#hatch2)" stroke="#555" stroke-width="0.5"/>
<text x="482.0" y="112.6" font-family="'Liberation Sans', sans-serif" font-size="4.4" font-weight="normal" fill="#4040c0" text-anchor="start" stroke="#4040c0" stroke-width="0.05">Dip S</text>
<polygon points="579.70,137.60 579.70,137.55 579.95,137.52 580.20,137.48 580.45,137.42 580.70,137.34 580.95,137.23 581.20,137.10 581.45,136.94 581.70,136.75 581.95,136.52 582.20,136.27 582.45,136.00 582.70,135.72 582.95,135.43 583.20,135.14 583.45,134.87 583.70,134.62 583.95,134.39 584.20,134.19 584.45,134.02 584.70,133.89 584.95,133.78 585.20,133.69 585.45,133.63 585.70,133.59 585.95,133.56 586.20,133.54 586.45,133.52 586.70,133.51 586.95,133.51 587.20,133.50 587.45,133.50 587.70,133.50 587.95,133.50 588.20,133.50 588.45,133.50 588.70,133.50 588.95,133.50 589.20,133.50 589.45,133.50 589.70,133.50 589.95,133.50 590.20,133.50 590.45,133.50 590.70,133.50 590.95,133.50 591.20,133.50 591.45,133.50 591.70,133.50 591.95,133.50 592.20,133.50 592.45,133.50 592.70,133.50 592.95,133.50 593.20,133.50 593.45,133.50 593.70,133.50 593.95,133.50 594.20,133.50 594.45,133.50 594.70,133.50 594.95,133.50 595.20,133.50 595.45,133.50 595.70,133.50 595.95,133.50 596.20,133.50 596.45,133.50 596.70,133.50 596.95,133.50 597.20,133.50 597.45,133.50 597.70,133.50 597.95,133.50 598.20,133.50 598.45,133.50 598.70,133.50 598.95,133.50 599.20,133.50 599.45,133.51 599.70,133.51 599.95,133.51 600.20,133.51 600.45,133.51 600.70,133.51 600.95,133.52 601.20,133.52 601.45,133.53 601.70,133.53 601.95,133.54 602.20,133.54 602.45,133.55 602.70,133.56 602.95,133.57 603.20,133.58 603.45,133.59 603.70,133.61 603.95,133.63 604.20,133.65 604.45,133.67 604.70,133.69 604.95,133.72 605.20,133.75 605.45,133.78 605.70,133.81 605.95,133.85 606.20,133.89 606.45,133.94 606.70,133.99 606.95,134.04 607.20,134.10 607.45,134.16 607.70,134.22 607.95,134.29 608.20,134.37 608.45,134.44 608.70,134.52 608.95,134.60 609.20,134.69 609.45,134.78 609.70,134.87 609.95,134.97 610.20,135.07 610.45,135.16 610.70,135.26 610.95,135.37 611.20,135.47 611.45,135.57 611.70,135.67 611.95,135.77 612.20,135.88 612.45,135.98 612.70,136.07 612.95,136.17 613.20,136.26 613.45,136.36 613.70,136.44 613.95,136.53 614.20,136.61 614.45,136.69 614.70,136.76 614.95,136.83 615.20,136.90 615.45,136.96 615.70,137.02 615.95,137.08 616.20,137.13 616.45,137.18 616.70,137.22 616.95,137.26 617.20,137.30 617.45,137.34 617.70,137.37 617.95,137.39 618.20,137.42 618.45,137.44 618.70,137.46 618.95,137.48 619.20,137.50 619.45,137.51 619.70,137.52 619.95,137.53 620.20,137.54 620.20,137.60" fill="url(#hatch)" stroke="none" stroke-width="0"/>
<polyline points="555.70,137.54 555.95,137.54 556.20,137.54 556.45,137.53 556.70,137.53 556.95,137.53 557.20,137.53 557.45,137.52 557.70,137.52 557.95,137.52 558.20,137.51 558.45,137.51 558.70,137.51 558.95,137.50 559.20,137.50 559.45,137.50 559.70,137.49 559.95,137.49 560.20,137.49 560.45,137.48 560.70,137.48 560.95,137.47 561.20,137.47 561.45,137.46 561.70,137.46 561.95,137.46 562.20,137.45 562.45,137.45 562.70,137.44 562.95,137.44 563.20,137.43 563.45,137.43 563.70,137.42 563.95,137.42 564.20,137.41 564.45,137.41 564.70,137.40 564.95,137.40 565.20,137.39 565.45,137.38 565.70,137.38 565.95,137.37 566.20,137.37 566.45,137.36 566.70,137.36 566.95,137.35 567.20,137.34 567.45,137.34 567.70,137.33 567.95,137.33 568.20,137.32 568.45,137.31 568.70,137.31 568.95,137.30 569.20,137.30 569.45,137.29 569.70,137.28 569.95,137.28 570.20,137.27 570.45,137.27 570.70,137.26 570.95,137.25 571.20,137.25 571.45,137.24 571.70,137.23 571.95,137.23 572.20,137.22 572.45,137.21 572.70,137.21 572.95,137.20 573.20,137.19 573.45,137.17 573.70,137.15 573.95,137.13 574.20,137.10 574.45,137.05 574.70,136.99 574.95,136.91 575.20,136.79 575.45,136.63 575.70,136.41 575.95,136.11 576.20,135.71 576.45,135.19 576.70,134.52 576.95,133.64 577.20,132.54 577.45,131.15 577.70,129.44 577.95,127.35 578.20,124.84 578.45,121.89 578.70,118.45 578.95,114.53 579.20,110.14 579.45,105.32 579.70,100.15 579.95,94.73 580.20,89.22 580.45,83.81 580.70,78.72 580.95,74.20 581.20,70.57 581.45,68.16 581.70,68.21 581.95,69.93 582.20,72.96 582.45,76.94 582.70,81.57 582.95,86.59 583.20,91.76 583.45,96.90 583.70,101.86 583.95,106.51 584.20,110.78 584.45,114.62 584.70,118.01 584.95,120.95 585.20,123.46 585.45,125.56 585.70,127.30 585.95,128.71 586.20,129.85 586.45,130.74 586.70,131.44 586.95,131.98 587.20,132.40 587.45,132.70 587.70,132.93 587.95,133.10 588.20,133.22 588.45,133.31 588.70,133.37 588.95,133.41 589.20,133.44 589.45,133.46 589.70,133.47 589.95,133.48 590.20,133.49 590.45,133.49 590.70,133.50 590.95,133.50 591.20,133.50 591.45,133.50 591.70,133.50 591.95,133.50 592.20,133.50 592.45,133.50 592.70,133.50 592.95,133.50 593.20,133.50 593.45,133.50 593.70,133.50 593.95,133.50 594.20,133.50 594.45,133.50 594.70,133.50 594.95,133.50 595.20,133.50 595.45,133.50 595.70,133.50 595.95,133.50 596.20,133.50 596.45,133.50 596.70,133.49 596.95,133.49 597.20,133.49 597.45,133.49 597.70,133.49 597.95,133.48 598.20,133.48 598.45,133.48 598.70,133.47 598.95,133.47 599.20,133.46 599.45,133.45 599.70,133.44 599.95,133.43 600.20,133.41 600.45,133.40 600.70,133.38 600.95,133.36 601.20,133.33 601.45,133.30 601.70,133.27 601.95,133.24 602.20,133.20 602.45,133.15 602.70,133.10 602.95,133.05 603.20,132.99 603.45,132.92 603.70,132.85 603.95,132.77 604.20,132.69 604.45,132.60 604.70,132.51 604.95,132.41 605.20,132.31 605.45,132.20 605.70,132.09 605.95,131.97 606.20,131.85 606.45,131.74 606.70,131.62 606.95,131.50 607.20,131.39 607.45,131.28 607.70,131.17 607.95,131.08 608.20,130.98 608.45,130.90 608.70,130.83 608.95,130.78 609.20,130.73 609.45,130.70 609.70,130.69 609.95,130.69 610.20,130.71 610.45,130.75 610.70,130.80 610.95,130.87 611.20,130.96 611.45,131.07 611.70,131.20 611.95,131.34 612.20,131.50 612.45,131.67 612.70,131.86 612.95,132.06 613.20,132.27 613.45,132.49 613.70,132.71 613.95,132.94 614.20,133.18 614.45,133.42 614.70,133.66 614.95,133.90 615.20,134.13 615.45,134.36 615.70,134.59 615.95,134.81 616.20,135.03 616.45,135.23 616.70,135.43 616.95,135.62 617.20,135.80 617.45,135.97 617.70,136.13 617.95,136.27 618.20,136.41 618.45,136.54 618.70,136.66 618.95,136.76 619.20,136.86 619.45,136.95 619.70,137.03 619.95,137.10 620.20,137.17 620.45,137.22 620.70,137.28 620.95,137.32 621.20,137.36 621.45,137.40 621.70,137.43 621.95,137.45 622.20,137.48 622.45,137.50 622.70,137.51 622.95,137.53 623.20,137.54 623.45,137.55 623.70,137.56 623.95,137.57 624.20,137.57 624.45,137.58 624.70,137.58 624.95,137.59 625.20,137.59 625.45,137.59 625.70,137.59 625.95,137.59 626.20,137.60 626.45,137.60 626.70,137.60 626.95,137.60 627.20,137.60 627.45,137.60 627.70,137.60 627.95,137.60 628.20,137.60 628.45,137.60 628.70,137.60 628.95,137.60" fill="none" stroke="#555" stroke-width="0.8"/>
<polygon points="599.70,137.60 599.70,137.54 599.95,137.53 600.20,137.52 600.45,137.50 600.70,137.48 600.95,137.46 601.20,137.44 601.45,137.41 601.70,137.38 601.95,137.34 602.20,137.30 602.45,137.26 602.70,137.21 602.95,137.15 603.20,137.09 603.45,137.02 603.70,136.94 603.95,136.86 604.20,136.77 604.45,136.67 604.70,136.57 604.95,136.46 605.20,136.34 605.45,136.21 605.70,136.08 605.95,135.94 606.20,135.80 606.45,135.65 606.70,135.49 606.95,135.34 607.20,135.18 607.45,135.02 607.70,134.86 607.95,134.70 608.20,134.55 608.45,134.40 608.70,134.26 608.95,134.12 609.20,133.99 609.45,133.87 609.70,133.76 609.95,133.67 610.20,133.58 610.45,133.52 610.70,133.46 610.95,133.43 611.20,133.41 611.45,133.40 611.70,133.41 611.95,133.44 612.20,133.48 612.45,133.54 612.70,133.62 612.95,133.70 613.20,133.80 613.45,133.92 613.70,134.04 613.95,134.17 614.20,134.31 614.45,134.46 614.70,134.61 614.95,134.77 615.20,134.93 615.45,135.08 615.70,135.24 615.95,135.40 616.20,135.56 616.45,135.71 616.70,135.85 616.95,136.00 617.20,136.13 617.45,136.26 617.70,136.38 617.95,136.50 618.20,136.61 618.45,136.71 618.70,136.81 618.95,136.89 619.20,136.97 619.45,137.05 619.70,137.11 619.95,137.17 620.20,137.23 620.45,137.28 620.70,137.32 620.95,137.36 621.20,137.39 621.45,137.42 621.70,137.45 621.95,137.47 622.20,137.49 622.45,137.51 622.70,137.52 622.95,137.54 623.20,137.55 623.20,137.60" fill="#dc1a1a" stroke="none" stroke-width="0"/>
<polygon points="573.95,137.60 573.95,137.54 574.20,137.52 574.45,137.48 574.70,137.42 574.95,137.34 575.20,137.23 575.45,137.07 575.70,136.85 575.95,136.56 576.20,136.17 576.45,135.65 576.70,134.98 576.95,134.11 577.20,133.01 577.45,131.62 577.70,129.91 577.95,127.83 578.20,125.33 578.45,122.37 578.70,118.94 578.95,115.03 579.20,110.65 579.45,105.85 579.70,100.69 579.95,95.31 580.20,89.84 580.45,84.49 580.70,79.48 580.95,75.07 581.20,71.57 581.45,69.32 581.70,69.07 581.95,71.00 582.20,74.29 582.45,78.54 582.70,83.45 582.95,88.76 583.20,94.22 583.45,99.63 583.70,104.84 583.95,109.72 584.20,114.19 584.45,118.20 584.70,121.73 584.95,124.77 585.20,127.36 585.45,129.53 585.70,131.31 585.95,132.75 586.20,133.91 586.45,134.82 586.70,135.53 586.95,136.08 587.20,136.49 587.45,136.80 587.70,137.03 587.95,137.20 588.20,137.32 588.45,137.41 588.70,137.47 588.95,137.51 589.20,137.54 589.20,137.60" fill="#dc1a1a" stroke="none" stroke-width="0"/>
<polyline points="576.20,135.71 576.45,135.19 576.70,134.52 576.95,133.64 577.20,132.54 577.45,131.15 577.70,129.44 577.95,127.35 578.20,124.84 578.45,121.89 578.70,118.45 578.95,114.53 579.20,110.14 579.45,105.32 579.70,100.15 579.95,94.73 580.20,89.22 580.45,83.81 580.70,78.72 580.95,74.20 581.20,70.57 581.45,68.16 581.70,68.21 581.95,69.93 582.20,72.96 582.45,76.94 582.70,81.57 582.95,86.59 583.20,91.76 583.45,96.90 583.70,101.86 583.95,106.51 584.20,110.78 584.45,114.62 584.70,118.01 584.95,120.95 585.20,123.46 585.45,125.56 585.70,127.30 585.95,128.71 586.20,129.85 586.45,130.74 586.70,131.44 586.95,131.98" fill="none" stroke="#333" stroke-width="0.55"/>
<line x1="547.70" y1="62.50" x2="547.70" y2="137.60" stroke="#666" stroke-width="0.7" />
<line x1="547.70" y1="137.60" x2="634.70" y2="137.60" stroke="#666" stroke-width="0.7" />
<path d="M580.1 140.2 L581.6 137.4 L583.1 140.2 Z" fill="#111"/>
<path d="M609.9 140.2 L611.4 137.4 L612.9 140.2 Z" fill="#111"/>
<line x1="545.20" y1="137.60" x2="547.70" y2="137.60" stroke="#555" stroke-width="0.6" />
<text x="542.7" y="139.4" font-family="'Liberation Serif', serif" font-size="5.3" font-weight="bold" fill="#222" text-anchor="end" stroke="#222" stroke-width="0.15">0</text>
<line x1="545.20" y1="112.57" x2="547.70" y2="112.57" stroke="#555" stroke-width="0.6" />
<text x="542.7" y="114.4" font-family="'Liberation Serif', serif" font-size="5.3" font-weight="bold" fill="#222" text-anchor="end" stroke="#222" stroke-width="0.15">1000</text>
<line x1="545.20" y1="87.53" x2="547.70" y2="87.53" stroke="#555" stroke-width="0.6" />
<text x="542.7" y="89.3" font-family="'Liberation Serif', serif" font-size="5.3" font-weight="bold" fill="#222" text-anchor="end" stroke="#222" stroke-width="0.15">2000</text>
<line x1="545.20" y1="62.50" x2="547.70" y2="62.50" stroke="#555" stroke-width="0.6" />
<text x="542.7" y="64.3" font-family="'Liberation Serif', serif" font-size="5.3" font-weight="bold" fill="#222" text-anchor="end" stroke="#222" stroke-width="0.15">3000</text>
<line x1="546.50" y1="137.60" x2="547.70" y2="137.60" stroke="#666" stroke-width="0.35" />
<line x1="546.50" y1="135.10" x2="547.70" y2="135.10" stroke="#666" stroke-width="0.35" />
<line x1="546.50" y1="132.59" x2="547.70" y2="132.59" stroke="#666" stroke-width="0.35" />
<line x1="546.50" y1="130.09" x2="547.70" y2="130.09" stroke="#666" stroke-width="0.35" />
<line x1="546.50" y1="127.59" x2="547.70" y2="127.59" stroke="#666" stroke-width="0.35" />
<line x1="546.50" y1="125.08" x2="547.70" y2="125.08" stroke="#666" stroke-width="0.35" />
<line x1="546.50" y1="122.58" x2="547.70" y2="122.58" stroke="#666" stroke-width="0.35" />
<line x1="546.50" y1="120.08" x2="547.70" y2="120.08" stroke="#666" stroke-width="0.35" />
<line x1="546.50" y1="117.57" x2="547.70" y2="117.57" stroke="#666" stroke-width="0.35" />
<line x1="546.50" y1="115.07" x2="547.70" y2="115.07" stroke="#666" stroke-width="0.35" />
<line x1="546.50" y1="112.57" x2="547.70" y2="112.57" stroke="#666" stroke-width="0.35" />
<line x1="546.50" y1="110.06" x2="547.70" y2="110.06" stroke="#666" stroke-width="0.35" />
<line x1="546.50" y1="107.56" x2="547.70" y2="107.56" stroke="#666" stroke-width="0.35" />
<line x1="546.50" y1="105.06" x2="547.70" y2="105.06" stroke="#666" stroke-width="0.35" />
<line x1="546.50" y1="102.55" x2="547.70" y2="102.55" stroke="#666" stroke-width="0.35" />
<line x1="546.50" y1="100.05" x2="547.70" y2="100.05" stroke="#666" stroke-width="0.35" />
<line x1="546.50" y1="97.55" x2="547.70" y2="97.55" stroke="#666" stroke-width="0.35" />
<line x1="546.50" y1="95.04" x2="547.70" y2="95.04" stroke="#666" stroke-width="0.35" />
<line x1="546.50" y1="92.54" x2="547.70" y2="92.54" stroke="#666" stroke-width="0.35" />
<line x1="546.50" y1="90.04" x2="547.70" y2="90.04" stroke="#666" stroke-width="0.35" />
<line x1="546.50" y1="87.53" x2="547.70" y2="87.53" stroke="#666" stroke-width="0.35" />
<line x1="546.50" y1="85.03" x2="547.70" y2="85.03" stroke="#666" stroke-width="0.35" />
<line x1="546.50" y1="82.53" x2="547.70" y2="82.53" stroke="#666" stroke-width="0.35" />
<line x1="546.50" y1="80.02" x2="547.70" y2="80.02" stroke="#666" stroke-width="0.35" />
<line x1="546.50" y1="77.52" x2="547.70" y2="77.52" stroke="#666" stroke-width="0.35" />
<line x1="546.50" y1="75.02" x2="547.70" y2="75.02" stroke="#666" stroke-width="0.35" />
<line x1="546.50" y1="72.51" x2="547.70" y2="72.51" stroke="#666" stroke-width="0.35" />
<line x1="546.50" y1="70.01" x2="547.70" y2="70.01" stroke="#666" stroke-width="0.35" />
<line x1="546.50" y1="67.51" x2="547.70" y2="67.51" stroke="#666" stroke-width="0.35" />
<line x1="546.50" y1="65.00" x2="547.70" y2="65.00" stroke="#666" stroke-width="0.35" />
<line x1="546.50" y1="62.50" x2="547.70" y2="62.50" stroke="#666" stroke-width="0.35" />
<line x1="547.70" y1="137.60" x2="547.70" y2="139.80" stroke="#555" stroke-width="0.6" />
<text x="547.7" y="144.5" font-family="'Liberation Serif', serif" font-size="5.3" font-weight="bold" fill="#222" text-anchor="middle" stroke="#222" stroke-width="0.15">0</text>
<line x1="570.70" y1="137.60" x2="570.70" y2="139.80" stroke="#555" stroke-width="0.6" />
<text x="570.7" y="144.5" font-family="'Liberation Serif', serif" font-size="5.3" font-weight="bold" fill="#222" text-anchor="middle" stroke="#222" stroke-width="0.15">20</text>
<line x1="592.30" y1="137.60" x2="592.30" y2="139.80" stroke="#555" stroke-width="0.6" />
<text x="592.3" y="144.5" font-family="'Liberation Serif', serif" font-size="5.3" font-weight="bold" fill="#222" text-anchor="middle" stroke="#222" stroke-width="0.15">40</text>
<line x1="612.70" y1="137.60" x2="612.70" y2="139.80" stroke="#555" stroke-width="0.6" />
<text x="612.7" y="144.5" font-family="'Liberation Serif', serif" font-size="5.3" font-weight="bold" fill="#222" text-anchor="middle" stroke="#222" stroke-width="0.15">60</text>
<line x1="634.70" y1="137.60" x2="634.70" y2="139.80" stroke="#555" stroke-width="0.6" />
<text x="634.7" y="144.5" font-family="'Liberation Serif', serif" font-size="5.3" font-weight="bold" fill="#222" text-anchor="middle" stroke="#222" stroke-width="0.15">80</text>
<line x1="547.70" y1="137.60" x2="547.70" y2="138.90" stroke="#666" stroke-width="0.4" />
<line x1="552.30" y1="137.60" x2="552.30" y2="138.90" stroke="#666" stroke-width="0.4" />
<line x1="556.90" y1="137.60" x2="556.90" y2="138.90" stroke="#666" stroke-width="0.4" />
<line x1="561.50" y1="137.60" x2="561.50" y2="138.90" stroke="#666" stroke-width="0.4" />
<line x1="566.10" y1="137.60" x2="566.10" y2="138.90" stroke="#666" stroke-width="0.4" />
<line x1="570.70" y1="137.60" x2="570.70" y2="138.90" stroke="#666" stroke-width="0.4" />
<line x1="575.30" y1="137.60" x2="575.30" y2="138.90" stroke="#666" stroke-width="0.4" />
<line x1="579.90" y1="137.60" x2="579.90" y2="138.90" stroke="#666" stroke-width="0.4" />
<line x1="584.50" y1="137.60" x2="584.50" y2="138.90" stroke="#666" stroke-width="0.4" />
<line x1="589.10" y1="137.60" x2="589.10" y2="138.90" stroke="#666" stroke-width="0.4" />
<line x1="593.70" y1="137.60" x2="593.70" y2="138.90" stroke="#666" stroke-width="0.4" />
<line x1="598.30" y1="137.60" x2="598.30" y2="138.90" stroke="#666" stroke-width="0.4" />
<line x1="602.90" y1="137.60" x2="602.90" y2="138.90" stroke="#666" stroke-width="0.4" />
<line x1="607.50" y1="137.60" x2="607.50" y2="138.90" stroke="#666" stroke-width="0.4" />
<line x1="612.10" y1="137.60" x2="612.10" y2="138.90" stroke="#666" stroke-width="0.4" />
<line x1="616.70" y1="137.60" x2="616.70" y2="138.90" stroke="#666" stroke-width="0.4" />
<line x1="621.30" y1="137.60" x2="621.30" y2="138.90" stroke="#666" stroke-width="0.4" />
<line x1="625.90" y1="137.60" x2="625.90" y2="138.90" stroke="#666" stroke-width="0.4" />
<line x1="630.50" y1="137.60" x2="630.50" y2="138.90" stroke="#666" stroke-width="0.4" />
<text x="593.5" y="148.8" font-family="'Liberation Serif', serif" font-size="5.3" font-weight="bold" fill="#222" text-anchor="middle" stroke="#222" stroke-width="0.15">FLA-2</text>
<text x="530.0" y="98.5" font-family="'Liberation Serif', serif" font-size="6" font-weight="bold" fill="#222" text-anchor="middle" stroke="#222" stroke-width="0.15" transform="rotate(-90 530.0 98.5)">Number</text>
<text x="590.7" y="67.7" font-family="'Liberation Sans', sans-serif" font-size="4.5" font-weight="normal" fill="#4040c0" text-anchor="start" stroke="#4040c0" stroke-width="0.05">Diploid: 100.00 %</text>
<text x="594.7" y="73.2" font-family="'Liberation Sans', sans-serif" font-size="4.5" font-weight="normal" fill="#4040c0" text-anchor="start" stroke="#4040c0" stroke-width="0.05">Dip G1: 70.99 % at 30.70</text>
<text x="594.7" y="78.7" font-family="'Liberation Sans', sans-serif" font-size="4.5" font-weight="normal" fill="#4040c0" text-anchor="start" stroke="#4040c0" stroke-width="0.05">Dip G2: 8.10 % at 58.80</text>
<text x="594.7" y="84.2" font-family="'Liberation Sans', sans-serif" font-size="4.5" font-weight="normal" fill="#4040c0" text-anchor="start" stroke="#4040c0" stroke-width="0.05">Dip S: 20.91 %</text>
<text x="628.5" y="84.2" font-family="'Liberation Sans', sans-serif" font-size="4.5" font-weight="normal" fill="#4040c0" text-anchor="start" stroke="#4040c0" stroke-width="0.05">G2/G1: 1.92</text>
<text x="594.7" y="89.7" font-family="'Liberation Sans', sans-serif" font-size="4.5" font-weight="normal" fill="#4040c0" text-anchor="start" stroke="#4040c0" stroke-width="0.05">%CV: 5.14</text>
<rect x="596.0" y="93.2" width="4.6" height="4.3" fill="#c8f0c8" stroke="#555" stroke-width="0.5"/>
<text x="602.5" y="97.0" font-family="'Liberation Sans', sans-serif" font-size="4.4" font-weight="normal" fill="#4040c0" text-anchor="start" stroke="#4040c0" stroke-width="0.05">Aggregates</text>
<rect x="596.0" y="98.4" width="4.6" height="4.3" fill="#d81818" stroke="#555" stroke-width="0.5"/>
<text x="602.5" y="102.2" font-family="'Liberation Sans', sans-serif" font-size="4.4" font-weight="normal" fill="#4040c0" text-anchor="start" stroke="#4040c0" stroke-width="0.05">Dip G1</text>
<rect x="596.0" y="103.6" width="4.6" height="4.3" fill="#d81818" stroke="#555" stroke-width="0.5"/>
<text x="602.5" y="107.4" font-family="'Liberation Sans', sans-serif" font-size="4.4" font-weight="normal" fill="#4040c0" text-anchor="start" stroke="#4040c0" stroke-width="0.05">Dip G2</text>
<rect x="596.0" y="108.8" width="4.6" height="4.3" fill="url(#hatch2)" stroke="#555" stroke-width="0.5"/>
<text x="602.5" y="112.6" font-family="'Liberation Sans', sans-serif" font-size="4.4" font-weight="normal" fill="#4040c0" text-anchor="start" stroke="#4040c0" stroke-width="0.05">Dip S</text>
<polygon points="700.35,138.60 700.35,138.53 700.60,138.51 700.85,138.47 701.10,138.43 701.35,138.37 701.60,138.30 701.85,138.22 702.10,138.12 702.35,138.00 702.60,137.87 702.85,137.71 703.10,137.55 703.35,137.37 703.60,137.18 703.85,136.98 704.10,136.78 704.35,136.58 704.60,136.38 704.85,136.19 705.10,136.02 705.35,135.85 705.60,135.71 705.85,135.57 706.10,135.46 706.35,135.36 706.60,135.28 706.85,135.21 707.10,135.16 707.35,135.12 707.60,135.09 707.85,135.06 708.10,135.04 708.35,135.03 708.60,135.02 708.85,135.01 709.10,135.01 709.35,135.01 709.60,135.00 709.85,135.00 710.10,135.00 710.35,135.00 710.60,135.00 710.85,135.00 711.10,135.00 711.35,135.00 711.60,135.00 711.85,135.00 712.10,135.00 712.35,135.00 712.60,135.00 712.85,135.00 713.10,135.00 713.35,135.00 713.60,135.00 713.85,135.00 714.10,135.00 714.35,135.00 714.60,135.00 714.85,135.00 715.10,135.00 715.35,135.00 715.60,135.00 715.85,135.00 716.10,135.00 716.35,135.00 716.60,135.00 716.85,135.00 717.10,135.00 717.35,135.00 717.60,135.00 717.85,135.00 718.10,135.00 718.35,135.00 718.60,135.00 718.85,135.01 719.10,135.01 719.35,135.01 719.60,135.01 719.85,135.01 720.10,135.01 720.35,135.02 720.60,135.02 720.85,135.02 721.10,135.03 721.35,135.03 721.60,135.03 721.85,135.04 722.10,135.05 722.35,135.05 722.60,135.06 722.85,135.07 723.10,135.08 723.35,135.09 723.60,135.10 723.85,135.12 724.10,135.13 724.35,135.15 724.60,135.17 724.85,135.19 725.10,135.21 725.35,135.24 725.60,135.27 725.85,135.29 726.10,135.33 726.35,135.36 726.60,135.40 726.85,135.44 727.10,135.48 727.35,135.52 727.60,135.57 727.85,135.62 728.10,135.67 728.35,135.73 728.60,135.78 728.85,135.84 729.10,135.91 729.35,135.97 729.60,136.04 729.85,136.11 730.10,136.18 730.35,136.25 730.60,136.33 730.85,136.40 731.10,136.48 731.35,136.56 731.60,136.64 731.85,136.72 732.10,136.80 732.35,136.88 732.60,136.96 732.85,137.04 733.10,137.12 733.35,137.20 733.60,137.27 733.85,137.35 734.10,137.42 734.35,137.49 734.60,137.56 734.85,137.63 735.10,137.69 735.35,137.76 735.60,137.82 735.85,137.87 736.10,137.93 736.35,137.98 736.60,138.03 736.85,138.08 737.10,138.12 737.35,138.16 737.60,138.20 737.85,138.24 738.10,138.27 738.35,138.31 738.60,138.33 738.85,138.36 739.10,138.39 739.35,138.41 739.60,138.43 739.85,138.45 740.10,138.47 740.35,138.48 740.60,138.50 740.85,138.51 741.10,138.52 741.35,138.53 741.60,138.54 741.85,138.55 741.85,138.60" fill="url(#hatch)" stroke="none" stroke-width="0"/>
<polyline points="676.10,138.48 676.35,138.47 676.60,138.47 676.85,138.47 677.10,138.46 677.35,138.46 677.60,138.46 677.85,138.45 678.10,138.45 678.35,138.45 678.60,138.44 678.85,138.44 679.10,138.43 679.35,138.43 679.60,138.43 679.85,138.42 680.10,138.42 680.35,138.41 680.60,138.41 680.85,138.41 681.10,138.40 681.35,138.40 681.60,138.39 681.85,138.39 682.10,138.38 682.35,138.38 682.60,138.38 682.85,138.37 683.10,138.37 683.35,138.36 683.60,138.36 683.85,138.35 684.10,138.35 684.35,138.34 684.60,138.34 684.85,138.33 685.10,138.33 685.35,138.32 685.60,138.32 685.85,138.31 686.10,138.31 686.35,138.30 686.60,138.30 686.85,138.29 687.10,138.29 687.35,138.29 687.60,138.28 687.85,138.28 688.10,138.27 688.35,138.27 688.60,138.26 688.85,138.26 689.10,138.25 689.35,138.25 689.60,138.24 689.85,138.24 690.10,138.23 690.35,138.23 690.60,138.22 690.85,138.22 691.10,138.21 691.35,138.20 691.60,138.20 691.85,138.19 692.10,138.18 692.35,138.16 692.60,138.15 692.85,138.13 693.10,138.10 693.35,138.07 693.60,138.03 693.85,137.97 694.10,137.90 694.35,137.81 694.60,137.70 694.85,137.55 695.10,137.36 695.35,137.12 695.60,136.82 695.85,136.45 696.10,135.99 696.35,135.42 696.60,134.73 696.85,133.89 697.10,132.89 697.35,131.69 697.60,130.29 697.85,128.65 698.10,126.75 698.35,124.58 698.60,122.11 698.85,119.35 699.10,116.28 699.35,112.92 699.60,109.27 699.85,105.38 700.10,101.28 700.35,97.03 700.60,92.70 700.85,88.38 701.10,84.17 701.35,80.19 701.60,76.56 701.85,73.43 702.10,70.96 702.35,69.35 702.60,69.55 702.85,70.68 703.10,72.73 703.35,75.47 703.60,78.75 703.85,82.41 704.10,86.34 704.35,90.41 704.60,94.52 704.85,98.58 705.10,102.52 705.35,106.28 705.60,109.82 705.85,113.10 706.10,116.11 706.35,118.84 706.60,121.27 706.85,123.43 707.10,125.33 707.35,126.98 707.60,128.39 707.85,129.60 708.10,130.61 708.35,131.47 708.60,132.17 708.85,132.76 709.10,133.23 709.35,133.61 709.60,133.92 709.85,134.17 710.10,134.36 710.35,134.51 710.60,134.63 710.85,134.72 711.10,134.79 711.35,134.85 711.60,134.89 711.85,134.92 712.10,134.94 712.35,134.96 712.60,134.97 712.85,134.98 713.10,134.98 713.35,134.99 713.60,134.99 713.85,134.99 714.10,134.99 714.35,135.00 714.60,135.00 714.85,135.00 715.10,135.00 715.35,134.99 715.60,134.99 715.85,134.99 716.10,134.99 716.35,134.99 716.60,134.99 716.85,134.98 717.10,134.98 717.35,134.98 717.60,134.97 717.85,134.97 718.10,134.96 718.35,134.95 718.60,134.95 718.85,134.94 719.10,134.92 719.35,134.91 719.60,134.90 719.85,134.88 720.10,134.86 720.35,134.84 720.60,134.81 720.85,134.79 721.10,134.76 721.35,134.72 721.60,134.68 721.85,134.64 722.10,134.59 722.35,134.54 722.60,134.49 722.85,134.43 723.10,134.36 723.35,134.29 723.60,134.22 723.85,134.14 724.10,134.05 724.35,133.96 724.60,133.86 724.85,133.76 725.10,133.66 725.35,133.55 725.60,133.44 725.85,133.33 726.10,133.21 726.35,133.09 726.60,132.97 726.85,132.85 727.10,132.74 727.35,132.62 727.60,132.51 727.85,132.40 728.10,132.29 728.35,132.20 728.60,132.11 728.85,132.03 729.10,131.95 729.35,131.89 729.60,131.84 729.85,131.80 730.10,131.78 730.35,131.76 730.60,131.77 730.85,131.78 731.10,131.81 731.35,131.86 731.60,131.92 731.85,132.00 732.10,132.09 732.35,132.19 732.60,132.31 732.85,132.44 733.10,132.59 733.35,132.74 733.60,132.91 733.85,133.08 734.10,133.27 734.35,133.46 734.60,133.66 734.85,133.86 735.10,134.07 735.35,134.28 735.60,134.49 735.85,134.71 736.10,134.92 736.35,135.13 736.60,135.33 736.85,135.54 737.10,135.74 737.35,135.93 737.60,136.12 737.85,136.30 738.10,136.47 738.35,136.64 738.60,136.80 738.85,136.95 739.10,137.09 739.35,137.22 739.60,137.35 739.85,137.47 740.10,137.58 740.35,137.68 740.60,137.77 740.85,137.86 741.10,137.94 741.35,138.01 741.60,138.08 741.85,138.14 742.10,138.19 742.35,138.24 742.60,138.29 742.85,138.32 743.10,138.36 743.35,138.39 743.60,138.42 743.85,138.44 744.10,138.47 744.35,138.48 744.60,138.50 744.85,138.52 745.10,138.53 745.35,138.54 745.60,138.55 745.85,138.56 746.10,138.56 746.35,138.57 746.60,138.57 746.85,138.58 747.10,138.58 747.35,138.59 747.60,138.59 747.85,138.59 748.10,138.59 748.35,138.59 748.60,138.59 748.85,138.60 749.10,138.60 749.35,138.60 749.60,138.60 749.85,138.60 750.10,138.60 750.35,138.60 750.60,138.60 750.85,138.60 751.10,138.60 751.35,138.60 751.60,138.60 751.85,138.60" fill="none" stroke="#555" stroke-width="0.8"/>
<polygon points="718.85,138.60 718.85,138.54 719.10,138.54 719.35,138.52 719.60,138.51 719.85,138.50 720.10,138.48 720.35,138.46 720.60,138.44 720.85,138.42 721.10,138.39 721.35,138.36 721.60,138.32 721.85,138.29 722.10,138.24 722.35,138.20 722.60,138.15 722.85,138.09 723.10,138.03 723.35,137.97 723.60,137.89 723.85,137.82 724.10,137.74 724.35,137.65 724.60,137.55 724.85,137.45 725.10,137.35 725.35,137.24 725.60,137.12 725.85,137.00 726.10,136.87 726.35,136.74 726.60,136.61 726.85,136.47 727.10,136.33 727.35,136.19 727.60,136.05 727.85,135.91 728.10,135.77 728.35,135.63 728.60,135.50 728.85,135.36 729.10,135.24 729.35,135.12 729.60,135.00 729.85,134.89 730.10,134.79 730.35,134.71 730.60,134.63 730.85,134.56 731.10,134.50 731.35,134.46 731.60,134.43 731.85,134.41 732.10,134.40 732.35,134.41 732.60,134.43 732.85,134.46 733.10,134.50 733.35,134.56 733.60,134.63 733.85,134.71 734.10,134.79 734.35,134.89 734.60,135.00 734.85,135.12 735.10,135.24 735.35,135.36 735.60,135.50 735.85,135.63 736.10,135.77 736.35,135.91 736.60,136.05 736.85,136.19 737.10,136.33 737.35,136.47 737.60,136.61 737.85,136.74 738.10,136.87 738.35,137.00 738.60,137.12 738.85,137.24 739.10,137.35 739.35,137.45 739.60,137.55 739.85,137.65 740.10,137.74 740.35,137.82 740.60,137.89 740.85,137.97 741.10,138.03 741.35,138.09 741.60,138.15 741.85,138.20 742.10,138.24 742.35,138.29 742.60,138.32 742.85,138.36 743.10,138.39 743.35,138.42 743.60,138.44 743.85,138.46 744.10,138.48 744.35,138.50 744.60,138.51 744.85,138.52 745.10,138.54 745.35,138.54 745.35,138.60" fill="#dc1a1a" stroke="none" stroke-width="0"/>
<polygon points="692.85,138.60 692.85,138.54 693.10,138.52 693.35,138.49 693.60,138.46 693.85,138.40 694.10,138.34 694.35,138.25 694.60,138.14 694.85,137.99 695.10,137.81 695.35,137.57 695.60,137.28 695.85,136.91 696.10,136.45 696.35,135.88 696.60,135.19 696.85,134.36 697.10,133.36 697.35,132.17 697.60,130.76 697.85,129.13 698.10,127.23 698.35,125.06 698.60,122.60 698.85,119.84 699.10,116.78 699.35,113.42 699.60,109.79 699.85,105.91 700.10,101.82 700.35,97.59 700.60,93.29 700.85,89.01 701.10,84.84 701.35,80.92 701.60,77.36 701.85,74.31 702.10,71.95 702.35,70.45 702.60,70.28 702.85,71.57 703.10,73.78 703.35,76.70 703.60,80.17 703.85,84.03 704.10,88.16 704.35,92.43 704.60,96.74 704.85,100.99 705.10,105.11 705.35,109.03 705.60,112.72 705.85,116.13 706.10,119.25 706.35,122.07 706.60,124.59 706.85,126.82 707.10,128.77 707.35,130.46 707.60,131.90 707.85,133.14 708.10,134.17 708.35,135.04 708.60,135.75 708.85,136.34 709.10,136.82 709.35,137.21 709.60,137.52 709.85,137.77 710.10,137.96 710.35,138.11 710.60,138.23 710.85,138.32 711.10,138.39 711.35,138.45 711.60,138.49 711.85,138.52 712.10,138.54 712.10,138.60" fill="#dc1a1a" stroke="none" stroke-width="0"/>
<polyline points="695.60,136.82 695.85,136.45 696.10,135.99 696.35,135.42 696.60,134.73 696.85,133.89 697.10,132.89 697.35,131.69 697.60,130.29 697.85,128.65 698.10,126.75 698.35,124.58 698.60,122.11 698.85,119.35 699.10,116.28 699.35,112.92 699.60,109.27 699.85,105.38 700.10,101.28 700.35,97.03 700.60,92.70 700.85,88.38 701.10,84.17 701.35,80.19 701.60,76.56 701.85,73.43 702.10,70.96 702.35,69.35 702.60,69.55 702.85,70.68 703.10,72.73 703.35,75.47 703.60,78.75 703.85,82.41 704.10,86.34 704.35,90.41 704.60,94.52 704.85,98.58 705.10,102.52 705.35,106.28 705.60,109.82 705.85,113.10 706.10,116.11 706.35,118.84 706.60,121.27 706.85,123.43 707.10,125.33 707.35,126.98 707.60,128.39 707.85,129.60 708.10,130.61 708.35,131.47 708.60,132.17 708.85,132.76 709.10,133.23 709.35,133.61" fill="none" stroke="#333" stroke-width="0.55"/>
<line x1="668.10" y1="63.60" x2="668.10" y2="138.60" stroke="#666" stroke-width="0.7" />
<line x1="668.10" y1="138.60" x2="755.10" y2="138.60" stroke="#666" stroke-width="0.7" />
<path d="M701.0 141.2 L702.5 138.4 L704.0 141.2 Z" fill="#111"/>
<path d="M730.6 141.2 L732.1 138.4 L733.6 141.2 Z" fill="#111"/>
<line x1="665.60" y1="138.60" x2="668.10" y2="138.60" stroke="#555" stroke-width="0.6" />
<text x="663.1" y="140.4" font-family="'Liberation Serif', serif" font-size="5.3" font-weight="bold" fill="#222" text-anchor="end" stroke="#222" stroke-width="0.15">0</text>
<line x1="665.60" y1="113.60" x2="668.10" y2="113.60" stroke="#555" stroke-width="0.6" />
<text x="663.1" y="115.4" font-family="'Liberation Serif', serif" font-size="5.3" font-weight="bold" fill="#222" text-anchor="end" stroke="#222" stroke-width="0.15">1000</text>
<line x1="665.60" y1="88.60" x2="668.10" y2="88.60" stroke="#555" stroke-width="0.6" />
<text x="663.1" y="90.4" font-family="'Liberation Serif', serif" font-size="5.3" font-weight="bold" fill="#222" text-anchor="end" stroke="#222" stroke-width="0.15">2000</text>
<line x1="665.60" y1="63.60" x2="668.10" y2="63.60" stroke="#555" stroke-width="0.6" />
<text x="663.1" y="65.4" font-family="'Liberation Serif', serif" font-size="5.3" font-weight="bold" fill="#222" text-anchor="end" stroke="#222" stroke-width="0.15">3000</text>
<line x1="666.90" y1="138.60" x2="668.10" y2="138.60" stroke="#666" stroke-width="0.35" />
<line x1="666.90" y1="136.10" x2="668.10" y2="136.10" stroke="#666" stroke-width="0.35" />
<line x1="666.90" y1="133.60" x2="668.10" y2="133.60" stroke="#666" stroke-width="0.35" />
<line x1="666.90" y1="131.10" x2="668.10" y2="131.10" stroke="#666" stroke-width="0.35" />
<line x1="666.90" y1="128.60" x2="668.10" y2="128.60" stroke="#666" stroke-width="0.35" />
<line x1="666.90" y1="126.10" x2="668.10" y2="126.10" stroke="#666" stroke-width="0.35" />
<line x1="666.90" y1="123.60" x2="668.10" y2="123.60" stroke="#666" stroke-width="0.35" />
<line x1="666.90" y1="121.10" x2="668.10" y2="121.10" stroke="#666" stroke-width="0.35" />
<line x1="666.90" y1="118.60" x2="668.10" y2="118.60" stroke="#666" stroke-width="0.35" />
<line x1="666.90" y1="116.10" x2="668.10" y2="116.10" stroke="#666" stroke-width="0.35" />
<line x1="666.90" y1="113.60" x2="668.10" y2="113.60" stroke="#666" stroke-width="0.35" />
<line x1="666.90" y1="111.10" x2="668.10" y2="111.10" stroke="#666" stroke-width="0.35" />
<line x1="666.90" y1="108.60" x2="668.10" y2="108.60" stroke="#666" stroke-width="0.35" />
<line x1="666.90" y1="106.10" x2="668.10" y2="106.10" stroke="#666" stroke-width="0.35" />
<line x1="666.90" y1="103.60" x2="668.10" y2="103.60" stroke="#666" stroke-width="0.35" />
<line x1="666.90" y1="101.10" x2="668.10" y2="101.10" stroke="#666" stroke-width="0.35" />
<line x1="666.90" y1="98.60" x2="668.10" y2="98.60" stroke="#666" stroke-width="0.35" />
<line x1="666.90" y1="96.10" x2="668.10" y2="96.10" stroke="#666" stroke-width="0.35" />
<line x1="666.90" y1="93.60" x2="668.10" y2="93.60" stroke="#666" stroke-width="0.35" />
<line x1="666.90" y1="91.10" x2="668.10" y2="91.10" stroke="#666" stroke-width="0.35" />
<line x1="666.90" y1="88.60" x2="668.10" y2="88.60" stroke="#666" stroke-width="0.35" />
<line x1="666.90" y1="86.10" x2="668.10" y2="86.10" stroke="#666" stroke-width="0.35" />
<line x1="666.90" y1="83.60" x2="668.10" y2="83.60" stroke="#666" stroke-width="0.35" />
<line x1="666.90" y1="81.10" x2="668.10" y2="81.10" stroke="#666" stroke-width="0.35" />
<line x1="666.90" y1="78.60" x2="668.10" y2="78.60" stroke="#666" stroke-width="0.35" />
<line x1="666.90" y1="76.10" x2="668.10" y2="76.10" stroke="#666" stroke-width="0.35" />
<line x1="666.90" y1="73.60" x2="668.10" y2="73.60" stroke="#666" stroke-width="0.35" />
<line x1="666.90" y1="71.10" x2="668.10" y2="71.10" stroke="#666" stroke-width="0.35" />
<line x1="666.90" y1="68.60" x2="668.10" y2="68.60" stroke="#666" stroke-width="0.35" />
<line x1="666.90" y1="66.10" x2="668.10" y2="66.10" stroke="#666" stroke-width="0.35" />
<line x1="666.90" y1="63.60" x2="668.10" y2="63.60" stroke="#666" stroke-width="0.35" />
<line x1="667.60" y1="138.60" x2="667.60" y2="140.80" stroke="#555" stroke-width="0.6" />
<text x="667.6" y="145.5" font-family="'Liberation Serif', serif" font-size="5.3" font-weight="bold" fill="#222" text-anchor="middle" stroke="#222" stroke-width="0.15">0</text>
<line x1="689.10" y1="138.60" x2="689.10" y2="140.80" stroke="#555" stroke-width="0.6" />
<text x="689.1" y="145.5" font-family="'Liberation Serif', serif" font-size="5.3" font-weight="bold" fill="#222" text-anchor="middle" stroke="#222" stroke-width="0.15">20</text>
<line x1="713.00" y1="138.60" x2="713.00" y2="140.80" stroke="#555" stroke-width="0.6" />
<text x="713.0" y="145.5" font-family="'Liberation Serif', serif" font-size="5.3" font-weight="bold" fill="#222" text-anchor="middle" stroke="#222" stroke-width="0.15">40</text>
<line x1="733.10" y1="138.60" x2="733.10" y2="140.80" stroke="#555" stroke-width="0.6" />
<text x="733.1" y="145.5" font-family="'Liberation Serif', serif" font-size="5.3" font-weight="bold" fill="#222" text-anchor="middle" stroke="#222" stroke-width="0.15">60</text>
<line x1="755.10" y1="138.60" x2="755.10" y2="140.80" stroke="#555" stroke-width="0.6" />
<text x="755.1" y="145.5" font-family="'Liberation Serif', serif" font-size="5.3" font-weight="bold" fill="#222" text-anchor="middle" stroke="#222" stroke-width="0.15">80</text>
<line x1="668.10" y1="138.60" x2="668.10" y2="139.90" stroke="#666" stroke-width="0.4" />
<line x1="672.40" y1="138.60" x2="672.40" y2="139.90" stroke="#666" stroke-width="0.4" />
<line x1="676.70" y1="138.60" x2="676.70" y2="139.90" stroke="#666" stroke-width="0.4" />
<line x1="681.00" y1="138.60" x2="681.00" y2="139.90" stroke="#666" stroke-width="0.4" />
<line x1="685.30" y1="138.60" x2="685.30" y2="139.90" stroke="#666" stroke-width="0.4" />
<line x1="689.60" y1="138.60" x2="689.60" y2="139.90" stroke="#666" stroke-width="0.4" />
<line x1="693.90" y1="138.60" x2="693.90" y2="139.90" stroke="#666" stroke-width="0.4" />
<line x1="698.20" y1="138.60" x2="698.20" y2="139.90" stroke="#666" stroke-width="0.4" />
<line x1="702.50" y1="138.60" x2="702.50" y2="139.90" stroke="#666" stroke-width="0.4" />
<line x1="706.80" y1="138.60" x2="706.80" y2="139.90" stroke="#666" stroke-width="0.4" />
<line x1="711.10" y1="138.60" x2="711.10" y2="139.90" stroke="#666" stroke-width="0.4" />
<line x1="715.40" y1="138.60" x2="715.40" y2="139.90" stroke="#666" stroke-width="0.4" />
<line x1="719.70" y1="138.60" x2="719.70" y2="139.90" stroke="#666" stroke-width="0.4" />
<line x1="724.00" y1="138.60" x2="724.00" y2="139.90" stroke="#666" stroke-width="0.4" />
<line x1="728.30" y1="138.60" x2="728.30" y2="139.90" stroke="#666" stroke-width="0.4" />
<line x1="732.60" y1="138.60" x2="732.60" y2="139.90" stroke="#666" stroke-width="0.4" />
<line x1="736.90" y1="138.60" x2="736.90" y2="139.90" stroke="#666" stroke-width="0.4" />
<line x1="741.20" y1="138.60" x2="741.20" y2="139.90" stroke="#666" stroke-width="0.4" />
<line x1="745.50" y1="138.60" x2="745.50" y2="139.90" stroke="#666" stroke-width="0.4" />
<line x1="749.80" y1="138.60" x2="749.80" y2="139.90" stroke="#666" stroke-width="0.4" />
<line x1="754.10" y1="138.60" x2="754.10" y2="139.90" stroke="#666" stroke-width="0.4" />
<text x="711.0" y="149.8" font-family="'Liberation Serif', serif" font-size="5.3" font-weight="bold" fill="#222" text-anchor="middle" stroke="#222" stroke-width="0.15">FLA-2</text>
<text x="651.5" y="99.6" font-family="'Liberation Serif', serif" font-size="6" font-weight="bold" fill="#222" text-anchor="middle" stroke="#222" stroke-width="0.15" transform="rotate(-90 651.5 99.6)">Number</text>
<text x="713.7" y="67.7" font-family="'Liberation Sans', sans-serif" font-size="4.5" font-weight="normal" fill="#4040c0" text-anchor="start" stroke="#4040c0" stroke-width="0.05">Diploid: 100.00 %</text>
<text x="717.7" y="73.2" font-family="'Liberation Sans', sans-serif" font-size="4.5" font-weight="normal" fill="#4040c0" text-anchor="start" stroke="#4040c0" stroke-width="0.05">Dip G1: 70.78 % at 31.33</text>
<text x="717.7" y="78.7" font-family="'Liberation Sans', sans-serif" font-size="4.5" font-weight="normal" fill="#4040c0" text-anchor="start" stroke="#4040c0" stroke-width="0.05">Dip G2: 8.42 % at 59.16</text>
<text x="717.7" y="84.2" font-family="'Liberation Sans', sans-serif" font-size="4.5" font-weight="normal" fill="#4040c0" text-anchor="start" stroke="#4040c0" stroke-width="0.05">Dip S: 20.81 %</text>
<text x="751.5" y="84.2" font-family="'Liberation Sans', sans-serif" font-size="4.5" font-weight="normal" fill="#4040c0" text-anchor="start" stroke="#4040c0" stroke-width="0.05">G2/G1: 1.89</text>
<text x="717.7" y="89.7" font-family="'Liberation Sans', sans-serif" font-size="4.5" font-weight="normal" fill="#4040c0" text-anchor="start" stroke="#4040c0" stroke-width="0.05">%CV: 6.30</text>
<rect x="718.7" y="93.2" width="4.6" height="4.3" fill="#c8f0c8" stroke="#555" stroke-width="0.5"/>
<text x="725.2" y="97.0" font-family="'Liberation Sans', sans-serif" font-size="4.4" font-weight="normal" fill="#4040c0" text-anchor="start" stroke="#4040c0" stroke-width="0.05">Aggregates</text>
<rect x="718.7" y="98.4" width="4.6" height="4.3" fill="#d81818" stroke="#555" stroke-width="0.5"/>
<text x="725.2" y="102.2" font-family="'Liberation Sans', sans-serif" font-size="4.4" font-weight="normal" fill="#4040c0" text-anchor="start" stroke="#4040c0" stroke-width="0.05">Dip G1</text>
<rect x="718.7" y="103.6" width="4.6" height="4.3" fill="#d81818" stroke="#555" stroke-width="0.5"/>
<text x="725.2" y="107.4" font-family="'Liberation Sans', sans-serif" font-size="4.4" font-weight="normal" fill="#4040c0" text-anchor="start" stroke="#4040c0" stroke-width="0.05">Dip G2</text>
<rect x="718.7" y="108.8" width="4.6" height="4.3" fill="url(#hatch2)" stroke="#555" stroke-width="0.5"/>
<text x="725.2" y="112.6" font-family="'Liberation Sans', sans-serif" font-size="4.4" font-weight="normal" fill="#4040c0" text-anchor="start" stroke="#4040c0" stroke-width="0.05">Dip S</text>
<text x="396.7" y="203.0" font-family="'Liberation Serif', serif" font-size="19" font-weight="bold" fill="#111" text-anchor="start" stroke="#111" stroke-width="0.4">F</text>
<text x="594.8" y="198.0" font-family="'Liberation Serif', serif" font-size="12" font-weight="bold" fill="#111" text-anchor="middle" stroke="#111" stroke-width="0.3">GAK</text>
<line x1="417.00" y1="209.40" x2="754.50" y2="209.40" stroke="#3a3a3a" stroke-width="1.4" />
<text x="475.0" y="228.3" font-family="'Liberation Serif', serif" font-size="12" font-weight="bold" fill="#111" text-anchor="middle" stroke="#111" stroke-width="0.3">Control</text>
<text x="591.0" y="227.8" font-family="'Liberation Serif', serif" font-size="12" font-weight="bold" fill="#111" text-anchor="middle" stroke="#111" stroke-width="0.3">miR-let-7b</text>
<text x="713.5" y="227.6" font-family="'Liberation Serif', serif" font-size="12" font-weight="bold" fill="#111" text-anchor="middle" stroke="#111" stroke-width="0.3">miR-let-7c</text>
<polygon points="446.30,327.60 446.30,327.52 446.55,327.44 446.80,327.31 447.05,327.10 447.30,326.80 447.55,326.41 447.80,325.93 448.05,325.38 448.30,324.82 448.55,324.27 448.80,323.79 449.05,323.40 449.30,323.10 449.55,322.89 449.80,322.76 450.05,322.68 450.30,322.64 450.55,322.62 450.80,322.61 451.05,322.60 451.30,322.60 451.55,322.60 451.80,322.60 452.05,322.60 452.30,322.60 452.55,322.60 452.80,322.60 453.05,322.60 453.30,322.60 453.55,322.60 453.80,322.60 454.05,322.60 454.30,322.60 454.55,322.60 454.80,322.60 455.05,322.60 455.30,322.60 455.55,322.60 455.80,322.60 456.05,322.60 456.30,322.60 456.55,322.60 456.80,322.60 457.05,322.60 457.30,322.60 457.55,322.60 457.80,322.60 458.05,322.60 458.30,322.60 458.55,322.60 458.80,322.60 459.05,322.61 459.30,322.61 459.55,322.62 459.80,322.62 460.05,322.63 460.30,322.65 460.55,322.66 460.80,322.69 461.05,322.72 461.30,322.76 461.55,322.81 461.80,322.87 462.05,322.95 462.30,323.04 462.55,323.15 462.80,323.27 463.05,323.42 463.30,323.58 463.55,323.77 463.80,323.97 464.05,324.18 464.30,324.41 464.55,324.65 464.80,324.90 465.05,325.15 465.30,325.40 465.55,325.64 465.80,325.88 466.05,326.10 466.30,326.31 466.55,326.51 466.80,326.68 467.05,326.84 467.30,326.98 467.55,327.10 467.80,327.20 468.05,327.28 468.30,327.36 468.55,327.41 468.80,327.46 469.05,327.49 469.30,327.52 469.55,327.54 469.55,327.60" fill="url(#hatch)" stroke="none" stroke-width="0"/>
<polyline points="436.30,327.42 436.55,327.41 436.80,327.40 437.05,327.39 437.30,327.39 437.55,327.38 437.80,327.37 438.05,327.36 438.30,327.35 438.55,327.34 438.80,327.33 439.05,327.32 439.30,327.31 439.55,327.30 439.80,327.29 440.05,327.28 440.30,327.27 440.55,327.26 440.80,327.25 441.05,327.24 441.30,327.23 441.55,327.22 441.80,327.21 442.05,327.19 442.30,327.18 442.55,327.15 442.80,327.10 443.05,327.02 443.30,326.88 443.55,326.66 443.80,326.29 444.05,325.70 444.30,324.78 444.55,323.40 444.80,321.39 445.05,318.56 445.30,314.72 445.55,309.73 445.80,303.51 446.05,296.12 446.30,287.83 446.55,279.12 446.80,270.73 447.05,263.63 447.30,259.06 447.55,259.74 447.80,264.17 448.05,270.88 448.30,278.72 448.55,286.78 448.80,294.40 449.05,301.15 449.30,306.82 449.55,311.35 449.80,314.84 450.05,317.41 450.30,319.23 450.55,320.48 450.80,321.30 451.05,321.83 451.30,322.15 451.55,322.35 451.80,322.46 452.05,322.53 452.30,322.56 452.55,322.58 452.80,322.59 453.05,322.60 453.30,322.60 453.55,322.60 453.80,322.60 454.05,322.60 454.30,322.60 454.55,322.60 454.80,322.60 455.05,322.60 455.30,322.60 455.55,322.60 455.80,322.60 456.05,322.60 456.30,322.60 456.55,322.60 456.80,322.60 457.05,322.60 457.30,322.60 457.55,322.60 457.80,322.59 458.05,322.59 458.30,322.58 458.55,322.57 458.80,322.56 459.05,322.55 459.30,322.52 459.55,322.49 459.80,322.45 460.05,322.39 460.30,322.32 460.55,322.23 460.80,322.12 461.05,321.99 461.30,321.83 461.55,321.66 461.80,321.46 462.05,321.24 462.30,321.01 462.55,320.78 462.80,320.55 463.05,320.34 463.30,320.15 463.55,320.00 463.80,319.90 464.05,319.85 464.30,319.88 464.55,319.98 464.80,320.16 465.05,320.41 465.30,320.74 465.55,321.13 465.80,321.57 466.05,322.06 466.30,322.57 466.55,323.10 466.80,323.63 467.05,324.14 467.30,324.63 467.55,325.09 467.80,325.50 468.05,325.88 468.30,326.20 468.55,326.49 468.80,326.72 469.05,326.92 469.30,327.08 469.55,327.21 469.80,327.31 470.05,327.39 470.30,327.45 470.55,327.49 470.80,327.52 471.05,327.55 471.30,327.57 471.55,327.58 471.80,327.58 472.05,327.59 472.30,327.59 472.55,327.60 472.80,327.60 473.05,327.60 473.30,327.60 473.55,327.60" fill="none" stroke="#555" stroke-width="0.8"/>
<polygon points="459.05,327.60 459.05,327.55 459.30,327.52 459.55,327.49 459.80,327.45 460.05,327.39 460.30,327.32 460.55,327.23 460.80,327.11 461.05,326.97 461.30,326.81 461.55,326.61 461.80,326.38 462.05,326.12 462.30,325.83 462.55,325.52 462.80,325.20 463.05,324.86 463.30,324.53 463.55,324.22 463.80,323.92 464.05,323.67 464.30,323.46 464.55,323.31 464.80,323.22 465.05,323.20 465.30,323.25 465.55,323.36 465.80,323.54 466.05,323.77 466.30,324.04 466.55,324.34 466.80,324.67 467.05,325.00 467.30,325.33 467.55,325.65 467.80,325.95 468.05,326.22 468.30,326.47 468.55,326.69 468.80,326.88 469.05,327.03 469.30,327.16 469.55,327.27 469.80,327.35 470.05,327.42 470.30,327.47 470.55,327.51 470.80,327.53 470.80,327.60" fill="#dc1a1a" stroke="none" stroke-width="0"/>
<polygon points="442.80,327.60 442.80,327.52 443.05,327.44 443.30,327.32 443.55,327.10 443.80,326.74 444.05,326.15 444.30,325.24 444.55,323.87 444.80,321.86 445.05,319.04 445.30,315.21 445.55,310.22 445.80,304.01 446.05,296.66 446.30,288.41 446.55,279.78 446.80,271.52 447.05,264.63 447.30,260.36 447.55,260.93 447.80,265.84 448.05,273.10 448.30,281.50 448.55,290.11 448.80,298.21 449.05,305.35 449.30,311.32 449.55,316.06 449.80,319.68 450.05,322.32 450.30,324.19 450.55,325.46 450.80,326.29 451.05,326.82 451.30,327.15 451.55,327.35 451.80,327.46 452.05,327.53 452.05,327.60" fill="#dc1a1a" stroke="none" stroke-width="0"/>
<polyline points="444.05,325.70 444.30,324.78 444.55,323.40 444.80,321.39 445.05,318.56 445.30,314.72 445.55,309.73 445.80,303.51 446.05,296.12 446.30,287.83 446.55,279.12 446.80,270.73 447.05,263.63 447.30,259.06 447.55,259.74 447.80,264.17 448.05,270.88 448.30,278.72 448.55,286.78 448.80,294.40 449.05,301.15 449.30,306.82 449.55,311.35 449.80,314.84 450.05,317.41 450.30,319.23 450.55,320.48 450.80,321.30" fill="none" stroke="#333" stroke-width="0.55"/>
<line x1="428.30" y1="251.90" x2="428.30" y2="327.60" stroke="#666" stroke-width="0.7" />
<line x1="428.30" y1="327.60" x2="515.70" y2="327.60" stroke="#666" stroke-width="0.7" />
<path d="M445.9 330.2 L447.4 327.4 L448.9 330.2 Z" fill="#111"/>
<path d="M463.5 330.2 L465.0 327.4 L466.5 330.2 Z" fill="#111"/>
<line x1="425.80" y1="327.60" x2="428.30" y2="327.60" stroke="#555" stroke-width="0.6" />
<text x="423.3" y="329.4" font-family="'Liberation Serif', serif" font-size="5.3" font-weight="bold" fill="#222" text-anchor="end" stroke="#222" stroke-width="0.15">0</text>
<line x1="425.80" y1="302.37" x2="428.30" y2="302.37" stroke="#555" stroke-width="0.6" />
<text x="423.3" y="304.2" font-family="'Liberation Serif', serif" font-size="5.3" font-weight="bold" fill="#222" text-anchor="end" stroke="#222" stroke-width="0.15">1000</text>
<line x1="425.80" y1="277.13" x2="428.30" y2="277.13" stroke="#555" stroke-width="0.6" />
<text x="423.3" y="278.9" font-family="'Liberation Serif', serif" font-size="5.3" font-weight="bold" fill="#222" text-anchor="end" stroke="#222" stroke-width="0.15">2000</text>
<line x1="425.80" y1="251.90" x2="428.30" y2="251.90" stroke="#555" stroke-width="0.6" />
<text x="423.3" y="253.7" font-family="'Liberation Serif', serif" font-size="5.3" font-weight="bold" fill="#222" text-anchor="end" stroke="#222" stroke-width="0.15">3000</text>
<line x1="427.10" y1="327.60" x2="428.30" y2="327.60" stroke="#666" stroke-width="0.35" />
<line x1="427.10" y1="325.08" x2="428.30" y2="325.08" stroke="#666" stroke-width="0.35" />
<line x1="427.10" y1="322.55" x2="428.30" y2="322.55" stroke="#666" stroke-width="0.35" />
<line x1="427.10" y1="320.03" x2="428.30" y2="320.03" stroke="#666" stroke-width="0.35" />
<line x1="427.10" y1="317.51" x2="428.30" y2="317.51" stroke="#666" stroke-width="0.35" />
<line x1="427.10" y1="314.98" x2="428.30" y2="314.98" stroke="#666" stroke-width="0.35" />
<line x1="427.10" y1="312.46" x2="428.30" y2="312.46" stroke="#666" stroke-width="0.35" />
<line x1="427.10" y1="309.94" x2="428.30" y2="309.94" stroke="#666" stroke-width="0.35" />
<line x1="427.10" y1="307.41" x2="428.30" y2="307.41" stroke="#666" stroke-width="0.35" />
<line x1="427.10" y1="304.89" x2="428.30" y2="304.89" stroke="#666" stroke-width="0.35" />
<line x1="427.10" y1="302.37" x2="428.30" y2="302.37" stroke="#666" stroke-width="0.35" />
<line x1="427.10" y1="299.84" x2="428.30" y2="299.84" stroke="#666" stroke-width="0.35" />
<line x1="427.10" y1="297.32" x2="428.30" y2="297.32" stroke="#666" stroke-width="0.35" />
<line x1="427.10" y1="294.80" x2="428.30" y2="294.80" stroke="#666" stroke-width="0.35" />
<line x1="427.10" y1="292.27" x2="428.30" y2="292.27" stroke="#666" stroke-width="0.35" />
<line x1="427.10" y1="289.75" x2="428.30" y2="289.75" stroke="#666" stroke-width="0.35" />
<line x1="427.10" y1="287.23" x2="428.30" y2="287.23" stroke="#666" stroke-width="0.35" />
<line x1="427.10" y1="284.70" x2="428.30" y2="284.70" stroke="#666" stroke-width="0.35" />
<line x1="427.10" y1="282.18" x2="428.30" y2="282.18" stroke="#666" stroke-width="0.35" />
<line x1="427.10" y1="279.66" x2="428.30" y2="279.66" stroke="#666" stroke-width="0.35" />
<line x1="427.10" y1="277.13" x2="428.30" y2="277.13" stroke="#666" stroke-width="0.35" />
<line x1="427.10" y1="274.61" x2="428.30" y2="274.61" stroke="#666" stroke-width="0.35" />
<line x1="427.10" y1="272.09" x2="428.30" y2="272.09" stroke="#666" stroke-width="0.35" />
<line x1="427.10" y1="269.56" x2="428.30" y2="269.56" stroke="#666" stroke-width="0.35" />
<line x1="427.10" y1="267.04" x2="428.30" y2="267.04" stroke="#666" stroke-width="0.35" />
<line x1="427.10" y1="264.52" x2="428.30" y2="264.52" stroke="#666" stroke-width="0.35" />
<line x1="427.10" y1="261.99" x2="428.30" y2="261.99" stroke="#666" stroke-width="0.35" />
<line x1="427.10" y1="259.47" x2="428.30" y2="259.47" stroke="#666" stroke-width="0.35" />
<line x1="427.10" y1="256.95" x2="428.30" y2="256.95" stroke="#666" stroke-width="0.35" />
<line x1="427.10" y1="254.42" x2="428.30" y2="254.42" stroke="#666" stroke-width="0.35" />
<line x1="427.10" y1="251.90" x2="428.30" y2="251.90" stroke="#666" stroke-width="0.35" />
<line x1="428.70" y1="327.60" x2="428.70" y2="329.80" stroke="#555" stroke-width="0.6" />
<text x="428.7" y="334.5" font-family="'Liberation Serif', serif" font-size="5.3" font-weight="bold" fill="#222" text-anchor="middle" stroke="#222" stroke-width="0.15">0</text>
<line x1="451.60" y1="327.60" x2="451.60" y2="329.80" stroke="#555" stroke-width="0.6" />
<text x="451.6" y="334.5" font-family="'Liberation Serif', serif" font-size="5.3" font-weight="bold" fill="#222" text-anchor="middle" stroke="#222" stroke-width="0.15">40</text>
<line x1="475.50" y1="327.60" x2="475.50" y2="329.80" stroke="#555" stroke-width="0.6" />
<text x="475.5" y="334.5" font-family="'Liberation Serif', serif" font-size="5.3" font-weight="bold" fill="#222" text-anchor="middle" stroke="#222" stroke-width="0.15">80</text>
<line x1="498.50" y1="327.60" x2="498.50" y2="329.80" stroke="#555" stroke-width="0.6" />
<text x="498.5" y="334.5" font-family="'Liberation Serif', serif" font-size="5.3" font-weight="bold" fill="#222" text-anchor="middle" stroke="#222" stroke-width="0.15">120</text>
<line x1="428.30" y1="327.60" x2="428.30" y2="328.90" stroke="#666" stroke-width="0.4" />
<line x1="432.88" y1="327.60" x2="432.88" y2="328.90" stroke="#666" stroke-width="0.4" />
<line x1="437.46" y1="327.60" x2="437.46" y2="328.90" stroke="#666" stroke-width="0.4" />
<line x1="442.04" y1="327.60" x2="442.04" y2="328.90" stroke="#666" stroke-width="0.4" />
<line x1="446.62" y1="327.60" x2="446.62" y2="328.90" stroke="#666" stroke-width="0.4" />
<line x1="451.20" y1="327.60" x2="451.20" y2="328.90" stroke="#666" stroke-width="0.4" />
<line x1="455.78" y1="327.60" x2="455.78" y2="328.90" stroke="#666" stroke-width="0.4" />
<line x1="460.36" y1="327.60" x2="460.36" y2="328.90" stroke="#666" stroke-width="0.4" />
<line x1="464.94" y1="327.60" x2="464.94" y2="328.90" stroke="#666" stroke-width="0.4" />
<line x1="469.52" y1="327.60" x2="469.52" y2="328.90" stroke="#666" stroke-width="0.4" />
<line x1="474.10" y1="327.60" x2="474.10" y2="328.90" stroke="#666" stroke-width="0.4" />
<line x1="478.68" y1="327.60" x2="478.68" y2="328.90" stroke="#666" stroke-width="0.4" />
<line x1="483.26" y1="327.60" x2="483.26" y2="328.90" stroke="#666" stroke-width="0.4" />
<line x1="487.84" y1="327.60" x2="487.84" y2="328.90" stroke="#666" stroke-width="0.4" />
<line x1="492.42" y1="327.60" x2="492.42" y2="328.90" stroke="#666" stroke-width="0.4" />
<line x1="497.00" y1="327.60" x2="497.00" y2="328.90" stroke="#666" stroke-width="0.4" />
<line x1="501.58" y1="327.60" x2="501.58" y2="328.90" stroke="#666" stroke-width="0.4" />
<line x1="506.16" y1="327.60" x2="506.16" y2="328.90" stroke="#666" stroke-width="0.4" />
<line x1="510.74" y1="327.60" x2="510.74" y2="328.90" stroke="#666" stroke-width="0.4" />
<line x1="515.32" y1="327.60" x2="515.32" y2="328.90" stroke="#666" stroke-width="0.4" />
<text x="467.8" y="338.8" font-family="'Liberation Serif', serif" font-size="5.3" font-weight="bold" fill="#222" text-anchor="middle" stroke="#222" stroke-width="0.15">FLA-3</text>
<text x="411.5" y="288.2" font-family="'Liberation Serif', serif" font-size="6" font-weight="bold" fill="#222" text-anchor="middle" stroke="#222" stroke-width="0.15" transform="rotate(-90 411.5 288.2)">Number</text>
<text x="474.2" y="255.5" font-family="'Liberation Sans', sans-serif" font-size="4.5" font-weight="normal" fill="#4040c0" text-anchor="start" stroke="#4040c0" stroke-width="0.05">Diploid: 100.00 %</text>
<text x="478.2" y="261.0" font-family="'Liberation Sans', sans-serif" font-size="4.5" font-weight="normal" fill="#4040c0" text-anchor="start" stroke="#4040c0" stroke-width="0.05">Dip G1: 62.59 % at 32.82</text>
<text x="478.2" y="266.5" font-family="'Liberation Sans', sans-serif" font-size="4.5" font-weight="normal" fill="#4040c0" text-anchor="start" stroke="#4040c0" stroke-width="0.05">Dip G2: 8.44 % at 62.09</text>
<text x="478.2" y="272.0" font-family="'Liberation Sans', sans-serif" font-size="4.5" font-weight="normal" fill="#4040c0" text-anchor="start" stroke="#4040c0" stroke-width="0.05">Dip S: 28.97 %</text>
<text x="512.0" y="272.0" font-family="'Liberation Sans', sans-serif" font-size="4.5" font-weight="normal" fill="#4040c0" text-anchor="start" stroke="#4040c0" stroke-width="0.05">G2/G1: 1.89</text>
<text x="478.2" y="277.5" font-family="'Liberation Sans', sans-serif" font-size="4.5" font-weight="normal" fill="#4040c0" text-anchor="start" stroke="#4040c0" stroke-width="0.05">%CV: 4.65</text>
<rect x="478.8" y="283.2" width="4.6" height="4.3" fill="#c0c8f0" stroke="#555" stroke-width="0.5"/>
<text x="485.3" y="287.0" font-family="'Liberation Sans', sans-serif" font-size="4.4" font-weight="normal" fill="#4040c0" text-anchor="start" stroke="#4040c0" stroke-width="0.05">Debris</text>
<rect x="478.8" y="288.4" width="4.6" height="4.3" fill="#c8f0c8" stroke="#555" stroke-width="0.5"/>
<text x="485.3" y="292.2" font-family="'Liberation Sans', sans-serif" font-size="4.4" font-weight="normal" fill="#4040c0" text-anchor="start" stroke="#4040c0" stroke-width="0.05">Aggregates</text>
<rect x="478.8" y="293.6" width="4.6" height="4.3" fill="#d81818" stroke="#555" stroke-width="0.5"/>
<text x="485.3" y="297.4" font-family="'Liberation Sans', sans-serif" font-size="4.4" font-weight="normal" fill="#4040c0" text-anchor="start" stroke="#4040c0" stroke-width="0.05">Dip G1</text>
<rect x="478.8" y="298.8" width="4.6" height="4.3" fill="#d81818" stroke="#555" stroke-width="0.5"/>
<text x="485.3" y="302.6" font-family="'Liberation Sans', sans-serif" font-size="4.4" font-weight="normal" fill="#4040c0" text-anchor="start" stroke="#4040c0" stroke-width="0.05">Dip G2</text>
<rect x="478.8" y="304.0" width="4.6" height="4.3" fill="url(#hatch2)" stroke="#555" stroke-width="0.5"/>
<text x="485.3" y="307.8" font-family="'Liberation Sans', sans-serif" font-size="4.4" font-weight="normal" fill="#4040c0" text-anchor="start" stroke="#4040c0" stroke-width="0.05">Dip S</text>
<polygon points="566.45,328.00 566.45,327.92 566.70,327.85 566.95,327.75 567.20,327.60 567.45,327.41 567.70,327.16 567.95,326.89 568.20,326.61 568.45,326.34 568.70,326.10 568.95,325.90 569.20,325.75 569.45,325.65 569.70,325.58 569.95,325.54 570.20,325.52 570.45,325.51 570.70,325.50 570.95,325.50 571.20,325.50 571.45,325.50 571.70,325.50 571.95,325.50 572.20,325.50 572.45,325.50 572.70,325.50 572.95,325.50 573.20,325.50 573.45,325.50 573.70,325.50 573.95,325.50 574.20,325.50 574.45,325.50 574.70,325.50 574.95,325.50 575.20,325.50 575.45,325.50 575.70,325.50 575.95,325.50 576.20,325.50 576.45,325.50 576.70,325.50 576.95,325.50 577.20,325.50 577.45,325.50 577.70,325.50 577.95,325.50 578.20,325.50 578.45,325.50 578.70,325.50 578.95,325.50 579.20,325.50 579.45,325.50 579.70,325.51 579.95,325.51 580.20,325.51 580.45,325.52 580.70,325.52 580.95,325.53 581.20,325.54 581.45,325.56 581.70,325.58 581.95,325.60 582.20,325.64 582.45,325.67 582.70,325.72 582.95,325.77 583.20,325.84 583.45,325.91 583.70,325.99 583.95,326.08 584.20,326.18 584.45,326.29 584.70,326.41 584.95,326.53 585.20,326.65 585.45,326.78 585.70,326.90 585.95,327.02 586.20,327.14 586.45,327.25 586.70,327.36 586.95,327.45 587.20,327.54 587.45,327.62 587.70,327.69 587.95,327.75 588.20,327.80 588.45,327.84 588.70,327.88 588.95,327.91 589.20,327.93 589.45,327.95 589.45,328.00" fill="url(#hatch)" stroke="none" stroke-width="0"/>
<polyline points="555.20,327.85 555.45,327.84 555.70,327.84 555.95,327.83 556.20,327.82 556.45,327.81 556.70,327.80 556.95,327.79 557.20,327.79 557.45,327.78 557.70,327.77 557.95,327.76 558.20,327.75 558.45,327.74 558.70,327.73 558.95,327.72 559.20,327.71 559.45,327.70 559.70,327.69 559.95,327.68 560.20,327.67 560.45,327.66 560.70,327.65 560.95,327.64 561.20,327.63 561.45,327.62 561.70,327.61 561.95,327.59 562.20,327.57 562.45,327.54 562.70,327.50 562.95,327.42 563.20,327.28 563.45,327.05 563.70,326.68 563.95,326.08 564.20,325.15 564.45,323.75 564.70,321.71 564.95,318.85 565.20,314.96 565.45,309.90 565.70,303.60 565.95,296.13 566.20,287.75 566.45,278.97 566.70,270.53 566.95,263.44 567.20,258.97 567.45,259.85 567.70,264.59 567.95,271.66 568.20,279.90 568.45,288.35 568.70,296.32 568.95,303.36 569.20,309.25 569.45,313.96 569.70,317.55 569.95,320.19 570.20,322.06 570.45,323.34 570.70,324.18 570.95,324.72 571.20,325.05 571.45,325.25 571.70,325.36 571.95,325.43 572.20,325.46 572.45,325.48 572.70,325.49 572.95,325.50 573.20,325.50 573.45,325.50 573.70,325.50 573.95,325.50 574.20,325.50 574.45,325.50 574.70,325.50 574.95,325.50 575.20,325.50 575.45,325.50 575.70,325.50 575.95,325.50 576.20,325.50 576.45,325.50 576.70,325.50 576.95,325.50 577.20,325.50 577.45,325.50 577.70,325.50 577.95,325.49 578.20,325.49 578.45,325.48 578.70,325.47 578.95,325.46 579.20,325.44 579.45,325.41 579.70,325.37 579.95,325.31 580.20,325.23 580.45,325.14 580.70,325.01 580.95,324.85 581.20,324.65 581.45,324.41 581.70,324.13 581.95,323.79 582.20,323.42 582.45,323.00 582.70,322.55 582.95,322.07 583.20,321.58 583.45,321.09 583.70,320.63 583.95,320.21 584.20,319.84 584.45,319.56 584.70,319.37 584.95,319.28 585.20,319.30 585.45,319.44 585.70,319.70 585.95,320.05 586.20,320.50 586.45,321.02 586.70,321.60 586.95,322.22 587.20,322.85 587.45,323.48 587.70,324.09 587.95,324.67 588.20,325.20 588.45,325.69 588.70,326.12 588.95,326.49 589.20,326.81 589.45,327.07 589.70,327.29 589.95,327.46 590.20,327.60 590.45,327.71 590.70,327.79 590.95,327.85 591.20,327.89 591.45,327.93 591.70,327.95 591.95,327.97 592.20,327.98 592.45,327.99 592.70,327.99 592.95,327.99 593.20,328.00 593.45,328.00 593.70,328.00 593.95,328.00" fill="none" stroke="#555" stroke-width="0.8"/>
<polygon points="579.20,328.00 579.20,327.95 579.45,327.92 579.70,327.88 579.95,327.84 580.20,327.77 580.45,327.69 580.70,327.58 580.95,327.44 581.20,327.26 581.45,327.05 581.70,326.79 581.95,326.49 582.20,326.14 582.45,325.74 582.70,325.31 582.95,324.84 583.20,324.34 583.45,323.83 583.70,323.33 583.95,322.85 584.20,322.40 584.45,322.01 584.70,321.70 584.95,321.47 585.20,321.33 585.45,321.30 585.70,321.37 585.95,321.55 586.20,321.82 586.45,322.16 586.70,322.58 586.95,323.04 587.20,323.53 587.45,324.04 587.70,324.54 587.95,325.03 588.20,325.49 588.45,325.91 588.70,326.28 588.95,326.61 589.20,326.90 589.45,327.14 589.70,327.34 589.95,327.50 590.20,327.62 590.45,327.72 590.70,327.80 590.95,327.86 591.20,327.90 591.45,327.93 591.45,328.00" fill="#dc1a1a" stroke="none" stroke-width="0"/>
<polygon points="562.70,328.00 562.70,327.92 562.95,327.84 563.20,327.71 563.45,327.49 563.70,327.13 563.95,326.54 564.20,325.61 564.45,324.22 564.70,322.19 564.95,319.32 565.20,315.44 565.45,310.39 565.70,304.10 565.95,296.64 566.20,288.29 566.45,279.54 566.70,271.17 566.95,264.19 567.20,259.86 567.45,260.44 567.70,265.42 567.95,272.77 568.20,281.29 568.45,290.01 568.70,298.22 568.95,305.46 569.20,311.50 569.45,316.31 569.70,319.97 569.95,322.65 570.20,324.54 570.45,325.83 570.70,326.68 570.95,327.21 571.20,327.55 571.45,327.75 571.70,327.86 571.95,327.93 571.95,328.00" fill="#dc1a1a" stroke="none" stroke-width="0"/>
<polyline points="563.95,326.08 564.20,325.15 564.45,323.75 564.70,321.71 564.95,318.85 565.20,314.96 565.45,309.90 565.70,303.60 565.95,296.13 566.20,287.75 566.45,278.97 566.70,270.53 566.95,263.44 567.20,258.97 567.45,259.85 567.70,264.59 567.95,271.66 568.20,279.90 568.45,288.35 568.70,296.32 568.95,303.36 569.20,309.25 569.45,313.96 569.70,317.55 569.95,320.19 570.20,322.06 570.45,323.34 570.70,324.18" fill="none" stroke="#333" stroke-width="0.55"/>
<line x1="547.20" y1="253.00" x2="547.20" y2="328.00" stroke="#666" stroke-width="0.7" />
<line x1="547.20" y1="328.00" x2="634.20" y2="328.00" stroke="#666" stroke-width="0.7" />
<path d="M565.8 330.6 L567.3 327.8 L568.8 330.6 Z" fill="#111"/>
<path d="M583.9 330.6 L585.4 327.8 L586.9 330.6 Z" fill="#111"/>
<line x1="544.70" y1="328.00" x2="547.20" y2="328.00" stroke="#555" stroke-width="0.6" />
<text x="542.2" y="329.8" font-family="'Liberation Serif', serif" font-size="5.3" font-weight="bold" fill="#222" text-anchor="end" stroke="#222" stroke-width="0.15">0</text>
<line x1="544.70" y1="303.00" x2="547.20" y2="303.00" stroke="#555" stroke-width="0.6" />
<text x="542.2" y="304.8" font-family="'Liberation Serif', serif" font-size="5.3" font-weight="bold" fill="#222" text-anchor="end" stroke="#222" stroke-width="0.15">1000</text>
<line x1="544.70" y1="278.00" x2="547.20" y2="278.00" stroke="#555" stroke-width="0.6" />
<text x="542.2" y="279.8" font-family="'Liberation Serif', serif" font-size="5.3" font-weight="bold" fill="#222" text-anchor="end" stroke="#222" stroke-width="0.15">2000</text>
<line x1="544.70" y1="253.00" x2="547.20" y2="253.00" stroke="#555" stroke-width="0.6" />
<text x="542.2" y="254.8" font-family="'Liberation Serif', serif" font-size="5.3" font-weight="bold" fill="#222" text-anchor="end" stroke="#222" stroke-width="0.15">3000</text>
<line x1="546.00" y1="328.00" x2="547.20" y2="328.00" stroke="#666" stroke-width="0.35" />
<line x1="546.00" y1="325.50" x2="547.20" y2="325.50" stroke="#666" stroke-width="0.35" />
<line x1="546.00" y1="323.00" x2="547.20" y2="323.00" stroke="#666" stroke-width="0.35" />
<line x1="546.00" y1="320.50" x2="547.20" y2="320.50" stroke="#666" stroke-width="0.35" />
<line x1="546.00" y1="318.00" x2="547.20" y2="318.00" stroke="#666" stroke-width="0.35" />
<line x1="546.00" y1="315.50" x2="547.20" y2="315.50" stroke="#666" stroke-width="0.35" />
<line x1="546.00" y1="313.00" x2="547.20" y2="313.00" stroke="#666" stroke-width="0.35" />
<line x1="546.00" y1="310.50" x2="547.20" y2="310.50" stroke="#666" stroke-width="0.35" />
<line x1="546.00" y1="308.00" x2="547.20" y2="308.00" stroke="#666" stroke-width="0.35" />
<line x1="546.00" y1="305.50" x2="547.20" y2="305.50" stroke="#666" stroke-width="0.35" />
<line x1="546.00" y1="303.00" x2="547.20" y2="303.00" stroke="#666" stroke-width="0.35" />
<line x1="546.00" y1="300.50" x2="547.20" y2="300.50" stroke="#666" stroke-width="0.35" />
<line x1="546.00" y1="298.00" x2="547.20" y2="298.00" stroke="#666" stroke-width="0.35" />
<line x1="546.00" y1="295.50" x2="547.20" y2="295.50" stroke="#666" stroke-width="0.35" />
<line x1="546.00" y1="293.00" x2="547.20" y2="293.00" stroke="#666" stroke-width="0.35" />
<line x1="546.00" y1="290.50" x2="547.20" y2="290.50" stroke="#666" stroke-width="0.35" />
<line x1="546.00" y1="288.00" x2="547.20" y2="288.00" stroke="#666" stroke-width="0.35" />
<line x1="546.00" y1="285.50" x2="547.20" y2="285.50" stroke="#666" stroke-width="0.35" />
<line x1="546.00" y1="283.00" x2="547.20" y2="283.00" stroke="#666" stroke-width="0.35" />
<line x1="546.00" y1="280.50" x2="547.20" y2="280.50" stroke="#666" stroke-width="0.35" />
<line x1="546.00" y1="278.00" x2="547.20" y2="278.00" stroke="#666" stroke-width="0.35" />
<line x1="546.00" y1="275.50" x2="547.20" y2="275.50" stroke="#666" stroke-width="0.35" />
<line x1="546.00" y1="273.00" x2="547.20" y2="273.00" stroke="#666" stroke-width="0.35" />
<line x1="546.00" y1="270.50" x2="547.20" y2="270.50" stroke="#666" stroke-width="0.35" />
<line x1="546.00" y1="268.00" x2="547.20" y2="268.00" stroke="#666" stroke-width="0.35" />
<line x1="546.00" y1="265.50" x2="547.20" y2="265.50" stroke="#666" stroke-width="0.35" />
<line x1="546.00" y1="263.00" x2="547.20" y2="263.00" stroke="#666" stroke-width="0.35" />
<line x1="546.00" y1="260.50" x2="547.20" y2="260.50" stroke="#666" stroke-width="0.35" />
<line x1="546.00" y1="258.00" x2="547.20" y2="258.00" stroke="#666" stroke-width="0.35" />
<line x1="546.00" y1="255.50" x2="547.20" y2="255.50" stroke="#666" stroke-width="0.35" />
<line x1="546.00" y1="253.00" x2="547.20" y2="253.00" stroke="#666" stroke-width="0.35" />
<line x1="547.60" y1="328.00" x2="547.60" y2="330.20" stroke="#555" stroke-width="0.6" />
<text x="547.6" y="334.9" font-family="'Liberation Serif', serif" font-size="5.3" font-weight="bold" fill="#222" text-anchor="middle" stroke="#222" stroke-width="0.15">0</text>
<line x1="569.20" y1="328.00" x2="569.20" y2="330.20" stroke="#555" stroke-width="0.6" />
<text x="569.2" y="334.9" font-family="'Liberation Serif', serif" font-size="5.3" font-weight="bold" fill="#222" text-anchor="middle" stroke="#222" stroke-width="0.15">40</text>
<line x1="593.10" y1="328.00" x2="593.10" y2="330.20" stroke="#555" stroke-width="0.6" />
<text x="593.1" y="334.9" font-family="'Liberation Serif', serif" font-size="5.3" font-weight="bold" fill="#222" text-anchor="middle" stroke="#222" stroke-width="0.15">80</text>
<line x1="616.00" y1="328.00" x2="616.00" y2="330.20" stroke="#555" stroke-width="0.6" />
<text x="616.0" y="334.9" font-family="'Liberation Serif', serif" font-size="5.3" font-weight="bold" fill="#222" text-anchor="middle" stroke="#222" stroke-width="0.15">120</text>
<line x1="547.20" y1="328.00" x2="547.20" y2="329.30" stroke="#666" stroke-width="0.4" />
<line x1="551.52" y1="328.00" x2="551.52" y2="329.30" stroke="#666" stroke-width="0.4" />
<line x1="555.84" y1="328.00" x2="555.84" y2="329.30" stroke="#666" stroke-width="0.4" />
<line x1="560.16" y1="328.00" x2="560.16" y2="329.30" stroke="#666" stroke-width="0.4" />
<line x1="564.48" y1="328.00" x2="564.48" y2="329.30" stroke="#666" stroke-width="0.4" />
<line x1="568.80" y1="328.00" x2="568.80" y2="329.30" stroke="#666" stroke-width="0.4" />
<line x1="573.12" y1="328.00" x2="573.12" y2="329.30" stroke="#666" stroke-width="0.4" />
<line x1="577.44" y1="328.00" x2="577.44" y2="329.30" stroke="#666" stroke-width="0.4" />
<line x1="581.76" y1="328.00" x2="581.76" y2="329.30" stroke="#666" stroke-width="0.4" />
<line x1="586.08" y1="328.00" x2="586.08" y2="329.30" stroke="#666" stroke-width="0.4" />
<line x1="590.40" y1="328.00" x2="590.40" y2="329.30" stroke="#666" stroke-width="0.4" />
<line x1="594.72" y1="328.00" x2="594.72" y2="329.30" stroke="#666" stroke-width="0.4" />
<line x1="599.04" y1="328.00" x2="599.04" y2="329.30" stroke="#666" stroke-width="0.4" />
<line x1="603.36" y1="328.00" x2="603.36" y2="329.30" stroke="#666" stroke-width="0.4" />
<line x1="607.68" y1="328.00" x2="607.68" y2="329.30" stroke="#666" stroke-width="0.4" />
<line x1="612.00" y1="328.00" x2="612.00" y2="329.30" stroke="#666" stroke-width="0.4" />
<line x1="616.32" y1="328.00" x2="616.32" y2="329.30" stroke="#666" stroke-width="0.4" />
<line x1="620.64" y1="328.00" x2="620.64" y2="329.30" stroke="#666" stroke-width="0.4" />
<line x1="624.96" y1="328.00" x2="624.96" y2="329.30" stroke="#666" stroke-width="0.4" />
<line x1="629.28" y1="328.00" x2="629.28" y2="329.30" stroke="#666" stroke-width="0.4" />
<line x1="633.60" y1="328.00" x2="633.60" y2="329.30" stroke="#666" stroke-width="0.4" />
<text x="587.4" y="339.2" font-family="'Liberation Serif', serif" font-size="5.3" font-weight="bold" fill="#222" text-anchor="middle" stroke="#222" stroke-width="0.15">FLA-3</text>
<text x="531.0" y="289.0" font-family="'Liberation Serif', serif" font-size="6" font-weight="bold" fill="#222" text-anchor="middle" stroke="#222" stroke-width="0.15" transform="rotate(-90 531.0 289.0)">Number</text>
<text x="592.1" y="256.8" font-family="'Liberation Sans', sans-serif" font-size="4.5" font-weight="normal" fill="#4040c0" text-anchor="start" stroke="#4040c0" stroke-width="0.05">Diploid: 100.00 %</text>
<text x="596.1" y="262.3" font-family="'Liberation Sans', sans-serif" font-size="4.5" font-weight="normal" fill="#4040c0" text-anchor="start" stroke="#4040c0" stroke-width="0.05">Dip G1: 68.03 % at 34.69</text>
<text x="596.1" y="267.8" font-family="'Liberation Sans', sans-serif" font-size="4.5" font-weight="normal" fill="#4040c0" text-anchor="start" stroke="#4040c0" stroke-width="0.05">Dip G2: 13.04 % at 65.83</text>
<text x="596.1" y="273.3" font-family="'Liberation Sans', sans-serif" font-size="4.5" font-weight="normal" fill="#4040c0" text-anchor="start" stroke="#4040c0" stroke-width="0.05">Dip S: 18.92 %</text>
<text x="629.9" y="273.3" font-family="'Liberation Sans', sans-serif" font-size="4.5" font-weight="normal" fill="#4040c0" text-anchor="start" stroke="#4040c0" stroke-width="0.05">G2/G1: 1.90</text>
<text x="596.1" y="278.8" font-family="'Liberation Sans', sans-serif" font-size="4.5" font-weight="normal" fill="#4040c0" text-anchor="start" stroke="#4040c0" stroke-width="0.05">%CV: 4.48</text>
<rect x="596.5" y="283.2" width="4.6" height="4.3" fill="#c0c8f0" stroke="#555" stroke-width="0.5"/>
<text x="603.0" y="287.0" font-family="'Liberation Sans', sans-serif" font-size="4.4" font-weight="normal" fill="#4040c0" text-anchor="start" stroke="#4040c0" stroke-width="0.05">Debris</text>
<rect x="596.5" y="288.4" width="4.6" height="4.3" fill="#c8f0c8" stroke="#555" stroke-width="0.5"/>
<text x="603.0" y="292.2" font-family="'Liberation Sans', sans-serif" font-size="4.4" font-weight="normal" fill="#4040c0" text-anchor="start" stroke="#4040c0" stroke-width="0.05">Aggregates</text>
<rect x="596.5" y="293.6" width="4.6" height="4.3" fill="#d81818" stroke="#555" stroke-width="0.5"/>
<text x="603.0" y="297.4" font-family="'Liberation Sans', sans-serif" font-size="4.4" font-weight="normal" fill="#4040c0" text-anchor="start" stroke="#4040c0" stroke-width="0.05">Dip G1</text>
<rect x="596.5" y="298.8" width="4.6" height="4.3" fill="#d81818" stroke="#555" stroke-width="0.5"/>
<text x="603.0" y="302.6" font-family="'Liberation Sans', sans-serif" font-size="4.4" font-weight="normal" fill="#4040c0" text-anchor="start" stroke="#4040c0" stroke-width="0.05">Dip G2</text>
<rect x="596.5" y="304.0" width="4.6" height="4.3" fill="url(#hatch2)" stroke="#555" stroke-width="0.5"/>
<text x="603.0" y="307.8" font-family="'Liberation Sans', sans-serif" font-size="4.4" font-weight="normal" fill="#4040c0" text-anchor="start" stroke="#4040c0" stroke-width="0.05">Dip S</text>
<polygon points="685.75,328.30 685.75,328.25 686.00,328.20 686.25,328.12 686.50,327.99 686.75,327.81 687.00,327.58 687.25,327.31 687.50,327.00 687.75,326.68 688.00,326.38 688.25,326.12 688.50,325.91 688.75,325.75 689.00,325.65 689.25,325.58 689.50,325.54 689.75,325.52 690.00,325.51 690.25,325.50 690.50,325.50 690.75,325.50 691.00,325.50 691.25,325.50 691.50,325.50 691.75,325.50 692.00,325.50 692.25,325.50 692.50,325.50 692.75,325.50 693.00,325.50 693.25,325.50 693.50,325.50 693.75,325.50 694.00,325.50 694.25,325.50 694.50,325.50 694.75,325.50 695.00,325.50 695.25,325.50 695.50,325.50 695.75,325.50 696.00,325.50 696.25,325.50 696.50,325.50 696.75,325.50 697.00,325.50 697.25,325.50 697.50,325.50 697.75,325.50 698.00,325.50 698.25,325.50 698.50,325.50 698.75,325.50 699.00,325.50 699.25,325.50 699.50,325.50 699.75,325.50 700.00,325.50 700.25,325.50 700.50,325.50 700.75,325.50 701.00,325.50 701.25,325.50 701.50,325.51 701.75,325.51 702.00,325.51 702.25,325.52 702.50,325.52 702.75,325.53 703.00,325.54 703.25,325.56 703.50,325.58 703.75,325.61 704.00,325.64 704.25,325.68 704.50,325.72 704.75,325.78 705.00,325.85 705.25,325.93 705.50,326.01 705.75,326.11 706.00,326.22 706.25,326.34 706.50,326.46 706.75,326.60 707.00,326.73 707.25,326.87 707.50,327.01 707.75,327.15 708.00,327.28 708.25,327.41 708.50,327.53 708.75,327.65 709.00,327.75 709.25,327.84 709.50,327.92 709.75,327.99 710.00,328.05 710.25,328.11 710.50,328.15 710.75,328.18 711.00,328.21 711.25,328.23 711.25,328.30" fill="url(#hatch)" stroke="none" stroke-width="0"/>
<polyline points="674.50,328.16 674.75,328.15 675.00,328.14 675.25,328.14 675.50,328.13 675.75,328.12 676.00,328.11 676.25,328.10 676.50,328.09 676.75,328.08 677.00,328.07 677.25,328.07 677.50,328.06 677.75,328.05 678.00,328.04 678.25,328.03 678.50,328.02 678.75,328.01 679.00,328.00 679.25,327.99 679.50,327.98 679.75,327.97 680.00,327.96 680.25,327.95 680.50,327.94 680.75,327.93 681.00,327.92 681.25,327.91 681.50,327.89 681.75,327.87 682.00,327.84 682.25,327.78 682.50,327.69 682.75,327.53 683.00,327.27 683.25,326.85 683.50,326.17 683.75,325.13 684.00,323.57 684.25,321.32 684.50,318.16 684.75,313.93 685.00,308.46 685.25,301.71 685.50,293.79 685.75,285.01 686.00,275.95 686.25,267.43 686.50,260.54 686.75,256.65 687.00,258.68 687.25,264.14 687.50,271.74 687.75,280.32 688.00,288.96 688.25,296.99 688.50,304.01 688.75,309.83 689.00,314.44 689.25,317.93 689.50,320.48 689.75,322.26 690.00,323.48 690.25,324.27 690.50,324.77 690.75,325.08 691.00,325.27 691.25,325.37 691.50,325.43 691.75,325.47 692.00,325.48 692.25,325.49 692.50,325.50 692.75,325.50 693.00,325.50 693.25,325.50 693.50,325.50 693.75,325.50 694.00,325.50 694.25,325.50 694.50,325.50 694.75,325.50 695.00,325.50 695.25,325.50 695.50,325.50 695.75,325.50 696.00,325.50 696.25,325.50 696.50,325.50 696.75,325.50 697.00,325.50 697.25,325.50 697.50,325.50 697.75,325.50 698.00,325.50 698.25,325.50 698.50,325.50 698.75,325.50 699.00,325.50 699.25,325.50 699.50,325.49 699.75,325.49 700.00,325.48 700.25,325.48 700.50,325.46 700.75,325.44 701.00,325.41 701.25,325.37 701.50,325.31 701.75,325.22 702.00,325.11 702.25,324.96 702.50,324.77 702.75,324.53 703.00,324.24 703.25,323.89 703.50,323.49 703.75,323.03 704.00,322.52 704.25,321.98 704.50,321.42 704.75,320.86 705.00,320.32 705.25,319.84 705.50,319.44 705.75,319.14 706.00,318.95 706.25,318.91 706.50,319.00 706.75,319.24 707.00,319.61 707.25,320.09 707.50,320.67 707.75,321.33 708.00,322.03 708.25,322.75 708.50,323.46 708.75,324.15 709.00,324.80 709.25,325.39 709.50,325.91 709.75,326.38 710.00,326.77 710.25,327.10 710.50,327.37 710.75,327.59 711.00,327.77 711.25,327.90 711.50,328.01 711.75,328.09 712.00,328.15 712.25,328.19 712.50,328.23 712.75,328.25 713.00,328.27 713.25,328.28 713.50,328.28 713.75,328.29 714.00,328.29 714.25,328.30 714.50,328.30 714.75,328.30 715.00,328.30 715.25,328.30 715.50,328.30 715.75,328.30 716.00,328.30" fill="none" stroke="#555" stroke-width="0.8"/>
<polygon points="702.25,328.30 702.25,328.25 702.50,328.23 702.75,328.20 703.00,328.17 703.25,328.13 703.50,328.09 703.75,328.03 704.00,327.97 704.25,327.89 704.50,327.81 704.75,327.72 705.00,327.63 705.25,327.53 705.50,327.43 705.75,327.34 706.00,327.25 706.25,327.17 706.50,327.10 706.75,327.05 707.00,327.01 707.25,327.00 707.50,327.01 707.75,327.03 708.00,327.08 708.25,327.14 708.50,327.21 708.75,327.30 709.00,327.39 709.25,327.49 709.50,327.59 709.75,327.69 710.00,327.78 710.25,327.86 710.50,327.94 710.75,328.01 711.00,328.07 711.25,328.12 711.50,328.16 711.75,328.19 712.00,328.22 712.25,328.24 712.25,328.30" fill="#dc1a1a" stroke="none" stroke-width="0"/>
<polygon points="682.00,328.30 682.00,328.25 682.25,328.20 682.50,328.12 682.75,327.97 683.00,327.72 683.25,327.30 683.50,326.63 683.75,325.60 684.00,324.04 684.25,321.79 684.50,318.64 684.75,314.41 685.00,308.95 685.25,302.21 685.50,294.31 685.75,285.56 686.00,276.55 686.25,268.11 686.50,261.35 686.75,257.63 687.00,259.40 687.25,265.14 687.50,273.05 687.75,281.94 688.00,290.88 688.25,299.18 688.50,306.40 688.75,312.38 689.00,317.09 689.25,320.65 689.50,323.24 689.75,325.05 690.00,326.27 690.25,327.07 690.50,327.57 690.75,327.88 691.00,328.07 691.25,328.17 691.50,328.23 691.50,328.30" fill="#dc1a1a" stroke="none" stroke-width="0"/>
<polyline points="683.50,326.17 683.75,325.13 684.00,323.57 684.25,321.32 684.50,318.16 684.75,313.93 685.00,308.46 685.25,301.71 685.50,293.79 685.75,285.01 686.00,275.95 686.25,267.43 686.50,260.54 686.75,256.65 687.00,258.68 687.25,264.14 687.50,271.74 687.75,280.32 688.00,288.96 688.25,296.99 688.50,304.01 688.75,309.83 689.00,314.44 689.25,317.93 689.50,320.48 689.75,322.26 690.00,323.48" fill="none" stroke="#333" stroke-width="0.55"/>
<line x1="666.50" y1="253.80" x2="666.50" y2="328.30" stroke="#666" stroke-width="0.7" />
<line x1="666.50" y1="328.30" x2="753.20" y2="328.30" stroke="#666" stroke-width="0.7" />
<path d="M685.3 330.9 L686.8 328.1 L688.3 330.9 Z" fill="#111"/>
<path d="M705.8 330.9 L707.3 328.1 L708.8 330.9 Z" fill="#111"/>
<line x1="664.00" y1="328.30" x2="666.50" y2="328.30" stroke="#555" stroke-width="0.6" />
<text x="661.5" y="330.1" font-family="'Liberation Serif', serif" font-size="5.3" font-weight="bold" fill="#222" text-anchor="end" stroke="#222" stroke-width="0.15">0</text>
<line x1="664.00" y1="303.47" x2="666.50" y2="303.47" stroke="#555" stroke-width="0.6" />
<text x="661.5" y="305.3" font-family="'Liberation Serif', serif" font-size="5.3" font-weight="bold" fill="#222" text-anchor="end" stroke="#222" stroke-width="0.15">1000</text>
<line x1="664.00" y1="278.63" x2="666.50" y2="278.63" stroke="#555" stroke-width="0.6" />
<text x="661.5" y="280.4" font-family="'Liberation Serif', serif" font-size="5.3" font-weight="bold" fill="#222" text-anchor="end" stroke="#222" stroke-width="0.15">2000</text>
<line x1="664.00" y1="253.80" x2="666.50" y2="253.80" stroke="#555" stroke-width="0.6" />
<text x="661.5" y="255.6" font-family="'Liberation Serif', serif" font-size="5.3" font-weight="bold" fill="#222" text-anchor="end" stroke="#222" stroke-width="0.15">3000</text>
<line x1="665.30" y1="328.30" x2="666.50" y2="328.30" stroke="#666" stroke-width="0.35" />
<line x1="665.30" y1="325.82" x2="666.50" y2="325.82" stroke="#666" stroke-width="0.35" />
<line x1="665.30" y1="323.33" x2="666.50" y2="323.33" stroke="#666" stroke-width="0.35" />
<line x1="665.30" y1="320.85" x2="666.50" y2="320.85" stroke="#666" stroke-width="0.35" />
<line x1="665.30" y1="318.37" x2="666.50" y2="318.37" stroke="#666" stroke-width="0.35" />
<line x1="665.30" y1="315.88" x2="666.50" y2="315.88" stroke="#666" stroke-width="0.35" />
<line x1="665.30" y1="313.40" x2="666.50" y2="313.40" stroke="#666" stroke-width="0.35" />
<line x1="665.30" y1="310.92" x2="666.50" y2="310.92" stroke="#666" stroke-width="0.35" />
<line x1="665.30" y1="308.43" x2="666.50" y2="308.43" stroke="#666" stroke-width="0.35" />
<line x1="665.30" y1="305.95" x2="666.50" y2="305.95" stroke="#666" stroke-width="0.35" />
<line x1="665.30" y1="303.47" x2="666.50" y2="303.47" stroke="#666" stroke-width="0.35" />
<line x1="665.30" y1="300.98" x2="666.50" y2="300.98" stroke="#666" stroke-width="0.35" />
<line x1="665.30" y1="298.50" x2="666.50" y2="298.50" stroke="#666" stroke-width="0.35" />
<line x1="665.30" y1="296.02" x2="666.50" y2="296.02" stroke="#666" stroke-width="0.35" />
<line x1="665.30" y1="293.53" x2="666.50" y2="293.53" stroke="#666" stroke-width="0.35" />
<line x1="665.30" y1="291.05" x2="666.50" y2="291.05" stroke="#666" stroke-width="0.35" />
<line x1="665.30" y1="288.57" x2="666.50" y2="288.57" stroke="#666" stroke-width="0.35" />
<line x1="665.30" y1="286.08" x2="666.50" y2="286.08" stroke="#666" stroke-width="0.35" />
<line x1="665.30" y1="283.60" x2="666.50" y2="283.60" stroke="#666" stroke-width="0.35" />
<line x1="665.30" y1="281.12" x2="666.50" y2="281.12" stroke="#666" stroke-width="0.35" />
<line x1="665.30" y1="278.63" x2="666.50" y2="278.63" stroke="#666" stroke-width="0.35" />
<line x1="665.30" y1="276.15" x2="666.50" y2="276.15" stroke="#666" stroke-width="0.35" />
<line x1="665.30" y1="273.67" x2="666.50" y2="273.67" stroke="#666" stroke-width="0.35" />
<line x1="665.30" y1="271.18" x2="666.50" y2="271.18" stroke="#666" stroke-width="0.35" />
<line x1="665.30" y1="268.70" x2="666.50" y2="268.70" stroke="#666" stroke-width="0.35" />
<line x1="665.30" y1="266.22" x2="666.50" y2="266.22" stroke="#666" stroke-width="0.35" />
<line x1="665.30" y1="263.73" x2="666.50" y2="263.73" stroke="#666" stroke-width="0.35" />
<line x1="665.30" y1="261.25" x2="666.50" y2="261.25" stroke="#666" stroke-width="0.35" />
<line x1="665.30" y1="258.77" x2="666.50" y2="258.77" stroke="#666" stroke-width="0.35" />
<line x1="665.30" y1="256.28" x2="666.50" y2="256.28" stroke="#666" stroke-width="0.35" />
<line x1="665.30" y1="253.80" x2="666.50" y2="253.80" stroke="#666" stroke-width="0.35" />
<line x1="666.50" y1="328.30" x2="666.50" y2="330.50" stroke="#555" stroke-width="0.6" />
<text x="666.5" y="335.2" font-family="'Liberation Serif', serif" font-size="5.3" font-weight="bold" fill="#222" text-anchor="middle" stroke="#222" stroke-width="0.15">0</text>
<line x1="690.40" y1="328.30" x2="690.40" y2="330.50" stroke="#555" stroke-width="0.6" />
<text x="690.4" y="335.2" font-family="'Liberation Serif', serif" font-size="5.3" font-weight="bold" fill="#222" text-anchor="middle" stroke="#222" stroke-width="0.15">40</text>
<line x1="713.00" y1="328.30" x2="713.00" y2="330.50" stroke="#555" stroke-width="0.6" />
<text x="713.0" y="335.2" font-family="'Liberation Serif', serif" font-size="5.3" font-weight="bold" fill="#222" text-anchor="middle" stroke="#222" stroke-width="0.15">80</text>
<line x1="736.00" y1="328.30" x2="736.00" y2="330.50" stroke="#555" stroke-width="0.6" />
<text x="736.0" y="335.2" font-family="'Liberation Serif', serif" font-size="5.3" font-weight="bold" fill="#222" text-anchor="middle" stroke="#222" stroke-width="0.15">120</text>
<line x1="666.50" y1="328.30" x2="666.50" y2="329.60" stroke="#666" stroke-width="0.4" />
<line x1="671.28" y1="328.30" x2="671.28" y2="329.60" stroke="#666" stroke-width="0.4" />
<line x1="676.06" y1="328.30" x2="676.06" y2="329.60" stroke="#666" stroke-width="0.4" />
<line x1="680.84" y1="328.30" x2="680.84" y2="329.60" stroke="#666" stroke-width="0.4" />
<line x1="685.62" y1="328.30" x2="685.62" y2="329.60" stroke="#666" stroke-width="0.4" />
<line x1="690.40" y1="328.30" x2="690.40" y2="329.60" stroke="#666" stroke-width="0.4" />
<line x1="695.18" y1="328.30" x2="695.18" y2="329.60" stroke="#666" stroke-width="0.4" />
<line x1="699.96" y1="328.30" x2="699.96" y2="329.60" stroke="#666" stroke-width="0.4" />
<line x1="704.74" y1="328.30" x2="704.74" y2="329.60" stroke="#666" stroke-width="0.4" />
<line x1="709.52" y1="328.30" x2="709.52" y2="329.60" stroke="#666" stroke-width="0.4" />
<line x1="714.30" y1="328.30" x2="714.30" y2="329.60" stroke="#666" stroke-width="0.4" />
<line x1="719.08" y1="328.30" x2="719.08" y2="329.60" stroke="#666" stroke-width="0.4" />
<line x1="723.86" y1="328.30" x2="723.86" y2="329.60" stroke="#666" stroke-width="0.4" />
<line x1="728.64" y1="328.30" x2="728.64" y2="329.60" stroke="#666" stroke-width="0.4" />
<line x1="733.42" y1="328.30" x2="733.42" y2="329.60" stroke="#666" stroke-width="0.4" />
<line x1="738.20" y1="328.30" x2="738.20" y2="329.60" stroke="#666" stroke-width="0.4" />
<line x1="742.98" y1="328.30" x2="742.98" y2="329.60" stroke="#666" stroke-width="0.4" />
<line x1="747.76" y1="328.30" x2="747.76" y2="329.60" stroke="#666" stroke-width="0.4" />
<line x1="752.54" y1="328.30" x2="752.54" y2="329.60" stroke="#666" stroke-width="0.4" />
<text x="699.0" y="339.5" font-family="'Liberation Serif', serif" font-size="5.3" font-weight="bold" fill="#222" text-anchor="middle" stroke="#222" stroke-width="0.15">FLA-3</text>
<text x="650.5" y="289.6" font-family="'Liberation Serif', serif" font-size="6" font-weight="bold" fill="#222" text-anchor="middle" stroke="#222" stroke-width="0.15" transform="rotate(-90 650.5 289.6)">Number</text>
<text x="714.0" y="255.5" font-family="'Liberation Sans', sans-serif" font-size="4.5" font-weight="normal" fill="#4040c0" text-anchor="start" stroke="#4040c0" stroke-width="0.05">Diploid: 100.00 %</text>
<text x="718.0" y="261.0" font-family="'Liberation Sans', sans-serif" font-size="4.5" font-weight="normal" fill="#4040c0" text-anchor="start" stroke="#4040c0" stroke-width="0.05">Dip G1: 72.62 % at 35.06</text>
<text x="718.0" y="266.5" font-family="'Liberation Sans', sans-serif" font-size="4.5" font-weight="normal" fill="#4040c0" text-anchor="start" stroke="#4040c0" stroke-width="0.05">Dip G2: 3.89 % at 70.12</text>
<text x="718.0" y="272.0" font-family="'Liberation Sans', sans-serif" font-size="4.5" font-weight="normal" fill="#4040c0" text-anchor="start" stroke="#4040c0" stroke-width="0.05">Dip S: 23.49 %</text>
<text x="751.8" y="272.0" font-family="'Liberation Sans', sans-serif" font-size="4.5" font-weight="normal" fill="#4040c0" text-anchor="start" stroke="#4040c0" stroke-width="0.05">G2/G1: 2.00</text>
<text x="718.0" y="277.5" font-family="'Liberation Sans', sans-serif" font-size="4.5" font-weight="normal" fill="#4040c0" text-anchor="start" stroke="#4040c0" stroke-width="0.05">%CV: 4.91</text>
<rect x="718.7" y="283.2" width="4.6" height="4.3" fill="#c0c8f0" stroke="#555" stroke-width="0.5"/>
<text x="725.2" y="287.0" font-family="'Liberation Sans', sans-serif" font-size="4.4" font-weight="normal" fill="#4040c0" text-anchor="start" stroke="#4040c0" stroke-width="0.05">Debris</text>
<rect x="718.7" y="288.4" width="4.6" height="4.3" fill="#c8f0c8" stroke="#555" stroke-width="0.5"/>
<text x="725.2" y="292.2" font-family="'Liberation Sans', sans-serif" font-size="4.4" font-weight="normal" fill="#4040c0" text-anchor="start" stroke="#4040c0" stroke-width="0.05">Aggregates</text>
<rect x="718.7" y="293.6" width="4.6" height="4.3" fill="#d81818" stroke="#555" stroke-width="0.5"/>
<text x="725.2" y="297.4" font-family="'Liberation Sans', sans-serif" font-size="4.4" font-weight="normal" fill="#4040c0" text-anchor="start" stroke="#4040c0" stroke-width="0.05">Dip G1</text>
<rect x="718.7" y="298.8" width="4.6" height="4.3" fill="#d81818" stroke="#555" stroke-width="0.5"/>
<text x="725.2" y="302.6" font-family="'Liberation Sans', sans-serif" font-size="4.4" font-weight="normal" fill="#4040c0" text-anchor="start" stroke="#4040c0" stroke-width="0.05">Dip G2</text>
<rect x="718.7" y="304.0" width="4.6" height="4.3" fill="url(#hatch2)" stroke="#555" stroke-width="0.5"/>
<text x="725.2" y="307.8" font-family="'Liberation Sans', sans-serif" font-size="4.4" font-weight="normal" fill="#4040c0" text-anchor="start" stroke="#4040c0" stroke-width="0.05">Dip S</text>
<defs><pattern id="graypat" patternUnits="userSpaceOnUse" width="2" height="2"><rect width="2" height="2" fill="#8a8a8a"/><rect width="1" height="1" fill="#a8a8a8"/><rect x="1" y="1" width="1" height="1" fill="#a0a0a0"/></pattern></defs>
<text x="2.5" y="397.5" font-family="'Liberation Serif', serif" font-size="20.5" font-weight="bold" fill="#111" text-anchor="start" stroke="#111" stroke-width="0.45">C</text>
<text x="67.0" y="396.0" font-family="'Liberation Serif', serif" font-size="6.6" font-weight="bold" fill="#111" text-anchor="middle" stroke="#111" stroke-width="0.2">HMVII</text>
<rect x="24.2" y="472.0" width="6.6" height="7.4" fill="#111" stroke="#111" stroke-width="1.1"/>
<line x1="36.20" y1="468.62" x2="36.20" y2="463.72" stroke="#111" stroke-width="0.9" />
<line x1="34.20" y1="463.72" x2="38.20" y2="463.72" stroke="#111" stroke-width="0.9" />
<rect x="32.8" y="468.6" width="6.8" height="10.8" fill="#fff" stroke="#111" stroke-width="1.1"/>
<line x1="44.90" y1="472.54" x2="44.90" y2="470.09" stroke="#111" stroke-width="0.9" />
<line x1="42.90" y1="470.09" x2="46.90" y2="470.09" stroke="#111" stroke-width="0.9" />
<rect x="41.5" y="472.5" width="6.8" height="6.9" fill="url(#graypat)" stroke="#111" stroke-width="1.1"/>
<rect x="52.0" y="454.9" width="6.6" height="24.5" fill="#111" stroke="#111" stroke-width="1.1"/>
<line x1="64.10" y1="437.26" x2="64.10" y2="434.32" stroke="#111" stroke-width="0.9" />
<line x1="62.10" y1="434.32" x2="66.10" y2="434.32" stroke="#111" stroke-width="0.9" />
<rect x="60.7" y="437.3" width="6.8" height="42.1" fill="#fff" stroke="#111" stroke-width="1.1"/>
<polygon points="64.10,427.42 64.74,429.14 66.57,429.22 65.14,430.36 65.63,432.12 64.10,431.11 62.57,432.12 63.06,430.36 61.63,429.22 63.46,429.14" fill="#333"/>
<line x1="72.80" y1="445.10" x2="72.80" y2="444.12" stroke="#111" stroke-width="0.9" />
<line x1="70.80" y1="444.12" x2="74.80" y2="444.12" stroke="#111" stroke-width="0.9" />
<rect x="69.5" y="445.1" width="6.6" height="34.3" fill="url(#graypat)" stroke="#111" stroke-width="1.1"/>
<polygon points="72.80,437.22 73.44,438.94 75.27,439.02 73.84,440.16 74.33,441.92 72.80,440.91 71.27,441.92 71.76,440.16 70.33,439.02 72.16,438.94" fill="#333"/>
<rect x="79.9" y="447.1" width="6.8" height="32.3" fill="#111" stroke="#111" stroke-width="1.1"/>
<line x1="91.95" y1="425.99" x2="91.95" y2="418.64" stroke="#111" stroke-width="0.9" />
<line x1="89.95" y1="418.64" x2="93.95" y2="418.64" stroke="#111" stroke-width="0.9" />
<rect x="88.5" y="426.0" width="6.9" height="53.4" fill="#fff" stroke="#111" stroke-width="1.1"/>
<polygon points="91.95,411.74 92.59,413.46 94.42,413.54 92.99,414.68 93.48,416.44 91.95,415.43 90.42,416.44 90.91,414.68 89.48,413.54 91.31,413.46" fill="#333"/>
<line x1="100.70" y1="437.75" x2="100.70" y2="435.30" stroke="#111" stroke-width="0.9" />
<line x1="98.70" y1="435.30" x2="102.70" y2="435.30" stroke="#111" stroke-width="0.9" />
<rect x="97.3" y="437.8" width="6.8" height="41.6" fill="url(#graypat)" stroke="#111" stroke-width="1.1"/>
<polygon points="100.70,428.40 101.34,430.12 103.17,430.20 101.74,431.34 102.23,433.10 100.70,432.09 99.17,433.10 99.66,431.34 98.23,430.20 100.06,430.12" fill="#333"/>
<line x1="111.00" y1="463.23" x2="111.00" y2="451.96" stroke="#111" stroke-width="0.9" />
<line x1="109.00" y1="451.96" x2="113.00" y2="451.96" stroke="#111" stroke-width="0.9" />
<rect x="107.6" y="463.2" width="6.8" height="16.2" fill="#111" stroke="#111" stroke-width="1.1"/>
<line x1="119.80" y1="458.82" x2="119.80" y2="451.47" stroke="#111" stroke-width="0.9" />
<line x1="117.80" y1="451.47" x2="121.80" y2="451.47" stroke="#111" stroke-width="0.9" />
<rect x="116.3" y="458.8" width="7.0" height="20.6" fill="#fff" stroke="#111" stroke-width="1.1"/>
<line x1="128.30" y1="468.13" x2="128.30" y2="465.19" stroke="#111" stroke-width="0.9" />
<line x1="126.30" y1="465.19" x2="130.30" y2="465.19" stroke="#111" stroke-width="0.9" />
<rect x="125.0" y="468.1" width="6.6" height="11.3" fill="url(#graypat)" stroke="#111" stroke-width="1.1"/>
<line x1="21.90" y1="405.40" x2="21.90" y2="479.40" stroke="#111" stroke-width="1.0" />
<line x1="21.90" y1="479.40" x2="134.00" y2="479.40" stroke="#111" stroke-width="1.0" />
<line x1="19.20" y1="479.40" x2="21.90" y2="479.40" stroke="#111" stroke-width="0.9" />
<text x="18.9" y="481.9" font-family="'Liberation Serif', serif" font-size="7.0" font-weight="bold" fill="#111" text-anchor="end" stroke="#111" stroke-width="0.2">0</text>
<line x1="19.20" y1="454.90" x2="21.90" y2="454.90" stroke="#111" stroke-width="0.9" />
<text x="18.9" y="457.4" font-family="'Liberation Serif', serif" font-size="7.0" font-weight="bold" fill="#111" text-anchor="end" stroke="#111" stroke-width="0.2">5</text>
<line x1="19.20" y1="430.40" x2="21.90" y2="430.40" stroke="#111" stroke-width="0.9" />
<text x="18.9" y="432.9" font-family="'Liberation Serif', serif" font-size="7.0" font-weight="bold" fill="#111" text-anchor="end" stroke="#111" stroke-width="0.2">10</text>
<line x1="19.20" y1="405.90" x2="21.90" y2="405.90" stroke="#111" stroke-width="0.9" />
<text x="18.9" y="408.4" font-family="'Liberation Serif', serif" font-size="7.0" font-weight="bold" fill="#111" text-anchor="end" stroke="#111" stroke-width="0.2">15</text>
<line x1="36.50" y1="479.40" x2="36.50" y2="481.40" stroke="#111" stroke-width="0.9" />
<text x="39.3" y="489.3" font-family="'Liberation Serif', serif" font-size="7.3" font-weight="bold" fill="#111" text-anchor="end" stroke="#111" stroke-width="0.2" transform="rotate(-45 39.3 489.3)">Early apoptosis</text>
<line x1="64.20" y1="479.40" x2="64.20" y2="481.40" stroke="#111" stroke-width="0.9" />
<text x="67.8" y="489.3" font-family="'Liberation Serif', serif" font-size="7.3" font-weight="bold" fill="#111" text-anchor="end" stroke="#111" stroke-width="0.2" transform="rotate(-45 67.8 489.3)">Late apoptosis</text>
<line x1="92.00" y1="479.40" x2="92.00" y2="481.40" stroke="#111" stroke-width="0.9" />
<text x="95.3" y="489.3" font-family="'Liberation Serif', serif" font-size="7.3" font-weight="bold" fill="#111" text-anchor="end" stroke="#111" stroke-width="0.2" transform="rotate(-45 95.3 489.3)">Total apoptosis</text>
<line x1="119.10" y1="479.40" x2="119.10" y2="481.40" stroke="#111" stroke-width="0.9" />
<text x="123.8" y="489.3" font-family="'Liberation Serif', serif" font-size="7.3" font-weight="bold" fill="#111" text-anchor="end" stroke="#111" stroke-width="0.2" transform="rotate(-45 123.8 489.3)">Necrosis</text>
<text x="7.5" y="441.3" font-family="'Liberation Serif', serif" font-size="7.0" font-weight="bold" fill="#111" text-anchor="middle" stroke="#111" stroke-width="0.2" transform="rotate(-90 7.5 441.3)">Percentage of the cells(%)</text>
<rect x="140.7" y="408.2" width="9.4" height="6.0" fill="#111" stroke="#111" stroke-width="1"/>
<text x="153.6" y="413.7" font-family="'Liberation Serif', serif" font-size="7.1" font-weight="bold" fill="#111" text-anchor="start" stroke="#111" stroke-width="0.15">Control</text>
<rect x="140.7" y="417.2" width="9.4" height="6.0" fill="#fff" stroke="#111" stroke-width="1"/>
<text x="153.6" y="422.7" font-family="'Liberation Serif', serif" font-size="7.1" font-weight="bold" fill="#111" text-anchor="start" stroke="#111" stroke-width="0.15">miR-let-7b</text>
<rect x="140.7" y="426.2" width="9.4" height="6.0" fill="url(#graypat)" stroke="#111" stroke-width="1"/>
<text x="153.6" y="431.7" font-family="'Liberation Serif', serif" font-size="7.1" font-weight="bold" fill="#111" text-anchor="start" stroke="#111" stroke-width="0.15">miR-let-7c</text>
<text x="201.5" y="395.3" font-family="'Liberation Serif', serif" font-size="20.5" font-weight="bold" fill="#111" text-anchor="start" stroke="#111" stroke-width="0.45">D</text>
<text x="269.5" y="395.8" font-family="'Liberation Serif', serif" font-size="6.6" font-weight="bold" fill="#111" text-anchor="middle" stroke="#111" stroke-width="0.2">GAK</text>
<line x1="229.60" y1="472.96" x2="229.60" y2="471.85" stroke="#111" stroke-width="0.9" />
<line x1="227.60" y1="471.85" x2="231.60" y2="471.85" stroke="#111" stroke-width="0.9" />
<rect x="226.1" y="473.0" width="7.0" height="6.6" fill="#111" stroke="#111" stroke-width="1.1"/>
<line x1="238.30" y1="475.54" x2="238.30" y2="474.80" stroke="#111" stroke-width="0.9" />
<line x1="236.30" y1="474.80" x2="240.30" y2="474.80" stroke="#111" stroke-width="0.9" />
<rect x="235.0" y="475.5" width="6.6" height="4.1" fill="#fff" stroke="#111" stroke-width="1.1"/>
<polygon points="238.30,467.90 238.94,469.62 240.77,469.70 239.34,470.84 239.83,472.61 238.30,471.59 236.77,472.61 237.26,470.84 235.83,469.70 237.66,469.62" fill="#333"/>
<rect x="243.4" y="474.1" width="7.0" height="5.5" fill="url(#graypat)" stroke="#111" stroke-width="1.1"/>
<line x1="257.80" y1="442.70" x2="257.80" y2="434.58" stroke="#111" stroke-width="0.9" />
<line x1="255.80" y1="434.58" x2="259.80" y2="434.58" stroke="#111" stroke-width="0.9" />
<rect x="254.3" y="442.7" width="7.0" height="36.9" fill="#111" stroke="#111" stroke-width="1.1"/>
<line x1="266.70" y1="427.57" x2="266.70" y2="426.83" stroke="#111" stroke-width="0.9" />
<line x1="264.70" y1="426.83" x2="268.70" y2="426.83" stroke="#111" stroke-width="0.9" />
<rect x="263.3" y="427.6" width="6.8" height="52.0" fill="#fff" stroke="#111" stroke-width="1.1"/>
<polygon points="266.70,419.93 267.34,421.65 269.17,421.73 267.74,422.87 268.23,424.64 266.70,423.62 265.17,424.64 265.66,422.87 264.23,421.73 266.06,421.65" fill="#333"/>
<line x1="275.00" y1="448.97" x2="275.00" y2="445.65" stroke="#111" stroke-width="0.9" />
<line x1="273.00" y1="445.65" x2="277.00" y2="445.65" stroke="#111" stroke-width="0.9" />
<rect x="271.5" y="449.0" width="7.0" height="30.6" fill="url(#graypat)" stroke="#111" stroke-width="1.1"/>
<line x1="285.50" y1="436.43" x2="285.50" y2="427.94" stroke="#111" stroke-width="0.9" />
<line x1="283.50" y1="427.94" x2="287.50" y2="427.94" stroke="#111" stroke-width="0.9" />
<rect x="282.0" y="436.4" width="7.0" height="43.2" fill="#111" stroke="#111" stroke-width="1.1"/>
<rect x="290.6" y="424.2" width="7.0" height="55.4" fill="#fff" stroke="#111" stroke-width="1.1"/>
<polygon points="294.10,417.35 294.74,419.07 296.57,419.15 295.14,420.29 295.63,422.05 294.10,421.04 292.57,422.05 293.06,420.29 291.63,419.15 293.46,419.07" fill="#333"/>
<line x1="302.70" y1="444.18" x2="302.70" y2="440.49" stroke="#111" stroke-width="0.9" />
<line x1="300.70" y1="440.49" x2="304.70" y2="440.49" stroke="#111" stroke-width="0.9" />
<rect x="299.2" y="444.2" width="7.0" height="35.4" fill="url(#graypat)" stroke="#111" stroke-width="1.1"/>
<line x1="313.40" y1="472.22" x2="313.40" y2="461.89" stroke="#111" stroke-width="0.9" />
<line x1="311.40" y1="461.89" x2="315.40" y2="461.89" stroke="#111" stroke-width="0.9" />
<rect x="310.0" y="472.2" width="6.8" height="7.4" fill="#111" stroke="#111" stroke-width="1.1"/>
<line x1="322.10" y1="462.26" x2="322.10" y2="448.97" stroke="#111" stroke-width="0.9" />
<line x1="320.10" y1="448.97" x2="324.10" y2="448.97" stroke="#111" stroke-width="0.9" />
<rect x="318.6" y="462.3" width="7.0" height="17.3" fill="#fff" stroke="#111" stroke-width="1.1"/>
<line x1="330.60" y1="471.11" x2="330.60" y2="464.47" stroke="#111" stroke-width="0.9" />
<line x1="328.60" y1="464.47" x2="332.60" y2="464.47" stroke="#111" stroke-width="0.9" />
<rect x="327.2" y="471.1" width="6.8" height="8.5" fill="url(#graypat)" stroke="#111" stroke-width="1.1"/>
<line x1="223.60" y1="405.30" x2="223.60" y2="479.60" stroke="#111" stroke-width="1.0" />
<line x1="223.60" y1="479.60" x2="336.30" y2="479.60" stroke="#111" stroke-width="1.0" />
<line x1="220.90" y1="479.60" x2="223.60" y2="479.60" stroke="#111" stroke-width="0.9" />
<text x="220.6" y="482.1" font-family="'Liberation Serif', serif" font-size="7.0" font-weight="bold" fill="#111" text-anchor="end" stroke="#111" stroke-width="0.2">0</text>
<line x1="220.90" y1="461.15" x2="223.60" y2="461.15" stroke="#111" stroke-width="0.9" />
<text x="220.6" y="463.7" font-family="'Liberation Serif', serif" font-size="7.0" font-weight="bold" fill="#111" text-anchor="end" stroke="#111" stroke-width="0.2">5</text>
<line x1="220.90" y1="442.70" x2="223.60" y2="442.70" stroke="#111" stroke-width="0.9" />
<text x="220.6" y="445.2" font-family="'Liberation Serif', serif" font-size="7.0" font-weight="bold" fill="#111" text-anchor="end" stroke="#111" stroke-width="0.2">10</text>
<line x1="220.90" y1="424.25" x2="223.60" y2="424.25" stroke="#111" stroke-width="0.9" />
<text x="220.6" y="426.8" font-family="'Liberation Serif', serif" font-size="7.0" font-weight="bold" fill="#111" text-anchor="end" stroke="#111" stroke-width="0.2">15</text>
<line x1="220.90" y1="405.80" x2="223.60" y2="405.80" stroke="#111" stroke-width="0.9" />
<text x="220.6" y="408.3" font-family="'Liberation Serif', serif" font-size="7.0" font-weight="bold" fill="#111" text-anchor="end" stroke="#111" stroke-width="0.2">20</text>
<line x1="238.20" y1="479.60" x2="238.20" y2="481.60" stroke="#111" stroke-width="0.9" />
<text x="242.3" y="489.3" font-family="'Liberation Serif', serif" font-size="7.3" font-weight="bold" fill="#111" text-anchor="end" stroke="#111" stroke-width="0.2" transform="rotate(-45 242.3 489.3)">Early apoptosis</text>
<line x1="266.50" y1="479.60" x2="266.50" y2="481.60" stroke="#111" stroke-width="0.9" />
<text x="269.8" y="489.3" font-family="'Liberation Serif', serif" font-size="7.3" font-weight="bold" fill="#111" text-anchor="end" stroke="#111" stroke-width="0.2" transform="rotate(-45 269.8 489.3)">Late apoptosis</text>
<line x1="294.00" y1="479.60" x2="294.00" y2="481.60" stroke="#111" stroke-width="0.9" />
<text x="297.3" y="489.3" font-family="'Liberation Serif', serif" font-size="7.3" font-weight="bold" fill="#111" text-anchor="end" stroke="#111" stroke-width="0.2" transform="rotate(-45 297.3 489.3)">Total apoptosis</text>
<line x1="322.00" y1="479.60" x2="322.00" y2="481.60" stroke="#111" stroke-width="0.9" />
<text x="325.3" y="489.3" font-family="'Liberation Serif', serif" font-size="7.3" font-weight="bold" fill="#111" text-anchor="end" stroke="#111" stroke-width="0.2" transform="rotate(-45 325.3 489.3)">Necrosis</text>
<text x="209.5" y="441.3" font-family="'Liberation Serif', serif" font-size="7.0" font-weight="bold" fill="#111" text-anchor="middle" stroke="#111" stroke-width="0.2" transform="rotate(-90 209.5 441.3)">Percentage of the cells(%)</text>
<rect x="343.0" y="408.2" width="9.2" height="6.0" fill="#111" stroke="#111" stroke-width="1"/>
<text x="355.7" y="413.7" font-family="'Liberation Serif', serif" font-size="7.1" font-weight="bold" fill="#111" text-anchor="start" stroke="#111" stroke-width="0.15">Control</text>
<rect x="343.0" y="417.2" width="9.2" height="6.0" fill="#fff" stroke="#111" stroke-width="1"/>
<text x="355.7" y="422.7" font-family="'Liberation Serif', serif" font-size="7.1" font-weight="bold" fill="#111" text-anchor="start" stroke="#111" stroke-width="0.15">miR-let-7b</text>
<rect x="343.0" y="426.2" width="9.2" height="6.0" fill="url(#graypat)" stroke="#111" stroke-width="1"/>
<text x="355.7" y="431.7" font-family="'Liberation Serif', serif" font-size="7.1" font-weight="bold" fill="#111" text-anchor="start" stroke="#111" stroke-width="0.15">miR-let-7c</text>
<text x="408.0" y="397.3" font-family="'Liberation Serif', serif" font-size="20.5" font-weight="bold" fill="#111" text-anchor="start" stroke="#111" stroke-width="0.45">G</text>
<text x="474.0" y="399.0" font-family="'Liberation Serif', serif" font-size="6.3" font-weight="bold" fill="#111" text-anchor="middle" stroke="#111" stroke-width="0.2">HMVII</text>
<line x1="434.30" y1="423.54" x2="434.30" y2="419.62" stroke="#111" stroke-width="0.9" />
<line x1="432.30" y1="419.62" x2="436.30" y2="419.62" stroke="#111" stroke-width="0.9" />
<rect x="430.0" y="423.5" width="8.6" height="55.8" fill="#111" stroke="#111" stroke-width="1.1"/>
<line x1="445.00" y1="417.44" x2="445.00" y2="412.65" stroke="#111" stroke-width="0.9" />
<line x1="443.00" y1="412.65" x2="447.00" y2="412.65" stroke="#111" stroke-width="0.9" />
<rect x="440.7" y="417.4" width="8.6" height="61.9" fill="#fff" stroke="#111" stroke-width="1.1"/>
<polygon points="445.00,405.75 445.64,407.47 447.47,407.55 446.04,408.69 446.53,410.45 445.00,409.44 443.47,410.45 443.96,408.69 442.53,407.55 444.36,407.47" fill="#333"/>
<line x1="455.70" y1="420.93" x2="455.70" y2="415.87" stroke="#111" stroke-width="0.9" />
<line x1="453.70" y1="415.87" x2="457.70" y2="415.87" stroke="#111" stroke-width="0.9" />
<rect x="451.6" y="420.9" width="8.2" height="58.4" fill="url(#graypat)" stroke="#111" stroke-width="1.1"/>
<polygon points="455.70,408.97 456.34,410.69 458.17,410.77 456.74,411.91 457.23,413.68 455.70,412.67 454.17,413.68 454.66,411.91 453.23,410.77 455.06,410.69" fill="#333"/>
<line x1="469.00" y1="470.59" x2="469.00" y2="468.41" stroke="#111" stroke-width="0.9" />
<line x1="467.00" y1="468.41" x2="471.00" y2="468.41" stroke="#111" stroke-width="0.9" />
<rect x="464.8" y="470.6" width="8.4" height="8.7" fill="#111" stroke="#111" stroke-width="1.1"/>
<line x1="479.70" y1="470.59" x2="479.70" y2="469.72" stroke="#111" stroke-width="0.9" />
<line x1="477.70" y1="469.72" x2="481.70" y2="469.72" stroke="#111" stroke-width="0.9" />
<rect x="475.5" y="470.6" width="8.4" height="8.7" fill="#fff" stroke="#111" stroke-width="1.1"/>
<line x1="490.55" y1="471.02" x2="490.55" y2="470.33" stroke="#111" stroke-width="0.9" />
<line x1="488.55" y1="470.33" x2="492.55" y2="470.33" stroke="#111" stroke-width="0.9" />
<rect x="486.4" y="471.0" width="8.3" height="8.3" fill="url(#graypat)" stroke="#111" stroke-width="1.1"/>
<line x1="503.90" y1="455.78" x2="503.90" y2="451.59" stroke="#111" stroke-width="0.9" />
<line x1="501.90" y1="451.59" x2="505.90" y2="451.59" stroke="#111" stroke-width="0.9" />
<rect x="499.8" y="455.8" width="8.2" height="23.5" fill="#111" stroke="#111" stroke-width="1.1"/>
<line x1="514.70" y1="461.88" x2="514.70" y2="457.08" stroke="#111" stroke-width="0.9" />
<line x1="512.70" y1="457.08" x2="516.70" y2="457.08" stroke="#111" stroke-width="0.9" />
<rect x="510.5" y="461.9" width="8.4" height="17.4" fill="#fff" stroke="#111" stroke-width="1.1"/>
<polygon points="514.70,450.18 515.34,451.90 517.17,451.98 515.74,453.12 516.23,454.89 514.70,453.88 513.17,454.89 513.66,453.12 512.23,451.98 514.06,451.90" fill="#333"/>
<line x1="525.40" y1="458.83" x2="525.40" y2="452.73" stroke="#111" stroke-width="0.9" />
<line x1="523.40" y1="452.73" x2="527.40" y2="452.73" stroke="#111" stroke-width="0.9" />
<rect x="521.1" y="458.8" width="8.6" height="20.5" fill="url(#graypat)" stroke="#111" stroke-width="1.1"/>
<polygon points="525.40,445.83 526.04,447.54 527.87,447.62 526.44,448.76 526.93,450.53 525.40,449.52 523.87,450.53 524.36,448.76 522.93,447.62 524.76,447.54" fill="#333"/>
<line x1="427.00" y1="409.10" x2="427.00" y2="479.30" stroke="#111" stroke-width="1.0" />
<line x1="427.00" y1="479.30" x2="533.00" y2="479.30" stroke="#111" stroke-width="1.0" />
<line x1="424.30" y1="479.30" x2="427.00" y2="479.30" stroke="#111" stroke-width="0.9" />
<text x="424.0" y="481.8" font-family="'Liberation Serif', serif" font-size="6.5" font-weight="bold" fill="#111" text-anchor="end" stroke="#111" stroke-width="0.2">0</text>
<line x1="424.30" y1="461.88" x2="427.00" y2="461.88" stroke="#111" stroke-width="0.9" />
<text x="424.0" y="464.4" font-family="'Liberation Serif', serif" font-size="6.5" font-weight="bold" fill="#111" text-anchor="end" stroke="#111" stroke-width="0.2">20</text>
<line x1="424.30" y1="444.45" x2="427.00" y2="444.45" stroke="#111" stroke-width="0.9" />
<text x="424.0" y="447.0" font-family="'Liberation Serif', serif" font-size="6.5" font-weight="bold" fill="#111" text-anchor="end" stroke="#111" stroke-width="0.2">40</text>
<line x1="424.30" y1="427.03" x2="427.00" y2="427.03" stroke="#111" stroke-width="0.9" />
<text x="424.0" y="429.5" font-family="'Liberation Serif', serif" font-size="6.5" font-weight="bold" fill="#111" text-anchor="end" stroke="#111" stroke-width="0.2">60</text>
<line x1="424.30" y1="409.60" x2="427.00" y2="409.60" stroke="#111" stroke-width="0.9" />
<text x="424.0" y="412.1" font-family="'Liberation Serif', serif" font-size="6.5" font-weight="bold" fill="#111" text-anchor="end" stroke="#111" stroke-width="0.2">80</text>
<line x1="445.10" y1="479.30" x2="445.10" y2="481.30" stroke="#111" stroke-width="0.9" />
<text x="447.7" y="487.8" font-family="'Liberation Serif', serif" font-size="6.5" font-weight="bold" fill="#111" text-anchor="end" stroke="#111" stroke-width="0.2" transform="rotate(-45 447.7 487.8)">G1</text>
<line x1="479.90" y1="479.30" x2="479.90" y2="481.30" stroke="#111" stroke-width="0.9" />
<text x="482.7" y="487.8" font-family="'Liberation Serif', serif" font-size="6.5" font-weight="bold" fill="#111" text-anchor="end" stroke="#111" stroke-width="0.2" transform="rotate(-45 482.7 487.8)">G2/M</text>
<line x1="515.00" y1="479.30" x2="515.00" y2="481.30" stroke="#111" stroke-width="0.9" />
<text x="517.2" y="487.8" font-family="'Liberation Serif', serif" font-size="6.5" font-weight="bold" fill="#111" text-anchor="end" stroke="#111" stroke-width="0.2" transform="rotate(-45 517.2 487.8)">S</text>
<text x="415.5" y="443.1" font-family="'Liberation Serif', serif" font-size="6.8" font-weight="bold" fill="#111" text-anchor="middle" stroke="#111" stroke-width="0.2" transform="rotate(-90 415.5 443.1)">Percentage(%)</text>
<rect x="540.0" y="412.0" width="8.2" height="4.9" fill="#111" stroke="#111" stroke-width="1"/>
<text x="551.7" y="416.4" font-family="'Liberation Serif', serif" font-size="6.6" font-weight="bold" fill="#111" text-anchor="start" stroke="#111" stroke-width="0.15">Control</text>
<rect x="540.0" y="420.3" width="8.2" height="4.9" fill="#fff" stroke="#111" stroke-width="1"/>
<text x="551.7" y="424.7" font-family="'Liberation Serif', serif" font-size="6.6" font-weight="bold" fill="#111" text-anchor="start" stroke="#111" stroke-width="0.15">miR-let-7b</text>
<rect x="540.0" y="428.6" width="8.2" height="4.9" fill="url(#graypat)" stroke="#111" stroke-width="1"/>
<text x="551.7" y="433.0" font-family="'Liberation Serif', serif" font-size="6.6" font-weight="bold" fill="#111" text-anchor="start" stroke="#111" stroke-width="0.15">miR-let-7c</text>
<text x="602.5" y="396.8" font-family="'Liberation Serif', serif" font-size="20.5" font-weight="bold" fill="#111" text-anchor="start" stroke="#111" stroke-width="0.45">H</text>
<text x="669.3" y="400.2" font-family="'Liberation Serif', serif" font-size="6.3" font-weight="bold" fill="#111" text-anchor="middle" stroke="#111" stroke-width="0.2">GAK</text>
<rect x="624.4" y="425.3" width="8.6" height="55.0" fill="#111" stroke="#111" stroke-width="1.1"/>
<line x1="639.40" y1="421.84" x2="639.40" y2="420.53" stroke="#111" stroke-width="0.9" />
<line x1="637.40" y1="420.53" x2="641.40" y2="420.53" stroke="#111" stroke-width="0.9" />
<rect x="635.3" y="421.8" width="8.2" height="58.5" fill="#fff" stroke="#111" stroke-width="1.1"/>
<polygon points="639.40,413.63 640.04,415.35 641.87,415.43 640.44,416.57 640.93,418.34 639.40,417.33 637.87,418.34 638.36,416.57 636.93,415.43 638.76,415.35" fill="#333"/>
<line x1="650.30" y1="420.97" x2="650.30" y2="419.23" stroke="#111" stroke-width="0.9" />
<line x1="648.30" y1="419.23" x2="652.30" y2="419.23" stroke="#111" stroke-width="0.9" />
<rect x="646.0" y="421.0" width="8.6" height="59.3" fill="url(#graypat)" stroke="#111" stroke-width="1.1"/>
<polygon points="650.30,412.32 650.94,414.04 652.77,414.12 651.34,415.26 651.83,417.03 650.30,416.02 648.77,417.03 649.26,415.26 647.83,414.12 649.66,414.04" fill="#333"/>
<line x1="663.60" y1="474.19" x2="663.60" y2="472.88" stroke="#111" stroke-width="0.9" />
<line x1="661.60" y1="472.88" x2="665.60" y2="472.88" stroke="#111" stroke-width="0.9" />
<rect x="659.4" y="474.2" width="8.4" height="6.1" fill="#111" stroke="#111" stroke-width="1.1"/>
<line x1="674.50" y1="472.45" x2="674.50" y2="469.39" stroke="#111" stroke-width="0.9" />
<line x1="672.50" y1="469.39" x2="676.50" y2="469.39" stroke="#111" stroke-width="0.9" />
<rect x="670.5" y="472.4" width="8.0" height="7.9" fill="#fff" stroke="#111" stroke-width="1.1"/>
<line x1="685.50" y1="471.57" x2="685.50" y2="468.52" stroke="#111" stroke-width="0.9" />
<line x1="683.50" y1="468.52" x2="687.50" y2="468.52" stroke="#111" stroke-width="0.9" />
<rect x="681.5" y="471.6" width="8.0" height="8.7" fill="url(#graypat)" stroke="#111" stroke-width="1.1"/>
<line x1="699.00" y1="454.12" x2="699.00" y2="452.82" stroke="#111" stroke-width="0.9" />
<line x1="697.00" y1="452.82" x2="701.00" y2="452.82" stroke="#111" stroke-width="0.9" />
<rect x="694.8" y="454.1" width="8.4" height="26.2" fill="#111" stroke="#111" stroke-width="1.1"/>
<line x1="709.30" y1="459.36" x2="709.30" y2="455.87" stroke="#111" stroke-width="0.9" />
<line x1="707.30" y1="455.87" x2="711.30" y2="455.87" stroke="#111" stroke-width="0.9" />
<rect x="705.3" y="459.4" width="8.0" height="20.9" fill="#fff" stroke="#111" stroke-width="1.1"/>
<polygon points="709.30,448.97 709.94,450.69 711.77,450.77 710.34,451.91 710.83,453.67 709.30,452.66 707.77,453.67 708.26,451.91 706.83,450.77 708.66,450.69" fill="#333"/>
<line x1="720.20" y1="461.98" x2="720.20" y2="458.05" stroke="#111" stroke-width="0.9" />
<line x1="718.20" y1="458.05" x2="722.20" y2="458.05" stroke="#111" stroke-width="0.9" />
<rect x="716.2" y="462.0" width="8.0" height="18.3" fill="url(#graypat)" stroke="#111" stroke-width="1.1"/>
<polygon points="720.20,451.15 720.84,452.87 722.67,452.95 721.24,454.09 721.73,455.85 720.20,454.84 718.67,455.85 719.16,454.09 717.73,452.95 719.56,452.87" fill="#333"/>
<line x1="621.50" y1="410.00" x2="621.50" y2="480.30" stroke="#111" stroke-width="1.0" />
<line x1="621.50" y1="480.30" x2="727.40" y2="480.30" stroke="#111" stroke-width="1.0" />
<line x1="618.80" y1="480.30" x2="621.50" y2="480.30" stroke="#111" stroke-width="0.9" />
<text x="618.5" y="482.8" font-family="'Liberation Serif', serif" font-size="6.5" font-weight="bold" fill="#111" text-anchor="end" stroke="#111" stroke-width="0.2">0</text>
<line x1="618.80" y1="462.85" x2="621.50" y2="462.85" stroke="#111" stroke-width="0.9" />
<text x="618.5" y="465.4" font-family="'Liberation Serif', serif" font-size="6.5" font-weight="bold" fill="#111" text-anchor="end" stroke="#111" stroke-width="0.2">20</text>
<line x1="618.80" y1="445.40" x2="621.50" y2="445.40" stroke="#111" stroke-width="0.9" />
<text x="618.5" y="447.9" font-family="'Liberation Serif', serif" font-size="6.5" font-weight="bold" fill="#111" text-anchor="end" stroke="#111" stroke-width="0.2">40</text>
<line x1="618.80" y1="427.95" x2="621.50" y2="427.95" stroke="#111" stroke-width="0.9" />
<text x="618.5" y="430.4" font-family="'Liberation Serif', serif" font-size="6.5" font-weight="bold" fill="#111" text-anchor="end" stroke="#111" stroke-width="0.2">60</text>
<line x1="618.80" y1="410.50" x2="621.50" y2="410.50" stroke="#111" stroke-width="0.9" />
<text x="618.5" y="413.0" font-family="'Liberation Serif', serif" font-size="6.5" font-weight="bold" fill="#111" text-anchor="end" stroke="#111" stroke-width="0.2">80</text>
<line x1="639.30" y1="480.30" x2="639.30" y2="482.30" stroke="#111" stroke-width="0.9" />
<text x="641.7" y="488.3" font-family="'Liberation Serif', serif" font-size="6.5" font-weight="bold" fill="#111" text-anchor="end" stroke="#111" stroke-width="0.2" transform="rotate(-45 641.7 488.3)">G1</text>
<line x1="674.40" y1="480.30" x2="674.40" y2="482.30" stroke="#111" stroke-width="0.9" />
<text x="677.2" y="488.3" font-family="'Liberation Serif', serif" font-size="6.5" font-weight="bold" fill="#111" text-anchor="end" stroke="#111" stroke-width="0.2" transform="rotate(-45 677.2 488.3)">G2/M</text>
<line x1="709.20" y1="480.30" x2="709.20" y2="482.30" stroke="#111" stroke-width="0.9" />
<text x="711.2" y="488.3" font-family="'Liberation Serif', serif" font-size="6.5" font-weight="bold" fill="#111" text-anchor="end" stroke="#111" stroke-width="0.2" transform="rotate(-45 711.2 488.3)">S</text>
<text x="609.0" y="443.6" font-family="'Liberation Serif', serif" font-size="6.8" font-weight="bold" fill="#111" text-anchor="middle" stroke="#111" stroke-width="0.2" transform="rotate(-90 609.0 443.6)">Percentage(%)</text>
<rect x="734.4" y="412.6" width="8.6" height="5.1" fill="#111" stroke="#111" stroke-width="1"/>
<text x="746.5" y="417.2" font-family="'Liberation Serif', serif" font-size="6.6" font-weight="bold" fill="#111" text-anchor="start" stroke="#111" stroke-width="0.15">Control</text>
<rect x="734.4" y="421.0" width="8.6" height="5.1" fill="#fff" stroke="#111" stroke-width="1"/>
<text x="746.5" y="425.6" font-family="'Liberation Serif', serif" font-size="6.6" font-weight="bold" fill="#111" text-anchor="start" stroke="#111" stroke-width="0.15">miR-let-7b</text>
<rect x="734.4" y="429.4" width="8.6" height="5.1" fill="url(#graypat)" stroke="#111" stroke-width="1"/>
<text x="746.5" y="434.0" font-family="'Liberation Serif', serif" font-size="6.6" font-weight="bold" fill="#111" text-anchor="start" stroke="#111" stroke-width="0.15">miR-let-7c</text>
</svg>
</body></html>
